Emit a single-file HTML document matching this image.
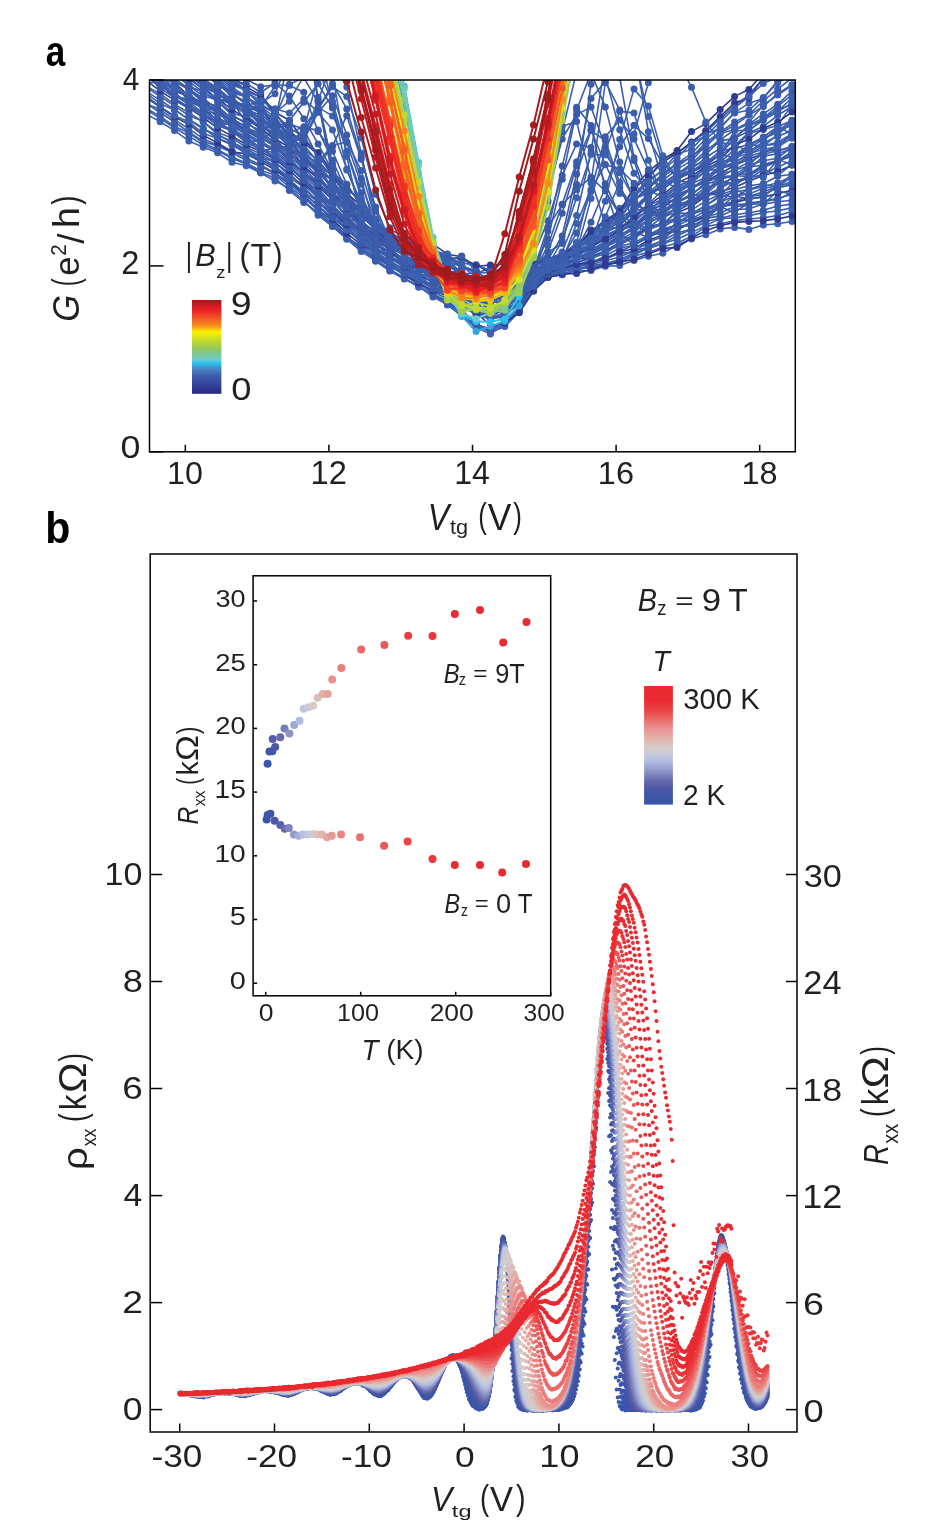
<!DOCTYPE html><html><head><meta charset="utf-8"><style>html,body{margin:0;padding:0;background:#fff}body{width:950px;height:1521px;overflow:hidden}svg{display:block;will-change:transform}text{font-family:"Liberation Sans",sans-serif}</style></head><body><svg width="950" height="1521" viewBox="0 0 950 1521"><rect width="950" height="1521" fill="#fff"/><defs><linearGradient id="gjet" x1="0" y1="1" x2="0" y2="0"><stop offset="0.0" stop-color="#262a7f"/><stop offset="0.1" stop-color="#35449b"/><stop offset="0.18" stop-color="#3b5aa8"/><stop offset="0.26" stop-color="#4b7fc0"/><stop offset="0.33" stop-color="#27c4f3"/><stop offset="0.36" stop-color="#6ccbd0"/><stop offset="0.42" stop-color="#7ac79b"/><stop offset="0.48" stop-color="#93c85a"/><stop offset="0.56" stop-color="#bfd730"/><stop offset="0.66" stop-color="#fff200"/><stop offset="0.72" stop-color="#f7941d"/><stop offset="0.8" stop-color="#f15a24"/><stop offset="0.9" stop-color="#ed1c24"/><stop offset="1.0" stop-color="#9b1b1e"/></linearGradient><linearGradient id="gcw" x1="0" y1="1" x2="0" y2="0"><stop offset="0.0" stop-color="#3a56aa"/><stop offset="0.08" stop-color="#3e56a8"/><stop offset="0.14" stop-color="#5058a6"/><stop offset="0.2" stop-color="#6468ad"/><stop offset="0.28" stop-color="#8e94c7"/><stop offset="0.36" stop-color="#aebbe2"/><stop offset="0.42" stop-color="#c6cadb"/><stop offset="0.48" stop-color="#d6cbc8"/><stop offset="0.56" stop-color="#e2b0a8"/><stop offset="0.64" stop-color="#e99290"/><stop offset="0.72" stop-color="#eb6a68"/><stop offset="0.8" stop-color="#ea4044"/><stop offset="0.88" stop-color="#e92a30"/><stop offset="1.0" stop-color="#e92a30"/></linearGradient><marker id="m0" markerUnits="userSpaceOnUse" markerWidth="72" markerHeight="72" refX="36.0" refY="36.0" overflow="visible"><circle cx="36.0" cy="36.0" r="35.0" fill="#3c60b0"/></marker><marker id="m1" markerUnits="userSpaceOnUse" markerWidth="72" markerHeight="72" refX="36.0" refY="36.0" overflow="visible"><circle cx="36.0" cy="36.0" r="35.0" fill="#3a5ba9"/></marker><marker id="m2" markerUnits="userSpaceOnUse" markerWidth="72" markerHeight="72" refX="36.0" refY="36.0" overflow="visible"><circle cx="36.0" cy="36.0" r="35.0" fill="#2e3b91"/></marker><marker id="m3" markerUnits="userSpaceOnUse" markerWidth="72" markerHeight="72" refX="36.0" refY="36.0" overflow="visible"><circle cx="36.0" cy="36.0" r="35.0" fill="#36a6dd"/></marker><marker id="m4" markerUnits="userSpaceOnUse" markerWidth="72" markerHeight="72" refX="36.0" refY="36.0" overflow="visible"><circle cx="36.0" cy="36.0" r="35.0" fill="#27c4f3"/></marker><marker id="m5" markerUnits="userSpaceOnUse" markerWidth="72" markerHeight="72" refX="36.0" refY="36.0" overflow="visible"><circle cx="36.0" cy="36.0" r="35.0" fill="#6acbd1"/></marker><marker id="m6" markerUnits="userSpaceOnUse" markerWidth="72" markerHeight="72" refX="36.0" refY="36.0" overflow="visible"><circle cx="36.0" cy="36.0" r="35.0" fill="#73c9b7"/></marker><marker id="m7" markerUnits="userSpaceOnUse" markerWidth="72" markerHeight="72" refX="36.0" refY="36.0" overflow="visible"><circle cx="36.0" cy="36.0" r="35.0" fill="#7ac79c"/></marker><marker id="m8" markerUnits="userSpaceOnUse" markerWidth="72" markerHeight="72" refX="36.0" refY="36.0" overflow="visible"><circle cx="36.0" cy="36.0" r="35.0" fill="#86c77d"/></marker><marker id="m9" markerUnits="userSpaceOnUse" markerWidth="72" markerHeight="72" refX="36.0" refY="36.0" overflow="visible"><circle cx="36.0" cy="36.0" r="35.0" fill="#92c85d"/></marker><marker id="m10" markerUnits="userSpaceOnUse" markerWidth="72" markerHeight="72" refX="36.0" refY="36.0" overflow="visible"><circle cx="36.0" cy="36.0" r="35.0" fill="#a2cd4c"/></marker><marker id="m11" markerUnits="userSpaceOnUse" markerWidth="72" markerHeight="72" refX="36.0" refY="36.0" overflow="visible"><circle cx="36.0" cy="36.0" r="35.0" fill="#b2d33c"/></marker><marker id="m12" markerUnits="userSpaceOnUse" markerWidth="72" markerHeight="72" refX="36.0" refY="36.0" overflow="visible"><circle cx="36.0" cy="36.0" r="35.0" fill="#c3d92d"/></marker><marker id="m13" markerUnits="userSpaceOnUse" markerWidth="72" markerHeight="72" refX="36.0" refY="36.0" overflow="visible"><circle cx="36.0" cy="36.0" r="35.0" fill="#d6e11f"/></marker><marker id="m14" markerUnits="userSpaceOnUse" markerWidth="72" markerHeight="72" refX="36.0" refY="36.0" overflow="visible"><circle cx="36.0" cy="36.0" r="35.0" fill="#e9e910"/></marker><marker id="m15" markerUnits="userSpaceOnUse" markerWidth="72" markerHeight="72" refX="36.0" refY="36.0" overflow="visible"><circle cx="36.0" cy="36.0" r="35.0" fill="#fcf102"/></marker><marker id="m16" markerUnits="userSpaceOnUse" markerWidth="72" markerHeight="72" refX="36.0" refY="36.0" overflow="visible"><circle cx="36.0" cy="36.0" r="35.0" fill="#fccb0c"/></marker><marker id="m17" markerUnits="userSpaceOnUse" markerWidth="72" markerHeight="72" refX="36.0" refY="36.0" overflow="visible"><circle cx="36.0" cy="36.0" r="35.0" fill="#fab513"/></marker><marker id="m18" markerUnits="userSpaceOnUse" markerWidth="72" markerHeight="72" refX="36.0" refY="36.0" overflow="visible"><circle cx="36.0" cy="36.0" r="35.0" fill="#f9a717"/></marker><marker id="m19" markerUnits="userSpaceOnUse" markerWidth="72" markerHeight="72" refX="36.0" refY="36.0" overflow="visible"><circle cx="36.0" cy="36.0" r="35.0" fill="#f89a1b"/></marker><marker id="m20" markerUnits="userSpaceOnUse" markerWidth="72" markerHeight="72" refX="36.0" refY="36.0" overflow="visible"><circle cx="36.0" cy="36.0" r="35.0" fill="#f7911d"/></marker><marker id="m21" markerUnits="userSpaceOnUse" markerWidth="72" markerHeight="72" refX="36.0" refY="36.0" overflow="visible"><circle cx="36.0" cy="36.0" r="35.0" fill="#f68a1e"/></marker><marker id="m22" markerUnits="userSpaceOnUse" markerWidth="72" markerHeight="72" refX="36.0" refY="36.0" overflow="visible"><circle cx="36.0" cy="36.0" r="35.0" fill="#f5841f"/></marker><marker id="m23" markerUnits="userSpaceOnUse" markerWidth="72" markerHeight="72" refX="36.0" refY="36.0" overflow="visible"><circle cx="36.0" cy="36.0" r="35.0" fill="#f57e20"/></marker><marker id="m24" markerUnits="userSpaceOnUse" markerWidth="72" markerHeight="72" refX="36.0" refY="36.0" overflow="visible"><circle cx="36.0" cy="36.0" r="35.0" fill="#f47820"/></marker><marker id="m25" markerUnits="userSpaceOnUse" markerWidth="72" markerHeight="72" refX="36.0" refY="36.0" overflow="visible"><circle cx="36.0" cy="36.0" r="35.0" fill="#f37121"/></marker><marker id="m26" markerUnits="userSpaceOnUse" markerWidth="72" markerHeight="72" refX="36.0" refY="36.0" overflow="visible"><circle cx="36.0" cy="36.0" r="35.0" fill="#f36b22"/></marker><marker id="m27" markerUnits="userSpaceOnUse" markerWidth="72" markerHeight="72" refX="36.0" refY="36.0" overflow="visible"><circle cx="36.0" cy="36.0" r="35.0" fill="#f26523"/></marker><marker id="m28" markerUnits="userSpaceOnUse" markerWidth="72" markerHeight="72" refX="36.0" refY="36.0" overflow="visible"><circle cx="36.0" cy="36.0" r="35.0" fill="#f15f23"/></marker><marker id="m29" markerUnits="userSpaceOnUse" markerWidth="72" markerHeight="72" refX="36.0" refY="36.0" overflow="visible"><circle cx="36.0" cy="36.0" r="35.0" fill="#f15924"/></marker><marker id="m30" markerUnits="userSpaceOnUse" markerWidth="72" markerHeight="72" refX="36.0" refY="36.0" overflow="visible"><circle cx="36.0" cy="36.0" r="35.0" fill="#f15324"/></marker><marker id="m31" markerUnits="userSpaceOnUse" markerWidth="72" markerHeight="72" refX="36.0" refY="36.0" overflow="visible"><circle cx="36.0" cy="36.0" r="35.0" fill="#f04e24"/></marker><marker id="m32" markerUnits="userSpaceOnUse" markerWidth="72" markerHeight="72" refX="36.0" refY="36.0" overflow="visible"><circle cx="36.0" cy="36.0" r="35.0" fill="#f04924"/></marker><marker id="m33" markerUnits="userSpaceOnUse" markerWidth="72" markerHeight="72" refX="36.0" refY="36.0" overflow="visible"><circle cx="36.0" cy="36.0" r="35.0" fill="#f04324"/></marker><marker id="m34" markerUnits="userSpaceOnUse" markerWidth="72" markerHeight="72" refX="36.0" refY="36.0" overflow="visible"><circle cx="36.0" cy="36.0" r="35.0" fill="#ef3e24"/></marker><marker id="m35" markerUnits="userSpaceOnUse" markerWidth="72" markerHeight="72" refX="36.0" refY="36.0" overflow="visible"><circle cx="36.0" cy="36.0" r="35.0" fill="#ef3924"/></marker><marker id="m36" markerUnits="userSpaceOnUse" markerWidth="72" markerHeight="72" refX="36.0" refY="36.0" overflow="visible"><circle cx="36.0" cy="36.0" r="35.0" fill="#ef3324"/></marker><marker id="m37" markerUnits="userSpaceOnUse" markerWidth="72" markerHeight="72" refX="36.0" refY="36.0" overflow="visible"><circle cx="36.0" cy="36.0" r="35.0" fill="#ee2e24"/></marker><marker id="m38" markerUnits="userSpaceOnUse" markerWidth="72" markerHeight="72" refX="36.0" refY="36.0" overflow="visible"><circle cx="36.0" cy="36.0" r="35.0" fill="#ee2924"/></marker><marker id="m39" markerUnits="userSpaceOnUse" markerWidth="72" markerHeight="72" refX="36.0" refY="36.0" overflow="visible"><circle cx="36.0" cy="36.0" r="35.0" fill="#ed2324"/></marker><marker id="m40" markerUnits="userSpaceOnUse" markerWidth="72" markerHeight="72" refX="36.0" refY="36.0" overflow="visible"><circle cx="36.0" cy="36.0" r="35.0" fill="#ed1e24"/></marker><marker id="m41" markerUnits="userSpaceOnUse" markerWidth="72" markerHeight="72" refX="36.0" refY="36.0" overflow="visible"><circle cx="36.0" cy="36.0" r="35.0" fill="#e91c24"/></marker><marker id="m42" markerUnits="userSpaceOnUse" markerWidth="72" markerHeight="72" refX="36.0" refY="36.0" overflow="visible"><circle cx="36.0" cy="36.0" r="35.0" fill="#e21c23"/></marker><marker id="m43" markerUnits="userSpaceOnUse" markerWidth="72" markerHeight="72" refX="36.0" refY="36.0" overflow="visible"><circle cx="36.0" cy="36.0" r="35.0" fill="#da1c23"/></marker><marker id="m44" markerUnits="userSpaceOnUse" markerWidth="72" markerHeight="72" refX="36.0" refY="36.0" overflow="visible"><circle cx="36.0" cy="36.0" r="35.0" fill="#d31c22"/></marker><marker id="m45" markerUnits="userSpaceOnUse" markerWidth="72" markerHeight="72" refX="36.0" refY="36.0" overflow="visible"><circle cx="36.0" cy="36.0" r="35.0" fill="#cc1c22"/></marker><marker id="m46" markerUnits="userSpaceOnUse" markerWidth="72" markerHeight="72" refX="36.0" refY="36.0" overflow="visible"><circle cx="36.0" cy="36.0" r="35.0" fill="#c51c21"/></marker><marker id="m47" markerUnits="userSpaceOnUse" markerWidth="72" markerHeight="72" refX="36.0" refY="36.0" overflow="visible"><circle cx="36.0" cy="36.0" r="35.0" fill="#be1b21"/></marker><marker id="m48" markerUnits="userSpaceOnUse" markerWidth="72" markerHeight="72" refX="36.0" refY="36.0" overflow="visible"><circle cx="36.0" cy="36.0" r="35.0" fill="#b71b20"/></marker><marker id="m49" markerUnits="userSpaceOnUse" markerWidth="72" markerHeight="72" refX="36.0" refY="36.0" overflow="visible"><circle cx="36.0" cy="36.0" r="35.0" fill="#b01b20"/></marker><marker id="m50" markerUnits="userSpaceOnUse" markerWidth="72" markerHeight="72" refX="36.0" refY="36.0" overflow="visible"><circle cx="36.0" cy="36.0" r="35.0" fill="#a91b1f"/></marker><marker id="m51" markerUnits="userSpaceOnUse" markerWidth="72" markerHeight="72" refX="36.0" refY="36.0" overflow="visible"><circle cx="36.0" cy="36.0" r="35.0" fill="#a21b1f"/></marker><marker id="m52" markerUnits="userSpaceOnUse" markerWidth="72" markerHeight="72" refX="36.0" refY="36.0" overflow="visible"><circle cx="36.0" cy="36.0" r="35.0" fill="#9b1b1e"/></marker><clipPath id="clipA"><rect x="149.5" y="80.0" width="645.8" height="371.8"/></clipPath><marker id="m53" markerUnits="userSpaceOnUse" markerWidth="42" markerHeight="42" refX="21.0" refY="21.0" overflow="visible"><circle cx="21.0" cy="21.0" r="20.0" fill="#3a56aa"/></marker><marker id="m54" markerUnits="userSpaceOnUse" markerWidth="42" markerHeight="42" refX="21.0" refY="21.0" overflow="visible"><circle cx="21.0" cy="21.0" r="20.0" fill="#3b56aa"/></marker><marker id="m55" markerUnits="userSpaceOnUse" markerWidth="42" markerHeight="42" refX="21.0" refY="21.0" overflow="visible"><circle cx="21.0" cy="21.0" r="20.0" fill="#3b56a9"/></marker><marker id="m56" markerUnits="userSpaceOnUse" markerWidth="42" markerHeight="42" refX="21.0" refY="21.0" overflow="visible"><circle cx="21.0" cy="21.0" r="20.0" fill="#3c56a9"/></marker><marker id="m57" markerUnits="userSpaceOnUse" markerWidth="42" markerHeight="42" refX="21.0" refY="21.0" overflow="visible"><circle cx="21.0" cy="21.0" r="20.0" fill="#3d56a9"/></marker><marker id="m58" markerUnits="userSpaceOnUse" markerWidth="42" markerHeight="42" refX="21.0" refY="21.0" overflow="visible"><circle cx="21.0" cy="21.0" r="20.0" fill="#3d56a8"/></marker><marker id="m59" markerUnits="userSpaceOnUse" markerWidth="42" markerHeight="42" refX="21.0" refY="21.0" overflow="visible"><circle cx="21.0" cy="21.0" r="20.0" fill="#3e56a8"/></marker><marker id="m60" markerUnits="userSpaceOnUse" markerWidth="42" markerHeight="42" refX="21.0" refY="21.0" overflow="visible"><circle cx="21.0" cy="21.0" r="20.0" fill="#4256a8"/></marker><marker id="m61" markerUnits="userSpaceOnUse" markerWidth="42" markerHeight="42" refX="21.0" refY="21.0" overflow="visible"><circle cx="21.0" cy="21.0" r="20.0" fill="#4657a7"/></marker><marker id="m62" markerUnits="userSpaceOnUse" markerWidth="42" markerHeight="42" refX="21.0" refY="21.0" overflow="visible"><circle cx="21.0" cy="21.0" r="20.0" fill="#4a57a7"/></marker><marker id="m63" markerUnits="userSpaceOnUse" markerWidth="42" markerHeight="42" refX="21.0" refY="21.0" overflow="visible"><circle cx="21.0" cy="21.0" r="20.0" fill="#4e58a6"/></marker><marker id="m64" markerUnits="userSpaceOnUse" markerWidth="42" markerHeight="42" refX="21.0" refY="21.0" overflow="visible"><circle cx="21.0" cy="21.0" r="20.0" fill="#525aa7"/></marker><marker id="m65" markerUnits="userSpaceOnUse" markerWidth="42" markerHeight="42" refX="21.0" refY="21.0" overflow="visible"><circle cx="21.0" cy="21.0" r="20.0" fill="#575da8"/></marker><marker id="m66" markerUnits="userSpaceOnUse" markerWidth="42" markerHeight="42" refX="21.0" refY="21.0" overflow="visible"><circle cx="21.0" cy="21.0" r="20.0" fill="#5b61aa"/></marker><marker id="m67" markerUnits="userSpaceOnUse" markerWidth="42" markerHeight="42" refX="21.0" refY="21.0" overflow="visible"><circle cx="21.0" cy="21.0" r="20.0" fill="#6064ab"/></marker><marker id="m68" markerUnits="userSpaceOnUse" markerWidth="42" markerHeight="42" refX="21.0" refY="21.0" overflow="visible"><circle cx="21.0" cy="21.0" r="20.0" fill="#6468ad"/></marker><marker id="m69" markerUnits="userSpaceOnUse" markerWidth="42" markerHeight="42" refX="21.0" refY="21.0" overflow="visible"><circle cx="21.0" cy="21.0" r="20.0" fill="#6b6fb1"/></marker><marker id="m70" markerUnits="userSpaceOnUse" markerWidth="42" markerHeight="42" refX="21.0" refY="21.0" overflow="visible"><circle cx="21.0" cy="21.0" r="20.0" fill="#7277b6"/></marker><marker id="m71" markerUnits="userSpaceOnUse" markerWidth="42" markerHeight="42" refX="21.0" refY="21.0" overflow="visible"><circle cx="21.0" cy="21.0" r="20.0" fill="#797eba"/></marker><marker id="m72" markerUnits="userSpaceOnUse" markerWidth="42" markerHeight="42" refX="21.0" refY="21.0" overflow="visible"><circle cx="21.0" cy="21.0" r="20.0" fill="#8085be"/></marker><marker id="m73" markerUnits="userSpaceOnUse" markerWidth="42" markerHeight="42" refX="21.0" refY="21.0" overflow="visible"><circle cx="21.0" cy="21.0" r="20.0" fill="#878dc3"/></marker><marker id="m74" markerUnits="userSpaceOnUse" markerWidth="42" markerHeight="42" refX="21.0" refY="21.0" overflow="visible"><circle cx="21.0" cy="21.0" r="20.0" fill="#8e94c7"/></marker><marker id="m75" markerUnits="userSpaceOnUse" markerWidth="42" markerHeight="42" refX="21.0" refY="21.0" overflow="visible"><circle cx="21.0" cy="21.0" r="20.0" fill="#939acb"/></marker><marker id="m76" markerUnits="userSpaceOnUse" markerWidth="42" markerHeight="42" refX="21.0" refY="21.0" overflow="visible"><circle cx="21.0" cy="21.0" r="20.0" fill="#99a1d0"/></marker><marker id="m77" markerUnits="userSpaceOnUse" markerWidth="42" markerHeight="42" refX="21.0" refY="21.0" overflow="visible"><circle cx="21.0" cy="21.0" r="20.0" fill="#9ea8d4"/></marker><marker id="m78" markerUnits="userSpaceOnUse" markerWidth="42" markerHeight="42" refX="21.0" refY="21.0" overflow="visible"><circle cx="21.0" cy="21.0" r="20.0" fill="#a3aed9"/></marker><marker id="m79" markerUnits="userSpaceOnUse" markerWidth="42" markerHeight="42" refX="21.0" refY="21.0" overflow="visible"><circle cx="21.0" cy="21.0" r="20.0" fill="#a9b5de"/></marker><marker id="m80" markerUnits="userSpaceOnUse" markerWidth="42" markerHeight="42" refX="21.0" refY="21.0" overflow="visible"><circle cx="21.0" cy="21.0" r="20.0" fill="#aebbe2"/></marker><marker id="m81" markerUnits="userSpaceOnUse" markerWidth="42" markerHeight="42" refX="21.0" refY="21.0" overflow="visible"><circle cx="21.0" cy="21.0" r="20.0" fill="#b3bee0"/></marker><marker id="m82" markerUnits="userSpaceOnUse" markerWidth="42" markerHeight="42" refX="21.0" refY="21.0" overflow="visible"><circle cx="21.0" cy="21.0" r="20.0" fill="#b9c2df"/></marker><marker id="m83" markerUnits="userSpaceOnUse" markerWidth="42" markerHeight="42" refX="21.0" refY="21.0" overflow="visible"><circle cx="21.0" cy="21.0" r="20.0" fill="#bec5dd"/></marker><marker id="m84" markerUnits="userSpaceOnUse" markerWidth="42" markerHeight="42" refX="21.0" refY="21.0" overflow="visible"><circle cx="21.0" cy="21.0" r="20.0" fill="#c3c8dc"/></marker><marker id="m85" markerUnits="userSpaceOnUse" markerWidth="42" markerHeight="42" refX="21.0" refY="21.0" overflow="visible"><circle cx="21.0" cy="21.0" r="20.0" fill="#c8cad9"/></marker><marker id="m86" markerUnits="userSpaceOnUse" markerWidth="42" markerHeight="42" refX="21.0" refY="21.0" overflow="visible"><circle cx="21.0" cy="21.0" r="20.0" fill="#cbcad5"/></marker><marker id="m87" markerUnits="userSpaceOnUse" markerWidth="42" markerHeight="42" refX="21.0" refY="21.0" overflow="visible"><circle cx="21.0" cy="21.0" r="20.0" fill="#cfcbd0"/></marker><marker id="m88" markerUnits="userSpaceOnUse" markerWidth="42" markerHeight="42" refX="21.0" refY="21.0" overflow="visible"><circle cx="21.0" cy="21.0" r="20.0" fill="#d2cbcc"/></marker><marker id="m89" markerUnits="userSpaceOnUse" markerWidth="42" markerHeight="42" refX="21.0" refY="21.0" overflow="visible"><circle cx="21.0" cy="21.0" r="20.0" fill="#d6cbc8"/></marker><marker id="m90" markerUnits="userSpaceOnUse" markerWidth="42" markerHeight="42" refX="21.0" refY="21.0" overflow="visible"><circle cx="21.0" cy="21.0" r="20.0" fill="#dcbeb8"/></marker><marker id="m91" markerUnits="userSpaceOnUse" markerWidth="42" markerHeight="42" refX="21.0" refY="21.0" overflow="visible"><circle cx="21.0" cy="21.0" r="20.0" fill="#e2b0a8"/></marker><marker id="m92" markerUnits="userSpaceOnUse" markerWidth="42" markerHeight="42" refX="21.0" refY="21.0" overflow="visible"><circle cx="21.0" cy="21.0" r="20.0" fill="#e6a19c"/></marker><marker id="m93" markerUnits="userSpaceOnUse" markerWidth="42" markerHeight="42" refX="21.0" refY="21.0" overflow="visible"><circle cx="21.0" cy="21.0" r="20.0" fill="#e99290"/></marker><marker id="m94" markerUnits="userSpaceOnUse" markerWidth="42" markerHeight="42" refX="21.0" refY="21.0" overflow="visible"><circle cx="21.0" cy="21.0" r="20.0" fill="#ea7e7c"/></marker><marker id="m95" markerUnits="userSpaceOnUse" markerWidth="42" markerHeight="42" refX="21.0" refY="21.0" overflow="visible"><circle cx="21.0" cy="21.0" r="20.0" fill="#eb6a68"/></marker><marker id="m96" markerUnits="userSpaceOnUse" markerWidth="42" markerHeight="42" refX="21.0" refY="21.0" overflow="visible"><circle cx="21.0" cy="21.0" r="20.0" fill="#ea5556"/></marker><marker id="m97" markerUnits="userSpaceOnUse" markerWidth="42" markerHeight="42" refX="21.0" refY="21.0" overflow="visible"><circle cx="21.0" cy="21.0" r="20.0" fill="#ea4044"/></marker><marker id="m98" markerUnits="userSpaceOnUse" markerWidth="42" markerHeight="42" refX="21.0" refY="21.0" overflow="visible"><circle cx="21.0" cy="21.0" r="20.0" fill="#ea353a"/></marker><marker id="m99" markerUnits="userSpaceOnUse" markerWidth="42" markerHeight="42" refX="21.0" refY="21.0" overflow="visible"><circle cx="21.0" cy="21.0" r="20.0" fill="#e92a30"/></marker></defs><g clip-path="url(#clipA)"><g transform="scale(0.1)"><path d="M1315 1065l143 73l144 79l143 89l144 103l143 63l144 56l144 95l143 35l144 72l143 81l144 70l144 128l143 143l144 113l143 127l144 122l144 93l143 104l144 79l143 73l144 106l144 80l143 113l144 111l143 66l144-97l144-149l143-211l144-137l143-9l144-34l144-41l143-3l144-59l143-52l144-66l144-47l143-42l144-66l143-70l144-70l144-7l143-23l144-29l144-20l143-28l144-21l143-46" stroke="#3c60b0" stroke-width="16" fill="none" stroke-linejoin="round" marker-start="url(#m0)" marker-mid="url(#m0)" marker-end="url(#m0)"/><path d="M1315 1034l143 60l144 88l143 98l144 81l143 90l144 56l144 77l143 55l144 87l143 55l144 124l144 120l143 101l144 135l143 122l144 90l144 140l143 94l144 77l143 78l144 89l144 89l143 93l144 114l143 62l144-103l144-141l143-176l144-143l143-26l144-53l144-22l143-37l144-39l143-60l144-36l144-68l143-75l144-40l143-106l144-25l144-62l143-10l144-46l144-23l143-16l144-69l143-41" stroke="#3a5ba9" stroke-width="16" fill="none" stroke-linejoin="round" marker-start="url(#m1)" marker-mid="url(#m1)" marker-end="url(#m1)"/><path d="M1315 999l143 82l144 83l143 100l144 64l143 100l144 68l144 75l143 61l144 74l143 45l144 118l144 104l143 133l144 138l143 131l144 119l144 98l143 101l144 86l143 94l144 73l144 58l143 133l144 127l143 52l144-89l144-107l143-218l144-132l143-23l144-55l144-14l143-30l144-29l143-59l144-36l144-55l143-40l144-64l143-99l144-26l144-34l143-16l144-13l144-22l143-39l144-18l143-32" stroke="#3c60b0" stroke-width="16" fill="none" stroke-linejoin="round" marker-start="url(#m0)" marker-mid="url(#m0)" marker-end="url(#m0)"/><path d="M1315 967l143 67l144 91l143 95l144 102l143 92l144 46l144 66l143 79l144 58l143 75l144 102l144 116l143 140l144 106l143 171l144 91l144 111l143 92l144 74l143 85l144 112l144 94l143 71l144 139l143 48l144-87l144-106l143-187l144-160l143-35l144-26l144-32l143-24l144-36l143-68l144-45l144-47l143-82l144-61l143-76l144-35l144-35l143-20l144-26l144-42l143-19l144-49l143-36" stroke="#3a5ba9" stroke-width="16" fill="none" stroke-linejoin="round" marker-start="url(#m1)" marker-mid="url(#m1)" marker-end="url(#m1)"/><path d="M1315 914l143 121l144 60l143 103l144 91l143 98l144 66l144 55l143 75l144 66l143 83l144 88l144 131l143 148l144 115l143 151l144 134l144 77l143 77l144 100l143 93l144 76l144 63l143 115l144 131l143 93l144-58l144-149l143-209l144-139l143-21l144-38l144-4l143-44l144-6l143-51l144-43l144-30l143-82l144-60l143-43l144-58l144-15l143 20l144-44l144-13l143-22l144-10l143-34" stroke="#3c60b0" stroke-width="16" fill="none" stroke-linejoin="round" marker-start="url(#m0)" marker-mid="url(#m0)" marker-end="url(#m0)"/><path d="M1315 909l143 65l144 98l143 98l144 72l143 111l144 76l144 89l143 21l144 77l143 81l144 109l144 127l143 123l144 139l143 137l144 118l144 89l143 110l144 94l143 86l144 78l144 53l143 104l144 82l143-14l144-104l144-125l143-138l144-69l143-51l144-61l144-73l143-50l144-104l143-89l144-123l144-70l143-101l144-98l143-64l144-77l144-80l143-64l144-53l144-89l143-93l144-43l143-77" stroke="#2e3b91" stroke-width="16" fill="none" stroke-linejoin="round" marker-start="url(#m2)" marker-mid="url(#m2)" marker-end="url(#m2)"/><path d="M1315 890l143 66l144 110l143 92l144 60l143 115l144 52l144 65l143 86l144 65l143 63l144 136l144 126l143 136l144 114l143 119l144 130l144 136l143 97l144 80l143 67l144 84l144 74l143 82l144 61l143-69l144-141l144-93l143-94l144-80l143-37l144-71l144-68l143-123l144-76l143-132l144-157l144-111l143-86l144-75l143-118l144-92l144-109l143-113l144-63l144-79l143-90l144-112l143-96" stroke="#3c60b0" stroke-width="16" fill="none" stroke-linejoin="round" marker-start="url(#m0)" marker-mid="url(#m0)" marker-end="url(#m0)"/><path d="M1315 862l143 68l144 107l143 62l144 95l143 86l144 103l144 58l143 79l144 74l143 83l144 121l144 124l143 94l144 148l143 135l144 112l144 151l143 85l144 71l143 74l144 87l144 60l143 99l144 91l143-26l144-135l144-99l143-80l144-126l143-40l144-76l144-50l143-79l144-80l143-156l144-68l144-122l143-55l144-100l143-65l144-103l144-94l143-41l144-106l144-64l143-58l144-88l143-82" stroke="#3a5ba9" stroke-width="16" fill="none" stroke-linejoin="round" marker-start="url(#m1)" marker-mid="url(#m1)" marker-end="url(#m1)"/><path d="M1315 815l143 95l144 94l143 88l144 106l143 91l144 63l144 61l143 106l144 49l143 95l144 113l144 96l143 147l144 105l143 176l144 108l144 121l143 107l144 65l143 88l144 64l144 90l143 109l144 91l143 52l144-79l144-91l143-179l144-89l143-77l144-15l144-33l143-74l144-76l143-29l144-77l144-74l143-59l144-97l143-59l144-64l144-64l143-20l144-57l144-22l143-43l144-39l143-105" stroke="#3c60b0" stroke-width="16" fill="none" stroke-linejoin="round" marker-start="url(#m0)" marker-mid="url(#m0)" marker-end="url(#m0)"/><path d="M1315 789l143 80l144 95l143 94l144 97l143 61l144 127l144 83l143 64l144 78l143 55l144 109l144 150l143 134l144 121l143 117l144 189l144 64l143 123l144 53l143 108l144 63l144 97l143 86l144 75l143 74l144-39l144-111l143-156l144-139l143-46l144-38l144-40l143-30l144-72l143-65l144-87l144-74l143-34l144-64l143-86l144-52l144-40l143-47l144-22l144-64l143-33l144-50l143-42" stroke="#3a5ba9" stroke-width="16" fill="none" stroke-linejoin="round" marker-start="url(#m1)" marker-mid="url(#m1)" marker-end="url(#m1)"/><path d="M1315 765l143 93l144 81l143 102l144 85l143 93l144 106l144 55l143 94l144 63l143 83l144 139l144 91l143 128l144 141l143 148l144 128l144 124l143 89l144 88l143 66l144 94l144 55l143 88l144 90l143 24l144-95l144-68l143-166l144-88l143-48l144-58l144-47l143-73l144-94l143-88l144-89l144-60l143-111l144-93l143-84l144-64l144-36l143-100l144-43l144-26l143-112l144-39l143-73" stroke="#3c60b0" stroke-width="16" fill="none" stroke-linejoin="round" marker-start="url(#m0)" marker-mid="url(#m0)" marker-end="url(#m0)"/><path d="M1315 730l143 69l144 112l143 91l144 80l143 93l144 106l144 80l143 86l144 69l143 76l144 113l144 128l143 120l144 157l143 137l144 121l144 118l143 94l144 92l143 83l144 66l144 94l143 105l144 106l143 129l144-25l144-102l143-218l144-136l143-33l144-6l144-43l143-41l144-30l143-29l144-52l144-56l143-9l144-95l143-74l144-48l144-34l143-10l144-6l144-19l143-29l144-10l143-34" stroke="#2e3b91" stroke-width="16" fill="none" stroke-linejoin="round" marker-start="url(#m2)" marker-mid="url(#m2)" marker-end="url(#m2)"/><path d="M1315 678l143 74l144 129l143 98l144 94l143 73l144 110l144 55l143 116l144 63l143 91l144 98l144 122l143 172l144 129l143 125l144 148l144 132l143 58l144 92l143 75l144 88l144 51l143 108l144 74l143 83l144-59l144-121l143-130l144-124l143-38l144-30l144-71l143-52l144-92l143-55l144-87l144-107l143-90l144-75l143-50l144-73l144-77l143-25l144-37l144-73l143-63l144-38l143-49" stroke="#3c60b0" stroke-width="16" fill="none" stroke-linejoin="round" marker-start="url(#m0)" marker-mid="url(#m0)" marker-end="url(#m0)"/><path d="M1315 682l143 64l144 115l143 91l144 95l143 87l144 103l144 69l143 95l144 71l143 101l144 85l144 144l143 141l144 134l143 145l144 120l144 151l143 93l144 73l143 34l144 94l144 90l143 80l144 100l143 132l144-26l144-134l143-169l144-125l143-23l144-68l144-31l143-25l144-52l143-20l144-98l144-49l143-68l144-74l143-58l144-38l144-65l143-15l144-37l144-30l143-41l144-13l143-90" stroke="#3a5ba9" stroke-width="16" fill="none" stroke-linejoin="round" marker-start="url(#m1)" marker-mid="url(#m1)" marker-end="url(#m1)"/><path d="M1315 627l143 79l144 81l143 135l144 132l143 79l144 96l144 71l143 66l144 116l143 52l144 149l144 97l143 139l144 143l143 145l144 142l144 122l143 119l144 54l143 40l144 68l144 85l143 92l144 103l143-16l144-41l144-90l143-112l144-88l143-41l144-69l144-54l143-88l144-135l143-59l144-101l144-108l143-87l144-56l143-105l144-103l144-60l143-67l144-95l144-33l143-88l144-67l143-113" stroke="#3c60b0" stroke-width="16" fill="none" stroke-linejoin="round" marker-start="url(#m0)" marker-mid="url(#m0)" marker-end="url(#m0)"/><path d="M1315 636l143 72l144 95l143 80l144 103l143 81l144 145l144 43l143 97l144 86l143 74l144 143l144 151l143 102l144 161l143 134l144 118l144 122l143 79l144 114l143 97l144 55l144 75l143 83l144 41l143 27l144-49l144-132l143-86l144-80l143-48l144-79l144-70l143-105l144-82l143-111l144-113l144-69l143-113l144-90l143-102l144-60l144-134l143-51l144-55l144-73l143-109l144-88l143-76" stroke="#3a5ba9" stroke-width="16" fill="none" stroke-linejoin="round" marker-start="url(#m1)" marker-mid="url(#m1)" marker-end="url(#m1)"/><path d="M1315 569l143 110l144 76l143 126l144 90l143 78l144 64l144 151l143 69l144 88l143 67l144 154l144 119l143 125l144 159l143 150l144 129l144 153l143 89l144 63l143 62l144 75l144 100l143 57l144 63l143 49l144-37l144-75l143-152l144-65l143-37l144-66l144-107l143-47l144-100l143-64l144-123l144-61l143-89l144-133l143-56l144-55l144-74l143-71l144-80l144-35l143-46l144-98l143-79" stroke="#3c60b0" stroke-width="16" fill="none" stroke-linejoin="round" marker-start="url(#m0)" marker-mid="url(#m0)" marker-end="url(#m0)"/><path d="M1315 538l143 78l144 116l143 95l144 135l143 65l144 74l144 109l143 89l144 84l143 71l144 165l144 118l143 125l144 138l143 171l144 127l144 133l143 96l144 85l143 89l144 49l144 57l143 113l144 91l143 67l144 3l144-116l143-127l144-139l143-64l144-42l144-15l143-72l144-58l143-77l144-105l144-29l143-110l144-60l143-105l144-48l144-38l143-65l144-56l144-40l143-62l144-40l143-33" stroke="#2e3b91" stroke-width="16" fill="none" stroke-linejoin="round" marker-start="url(#m2)" marker-mid="url(#m2)" marker-end="url(#m2)"/><path d="M1315 494l143 102l144 110l143 106l144 87l143 125l144 100l144 80l143 57l144 128l143 55l144 153l144 141l143 93l144 168l143 174l144 124l144 103l143 97l144 109l143 57l144 62l144 94l143 63l144 104l143 84l144-29l144-99l143-137l144-87l143-48l144-78l144-42l143-74l144-79l143-73l144-117l144-27l143-104l144-61l143-121l144-70l144 6l143-72l144-83l144-60l143-60l144-48l143-74" stroke="#3c60b0" stroke-width="16" fill="none" stroke-linejoin="round" marker-start="url(#m0)" marker-mid="url(#m0)" marker-end="url(#m0)"/><path d="M1315 468l143 112l144 84l143 158l144 58l143 128l144 65l144 109l143 93l144 64l143 122l144 122l144 144l143 111l144 136l143 146l144 161l144 107l143 119l144 82l143 60l144 59l144 92l143 80l144 106l143 96l144 4l144-123l143-128l144-121l143-22l144-64l144-49l143-41l144-105l143-47l144-100l144-61l143-43l144-81l143-93l144-60l144-50l143-40l144-21l144-74l143-20l144-96l143-38" stroke="#3a5ba9" stroke-width="16" fill="none" stroke-linejoin="round" marker-start="url(#m1)" marker-mid="url(#m1)" marker-end="url(#m1)"/><path d="M1315 460l143 93l144 95l143 133l144 110l143 91l144 114l144 75l143 43l144 127l143 76l144 155l144 108l143 147l144 141l143 145l144 126l144 152l143 104l144 97l143 46l144 79l144 51l143 96l144 83l143 169l144-29l144-110l143-136l144-102l143-51l144-25l144-70l143-87l144-42l143-36l144-77l144-79l143-89l144-47l143-80l144-89l144-47l143-24l144-30l144-39l143-63l144-27l143-100" stroke="#3c60b0" stroke-width="16" fill="none" stroke-linejoin="round" marker-start="url(#m0)" marker-mid="url(#m0)" marker-end="url(#m0)"/><path d="M1315 431l143 79l144 75l143 121l144 155l143 61l144 94l144 132l143 89l144 69l143 136l144 61l144 215l143 111l144 129l143 155l144 138l144 126l143 113l144 52l143 138l144 20l144 79l143 48l144 50l143 10l144-73l144-88l143-50l144-25l143-114l144-93l144-26l143-141l144-166l143-102l144-127l144-115l143-99l144-108l143-97l144-132l144-78l143-101l144-88l144-128l143-89l144-123l143-135" stroke="#3a5ba9" stroke-width="16" fill="none" stroke-linejoin="round" marker-start="url(#m1)" marker-mid="url(#m1)" marker-end="url(#m1)"/><path d="M1315 380l143 100l144 108l143 114l144 111l143 108l144 79l144 133l143 36l144 114l143 122l144 121l144 140l143 121l144 165l143 119l144 187l144 161l143 71l144 106l143 29l144 41l144 73l143 113l144 67l143-2l144 0l144-64l143-123l144-103l143-28l144-43l144-82l143-86l144-69l143-98l144-133l144-79l143-107l144-93l143-139l144-21l144-92l143-74l144-89l144-91l143-48l144-76l143-67" stroke="#3c60b0" stroke-width="16" fill="none" stroke-linejoin="round" marker-start="url(#m0)" marker-mid="url(#m0)" marker-end="url(#m0)"/><path d="M1315 370l143 84l144 113l143 123l144 99l143 100l144 96l144 111l143 83l144 111l143 97l144 88l144 192l143 112l144 140l143 167l144 155l144 121l143 103l144 80l143 94l144 39l144 76l143 77l144 111l143 140l144 21l144-69l143-189l144-122l143-40l144-39l144-16l143-42l144-68l143-30l144-86l144-53l143-64l144-52l143-86l144-71l144-52l143-35l144-18l144-36l143-31l144-60l143-36" stroke="#2e3b91" stroke-width="16" fill="none" stroke-linejoin="round" marker-start="url(#m2)" marker-mid="url(#m2)" marker-end="url(#m2)"/><path d="M1315 315l143 86l144 139l143 135l144 98l143 117l144 100l144 52l143 107l144 122l143 69l144 118l144 167l143 146l144 142l143 149l144 144l144 123l143 103l144 79l143 65l144 75l144 103l143 49l144 91l143 112l144-21l144-52l143-119l144-136l143-32l144-46l144-73l143-67l144-64l143-37l144-123l144-88l143-67l144-103l143-103l144-44l144-49l143-115l144-13l144-47l143-89l144-69l143-47" stroke="#3c60b0" stroke-width="16" fill="none" stroke-linejoin="round" marker-start="url(#m0)" marker-mid="url(#m0)" marker-end="url(#m0)"/><path d="M1315 278l143 136l144 117l143 86l144 96l143 140l144 84l144 108l143 24l144 170l143 63l144 162l144 141l143 122l144 145l143 153l144 173l144 154l143 103l144 55l143 66l144 43l144 83l143 50l144 53l143 57l144 3l144-61l143-66l144-123l143-1l144-128l144-80l143-123l144-95l143-103l144-127l144-122l143-102l144-81l143-112l144-135l144-20l143-137l144-68l144-120l143-113l144-79l143-120" stroke="#3a5ba9" stroke-width="16" fill="none" stroke-linejoin="round" marker-start="url(#m1)" marker-mid="url(#m1)" marker-end="url(#m1)"/><path d="M1315 302l143 46l144 148l143 83l144 121l143 173l144 64l144 78l143 60l144 121l143 113l144 168l144 76l143 133l144 191l143 168l144 185l144 77l143 64l144 123l143 54l144 77l144 94l143 7l144 107l143-23l144-57l144-59l143-36l144-39l143-33l144-80l144-140l143-93l144-112l143-145l144-163l144-98l143-121l144-98l143-148l144-114l144-144l143-28l144-128l144-147l143-86l144-111l143-162" stroke="#3c60b0" stroke-width="16" fill="none" stroke-linejoin="round" marker-start="url(#m0)" marker-mid="url(#m0)" marker-end="url(#m0)"/><path d="M1315 242l143 128l144 114l143 74l144 113l143 148l144 99l144 68l143 90l144 121l143 85l144 133l144 194l143 109l144 135l143 186l144 190l144 94l143 82l144 59l143 151l144-48l144 143l143 17l144 65l143 56l144 3l144-24l143-121l144-31l143-13l144-197l144-41l143-117l144-44l143-174l144-126l144-109l143-61l144-68l143-121l144-49l144-100l143-128l144-63l144-109l143-93l144-140l143-81" stroke="#3a5ba9" stroke-width="16" fill="none" stroke-linejoin="round" marker-start="url(#m1)" marker-mid="url(#m1)" marker-end="url(#m1)"/><path d="M1315 205l143 83l144 155l143 103l144 85l143 159l144 88l144 126l143 61l144 61l143 167l144 112l144 167l143 149l144 154l143 105l144 136l144 179l143 132l144 46l143 88l144 34l144 70l143 64l144 67l143 89l144-11l144-24l143-112l144-43l143-81l144-57l144-109l143-97l144-61l143-131l144-117l144-145l143-115l144-75l143-70l144-132l144-20l143-151l144-38l144-40l143-209l144-67l143-35" stroke="#3c60b0" stroke-width="16" fill="none" stroke-linejoin="round" marker-start="url(#m0)" marker-mid="url(#m0)" marker-end="url(#m0)"/><path d="M1315 170l143 120l144 105l143 148l144 96l143 88l144 116l144 84l143 118l144 46l143 183l144 113l144 190l143 129l144 98l143 214l144 127l144 151l143 127l144 62l143 69l144 57l144 31l143 66l144 104l143 82l144-24l144-44l143-113l144-102l143-14l144-52l144-81l143-71l144-99l143-112l144-129l144-105l143-117l144-68l143-100l144-68l144-145l143-57l144-109l144-63l143-101l144-51l143-110" stroke="#2e3b91" stroke-width="16" fill="none" stroke-linejoin="round" marker-start="url(#m2)" marker-mid="url(#m2)" marker-end="url(#m2)"/><path d="M1315 76l143 210l144 54l143 102l144 145l143 106l144 100l144 154l143 68l144 128l143 113l144 134l144 133l143 137l144 146l143 214l144 74l144 160l143 117l144 105l143 57l144 41l144 58l143 109l144-13l143-40l144 93l144-107l143-24l144-24l143-98l144-29l144-146l143-146l144-87l143-142l144-162l144-118l143-161l144-43l143-154l144-57l144-159l143-91l144-49l144-179l143-88l144-133l143-168" stroke="#3c60b0" stroke-width="16" fill="none" stroke-linejoin="round" marker-start="url(#m0)" marker-mid="url(#m0)" marker-end="url(#m0)"/><path d="M1315 141l143 113l144 50l143 149l144 78l143 147l144 145l144 86l143 63l144 105l143 143l144 136l144 149l143 158l144 90l143 217l144 191l144 124l143 75l144 79l143 84l144 70l144 36l143 100l144 46l143-22l144 19l144-58l143-71l144-27l143-43l144-144l144-69l143-81l144-151l143-133l144-109l144-150l143-102l144-56l143-152l144-104l144-101l143-73l144-140l144-116l143-113l144-78l143-159" stroke="#3a5ba9" stroke-width="16" fill="none" stroke-linejoin="round" marker-start="url(#m1)" marker-mid="url(#m1)" marker-end="url(#m1)"/><path d="M1315 114l143 89l144 75l143 169l144 111l143 75l144 153l144 107l143 83l144 77l143 207l144 101l144 151l143 149l144 149l143 169l144 132l144 174l143 80l144 69l143 93l144 33l144 13l143 86l144 69l143-2l144-1l144-59l143-45l144 15l143-78l144-133l144-76l143-136l144-103l143-160l144-163l144-206l143-49l144-105l143-110l144-125l144-136l143-105l144-167l144-72l143-152l144-92l143-132" stroke="#3c60b0" stroke-width="16" fill="none" stroke-linejoin="round" marker-start="url(#m0)" marker-mid="url(#m0)" marker-end="url(#m0)"/><path d="M1315 86l143 85l144 115l143 121l144 162l143 46l144 147l144 111l143 94l144 99l143 107l144 179l144 139l143 118l144 160l143 183l144 169l144 149l143 89l144 46l143 116l144-7l144 69l143 87l144 37l143 116l144 14l144-47l143-83l144-54l143-51l144-98l144-44l143-163l144-69l143-149l144-138l144-100l143-97l144-108l143-125l144-115l144-96l143-59l144-102l144-96l143-133l144-43l143-182" stroke="#3a5ba9" stroke-width="16" fill="none" stroke-linejoin="round" marker-start="url(#m1)" marker-mid="url(#m1)" marker-end="url(#m1)"/><path d="M1315 56l143 101l144 91l143 101l144 134l143 102l144 140l144 85l143 99l144 133l143 87l144 171l144 150l143 173l144 142l143 145l144 217l144 97l143 115l144 77l143 122l144 3l144 33l143 89l144 43l143 121l144-64l144 0l143-95l144 18l143-119l144-62l144-126l143-61l144-124l143-204l144-61l144-124l143-114l144-82l143-157l144-116l144-40l143-74l144-171l144-100l143-96l144-114l143-57" stroke="#3c60b0" stroke-width="16" fill="none" stroke-linejoin="round" marker-start="url(#m0)" marker-mid="url(#m0)" marker-end="url(#m0)"/><path d="M1315 56l143 90l144 120l143 54l144 163l143 41l144 178l144 133l143 61l144 75l143 161l144 187l144 107l143 121l144 209l143 180l144 119l144 170l143 141l144 56l143 71l144 25l144 54l143 20l144 55l143 83l144-62l144-33l143-12l144-41l143-20l144-90l144-171l143-68l144-108l143-243l144-111l144-151l143-88l144-111l143-116l144-139l144-138l143-48l144-204l144-70l143-127l144-172l143-106" stroke="#2e3b91" stroke-width="16" fill="none" stroke-linejoin="round" marker-start="url(#m2)" marker-mid="url(#m2)" marker-end="url(#m2)"/><path d="M1315 56l143 0l144 166l143 90l144 121l143 89l144 170l144 76l143 148l144 54l143 177l144 132l144 90l143 191l144 165l143 117l144 219l144 178l143 67l144 126l143-1l144 50l144 96l143 51l144 28l143 44l144 30l144-62l143 37l144-75l143-61l144-100l144-130l143-76l144-180l143-130l144-140l144-115l143-118l144-147l143-75l144-140l144-139l143-114l144-129l144-67l143-97l144-175l143-102" stroke="#3c60b0" stroke-width="16" fill="none" stroke-linejoin="round" marker-start="url(#m0)" marker-mid="url(#m0)" marker-end="url(#m0)"/><path d="M1315 56l143 0l144 82l143 130l144 124l143 129l144 124l144 121l143 103l144 82l143 171l144 81l144 202l143 120l144 191l143 178l144 107l144 214l143 136l144 58l143 49l144-17l144 101l143 26l144 95l143-12l144-11l144-45l143 52l144-58l143-55l144-67l144-151l143-117l144-83l143-243l144-159l144-115l143-94l144-189l143-80l144-140l144-132l143-69l144-161l144-96l143-132l144-127l143-132" stroke="#2e3b91" stroke-width="16" fill="none" stroke-linejoin="round" marker-start="url(#m2)" marker-mid="url(#m2)" marker-end="url(#m2)"/><path d="M1315 124l143 85l144 166l143 101l144 97l143 90l144 133l144 135l143 34l144 146l143 107l144 109l144-59l143-194l144 85l143 265l144 419l144 365l143 145l144 138l143-26l144 64l144 89l143 140l144 73l143 52l144 11l144-5l143-162l144-72l143-247l144-431l144-432l143 3l144 179l143 259l144 180l144-27l143-134l144-46l143-23l144-196l144-41l143-39l144-159l144 8l143-35l144-102l143-30" stroke="#3c60b0" stroke-width="16" fill="none" stroke-linejoin="round" marker-start="url(#m0)" marker-mid="url(#m0)" marker-end="url(#m0)"/><path d="M1315 254l143 143l144 105l143 32l144 141l143 111l144 117l144 102l143 54l144 146l143 42l144 232l144 86l143 51l144-160l143-39l144 287l144 486l143 211l144 121l143 84l144 78l144 15l143 141l144 38l143 126l144 45l144-61l143-128l144-241l143-10l144-373l144-342l143-247l144 41l143 145l144 175l144 163l143-51l144-121l143-54l144-132l144 40l143-93l144 15l144-179l143 48l144-5l143-139" stroke="#3c60b0" stroke-width="16" fill="none" stroke-linejoin="round" marker-start="url(#m0)" marker-mid="url(#m0)" marker-end="url(#m0)"/><path d="M1315 56l143 61l144 107l143 96l144 82l143 182l144 78l144 133l143 130l144 79l143 83l144 43l144-140l143 132l144 177l143 391l144 340l144 216l143 96l144 50l143 51l144 71l144 25l143 117l144 62l143 190l144-41l144-24l143-109l144-280l143-412l144-424l144-321l143 348l144 291l143 97l144 77l144-109l143-73l144-112l143-102l144-109l144 9l143-169l144 19l144-121l143-112l144-64l143-21" stroke="#3c60b0" stroke-width="16" fill="none" stroke-linejoin="round" marker-start="url(#m0)" marker-mid="url(#m0)" marker-end="url(#m0)"/><path d="M1315 56l143 0l144 72l143 212l144 55l143 117l144 123l144 115l143 43l144 74l143-20l144 9l144 67l143 393l144 196l143 333l144 212l144 184l143 143l144 19l143 72l144 8l144 124l143-46l144 152l143 188l144 94l144-45l143-113l144-127l143-130l144-250l144-417l143-545l144-169l143 192l144 307l144 268l143 79l144-3l143-87l144-64l144-150l143-2l144-87l144-35l143-89l144-114l143 11" stroke="#3a5ba9" stroke-width="16" fill="none" stroke-linejoin="round" marker-start="url(#m1)" marker-mid="url(#m1)" marker-end="url(#m1)"/><path d="M1315 411l143 41l144 176l143 112l144 117l143 105l144 32l144 16l143 219l144 15l143 133l144 175l144 89l143 17l144-195l143-306l144 435l144 477l143 337l144 163l143 47l144 37l144 93l143 71l144 104l143 229l144-118l144-119l143-123l144-194l143-236l144-621l144-433l143 99l144 426l143 421l144 67l144 32l143-126l144-84l143-47l144-63l144-142l143 75l144-47l144-52l143-122l144-82l143 14" stroke="#3a5ba9" stroke-width="16" fill="none" stroke-linejoin="round" marker-start="url(#m1)" marker-mid="url(#m1)" marker-end="url(#m1)"/><path d="M1315 58l143 61l144 191l143 29l144 119l143 167l144 93l144 94l143 22l144 91l143-97l144 131l144 228l143 252l144 275l143 246l144 200l144 122l143 19l144 56l143 111l144 35l144 117l143 43l144 71l143 152l144 26l144-84l143-75l144-43l143-115l144-93l144-280l143-345l144-410l143-214l144 133l144 256l143 126l144-45l143-68l144-109l144 30l143-127l144-79l144-103l143-61l144-84l143-136" stroke="#3a5ba9" stroke-width="16" fill="none" stroke-linejoin="round" marker-start="url(#m1)" marker-mid="url(#m1)" marker-end="url(#m1)"/><path d="M1315 537l143 7l144 114l143 163l144 51l143 159l144 27l144 139l143 104l144 67l143 104l144 22l144-92l143-281l144-163l143 393l144 433l144 535l143 153l144 76l143 106l144 92l144 63l143 85l144 139l143 133l144 16l144-190l143-209l144-472l143-650l144-588l144 183l143 633l144 433l143 133l144 4l144-52l143-149l144 2l143-72l144-121l144-21l143-9l144 6l144-135l143 36l144-44l143-14" stroke="#3a5ba9" stroke-width="16" fill="none" stroke-linejoin="round" marker-start="url(#m1)" marker-mid="url(#m1)" marker-end="url(#m1)"/><path d="M1315 261l143 46l144 111l143 136l144 147l143 122l144 67l144 145l143 5l144 84l143 52l144 206l144 196l143 154l144 248l143 57l144 141l144 94l143 119l144 78l143 80l144 43l144 30l143 161l144 69l143 131l144-103l144-75l143-256l144-530l143-757l144-46l144 575l143 456l144 53l143-40l144-146l144-71l143-64l144-93l143-77l144-128l144-30l143-89l144-43l144-30l143-163l144-2l143-142" stroke="#3a5ba9" stroke-width="16" fill="none" stroke-linejoin="round" marker-start="url(#m1)" marker-mid="url(#m1)" marker-end="url(#m1)"/><path d="M1315 234l143 85l144 97l143 125l144 127l143 41l144 147l144 79l143 109l144-12l143-94l144-352l144-298l143 170l144 597l143 644l144 356l144 209l143 144l144 98l143 16l144-14l144 162l143 43l144 93l143 217l144-79l144-29l143-191l144-25l143-50l144-221l144-598l143-1002l144-746l143 396l144 839l144 495l143 67l144-7l143-69l144-114l144-62l143-90l144-44l144-25l143-85l144-70l143-80" stroke="#3c60b0" stroke-width="16" fill="none" stroke-linejoin="round" marker-start="url(#m0)" marker-mid="url(#m0)" marker-end="url(#m0)"/><path d="M1315 627l143 145l144 44l143 152l144 23l143 99l144 154l144-4l143 64l144 52l143-185l144-329l144-66l143 248l144 618l143 434l144 201l144 196l143 98l144 91l143 70l144 45l144 122l143 63l144 15l143 37l144-100l144-66l143-343l144-500l143-688l144-601l144-279l143 327l144 534l143 434l144 171l144 67l143-111l144-57l143-79l144-82l144-94l143-93l144-72l144-56l143-99l144-53l143-125" stroke="#3c60b0" stroke-width="16" fill="none" stroke-linejoin="round" marker-start="url(#m0)" marker-mid="url(#m0)" marker-end="url(#m0)"/><path d="M1315 691l143-32l144 142l143 149l144 65l143 120l144-19l144 143l143 154l144-2l143 108l144-74l144-75l143-367l144-385l143 253l144 661l144 678l143 246l144 105l143 218l144-43l144 139l143-21l144 180l143 109l144-79l144-82l143-120l144-167l143-36l144-139l144-536l143-470l144-400l143 15l144 474l144 380l143 146l144 8l143-82l144-99l144 14l143-78l144-45l144 19l143-97l144-6l143-126" stroke="#3c60b0" stroke-width="16" fill="none" stroke-linejoin="round" marker-start="url(#m0)" marker-mid="url(#m0)" marker-end="url(#m0)"/><path d="M1315 590l143 146l144 44l143 135l144 46l143 127l144 118l144 20l143 81l144 92l143-106l144-52l144 50l143 291l144 377l143 225l144 144l144 60l143 103l144 147l143 3l144 131l144 57l143 64l144 114l143-28l144 11l144-131l143-463l144-457l143-550l144-243l144-75l143 397l144 406l143 217l144 22l144 24l143-103l144-17l143-99l144-126l144-35l143 7l144-120l144-39l143-39l144-111l143-36" stroke="#3a5ba9" stroke-width="16" fill="none" stroke-linejoin="round" marker-start="url(#m1)" marker-mid="url(#m1)" marker-end="url(#m1)"/><path d="M1315 283l143 2l144 232l143 47l144 97l143 109l144 177l144 68l143 74l144 67l143 159l144 102l144-108l143-218l144-223l143 96l144 417l144 561l143 336l144 247l143 36l144 73l144 95l143 15l144 76l143 64l144-49l144 14l143-130l144-88l143-111l144-365l144-635l143-896l144-486l143 393l144 633l144 465l143 142l144-119l143-32l144-71l144-241l143-4l144-103l144-86l143-139l144-38l143-131" stroke="#3c60b0" stroke-width="16" fill="none" stroke-linejoin="round" marker-start="url(#m0)" marker-mid="url(#m0)" marker-end="url(#m0)"/><path d="M1315 385l143 1l144 105l143 145l144 119l143 109l144 135l144 14l143 120l144 86l143 61l144-74l144-184l143-184l144 242l143 432l144 416l144 392l143 133l144 48l143 67l144 74l144 146l143-12l144 130l143 17l144-87l144-28l143-121l144-162l143-90l144-589l144-1004l143-623l144 556l143 803l144 343l144-31l143-103l144-65l143-83l144-98l144-157l143-74l144-125l144-92l143-42l144-132l143-19" stroke="#3a5ba9" stroke-width="16" fill="none" stroke-linejoin="round" marker-start="url(#m1)" marker-mid="url(#m1)" marker-end="url(#m1)"/><path d="M1315 501l143 150l144 134l143 46l144 186l143 58l144 37l144 112l143 99l144-8l143-100l144-674l144-288l143 751l144 767l143 408l144 54l144 217l143 7l144 196l143 8l144 136l144 77l143 31l144 97l143 181l144-105l144-38l143-249l144-274l143-385l144-474l144-673l143-169l144 283l143 507l144 436l144 191l143-27l144-10l143-40l144-81l144-118l143 34l144-26l144-110l143-10l144-29l143-22" stroke="#3a5ba9" stroke-width="16" fill="none" stroke-linejoin="round" marker-start="url(#m1)" marker-mid="url(#m1)" marker-end="url(#m1)"/><path d="M1315 195l143 87l144 104l143 92l144 107l143 126l144 112l144 151l143 132l144-31l143-214l144-575l144-104l143 790l144 706l143 293l144 171l144 169l143 63l144 104l143 94l144 19l144-11l143 167l144 43l143 138l144 32l144-23l143-386l144-343l143-454l144-314l144 36l143 361l144 319l143 73l144 65l144-48l143-137l144-75l143-95l144 12l144-134l143-27l144-97l144 60l143-110l144-39l143-11" stroke="#3a5ba9" stroke-width="16" fill="none" stroke-linejoin="round" marker-start="url(#m1)" marker-mid="url(#m1)" marker-end="url(#m1)"/><path d="M1315 56l143 107l144 127l143 58l144 113l143 119l144 183l144 85l143 57l144 154l143 70l144-117l144-251l143-52l144 304l143 507l144 458l144 237l143 108l144 107l143 83l144 23l144 94l143 28l144 113l143-4l144 109l144 15l143-95l144-98l143-6l144-108l144-145l143-426l144-618l143-506l144 172l144 496l143 247l144 28l143-124l144-17l144-137l143-43l144-62l144-1l143-104l144-155l143-105" stroke="#3c60b0" stroke-width="16" fill="none" stroke-linejoin="round" marker-start="url(#m0)" marker-mid="url(#m0)" marker-end="url(#m0)"/><path d="M1315 544l143 140l144 97l143 113l144 41l143 121l144 114l144 89l143 47l144 89l143 135l144-45l144-182l143-544l144-18l143 824l144 640l144 204l143 171l144 66l143 132l144-60l144 186l143-18l144 131l143 23l144-93l144-100l143-118l144-118l143-3l144-101l144-74l143-266l144-345l143-481l144-513l144-279l143 46l144 278l143 346l144 209l144 16l143 73l144-99l144-155l143 79l144-158l143-136" stroke="#3c60b0" stroke-width="16" fill="none" stroke-linejoin="round" marker-start="url(#m0)" marker-mid="url(#m0)" marker-end="url(#m0)"/><path d="M1315 187l143 300l144-41l143 106l144 134l143 151l144 84l144 146l143 26l144 163l143 72l144 32l144 25l143-292l144-256l143 252l144 475l144 546l143 339l144 64l143 100l144 57l144 35l143 101l144 36l143 163l144-57l144-45l143-227l144-287l143-596l144-693l144-371l143 340l144 552l143 399l144 125l144-26l143-94l144-67l143-141l144-57l144 3l143-66l144-136l144-24l143-46l144-120l143-11" stroke="#3a5ba9" stroke-width="16" fill="none" stroke-linejoin="round" marker-start="url(#m1)" marker-mid="url(#m1)" marker-end="url(#m1)"/><path d="M1315 682l143 148l144-9l143 176l144 76l143 100l144 34l144 110l143 71l144 125l143-36l144-13l144-185l143 22l144 302l143 317l144 346l144 171l143 129l144 96l143 31l144 67l144 165l143 3l144 136l143 73l144-31l144-103l143-299l144-433l143-223l144-153l144-122l143 137l144 240l143 173l144 49l144-66l143-24l144-57l143-92l144-69l144 63l143-100l144-13l144-21l143-65l144-57l143-39" stroke="#3a5ba9" stroke-width="16" fill="none" stroke-linejoin="round" marker-start="url(#m1)" marker-mid="url(#m1)" marker-end="url(#m1)"/><path d="M1315 56l143 0l144 0l143 0l144 0l143 0l144 0l144 0l143 0l144 0l143 0l144 0l144 0l143 0l144 0l143 0l144 0l144 0l143 392l144 635l143 776l144 635l144 428l143 237l144 157l143-54l144-50l144-155l143-864l144-746l143-789l144-602l144 0l143 0l144 0l143 0l144 0l144 0l143 0l144 0l143 0l144 0l144 0l143 0l144 0l144 0l143 0l144 0l143 0" stroke="#36a6dd" stroke-width="20" fill="none" stroke-linejoin="round" marker-start="url(#m3)" marker-mid="url(#m3)" marker-end="url(#m3)"/><path d="M1315 56l143 0l144 0l143 0l144 0l143 0l144 0l144 0l143 0l144 0l143 0l144 0l144 0l143 0l144 0l143 0l144 0l144 0l143 197l144 609l143 764l144 750l144 534l143 241l144 65l143 2l144-27l144-227l143-490l144-658l143-788l144-864l144-108l143 0l144 0l143 0l144 0l144 0l143 0l144 0l143 0l144 0l144 0l143 0l144 0l144 0l143 0l144 0l143 0" stroke="#27c4f3" stroke-width="20" fill="none" stroke-linejoin="round" marker-start="url(#m4)" marker-mid="url(#m4)" marker-end="url(#m4)"/><path d="M1315 56l143 0l144 0l143 0l144 0l143 0l144 0l144 0l143 0l144 0l143 0l144 0l144 0l143 0l144 0l143 0l144 0l144 0l143 325l144 609l143 743l144 693l144 526l143 182l144 54l143-62l144-29l144-254l143-298l144-591l143-844l144-790l144-264l143 0l144 0l143 0l144 0l144 0l143 0l144 0l143 0l144 0l144 0l143 0l144 0l144 0l143 0l144 0l143 0" stroke="#6acbd1" stroke-width="20" fill="none" stroke-linejoin="round" marker-start="url(#m5)" marker-mid="url(#m5)" marker-end="url(#m5)"/><path d="M1315 56l143 0l144 0l143 0l144 0l143 0l144 0l144 0l143 0l144 0l143 0l144 0l144 0l143 0l144 0l143 0l144 0l144 0l143 195l144 634l143 766l144 722l144 459l143 257l144 3l143 30l144-78l144-172l143-442l144-634l143-814l144-826l144-100l143 0l144 0l143 0l144 0l144 0l143 0l144 0l143 0l144 0l144 0l143 0l144 0l144 0l143 0l144 0l143 0" stroke="#73c9b7" stroke-width="20" fill="none" stroke-linejoin="round" marker-start="url(#m6)" marker-mid="url(#m6)" marker-end="url(#m6)"/><path d="M1315 56l143 0l144 0l143 0l144 0l143 0l144 0l144 0l143 0l144 0l143 0l144 0l144 0l143 0l144 0l143 0l144 0l144 0l143 262l144 683l143 756l144 657l144 447l143 171l144 36l143 24l144-12l144-195l143-363l144-607l143-780l144-857l144-222l143 0l144 0l143 0l144 0l144 0l143 0l144 0l143 0l144 0l144 0l143 0l144 0l144 0l143 0l144 0l143 0" stroke="#7ac79c" stroke-width="20" fill="none" stroke-linejoin="round" marker-start="url(#m7)" marker-mid="url(#m7)" marker-end="url(#m7)"/><path d="M1315 56l143 0l144 0l143 0l144 0l143 0l144 0l144 0l143 0l144 0l143 0l144 0l144 0l143 0l144 0l143 0l144 0l144 50l143 648l144 707l143 692l144 464l144 349l143 84l144 38l143 28l144-14l144-245l143-430l144-710l143-784l144-819l144-58l143 0l144 0l143 0l144 0l144 0l143 0l144 0l143 0l144 0l144 0l143 0l144 0l144 0l143 0l144 0l143 0" stroke="#86c77d" stroke-width="20" fill="none" stroke-linejoin="round" marker-start="url(#m8)" marker-mid="url(#m8)" marker-end="url(#m8)"/><path d="M1315 56l143 0l144 0l143 0l144 0l143 0l144 0l144 0l143 0l144 0l143 0l144 0l144 0l143 0l144 0l143 0l144 0l144 0l143 433l144 701l143 643l144 634l144 438l143 134l144 61l143 15l144-113l144-158l143-455l144-690l143-767l144-838l144-38l143 0l144 0l143 0l144 0l144 0l143 0l144 0l143 0l144 0l144 0l143 0l144 0l144 0l143 0l144 0l143 0" stroke="#92c85d" stroke-width="20" fill="none" stroke-linejoin="round" marker-start="url(#m9)" marker-mid="url(#m9)" marker-end="url(#m9)"/><path d="M1315 56l143 0l144 0l143 0l144 0l143 0l144 0l144 0l143 0l144 0l143 0l144 0l144 0l143 0l144 0l143 0l144 0l144 0l143 535l144 676l143 697l144 552l144 386l143 211l144-17l143 40l144-111l144-98l143-349l144-503l143-870l144-741l144-408l143 0l144 0l143 0l144 0l144 0l143 0l144 0l143 0l144 0l144 0l143 0l144 0l144 0l143 0l144 0l143 0" stroke="#a2cd4c" stroke-width="20" fill="none" stroke-linejoin="round" marker-start="url(#m10)" marker-mid="url(#m10)" marker-end="url(#m10)"/><path d="M1315 56l143 0l144 0l143 0l144 0l143 0l144 0l144 0l143 0l144 0l143 0l144 0l144 0l143 0l144 0l143 0l144 0l144 111l143 612l144 673l143 626l144 489l144 434l143 60l144-35l143 36l144-41l144-284l143-398l144-686l143-806l144-791l144 0l143 0l144 0l143 0l144 0l144 0l143 0l144 0l143 0l144 0l144 0l143 0l144 0l144 0l143 0l144 0l143 0" stroke="#b2d33c" stroke-width="20" fill="none" stroke-linejoin="round" marker-start="url(#m11)" marker-mid="url(#m11)" marker-end="url(#m11)"/><path d="M1315 56l143 0l144 0l143 0l144 0l143 0l144 0l144 0l143 0l144 0l143 0l144 0l144 0l143 0l144 0l143 0l144 0l144 0l143 443l144 652l143 670l144 606l144 506l143 120l144 32l143 1l144-85l144-372l143-486l144-734l143-747l144-606l144 0l143 0l144 0l143 0l144 0l144 0l143 0l144 0l143 0l144 0l144 0l143 0l144 0l144 0l143 0l144 0l143 0" stroke="#c3d92d" stroke-width="20" fill="none" stroke-linejoin="round" marker-start="url(#m12)" marker-mid="url(#m12)" marker-end="url(#m12)"/><path d="M1315 56l143 0l144 0l143 0l144 0l143 0l144 0l144 0l143 0l144 0l143 0l144 0l144 0l143 0l144 0l143 0l144 0l144 170l143 612l144 685l143 661l144 386l144 291l143 92l144 60l143-13l144-69l144-137l143-289l144-584l143-844l144-780l144-241l143 0l144 0l143 0l144 0l144 0l143 0l144 0l143 0l144 0l144 0l143 0l144 0l144 0l143 0l144 0l143 0" stroke="#d6e11f" stroke-width="20" fill="none" stroke-linejoin="round" marker-start="url(#m13)" marker-mid="url(#m13)" marker-end="url(#m13)"/><path d="M1315 56l143 0l144 0l143 0l144 0l143 0l144 0l144 0l143 0l144 0l143 0l144 0l144 0l143 0l144 0l143 0l144 0l144 80l143 636l144 608l143 682l144 493l144 367l143 51l144 27l143-36l144-47l144-324l143-477l144-719l143-809l144-532l144 0l143 0l144 0l143 0l144 0l144 0l143 0l144 0l143 0l144 0l144 0l143 0l144 0l144 0l143 0l144 0l143 0" stroke="#e9e910" stroke-width="20" fill="none" stroke-linejoin="round" marker-start="url(#m14)" marker-mid="url(#m14)" marker-end="url(#m14)"/><path d="M1315 56l143 0l144 0l143 0l144 0l143 0l144 0l144 0l143 0l144 0l143 0l144 0l144 0l143 0l144 0l143 0l144 0l144 0l143 642l144 645l143 603l144 584l144 312l143 110l144 41l143-69l144-92l144-134l143-404l144-628l143-853l144-757l144 0l143 0l144 0l143 0l144 0l144 0l143 0l144 0l143 0l144 0l144 0l143 0l144 0l144 0l143 0l144 0l143 0" stroke="#fcf102" stroke-width="20" fill="none" stroke-linejoin="round" marker-start="url(#m15)" marker-mid="url(#m15)" marker-end="url(#m15)"/><path d="M1315 56l143 0l144 0l143 0l144 0l143 0l144 0l144 0l143 0l144 0l143 0l144 0l144 0l143 0l144 0l143 0l144 0l144 28l143 577l144 655l143 641l144 574l144 401l143 28l144-2l143-23l144-122l144-267l143-495l144-765l143-764l144-466l144 0l143 0l144 0l143 0l144 0l144 0l143 0l144 0l143 0l144 0l144 0l143 0l144 0l144 0l143 0l144 0l143 0" stroke="#fccb0c" stroke-width="20" fill="none" stroke-linejoin="round" marker-start="url(#m16)" marker-mid="url(#m16)" marker-end="url(#m16)"/><path d="M1315 56l143 0l144 0l143 0l144 0l143 0l144 0l144 0l143 0l144 0l143 0l144 0l144 0l143 0l144 0l143 0l144 0l144 376l143 604l144 702l143 506l144 368l144 244l143 128l144 14l143-5l144-63l144-301l143-536l144-714l143-781l144-542l144 0l143 0l144 0l143 0l144 0l144 0l143 0l144 0l143 0l144 0l144 0l143 0l144 0l144 0l143 0l144 0l143 0" stroke="#fab513" stroke-width="20" fill="none" stroke-linejoin="round" marker-start="url(#m17)" marker-mid="url(#m17)" marker-end="url(#m17)"/><path d="M1315 56l143 0l144 0l143 0l144 0l143 0l144 0l144 0l143 0l144 0l143 0l144 0l144 0l143 0l144 0l143 0l144 0l144 343l143 597l144 615l143 613l144 394l144 271l143 28l144 23l143 1l144-30l144-184l143-283l144-628l143-808l144-801l144-151l143 0l144 0l143 0l144 0l144 0l143 0l144 0l143 0l144 0l144 0l143 0l144 0l144 0l143 0l144 0l143 0" stroke="#f9a717" stroke-width="20" fill="none" stroke-linejoin="round" marker-start="url(#m18)" marker-mid="url(#m18)" marker-end="url(#m18)"/><path d="M1315 56l143 0l144 0l143 0l144 0l143 0l144 0l144 0l143 0l144 0l143 0l144 0l144 0l143 0l144 0l143 0l144 0l144 352l143 582l144 645l143 615l144 366l144 210l143 56l144 42l143-30l144-34l144-268l143-464l144-707l143-779l144-586l144 0l143 0l144 0l143 0l144 0l144 0l143 0l144 0l143 0l144 0l144 0l143 0l144 0l144 0l143 0l144 0l143 0" stroke="#f89a1b" stroke-width="20" fill="none" stroke-linejoin="round" marker-start="url(#m19)" marker-mid="url(#m19)" marker-end="url(#m19)"/><path d="M1315 56l143 0l144 0l143 0l144 0l143 0l144 0l144 0l143 0l144 0l143 0l144 0l144 0l143 0l144 0l143 0l144 0l144 175l143 634l144 597l143 653l144 427l144 308l143 91l144 8l143-19l144-126l144-281l143-392l144-793l143-735l144-547l144 0l143 0l144 0l143 0l144 0l144 0l143 0l144 0l143 0l144 0l144 0l143 0l144 0l144 0l143 0l144 0l143 0" stroke="#f7911d" stroke-width="20" fill="none" stroke-linejoin="round" marker-start="url(#m20)" marker-mid="url(#m20)" marker-end="url(#m20)"/><path d="M1315 56l143 0l144 0l143 0l144 0l143 0l144 0l144 0l143 0l144 0l143 0l144 0l144 0l143 0l144 0l143 0l144 0l144 309l143 623l144 689l143 577l144 338l144 270l143 35l144 41l143-13l144-67l144-169l143-254l144-597l143-849l144-710l144-223l143 0l144 0l143 0l144 0l144 0l143 0l144 0l143 0l144 0l144 0l143 0l144 0l144 0l143 0l144 0l143 0" stroke="#f68a1e" stroke-width="20" fill="none" stroke-linejoin="round" marker-start="url(#m21)" marker-mid="url(#m21)" marker-end="url(#m21)"/><path d="M1315 56l143 0l144 0l143 0l144 0l143 0l144 0l144 0l143 0l144 0l143 0l144 0l144 0l143 0l144 0l143 0l144 0l144 57l143 582l144 615l143 652l144 530l144 415l143 67l144 10l143-40l144-80l144-254l143-415l144-714l143-769l144-656l144 0l143 0l144 0l143 0l144 0l144 0l143 0l144 0l143 0l144 0l144 0l143 0l144 0l144 0l143 0l144 0l143 0" stroke="#f5841f" stroke-width="20" fill="none" stroke-linejoin="round" marker-start="url(#m22)" marker-mid="url(#m22)" marker-end="url(#m22)"/><path d="M1315 56l143 0l144 0l143 0l144 0l143 0l144 0l144 0l143 0l144 0l143 0l144 0l144 0l143 0l144 0l143 0l144 0l144 293l143 617l144 673l143 581l144 368l144 214l143 142l144-27l143-31l144-24l144-280l143-454l144-675l143-810l144-587l144 0l143 0l144 0l143 0l144 0l144 0l143 0l144 0l143 0l144 0l144 0l143 0l144 0l144 0l143 0l144 0l143 0" stroke="#f57e20" stroke-width="20" fill="none" stroke-linejoin="round" marker-start="url(#m23)" marker-mid="url(#m23)" marker-end="url(#m23)"/><path d="M1315 56l143 0l144 0l143 0l144 0l143 0l144 0l144 0l143 0l144 0l143 0l144 0l144 0l143 0l144 0l143 0l144 0l144 494l143 643l144 625l143 583l144 225l144 202l143 61l144 25l143-23l144-96l144-139l143-430l144-664l143-823l144-683l144 0l143 0l144 0l143 0l144 0l144 0l143 0l144 0l143 0l144 0l144 0l143 0l144 0l144 0l143 0l144 0l143 0" stroke="#f47820" stroke-width="20" fill="none" stroke-linejoin="round" marker-start="url(#m24)" marker-mid="url(#m24)" marker-end="url(#m24)"/><path d="M1315 56l143 0l144 0l143 0l144 0l143 0l144 0l144 0l143 0l144 0l143 0l144 0l144 0l143 0l144 0l143 0l144 0l144 376l143 563l144 677l143 582l144 300l144 307l143 29l144 65l143-26l144-71l144-398l143-489l144-728l143-743l144-444l144 0l143 0l144 0l143 0l144 0l144 0l143 0l144 0l143 0l144 0l144 0l143 0l144 0l144 0l143 0l144 0l143 0" stroke="#f37121" stroke-width="20" fill="none" stroke-linejoin="round" marker-start="url(#m25)" marker-mid="url(#m25)" marker-end="url(#m25)"/><path d="M1315 56l143 0l144 0l143 0l144 0l143 0l144 0l144 0l143 0l144 0l143 0l144 0l144 0l143 0l144 0l143 0l144 0l144 256l143 529l144 646l143 676l144 360l144 285l143 107l144-6l143 40l144-75l144-242l143-427l144-733l143-718l144-698l144 0l143 0l144 0l143 0l144 0l144 0l143 0l144 0l143 0l144 0l144 0l143 0l144 0l144 0l143 0l144 0l143 0" stroke="#f36b22" stroke-width="20" fill="none" stroke-linejoin="round" marker-start="url(#m26)" marker-mid="url(#m26)" marker-end="url(#m26)"/><path d="M1315 56l143 0l144 0l143 0l144 0l143 0l144 0l144 0l143 0l144 0l143 0l144 0l144 0l143 0l144 0l143 0l144 0l144 346l143 619l144 626l143 613l144 334l144 273l143 41l144 29l143-41l144-59l144-251l143-458l144-677l143-774l144-621l144 0l143 0l144 0l143 0l144 0l144 0l143 0l144 0l143 0l144 0l144 0l143 0l144 0l144 0l143 0l144 0l143 0" stroke="#f26523" stroke-width="20" fill="none" stroke-linejoin="round" marker-start="url(#m27)" marker-mid="url(#m27)" marker-end="url(#m27)"/><path d="M1315 56l143 0l144 0l143 0l144 0l143 0l144 0l144 0l143 0l144 0l143 0l144 0l144 0l143 0l144 0l143 0l144 0l144 186l143 613l144 661l143 622l144 404l144 199l143 154l144-26l143-8l144-19l144-250l143-422l144-696l143-777l144-641l144 0l143 0l144 0l143 0l144 0l144 0l143 0l144 0l143 0l144 0l144 0l143 0l144 0l144 0l143 0l144 0l143 0" stroke="#f15f23" stroke-width="20" fill="none" stroke-linejoin="round" marker-start="url(#m28)" marker-mid="url(#m28)" marker-end="url(#m28)"/><path d="M1315 56l143 0l144 0l143 0l144 0l143 0l144 0l144 0l143 0l144 0l143 0l144 0l144 0l143 0l144 0l143 0l144 102l144 536l143 632l144 651l143 444l144 281l144 126l143 42l144 29l143 27l144-110l144-215l143-333l144-669l143-717l144-826l144 0l143 0l144 0l143 0l144 0l144 0l143 0l144 0l143 0l144 0l144 0l143 0l144 0l144 0l143 0l144 0l143 0" stroke="#f15924" stroke-width="20" fill="none" stroke-linejoin="round" marker-start="url(#m29)" marker-mid="url(#m29)" marker-end="url(#m29)"/><path d="M1315 56l143 0l144 0l143 0l144 0l143 0l144 0l144 0l143 0l144 0l143 0l144 0l144 0l143 0l144 0l143 0l144 0l144 525l143 635l144 638l143 449l144 352l144 168l143 47l144 53l143 6l144-145l144-196l143-423l144-688l143-748l144-673l144 0l143 0l144 0l143 0l144 0l144 0l143 0l144 0l143 0l144 0l144 0l143 0l144 0l144 0l143 0l144 0l143 0" stroke="#f15324" stroke-width="20" fill="none" stroke-linejoin="round" marker-start="url(#m30)" marker-mid="url(#m30)" marker-end="url(#m30)"/><path d="M1315 56l143 0l144 0l143 0l144 0l143 0l144 0l144 0l143 0l144 0l143 0l144 0l144 0l143 0l144 0l143 0l144 106l144 618l143 607l144 575l143 443l144 268l144 130l143 42l144 73l143-54l144-122l144-250l143-376l144-740l143-707l144-613l144 0l143 0l144 0l143 0l144 0l144 0l143 0l144 0l143 0l144 0l144 0l143 0l144 0l144 0l143 0l144 0l143 0" stroke="#f04e24" stroke-width="20" fill="none" stroke-linejoin="round" marker-start="url(#m31)" marker-mid="url(#m31)" marker-end="url(#m31)"/><path d="M1315 56l143 0l144 0l143 0l144 0l143 0l144 0l144 0l143 0l144 0l143 0l144 0l144 0l143 0l144 0l143 0l144 33l144 596l143 544l144 646l143 490l144 278l144 162l143 45l144 14l143 39l144-24l144-447l143-533l144-692l143-740l144-411l144 0l143 0l144 0l143 0l144 0l144 0l143 0l144 0l143 0l144 0l144 0l143 0l144 0l144 0l143 0l144 0l143 0" stroke="#f04924" stroke-width="20" fill="none" stroke-linejoin="round" marker-start="url(#m32)" marker-mid="url(#m32)" marker-end="url(#m32)"/><path d="M1315 56l143 0l144 0l143 0l144 0l143 0l144 0l144 0l143 0l144 0l143 0l144 0l144 0l143 0l144 0l143 0l144 28l144 581l143 584l144 649l143 485l144 263l144 185l143 73l144 17l143-7l144-148l144-443l143-567l144-750l143-690l144-260l144 0l143 0l144 0l143 0l144 0l144 0l143 0l144 0l143 0l144 0l144 0l143 0l144 0l144 0l143 0l144 0l143 0" stroke="#f04324" stroke-width="20" fill="none" stroke-linejoin="round" marker-start="url(#m33)" marker-mid="url(#m33)" marker-end="url(#m33)"/><path d="M1315 56l143 0l144 0l143 0l144 0l143 0l144 0l144 0l143 0l144 0l143 0l144 0l144 0l143 0l144 0l143 0l144 170l144 603l143 552l144 650l143 425l144 259l144 183l143-18l144 21l143 1l144-128l144-274l143-498l144-751l143-760l144-435l144 0l143 0l144 0l143 0l144 0l144 0l143 0l144 0l143 0l144 0l144 0l143 0l144 0l144 0l143 0l144 0l143 0" stroke="#ef3e24" stroke-width="20" fill="none" stroke-linejoin="round" marker-start="url(#m34)" marker-mid="url(#m34)" marker-end="url(#m34)"/><path d="M1315 56l143 0l144 0l143 0l144 0l143 0l144 0l144 0l143 0l144 0l143 0l144 0l144 0l143 0l144 0l143 0l144 231l144 574l143 558l144 605l143 402l144 217l144 151l143 47l144 14l143 31l144-51l144-341l143-544l144-722l143-731l144-441l144 0l143 0l144 0l143 0l144 0l144 0l143 0l144 0l143 0l144 0l144 0l143 0l144 0l144 0l143 0l144 0l143 0" stroke="#ef3924" stroke-width="20" fill="none" stroke-linejoin="round" marker-start="url(#m35)" marker-mid="url(#m35)" marker-end="url(#m35)"/><path d="M1315 56l143 0l144 0l143 0l144 0l143 0l144 0l144 0l143 0l144 0l143 0l144 0l144 0l143 0l144 0l143 0l144 35l144 593l143 577l144 604l143 442l144 390l144 99l143 62l144 43l143-45l144-102l144-299l143-524l144-644l143-817l144-414l144 0l143 0l144 0l143 0l144 0l144 0l143 0l144 0l143 0l144 0l144 0l143 0l144 0l144 0l143 0l144 0l143 0" stroke="#ef3324" stroke-width="20" fill="none" stroke-linejoin="round" marker-start="url(#m36)" marker-mid="url(#m36)" marker-end="url(#m36)"/><path d="M1315 56l143 0l144 0l143 0l144 0l143 0l144 0l144 0l143 0l144 0l143 0l144 0l144 0l143 0l144 0l143 0l144 351l144 596l143 646l144 495l143 412l144 117l144 70l143 74l144 7l143 8l144-55l144-316l143-398l144-676l143-718l144-613l144 0l143 0l144 0l143 0l144 0l144 0l143 0l144 0l143 0l144 0l144 0l143 0l144 0l144 0l143 0l144 0l143 0" stroke="#ee2e24" stroke-width="20" fill="none" stroke-linejoin="round" marker-start="url(#m37)" marker-mid="url(#m37)" marker-end="url(#m37)"/><path d="M1315 56l143 0l144 0l143 0l144 0l143 0l144 0l144 0l143 0l144 0l143 0l144 0l144 0l143 0l144 0l143 0l144 121l144 567l143 626l144 579l143 446l144 180l144 128l143 88l144 16l143-38l144-44l144-386l143-459l144-690l143-790l144-344l144 0l143 0l144 0l143 0l144 0l144 0l143 0l144 0l143 0l144 0l144 0l143 0l144 0l144 0l143 0l144 0l143 0" stroke="#ee2924" stroke-width="20" fill="none" stroke-linejoin="round" marker-start="url(#m38)" marker-mid="url(#m38)" marker-end="url(#m38)"/><path d="M1315 56l143 0l144 0l143 0l144 0l143 0l144 0l144 0l143 0l144 0l143 0l144 0l144 0l143 0l144 0l143 0l144 290l144 593l143 621l144 511l143 406l144 184l144 128l143 57l144 33l143-9l144-44l144-414l143-490l144-704l143-663l144-499l144 0l143 0l144 0l143 0l144 0l144 0l143 0l144 0l143 0l144 0l144 0l143 0l144 0l144 0l143 0l144 0l143 0" stroke="#ed2324" stroke-width="20" fill="none" stroke-linejoin="round" marker-start="url(#m39)" marker-mid="url(#m39)" marker-end="url(#m39)"/><path d="M1315 56l143 0l144 0l143 0l144 0l143 0l144 0l144 0l143 0l144 0l143 0l144 0l144 0l143 0l144 0l143 0l144 335l144 589l143 590l144 548l143 380l144 185l144 142l143 27l144 51l143-57l144-184l144-391l143-595l144-694l143-800l144-126l144 0l143 0l144 0l143 0l144 0l144 0l143 0l144 0l143 0l144 0l144 0l143 0l144 0l144 0l143 0l144 0l143 0" stroke="#ed1e24" stroke-width="20" fill="none" stroke-linejoin="round" marker-start="url(#m40)" marker-mid="url(#m40)" marker-end="url(#m40)"/><path d="M1315 56l143 0l144 0l143 0l144 0l143 0l144 0l144 0l143 0l144 0l143 0l144 0l144 0l143 0l144 0l143 0l144 341l144 598l143 587l144 535l143 400l144 144l144 149l143 46l144 65l143-62l144-144l144-453l143-642l144-631l143-742l144-191l144 0l143 0l144 0l143 0l144 0l144 0l143 0l144 0l143 0l144 0l144 0l143 0l144 0l144 0l143 0l144 0l143 0" stroke="#e91c24" stroke-width="20" fill="none" stroke-linejoin="round" marker-start="url(#m41)" marker-mid="url(#m41)" marker-end="url(#m41)"/><path d="M1315 56l143 0l144 0l143 0l144 0l143 0l144 0l144 0l143 0l144 0l143 0l144 0l144 0l143 0l144 0l143 130l144 562l144 604l143 587l144 428l143 174l144 154l144 74l143 56l144 48l143-87l144-3l144-362l143-543l144-626l143-779l144-417l144 0l143 0l144 0l143 0l144 0l144 0l143 0l144 0l143 0l144 0l144 0l143 0l144 0l144 0l143 0l144 0l143 0" stroke="#e21c23" stroke-width="20" fill="none" stroke-linejoin="round" marker-start="url(#m42)" marker-mid="url(#m42)" marker-end="url(#m42)"/><path d="M1315 56l143 0l144 0l143 0l144 0l143 0l144 0l144 0l143 0l144 0l143 0l144 0l144 0l143 0l144 0l143 49l144 613l144 540l143 585l144 516l143 219l144 136l144 91l143 29l144 27l143-17l144-177l144-403l143-521l144-699l143-768l144-220l144 0l143 0l144 0l143 0l144 0l144 0l143 0l144 0l143 0l144 0l144 0l143 0l144 0l144 0l143 0l144 0l143 0" stroke="#da1c23" stroke-width="20" fill="none" stroke-linejoin="round" marker-start="url(#m43)" marker-mid="url(#m43)" marker-end="url(#m43)"/><path d="M1315 56l143 0l144 0l143 0l144 0l143 0l144 0l144 0l143 0l144 0l143 0l144 0l144 0l143 0l144 0l143 241l144 562l144 583l143 546l144 428l143 166l144 58l144 119l143-2l144 13l143 14l144-68l144-305l143-504l144-636l143-695l144-520l144 0l143 0l144 0l143 0l144 0l144 0l143 0l144 0l143 0l144 0l144 0l143 0l144 0l144 0l143 0l144 0l143 0" stroke="#d31c22" stroke-width="20" fill="none" stroke-linejoin="round" marker-start="url(#m44)" marker-mid="url(#m44)" marker-end="url(#m44)"/><path d="M1315 56l143 0l144 0l143 0l144 0l143 0l144 0l144 0l143 0l144 0l143 0l144 0l144 0l143 0l144 0l143 0l144 336l144 571l143 646l144 492l143 368l144 187l144 115l143-38l144 113l143 15l144-114l144-380l143-524l144-659l143-703l144-425l144 0l143 0l144 0l143 0l144 0l144 0l143 0l144 0l143 0l144 0l144 0l143 0l144 0l144 0l143 0l144 0l143 0" stroke="#cc1c22" stroke-width="20" fill="none" stroke-linejoin="round" marker-start="url(#m45)" marker-mid="url(#m45)" marker-end="url(#m45)"/><path d="M1315 56l143 0l144 0l143 0l144 0l143 0l144 0l144 0l143 0l144 0l143 0l144 0l144 0l143 0l144 0l143 4l144 537l144 546l143 598l144 500l143 301l144 68l144 132l143 34l144-17l143 49l144-183l144-446l143-555l144-640l143-791l144-137l144 0l143 0l144 0l143 0l144 0l144 0l143 0l144 0l143 0l144 0l144 0l143 0l144 0l144 0l143 0l144 0l143 0" stroke="#c51c21" stroke-width="20" fill="none" stroke-linejoin="round" marker-start="url(#m46)" marker-mid="url(#m46)" marker-end="url(#m46)"/><path d="M1315 56l143 0l144 0l143 0l144 0l143 0l144 0l144 0l143 0l144 0l143 0l144 0l144 0l143 0l144 0l143 367l144 565l144 585l143 537l144 325l143 177l144 114l144 46l143 58l144 13l143 31l144-260l144-470l143-557l144-645l143-815l144-71l144 0l143 0l144 0l143 0l144 0l144 0l143 0l144 0l143 0l144 0l144 0l143 0l144 0l144 0l143 0l144 0l143 0" stroke="#be1b21" stroke-width="20" fill="none" stroke-linejoin="round" marker-start="url(#m47)" marker-mid="url(#m47)" marker-end="url(#m47)"/><path d="M1315 56l143 0l144 0l143 0l144 0l143 0l144 0l144 0l143 0l144 0l143 0l144 0l144 0l143 0l144 0l143 238l144 614l144 518l143 568l144 409l143 173l144 59l144 77l143 42l144 97l143-31l144-137l144-311l143-524l144-613l143-798l144-381l144 0l143 0l144 0l143 0l144 0l144 0l143 0l144 0l143 0l144 0l144 0l143 0l144 0l144 0l143 0l144 0l143 0" stroke="#b71b20" stroke-width="20" fill="none" stroke-linejoin="round" marker-start="url(#m48)" marker-mid="url(#m48)" marker-end="url(#m48)"/><path d="M1315 56l143 0l144 0l143 0l144 0l143 0l144 0l144 0l143 0l144 0l143 0l144 0l144 0l143 0l144 0l143 520l144 600l144 505l143 487l144 313l143 167l144 62l144 69l143 14l144 14l143-67l144-161l144-396l143-475l144-707l143-789l144-156l144 0l143 0l144 0l143 0l144 0l144 0l143 0l144 0l143 0l144 0l144 0l143 0l144 0l144 0l143 0l144 0l143 0" stroke="#b01b20" stroke-width="20" fill="none" stroke-linejoin="round" marker-start="url(#m49)" marker-mid="url(#m49)" marker-end="url(#m49)"/><path d="M1315 56l143 0l144 0l143 0l144 0l143 0l144 0l144 0l143 0l144 0l143 0l144 0l144 0l143 0l144 0l143 196l144 508l144 556l143 582l144 434l143 142l144 202l144 93l143 18l144 30l143-29l144-450l144-569l143-520l144-620l143-573l144 0l144 0l143 0l144 0l143 0l144 0l144 0l143 0l144 0l143 0l144 0l144 0l143 0l144 0l144 0l143 0l144 0l143 0" stroke="#a91b1f" stroke-width="20" fill="none" stroke-linejoin="round" marker-start="url(#m50)" marker-mid="url(#m50)" marker-end="url(#m50)"/><path d="M1315 56l143 0l144 0l143 0l144 0l143 0l144 0l144 0l143 0l144 0l143 0l144 0l144 0l143 0l144 0l143 357l144 481l144 606l143 565l144 315l143 164l144 146l144 1l143 122l144-7l143-43l144-104l144-544l143-515l144-627l143-722l144-195l144 0l143 0l144 0l143 0l144 0l144 0l143 0l144 0l143 0l144 0l144 0l143 0l144 0l144 0l143 0l144 0l143 0" stroke="#a21b1f" stroke-width="20" fill="none" stroke-linejoin="round" marker-start="url(#m51)" marker-mid="url(#m51)" marker-end="url(#m51)"/><path d="M1315 56l143 0l144 0l143 0l144 0l143 0l144 0l144 0l143 0l144 0l143 0l144 0l144 0l143 0l144 189l143 569l144 505l144 580l143 399l144 215l143 64l144 83l144 75l143 12l144 40l143-31l144-211l144-633l143-522l144-573l143-761l144 0l144 0l143 0l144 0l143 0l144 0l144 0l143 0l144 0l143 0l144 0l144 0l143 0l144 0l144 0l143 0l144 0l143 0" stroke="#9b1b1e" stroke-width="20" fill="none" stroke-linejoin="round" marker-start="url(#m52)" marker-mid="url(#m52)" marker-end="url(#m52)"/></g></g><rect x="149.5" y="80.0" width="645.8" height="371.8" fill="none" stroke="#000" stroke-width="1.5"/><line x1="185.3" y1="451.8" x2="185.3" y2="444.8" stroke="#000" stroke-width="1.5"/><line x1="328.9" y1="451.8" x2="328.9" y2="444.8" stroke="#000" stroke-width="1.5"/><line x1="472.5" y1="451.8" x2="472.5" y2="444.8" stroke="#000" stroke-width="1.5"/><line x1="616.1" y1="451.8" x2="616.1" y2="444.8" stroke="#000" stroke-width="1.5"/><line x1="759.7" y1="451.8" x2="759.7" y2="444.8" stroke="#000" stroke-width="1.5"/><line x1="149.5" y1="451.8" x2="163.5" y2="451.8" stroke="#000" stroke-width="1.5"/><line x1="149.5" y1="265.9" x2="163.5" y2="265.9" stroke="#000" stroke-width="1.5"/><line x1="149.5" y1="80.0" x2="163.5" y2="80.0" stroke="#000" stroke-width="1.5"/><rect x="192" y="300" width="29.4" height="93.8" fill="url(#gjet)"/><g transform="scale(0.1)"><path d="M1797 13937l9-5l10-2l9 6l10 4l9 3l10-1l9-3l10 10l9-8l10 2l9-2l10 6l9 0l10 6l9 1l10 8l9-6l10-4l9 8l10 1l9 7l10-9l9 10l10-7l9 2l9 4l10-10l9 2l10-3l9-4l10-1l9-1l10-7l9 1l10-5l9 1l10 1l9-6l10-3l9-4l10-7l9 11l10-9l9 10l10-6l9-3l10 8l9-2l10-8l9 1l9 2l10 4l9-11l10 12l9 5l10-9l9 7l10 7l9-4l10 7l9 0l10 4l9 8l10-7l9 5l10 6l9-1l10-8l9 5l10-3l9-4l10 0l9 4l10-12l9-4l9-4l10-6l9 1l10-5l9-7l10 5l9-12l10-3l9 2l10-7l9 2l10 6l9-10l10 2l9-1l10 1l9-5l10 4l9 6l10-4l9 0l10 8l9 1l10 2l9 4l9-1l10 0l9 0l10 7l9 4l10 3l9 3l10 10l9-1l10 4l9 3l10 3l9 1l10-1l9 3l10-9l9 0l10-4l9-4l10-6l9 1l10-7l9 1l10-2l9-6l9-20l10 9l9-14l10-9l9 4l10-12l9-5l10 2l9-9l10 6l9 4l10-6l9 4l10 4l9 1l10-14l9 14l10 0l9 5l10 0l9 5l10 5l9 8l10 6l9 2l9 0l10-2l9 9l10 1l9 10l10 7l9 8l10-3l9 11l10-7l9-9l10 4l9-5l10 3l9 1l10-9l9-6l10-13l9-10l10 5l9-9l10-8l9-6l10-4l9-12l9-8l10-6l9 1l10-10l9 2l10-15l9 5l10-6l9-1l10-1l9 2l10 3l9-14l10 9l9 2l10-4l9 13l10 3l9 8l10 1l9 10l10 9l9 10l10 6l9 5l9 23l10 0l9 10l10 7l9 14l10-5l9 12l10 2l9 4l10 6l9-5l10 5l9-7l10-7l9-8l10-7l9-8l10-19l9-3l10-4l9-15l10-12l9-14l10-10l9-11l9-22l10-5l9-9l10-10l9-9l10-15l9-3l10-8l9 13l10-19l9-5l10-5l9 8l10 10l9-7l10 10l9 11l10 2l9 2l10 10l9 15l10 20l9 0l10 31l9 11l9 22l10 5l9 20l10 13l9 18l10 14l9 9l10 18l9-6l10 4l9 7l10-4l9-7l10-13l9-6l10-12l9-14l10-13l9-24l10-24l9-21l10-24l9-27l10-23l9-23l9-25l10-21l9-22l10-24l9-11l10-32l9-6l10-25l9-9l10-15l9-2l10-1l9-10l10 6l9 5l10 9l9 7l10 17l9 21l10 31l9 23l10 29l9 28l10 44l9 41l9 34l10 44l9 35l10 31l9 35l10 13l9 21l10 19l9 16l10 4l9 2l10 15l9 6l10-3l9 11l10 4l9-7l10 1l9-4l10-3l9-10l10-8l9-13l10-21l9-34l9-41l10-51l9-65l10-65l9-108l10-118l9-134l10-136l9-167l10-151l9-148l10-145l9-120l10-93l9-69l10-22l9 20l10 65l9 112l10 155l9 164l10 194l9 171l10 176l9 161l9 126l10 101l9 90l10 67l9 40l10 24l9 36l10 5l9 11l10 6l9 5l10 1l9-5l10 3l9 7l10-11l9 12l10-8l9 2l10-4l9 3l10-3l9 5l10-4l9 2l9-8l10 13l9-8l10 3l9 1l10 3l9-4l10 8l9 0l10-9l9 9l10-12l9 7l10-2l9 0l10-1l9 3l10 0l9-1l10-5l9-1l10-1l9 4l10 2l9 6l9-11l10-2l9 4l10-7l9-4l10 2l9-8l10-2l9 3l10-13l9-10l10-15l9-8l10-19l9-18l10-29l9-30l10-38l9-40l10-44l9-55l10-62l9-71l10-87l9-73l9-110l10-113l9-124l10-122l9-148l10-153l9-154l10-160l9-180l10-174l9-188l10-175l9-190l10-168l9-165l10-160l9-146l10-140l9-122l10-92l9-83l10-50l9-40l10-20l9 92l9 210l10 340l9 434l10 458l9 457l10 416l9 374l10 301l9 230l10 175l9 120l10 82l9 45l10 40l9 7l10 19l9 7l10-3l9 2l10 11l9-9l10 6l9-2l10-7l9 7l9-5l10 3l9-10l10 9l9 5l10-1l9 0l10-5l9 1l10-4l9 3l10 0l9-1l10 2l9-2l10-2l9 0l10 6l9 5l10-4l9-4l10 11l9-8l10-4l9 4l9 3l10-13l9 2l10 7l9-7l10 0l9 11l10-17l9 16l10-3l9 3l10-5l9 6l10-5l9-5l10 4l9 2l10-8l9 11l10-8l9 5l10-2l9 1l10-1l9 1l9 3l10-1l9-4l10 2l9 5l10-2l9 0l10-3l9-1l10 0l9 4l10-3l9 5l10 7l9-13l10 7l9-4l10 0l9-9l10 5l9-9l10-2l9-4l10-8l9-23l9-18l10-26l9-36l10-33l9-51l10-59l9-75l10-84l9-97l10-123l9-105l10-139l9-136l10-134l9-127l10-127l9-108l10-89l9-73l10-40l9-14l10 1l9 28l10 27l9 50l9 52l10 68l9 74l10 88l9 86l10 91l9 89l10 91l9 91l10 97l9 84l10 90l9 80l10 67l9 65l10 64l9 55l10 38l9 49l10 40l9 15l10 37l9 25l10 16l9 22l9 3l10 25l9 7l10 2l9 8l10-5l9 16l10-2l9-4l10-2l9-3l10-1l9-12l10 5l9-12l10-14l9-9l10-18l9-21l10-25" stroke="none" fill="none" marker-start="url(#m53)" marker-mid="url(#m53)" marker-end="url(#m53)"/><path d="M1797 13942l9-2l10 4l9-8l10 8l9-15l10 2l9 4l10 6l9 3l10-7l9 6l10 1l9 7l10-6l9 11l10-2l9 10l10-2l9-3l10 5l9 1l10-4l9 4l10-5l9 15l9-14l10-1l9 6l10-3l9-12l10 6l9-5l10-8l9 1l10-6l9 3l10-8l9-6l10 2l9 9l10-14l9 1l10 3l9-10l10 12l9-15l10 10l9-9l10 7l9 7l9-6l10 1l9 0l10 0l9 10l10-4l9 1l10 7l9 6l10 2l9-5l10 2l9 9l10 4l9-9l10 12l9-7l10 4l9 4l10-9l9-1l10-9l9-6l10 7l9-8l9-3l10 3l9-2l10-15l9 5l10-4l9-2l10-4l9 0l10-8l9-4l10 5l9 3l10-7l9 6l10-4l9-8l10-4l9 9l10 7l9-7l10 15l9-5l10-7l9 6l9 12l10 5l9-8l10 8l9 6l10-1l9 7l10 9l9-9l10 9l9 3l10 3l9-6l10 4l9-7l10 2l9-8l10 3l9-2l10 2l9-8l10-13l9-15l10 14l9-6l9-11l10-6l9 1l10-8l9 3l10-9l9-8l10-6l9 6l10-2l9-4l10-4l9 3l10 5l9-4l10-1l9 9l10 5l9-5l10 3l9 1l10 8l9 8l10 3l9 8l9 4l10 4l9 4l10-2l9 14l10-2l9 6l10-7l9 7l10 3l9-5l10 2l9 0l10-11l9-1l10-9l9-2l10-5l9-3l10-2l9-15l10-4l9-10l10-4l9-4l9-5l10-13l9-8l10 1l9-7l10-8l9 6l10-5l9 2l10-11l9 3l10 3l9 7l10-5l9-2l10 9l9 4l10 1l9 13l10 1l9 5l10 13l9 8l10 4l9 10l9 9l10 6l9 8l10 13l9 6l10 1l9 2l10 4l9 12l10-7l9 1l10 2l9-5l10-6l9-10l10 5l9-15l10-6l9-10l10-17l9-10l10-4l9-15l10-14l9-5l9-21l10-7l9-11l10-11l9-15l10 0l9-5l10-15l9 5l10-4l9 1l10-11l9 3l10 1l9 5l10 5l9 9l10 8l9 4l10 11l9 6l10 23l9 13l10 17l9 6l9 27l10 7l9 13l10 21l9 11l10 24l9 3l10 14l9-1l10 4l9 4l10-10l9-2l10-4l9-11l10-9l9-21l10-27l9-8l10-25l9-18l10-28l9-22l10-20l9-17l9-29l10-30l9-16l10-25l9-16l10-12l9-27l10-14l9-9l10-10l9-10l10 0l9-5l10 4l9 15l10-2l9 14l10 15l9 13l10 25l9 20l10 25l9 35l10 41l9 31l9 29l10 40l9 36l10 28l9 26l10 26l9 20l10 24l9 13l10 12l9 9l10 17l9-1l10 9l9-8l10 2l9 1l10 4l9 4l10-9l9-1l10-13l9-8l10-22l9-33l9-44l10-43l9-75l10-83l9-80l10-119l9-126l10-146l9-150l10-157l9-156l10-141l9-120l10-95l9-66l10-29l9 9l10 60l9 99l10 142l9 150l10 169l9 181l10 175l9 143l9 143l10 125l9 81l10 70l9 56l10 37l9 31l10 22l9 21l10 5l9 0l10 1l9 9l10-1l9-4l10 11l9 0l10-7l9-2l10 3l9 8l10-10l9 6l10-9l9 3l9-1l10-2l9 5l10-5l9-2l10 3l9-4l10 9l9-7l10 3l9 5l10-4l9 2l10 0l9-3l10-4l9 6l10-2l9 6l10-7l9-4l10 1l9 0l10 4l9 0l9-5l10 4l9-3l10-13l9 4l10-16l9 8l10-15l9-3l10-16l9-8l10-21l9-18l10-22l9-30l10-36l9-28l10-48l9-46l10-55l9-72l10-53l9-86l10-84l9-104l9-108l10-134l9-111l10-141l9-142l10-144l9-162l10-169l9-162l10-171l9-174l10-163l9-171l10-169l9-157l10-141l9-138l10-124l9-107l10-93l9-69l10-53l9-25l10-12l9 44l9 154l10 222l9 302l10 346l9 363l10 379l9 359l10 329l9 287l10 236l9 223l10 151l9 124l10 87l9 72l10 55l9 15l10 31l9 9l10 13l9 4l10 1l9-4l10 0l9 7l9-4l10 4l9-2l10-1l9-2l10 6l9-2l10-2l9 1l10 4l9-11l10 9l9-5l10 2l9-4l10 14l9-18l10 10l9 4l10-5l9-9l10 7l9 7l10-3l9-8l9 12l10-5l9 0l10-10l9 10l10-6l9 8l10 1l9-8l10 1l9 10l10-10l9 0l10 6l9-4l10 0l9 3l10 1l9 0l10-2l9 5l10-6l9 6l10-6l9 0l9 5l10-8l9-5l10 2l9 12l10-11l9 4l10 1l9 3l10-3l9-6l10 3l9 4l10 1l9-2l10-5l9-8l10 11l9-8l10-3l9-5l10-14l9-12l10-8l9-22l9-35l10-29l9-42l10-45l9-59l10-73l9-77l10-88l9-106l10-114l9-109l10-132l9-123l10-116l9-122l10-109l9-98l10-80l9-51l10-38l9-24l10 9l9 17l10 30l9 36l9 64l10 52l9 78l10 70l9 79l10 98l9 81l10 93l9 89l10 87l9 90l10 82l9 71l10 72l9 74l10 66l9 41l10 57l9 48l10 47l9 33l10 27l9 32l10 12l9 25l9 15l10 19l9 10l10 9l9 2l10 8l9 4l10-1l9 2l10-6l9 6l10 0l9-9l10-13l9-1l10-14l9-14l10-22l9-22l10-22" stroke="none" fill="none" marker-start="url(#m54)" marker-mid="url(#m54)" marker-end="url(#m54)"/><path d="M1797 13938l9-5l10 0l9 1l10 0l9 5l10 1l9-5l10 10l9-3l10 8l9-4l10 3l9 4l10-6l9 8l10 1l9 1l10 4l9-7l10 10l9-2l10 7l9-3l10 0l9-1l9 0l10-4l9-8l10 5l9-3l10-1l9-16l10 1l9 2l10-3l9 3l10-5l9-4l10-2l9 3l10-2l9-7l10 0l9 9l10-9l9-6l10 8l9-3l10 7l9-9l9 9l10 2l9-2l10-10l9 15l10 4l9-5l10 4l9-4l10 15l9 4l10-4l9-1l10 2l9-2l10 12l9-2l10-3l9-5l10 0l9 2l10 1l9-11l10-3l9-11l9 9l10-11l9 9l10-7l9-2l10-5l9-1l10-4l9-5l10 0l9-7l10 2l9-2l10-7l9 4l10 1l9 0l10 0l9-1l10 6l9-6l10 0l9 3l10 10l9 7l9-2l10 1l9 0l10 8l9 4l10-4l9 12l10-4l9 3l10 12l9-5l10 4l9 2l10 4l9-2l10-10l9 1l10-6l9 3l10-7l9-5l10 1l9-4l10-14l9-4l9 0l10-9l9-7l10-9l9 7l10-10l9-9l10 6l9-8l10 15l9-18l10 5l9 8l10-11l9-1l10 1l9 2l10 7l9 6l10 2l9 1l10 3l9 8l10 2l9 1l9 7l10-3l9 5l10 18l9 2l10 6l9 2l10-5l9 8l10 1l9-3l10-6l9 3l10-3l9-9l10-3l9-5l10-8l9 2l10-12l9-3l10-14l9-6l10 1l9-17l9 4l10-15l9-2l10 0l9-4l10-7l9-4l10 0l9-7l10 7l9-7l10 1l9 9l10-8l9 9l10 9l9-4l10 3l9 1l10 12l9-1l10 7l9 9l10 7l9 13l9 12l10 3l9 6l10 11l9 8l10 12l9-5l10 6l9 9l10-4l9-3l10 2l9-7l10-4l9 4l10-12l9-11l10-11l9-12l10 3l9-19l10-15l9-14l10-13l9-1l9-13l10-8l9-18l10-1l9-19l10-7l9-5l10 6l9-11l10-10l9 7l10-6l9 0l10-3l9 6l10 4l9 9l10 6l9 9l10 7l9 15l10 8l9 25l10 2l9 21l9 10l10 20l9 12l10 12l9 22l10 9l9 12l10 6l9 14l10-3l9 1l10 0l9-7l10-2l9-23l10-9l9-21l10-6l9-17l10-26l9-13l10-31l9-18l10-25l9-25l9-22l10-31l9-16l10-13l9-29l10-9l9-22l10-9l9-14l10-19l9 1l10-3l9-1l10 1l9-2l10 19l9 11l10 6l9 25l10 14l9 16l10 30l9 30l10 30l9 33l9 31l10 30l9 28l10 31l9 35l10 27l9 17l10 31l9 11l10 14l9 16l10 9l9 3l10 14l9 2l10 3l9-1l10 7l9-11l10 4l9-6l10-9l9-12l10-19l9-37l9-34l10-49l9-68l10-73l9-101l10-110l9-124l10-148l9-141l10-163l9-144l10-147l9-126l10-95l9-62l10-34l9 8l10 54l9 91l10 119l9 148l10 174l9 162l10 163l9 155l9 143l10 110l9 108l10 71l9 58l10 61l9 25l10 23l9 17l10 15l9 5l10 9l9-4l10 0l9 6l10 2l9-2l10-2l9 0l10 1l9-1l10 6l9 6l10-14l9-4l9 12l10-3l9-4l10-3l9 2l10-3l9 6l10-2l9 0l10 3l9-7l10 3l9-2l10 6l9-6l10 8l9-6l10 12l9-7l10-7l9 4l10-3l9 6l10-14l9 2l9 1l10-5l9-2l10-9l9 0l10 1l9-12l10-15l9-8l10-9l9-20l10-17l9-24l10-16l9-33l10-42l9-37l10-49l9-59l10-51l9-70l10-72l9-84l10-94l9-96l9-108l10-134l9-122l10-141l9-140l10-152l9-159l10-162l9-158l10-178l9-159l10-172l9-173l10-148l9-157l10-134l9-134l10-115l9-104l10-80l9-68l10-55l9-22l10-14l9 35l9 125l10 193l9 254l10 292l9 329l10 337l9 339l10 313l9 305l10 270l9 219l10 192l9 156l10 131l9 84l10 78l9 53l10 44l9 18l10 21l9 6l10 15l9 9l10-3l9 7l9-5l10 7l9-3l10 0l9-1l10 3l9 1l10-3l9 2l10-3l9 2l10 8l9-9l10-6l9 4l10-1l9 1l10 3l9 4l10-9l9-1l10 2l9 1l10 0l9 2l9-2l10 1l9-1l10 5l9-1l10-5l9 4l10 8l9-10l10 10l9-17l10 4l9 1l10 5l9 2l10-4l9-1l10 4l9-4l10-2l9 0l10 7l9 4l10-9l9 3l9-4l10-5l9 0l10 5l9-3l10-2l9 6l10-1l9-2l10 3l9 2l10 0l9-3l10 1l9-7l10 3l9-10l10-2l9 5l10-16l9-3l10-19l9-11l10-18l9-27l9-26l10-41l9-46l10-52l9-65l10-67l9-89l10-85l9-108l10-108l9-115l10-112l9-133l10-102l9-112l10-97l9-98l10-66l9-61l10-28l9-20l10 7l9 11l10 33l9 41l9 44l10 65l9 66l10 67l9 90l10 72l9 91l10 90l9 83l10 86l9 89l10 80l9 74l10 74l9 72l10 66l9 59l10 51l9 42l10 43l9 38l10 28l9 36l10 24l9 21l9 8l10 31l9 2l10 9l9 10l10-3l9 9l10 4l9 8l10-5l9 2l10-5l9-6l10-5l9-14l10-17l9-13l10-16l9-15l10-39" stroke="none" fill="none" marker-start="url(#m55)" marker-mid="url(#m55)" marker-end="url(#m55)"/><path d="M1797 13933l9 5l10 1l9-4l10 6l9-6l10 8l9 0l10-3l9 7l10-4l9-1l10 9l9-7l10 8l9-3l10 4l9 5l10 2l9 6l10-2l9 1l10-8l9 2l10 10l9-9l9 1l10 1l9-5l10-4l9 3l10-3l9-5l10 2l9-8l10-1l9-1l10-1l9-7l10-5l9 1l10 3l9-8l10 2l9-3l10-3l9 8l10-3l9 2l10 2l9-11l9 5l10 12l9-7l10 5l9-5l10 6l9 4l10 1l9 1l10 4l9 3l10 2l9-1l10 8l9-3l10 1l9 2l10-5l9 8l10-5l9 0l10-8l9 2l10-5l9-4l9 4l10-11l9 1l10-5l9-4l10-7l9-3l10-6l9 3l10 1l9-2l10-6l9-5l10 4l9 3l10-4l9 0l10 1l9 4l10 8l9-6l10-5l9 5l10 12l9-6l9 10l10-12l9 10l10 9l9-4l10 9l9-2l10 5l9 7l10-5l9 10l10-10l9 6l10 4l9 2l10-15l9-2l10 8l9-15l10 3l9-3l10-5l9-4l10-12l9 1l9 3l10-21l9 1l10 3l9-6l10-2l9-6l10-4l9-2l10 2l9-1l10-7l9 3l10-9l9 13l10-5l9 4l10 6l9-6l10 8l9 8l10 1l9-1l10 13l9-6l9 8l10 8l9-2l10 3l9 8l10 5l9-4l10 4l9 11l10-2l9 0l10-1l9 3l10-13l9 0l10-5l9-10l10 2l9-8l10-8l9-4l10-8l9-10l10-4l9-12l9 2l10-9l9 1l10-10l9-2l10-13l9 0l10-2l9-7l10 0l9 3l10 6l9 4l10-4l9 4l10 4l9 3l10 10l9-7l10 16l9 5l10 2l9 16l10-2l9 8l9 13l10 11l9 5l10 13l9-7l10 11l9 8l10 5l9-4l10-2l9 11l10-4l9 1l10-14l9-3l10-15l9 1l10-7l9-9l10-17l9-1l10-20l9-10l10-8l9-10l9-19l10-14l9 0l10-13l9-14l10 2l9-8l10-2l9-9l10-4l9-1l10 0l9 4l10 1l9 1l10-2l9 11l10 8l9 3l10 10l9 17l10 12l9 8l10 15l9 20l9 11l10 16l9 10l10 22l9 6l10 13l9 16l10 0l9 6l10 12l9-13l10 11l9-6l10-10l9-15l10-11l9-12l10-23l9-14l10-24l9-27l10-11l9-10l10-32l9-20l9-27l10-22l9-16l10-21l9-23l10-18l9-7l10-29l9-8l10-9l9-8l10 2l9-5l10-3l9 5l10 10l9 13l10 15l9 7l10 21l9 24l10 30l9 20l10 31l9 16l9 35l10 35l9 28l10 18l9 34l10 37l9 19l10 26l9 21l10 9l9 4l10 15l9 16l10 10l9 4l10 1l9 14l10 4l9-16l10 5l9-11l10-3l9-18l10-11l9-32l9-42l10-47l9-57l10-84l9-88l10-108l9-134l10-144l9-146l10-144l9-159l10-139l9-119l10-90l9-84l10-34l9 5l10 54l9 83l10 105l9 143l10 158l9 167l10 160l9 157l9 138l10 125l9 98l10 87l9 60l10 53l9 44l10 16l9 32l10 7l9 6l10 5l9 18l10-11l9 0l10 0l9 16l10-6l9-3l10 2l9-8l10 9l9-8l10 3l9 8l9-2l10-2l9-2l10-4l9 5l10-5l9 11l10 6l9-12l10-3l9 3l10 3l9-6l10-7l9 9l10 2l9 1l10-13l9 8l10-3l9-3l10-1l9 8l10-10l9-1l9-1l10-6l9 3l10-6l9-4l10-13l9-2l10-15l9-6l10-19l9-17l10-21l9-26l10-27l9-33l10-30l9-57l10-42l9-58l10-61l9-78l10-71l9-93l10-98l9-106l9-111l10-118l9-122l10-148l9-144l10-150l9-156l10-157l9-161l10-173l9-165l10-154l9-168l10-151l9-150l10-135l9-129l10-114l9-98l10-74l9-75l10-45l9-24l10-18l9 44l9 94l10 165l9 232l10 261l9 298l10 313l9 326l10 302l9 295l10 267l9 243l10 203l9 180l10 145l9 115l10 98l9 68l10 58l9 39l10 33l9 15l10 12l9 16l10 2l9 6l9 9l10-4l9-3l10 8l9 6l10-8l9 3l10-10l9 8l10 0l9 3l10-4l9 3l10 2l9-4l10 3l9-9l10 11l9-5l10 3l9 3l10-13l9 16l10-15l9 12l9-7l10-9l9 19l10-3l9-12l10 5l9 3l10-2l9 4l10-5l9-5l10 7l9-2l10-4l9-3l10 10l9-3l10 3l9 1l10-1l9 1l10 4l9 1l10-5l9-4l9-4l10 7l9-1l10-4l9 0l10 3l9 0l10-8l9 9l10 0l9 4l10-9l9 2l10-10l9 7l10-7l9-4l10-8l9 6l10-20l9-4l10-14l9-17l10-22l9-29l9-25l10-53l9-47l10-53l9-70l10-85l9-76l10-89l9-108l10-96l9-113l10-111l9-114l10-114l9-104l10-90l9-86l10-70l9-51l10-36l9-12l10 3l9 11l10 31l9 31l9 50l10 59l9 63l10 71l9 75l10 80l9 86l10 89l9 77l10 87l9 88l10 78l9 80l10 76l9 68l10 53l9 66l10 54l9 55l10 39l9 32l10 41l9 27l10 25l9 25l9 15l10 21l9 12l10 15l9-5l10 16l9 6l10-2l9 10l10-2l9 1l10-6l9-4l10-12l9-7l10-11l9-18l10-20l9-22l10-34" stroke="none" fill="none" marker-start="url(#m56)" marker-mid="url(#m56)" marker-end="url(#m56)"/><path d="M1797 13934l9 2l10 6l9-7l10 8l9-6l10 1l9 4l10 1l9 1l10-10l9 11l10 1l9-3l10 5l9-1l10 11l9 2l10-17l9 16l10 3l9-1l10-3l9 10l10-6l9 0l9-4l10 1l9 1l10-1l9 5l10-17l9 7l10-7l9-11l10 6l9-7l10 1l9-6l10 1l9 0l10-9l9 5l10 4l9-5l10-4l9 6l10-8l9 0l10-5l9 12l9-4l10 11l9-4l10-1l9 1l10 4l9 2l10 4l9 2l10-1l9 1l10 2l9 1l10 0l9 14l10-5l9-1l10 2l9-8l10 0l9 2l10-3l9-7l10 4l9-3l9-8l10-2l9-7l10 1l9-5l10 2l9-1l10-6l9 8l10-15l9-4l10 2l9 0l10-6l9 4l10-5l9-5l10 6l9 0l10 3l9 2l10 2l9 3l10-2l9 13l9-2l10-1l9 9l10 0l9 6l10-1l9 1l10 0l9 7l10 7l9-3l10 0l9-3l10 14l9-11l10 8l9-13l10-2l9-3l10-5l9-2l10-1l9-8l10-8l9 0l9-5l10 0l9-14l10 3l9-3l10-4l9-2l10-5l9-8l10 0l9-4l10-1l9 10l10-6l9-3l10-2l9 16l10 3l9-6l10 7l9 6l10-2l9 9l10 10l9-5l9 4l10 3l9 3l10 7l9 5l10 5l9 7l10-3l9-4l10 1l9-6l10 8l9 5l10-13l9-5l10 5l9-3l10-13l9-8l10 1l9-10l10-5l9-5l10-6l9-12l9-4l10-5l9 3l10-23l9 7l10-7l9 1l10-9l9 6l10-8l9 1l10-5l9 10l10 0l9 0l10-6l9 18l10-2l9 9l10 2l9 5l10 9l9 7l10 7l9 12l9 6l10 14l9 2l10 8l9 4l10 2l9 6l10 3l9 0l10 15l9-11l10 0l9-2l10 0l9-13l10-9l9-7l10-4l9-13l10-11l9-14l10-9l9-7l10-11l9-11l9-11l10-7l9-15l10-4l9-7l10-13l9-3l10-7l9 3l10-15l9 1l10 0l9-3l10 3l9 7l10-7l9 16l10 1l9 5l10 20l9 8l10 16l9 5l10 20l9 17l9 5l10 16l9 22l10 5l9 17l10 1l9 13l10 17l9 4l10 6l9-4l10-2l9-7l10-5l9-3l10-15l9-24l10-15l9-12l10-20l9-20l10-22l9-15l10-32l9-16l9-25l10-11l9-33l10-24l9-5l10-33l9-12l10-9l9-8l10-21l9-3l10-5l9 3l10 4l9-2l10 14l9 2l10 23l9 11l10 18l9 8l10 33l9 21l10 17l9 29l9 20l10 30l9 34l10 29l9 38l10 23l9 22l10 22l9 24l10 16l9 15l10 6l9 13l10 13l9 7l10 4l9 8l10 1l9 7l10-11l9-5l10-6l9-13l10-19l9-33l9-29l10-43l9-63l10-84l9-95l10-108l9-126l10-135l9-140l10-155l9-145l10-145l9-120l10-106l9-70l10-29l9-11l10 39l9 86l10 103l9 132l10 155l9 154l10 162l9 148l9 144l10 125l9 104l10 87l9 73l10 59l9 43l10 30l9 23l10 12l9 11l10 8l9 4l10 2l9-4l10 3l9 8l10-4l9 3l10-1l9 1l10 2l9 3l10 4l9-11l9-4l10 9l9-6l10 4l9-3l10 4l9-2l10-1l9 10l10-11l9 1l10 10l9-13l10 3l9-2l10 0l9 2l10 3l9-3l10-1l9-12l10 0l9 8l10-2l9-5l9-4l10 2l9-4l10-17l9-3l10 3l9-9l10-16l9-18l10-17l9-16l10-17l9-34l10-33l9-32l10-39l9-51l10-49l9-55l10-71l9-67l10-91l9-88l10-91l9-111l9-119l10-108l9-139l10-145l9-132l10-156l9-150l10-165l9-152l10-167l9-167l10-163l9-157l10-151l9-147l10-132l9-123l10-104l9-99l10-95l9-61l10-40l9-29l10-11l9 36l9 83l10 160l9 200l10 232l9 291l10 282l9 309l10 294l9 285l10 270l9 244l10 222l9 188l10 167l9 131l10 115l9 79l10 78l9 45l10 44l9 29l10 16l9 20l10 19l9-3l9 19l10-10l9 5l10 6l9-6l10 3l9-10l10 11l9-10l10 2l9 9l10 1l9-9l10 6l9-2l10 2l9 4l10-3l9 2l10 3l9-6l10-8l9 0l10 7l9 0l9-2l10-4l9 5l10 3l9 0l10-7l9-6l10 14l9 6l10-12l9 3l10 0l9-5l10 5l9 6l10 2l9-8l10 5l9-6l10 7l9-4l10 4l9-4l10 0l9-4l9-4l10 7l9 3l10-12l9 6l10-1l9 0l10-4l9 2l10 1l9-1l10 6l9-2l10-4l9-4l10-3l9-5l10-5l9-6l10-5l9-23l10-16l9-14l10-31l9-31l9-35l10-36l9-54l10-62l9-78l10-65l9-87l10-88l9-101l10-108l9-97l10-105l9-123l10-103l9-96l10-98l9-79l10-53l9-59l10-39l9-8l10 0l9 8l10 30l9 39l9 43l10 57l9 54l10 79l9 63l10 91l9 75l10 91l9 80l10 79l9 83l10 80l9 84l10 73l9 69l10 63l9 64l10 49l9 53l10 41l9 43l10 34l9 37l10 25l9 27l9 16l10 16l9 9l10 21l9-10l10 22l9-1l10 5l9 17l10-10l9-9l10 13l9-19l10-1l9-12l10-17l9-7l10-30l9-20l10-28" stroke="none" fill="none" marker-start="url(#m57)" marker-mid="url(#m57)" marker-end="url(#m57)"/><path d="M1797 13934l9-12l10 14l9-1l10 3l9 3l10-3l9-5l10 6l9-1l10 6l9-11l10 20l9-8l10 2l9 3l10 8l9 2l10-2l9 0l10 7l9 1l10-6l9-2l10 7l9 0l9-1l10-15l9 7l10 0l9-7l10-8l9 2l10 9l9-9l10-1l9-3l10 1l9-5l10 1l9-8l10 0l9 5l10 0l9-6l10-6l9 1l10 2l9 14l10-11l9 1l9-1l10 5l9-2l10 3l9-13l10 11l9 6l10 1l9 3l10 1l9 4l10 1l9-3l10 2l9 4l10-4l9 5l10 5l9 3l10-6l9-4l10-4l9-6l10 5l9-2l9-10l10-5l9 4l10-7l9-8l10 2l9-1l10 6l9-17l10 0l9 1l10 1l9 2l10-6l9-1l10-5l9 10l10-11l9 6l10-4l9 11l10-4l9-2l10 7l9 9l9-2l10-1l9 12l10 3l9-4l10 8l9-4l10 11l9 5l10-3l9-8l10 11l9-3l10-2l9 5l10-10l9 1l10-3l9 5l10-3l9 0l10-15l9-4l10-9l9-8l9 3l10-4l9-8l10-8l9 6l10-10l9 1l10-2l9-7l10 5l9 0l10-8l9 3l10 1l9 0l10-2l9 6l10-3l9 4l10-2l9 4l10 6l9 8l10 3l9 7l9-10l10 17l9 1l10 1l9 15l10 1l9 1l10 4l9 2l10-2l9-8l10 1l9 1l10-3l9 4l10-14l9-4l10 1l9-11l10-5l9-5l10-4l9-8l10-6l9-12l9-5l10-6l9-3l10-4l9-15l10 13l9-16l10 1l9 0l10 1l9-2l10 5l9 2l10-4l9 9l10-8l9 3l10 24l9-3l10-2l9 6l10 8l9 5l10 6l9 7l9 4l10 15l9 3l10 18l9-1l10 10l9-6l10-1l9 10l10 9l9-5l10-2l9-4l10-8l9-4l10 9l9-25l10-1l9-9l10-18l9-3l10-6l9-12l10-16l9-15l9-13l10-3l9-8l10-18l9 0l10-15l9-1l10-6l9-3l10-5l9 1l10 0l9-3l10 4l9-1l10 5l9 7l10 7l9 8l10 1l9 19l10 14l9 12l10 9l9 18l9 14l10 14l9 12l10 12l9 12l10 20l9 7l10 14l9-10l10 2l9 0l10 2l9-9l10-2l9-9l10-6l9-17l10-17l9-24l10-21l9-11l10-24l9-21l10-17l9-18l9-26l10-18l9-26l10-20l9-19l10-18l9-18l10-8l9-19l10 1l9-14l10-5l9 4l10 5l9-5l10 12l9 3l10 11l9 17l10 15l9 13l10 22l9 26l10 19l9 23l9 27l10 27l9 30l10 27l9 31l10 28l9 14l10 30l9 17l10 27l9 9l10 19l9-4l10 28l9 9l10-1l9 5l10 17l9-8l10-3l9 5l10-15l9-7l10-17l9-29l9-35l10-44l9-76l10-65l9-90l10-115l9-120l10-142l9-139l10-153l9-147l10-140l9-122l10-102l9-80l10-29l9-4l10 34l9 67l10 103l9 125l10 155l9 147l10 158l9 151l9 138l10 135l9 100l10 92l9 82l10 54l9 39l10 43l9 21l10 21l9 15l10 9l9 4l10-4l9 4l10 8l9-6l10 5l9 3l10-5l9 6l10 3l9-12l10 13l9-10l9 9l10-7l9 1l10 1l9 7l10-8l9-1l10 4l9-4l10-4l9 7l10-4l9 5l10-6l9-2l10-8l9 7l10 1l9-5l10 9l9-9l10 5l9-1l10-10l9 1l9-8l10 8l9-13l10-2l9-9l10-2l9-23l10-10l9-10l10-16l9-23l10-34l9-22l10-32l9-41l10-41l9-49l10-57l9-60l10-70l9-68l10-89l9-89l10-102l9-107l9-113l10-125l9-137l10-132l9-141l10-158l9-157l10-152l9-162l10-157l9-163l10-163l9-153l10-145l9-139l10-125l9-129l10-108l9-97l10-83l9-56l10-48l9-19l10-20l9 28l9 80l10 139l9 184l10 218l9 261l10 268l9 283l10 294l9 281l10 260l9 249l10 224l9 200l10 180l9 145l10 121l9 109l10 83l9 69l10 43l9 35l10 43l9 13l10 15l9 18l9 7l10 8l9 3l10-1l9-1l10 4l9-3l10 3l9 6l10-10l9 1l10 8l9-11l10 6l9 1l10-7l9 18l10-3l9-10l10 4l9 3l10-10l9 4l10 7l9-2l9-7l10-4l9 16l10-9l9 2l10 6l9-6l10 6l9-5l10-9l9 5l10-1l9 0l10 1l9-2l10 9l9-4l10-5l9 7l10-1l9-7l10-2l9 9l10 1l9-6l9 2l10 4l9-6l10 0l9 2l10-12l9 7l10 1l9-1l10-9l9 7l10 7l9-6l10-2l9 0l10-8l9-5l10-6l9-8l10-17l9-5l10-28l9-20l10-29l9-22l9-57l10-32l9-57l10-68l9-64l10-77l9-77l10-99l9-99l10-103l9-101l10-107l9-105l10-96l9-95l10-98l9-64l10-72l9-44l10-38l9-7l10-4l9 13l10 25l9 31l9 48l10 49l9 62l10 62l9 77l10 83l9 76l10 82l9 87l10 74l9 87l10 78l9 85l10 72l9 64l10 75l9 53l10 57l9 53l10 44l9 46l10 30l9 39l10 28l9 13l9 29l10 24l9 2l10 19l9 22l10-7l9 2l10 6l9-4l10 8l9-4l10 3l9-11l10-14l9-6l10-13l9-8l10-28l9-20l10-38" stroke="none" fill="none" marker-start="url(#m58)" marker-mid="url(#m58)" marker-end="url(#m58)"/><path d="M1797 13940l9-4l10 5l9-12l10 13l9-5l10-10l9 11l10 6l9-6l10 0l9 2l10 14l9-8l10 12l9-15l10 9l9 5l10-3l9 2l10 8l9-10l10 8l9 7l10-14l9-1l9 1l10 1l9 5l10-10l9-6l10 2l9-6l10 7l9-10l10-2l9 7l10-1l9-6l10-6l9-3l10 1l9-1l10-1l9-2l10-3l9 0l10 3l9-1l10 3l9-5l9 7l10-8l9 8l10 0l9 6l10 1l9-1l10 3l9 5l10 5l9-3l10 1l9 0l10-2l9 8l10 8l9-8l10 7l9-3l10-11l9 1l10 3l9-2l10-5l9 4l9-13l10 1l9-13l10 9l9-11l10 4l9-10l10 6l9-10l10 3l9 0l10-5l9-4l10 0l9-6l10 3l9 14l10-9l9 8l10-6l9-3l10 10l9 1l10-4l9 5l9-6l10 8l9 3l10-3l9 13l10 1l9 7l10-3l9-1l10 1l9 7l10 4l9 0l10 3l9-7l10-7l9 14l10-4l9-18l10 9l9-12l10 3l9-14l10-4l9-2l9-7l10-1l9-7l10-9l9-1l10 5l9-3l10-5l9-2l10-3l9 2l10-6l9 2l10-1l9 2l10-2l9 10l10-10l9 8l10 2l9 3l10 1l9 5l10 7l9 5l9 11l10-4l9 6l10 4l9-8l10 21l9-5l10-4l9 3l10-1l9 10l10-2l9-9l10 1l9-12l10 3l9-5l10-6l9-3l10-8l9-3l10-9l9-4l10-10l9 1l9-5l10-14l9-4l10 0l9-7l10 0l9-17l10 13l9-15l10 9l9-6l10 4l9 1l10-4l9 3l10 8l9 6l10-8l9 8l10 11l9 8l10 4l9 7l10 3l9 16l9 3l10 11l9-2l10 4l9 14l10 3l9 0l10 11l9 5l10-8l9 2l10 2l9-10l10 1l9 4l10-16l9-5l10-17l9-1l10-9l9-13l10-9l9-4l10-17l9-9l9-18l10-14l9 6l10-10l9-8l10-8l9-7l10-8l9-9l10 7l9-2l10 1l9-13l10 1l9 15l10 4l9-2l10 3l9 8l10 13l9 9l10 13l9 16l10 3l9 21l9 19l10 11l9 18l10 6l9 7l10 21l9-2l10 3l9 12l10 10l9-1l10-5l9 0l10-7l9-14l10-12l9-17l10-8l9-30l10-15l9-18l10-14l9-31l10-12l9-31l9-18l10-12l9-22l10-30l9-15l10-12l9-17l10-14l9-7l10-12l9-4l10-5l9-5l10 8l9-4l10 9l9 6l10 9l9 11l10 17l9 16l10 21l9 17l10 27l9 20l9 20l10 29l9 24l10 33l9 16l10 34l9 21l10 25l9 17l10 25l9 21l10 19l9 7l10 16l9 3l10 4l9 22l10 1l9-4l10-4l9 2l10-7l9-12l10-18l9-31l9-30l10-39l9-63l10-78l9-86l10-109l9-121l10-134l9-150l10-144l9-145l10-140l9-128l10-111l9-66l10-46l9-3l10 42l9 55l10 102l9 123l10 138l9 137l10 167l9 145l9 133l10 129l9 122l10 88l9 80l10 62l9 46l10 43l9 27l10 13l9 28l10 4l9 3l10 12l9 0l10 5l9-6l10 4l9-5l10-1l9 4l10 2l9-3l10 1l9 6l9-10l10 4l9-3l10 9l9-9l10-6l9 7l10 9l9-7l10 1l9-2l10 2l9-3l10 4l9-4l10 4l9-4l10-4l9 5l10-6l9 5l10-3l9-3l10-9l9 6l9-13l10 7l9-11l10-12l9-7l10-2l9-11l10-23l9-8l10-27l9-17l10-29l9-40l10-31l9-37l10-35l9-58l10-55l9-63l10-77l9-65l10-94l9-93l10-97l9-120l9-104l10-130l9-132l10-129l9-147l10-152l9-161l10-158l9-157l10-158l9-147l10-166l9-149l10-152l9-139l10-133l9-111l10-106l9-85l10-82l9-56l10-54l9-19l10-14l9 25l9 74l10 120l9 173l10 202l9 242l10 247l9 279l10 268l9 267l10 283l9 241l10 226l9 200l10 191l9 156l10 141l9 110l10 102l9 69l10 78l9 44l10 21l9 36l10 26l9 2l9 17l10 8l9 12l10 0l9 3l10 11l9-8l10 4l9-6l10 0l9 9l10 0l9-3l10-2l9 4l10-1l9-3l10 1l9-3l10 4l9 5l10 3l9-11l10 5l9 0l9 0l10 6l9-6l10 10l9-10l10 3l9-12l10 6l9 3l10-2l9-2l10 6l9-2l10 0l9-12l10 10l9 9l10-12l9-8l10 16l9-20l10 16l9-5l10 7l9-1l9 4l10-1l9 5l10-15l9 10l10-7l9 0l10 4l9-3l10-1l9 1l10-4l9-2l10 2l9-3l10-7l9-11l10-14l9-11l10-8l9-20l10-17l9-29l10-26l9-36l9-39l10-49l9-64l10-49l9-76l10-74l9-91l10-94l9-86l10-88l9-116l10-102l9-91l10-103l9-92l10-73l9-86l10-60l9-46l10-27l9-17l10-1l9 6l10 28l9 21l9 47l10 61l9 42l10 72l9 74l10 73l9 88l10 72l9 95l10 76l9 71l10 81l9 84l10 77l9 61l10 70l9 60l10 55l9 59l10 38l9 55l10 22l9 46l10 25l9 25l9 16l10 18l9 17l10 13l9 10l10 11l9 15l10 6l9 2l10-10l9 0l10-5l9-7l10-7l9-7l10-12l9-16l10-36l9-23l10-19" stroke="none" fill="none" marker-start="url(#m59)" marker-mid="url(#m59)" marker-end="url(#m59)"/><path d="M1797 13938l9-3l10-5l9 10l10-3l9-4l10 13l9-4l10-2l9 4l10-11l9 7l10 4l9 7l10-6l9 3l10 7l9 1l10 7l9-5l10-3l9 0l10 3l9-1l10 6l9-1l9-8l10 2l9 4l10-8l9-3l10-2l9 0l10 0l9-7l10-8l9 5l10 1l9-7l10 5l9-8l10 1l9-7l10 3l9-5l10-6l9 11l10 2l9-5l10 3l9-1l9 4l10-4l9 4l10 11l9-7l10 0l9-2l10 10l9 3l10-7l9 10l10-1l9 0l10 0l9 4l10 6l9-9l10 6l9 0l10-13l9 4l10 6l9-4l10-4l9-1l9 3l10-15l9-4l10 0l9 0l10-6l9-5l10 5l9-5l10-1l9-8l10 1l9 5l10-4l9-11l10 12l9-5l10 4l9-8l10 7l9 2l10 5l9-2l10-3l9 3l9 12l10-10l9 11l10 6l9-2l10 6l9 3l10 2l9 0l10 4l9 7l10-9l9 4l10-7l9 2l10-2l9 0l10-8l9 5l10-1l9-10l10 10l9-15l10-7l9-2l9-11l10-2l9-2l10-1l9-11l10 5l9-4l10-8l9-1l10-8l9 9l10 6l9-11l10-3l9 7l10-6l9 0l10 13l9 1l10 7l9-5l10 2l9 5l10 12l9 2l9 7l10 5l9 2l10 5l9-3l10 0l9 2l10 4l9 4l10-2l9-3l10 3l9-4l10-1l9-2l10-7l9 1l10-15l9 6l10-15l9 2l10-19l9-3l10 1l9-8l9-2l10-11l9-7l10-14l9 13l10-15l9 5l10-6l9-4l10 0l9 0l10 3l9 0l10 1l9-2l10 14l9 0l10 7l9 4l10 5l9-3l10 2l9 10l10 18l9 2l9 12l10 0l9 3l10 10l9 4l10 9l9 12l10 4l9-7l10-2l9-3l10 6l9-5l10-5l9-8l10-1l9-3l10-18l9-6l10-9l9-3l10-15l9-3l10-10l9-18l9-9l10-14l9-13l10-2l9-16l10 3l9-12l10 3l9-10l10-2l9-2l10-5l9 11l10-7l9 7l10-1l9 5l10 10l9 8l10 12l9 3l10 17l9 7l10 21l9 1l9 23l10 4l9 20l10 8l9 15l10 6l9 12l10 1l9 7l10 3l9-4l10 8l9-13l10-2l9-2l10-20l9-10l10-24l9-7l10-20l9-20l10-10l9-31l10-14l9-31l9-22l10-14l9-13l10-27l9-18l10-19l9-11l10-10l9-16l10-5l9-19l10 7l9-1l10-2l9 9l10 2l9 7l10 11l9 11l10 6l9 19l10 24l9 14l10 15l9 27l9 20l10 24l9 22l10 29l9 25l10 28l9 19l10 29l9 10l10 28l9 20l10 12l9 19l10 12l9 12l10 12l9 9l10 5l9-5l10 9l9-3l10-6l9-16l10-22l9-12l9-41l10-44l9-57l10-77l9-82l10-114l9-117l10-128l9-154l10-144l9-148l10-128l9-129l10-102l9-81l10-46l9 5l10 18l9 61l10 86l9 120l10 140l9 140l10 153l9 146l9 136l10 130l9 110l10 106l9 65l10 71l9 56l10 49l9 35l10 17l9 14l10 0l9 12l10 13l9-4l10 2l9 7l10-4l9 4l10 5l9 2l10-5l9-4l10 10l9 1l9-9l10 14l9-20l10 10l9-5l10-5l9 14l10-2l9-14l10 11l9-1l10-2l9-4l10-1l9 5l10 1l9-1l10-3l9-5l10 4l9-9l10 10l9-9l10-8l9-1l9 0l10 0l9-7l10-10l9-11l10-9l9-7l10-18l9-23l10-22l9-14l10-33l9-26l10-41l9-59l10-31l9-51l10-58l9-62l10-70l9-88l10-86l9-102l10-89l9-120l9-122l10-111l9-143l10-129l9-153l10-154l9-146l10-157l9-153l10-162l9-160l10-148l9-149l10-146l9-137l10-116l9-124l10-101l9-96l10-78l9-58l10-49l9-17l10-13l9 22l9 64l10 114l9 158l10 196l9 216l10 245l9 254l10 268l9 258l10 263l9 255l10 223l9 216l10 180l9 166l10 153l9 123l10 114l9 91l10 64l9 56l10 52l9 28l10 26l9 20l9 11l10 15l9 13l10 4l9 2l10 11l9-9l10 3l9 6l10 3l9-19l10 13l9 0l10-4l9 4l10 3l9-2l10 7l9-7l10 10l9-9l10 0l9 9l10-15l9 13l9-10l10 7l9-3l10 4l9-14l10 6l9-3l10 5l9 0l10 2l9 2l10-4l9 2l10 2l9 5l10-5l9-4l10 5l9-4l10 3l9 3l10 0l9-1l10-2l9 0l9-6l10 9l9 5l10-13l9 5l10-2l9-12l10 5l9 3l10-3l9 2l10-6l9 5l10-4l9-5l10-15l9-8l10 0l9-20l10-9l9-24l10-16l9-32l10-27l9-37l9-44l10-51l9-54l10-60l9-84l10-68l9-77l10-87l9-92l10-106l9-108l10-86l9-103l10-87l9-100l10-77l9-70l10-63l9-47l10-29l9-10l10 2l9 9l10 23l9 15l9 49l10 47l9 57l10 55l9 81l10 67l9 81l10 83l9 89l10 69l9 89l10 78l9 74l10 74l9 66l10 74l9 58l10 56l9 54l10 44l9 47l10 32l9 42l10 34l9 19l9 18l10 26l9 17l10 13l9 8l10 11l9 4l10 14l9-12l10 5l9 4l10-13l9-2l10-14l9 1l10-28l9-10l10-13l9-38l10-24" stroke="none" fill="none" marker-start="url(#m60)" marker-mid="url(#m60)" marker-end="url(#m60)"/><path d="M1797 13942l9-4l10 8l9-11l10 4l9 0l10-7l9 7l10 4l9 2l10-3l9-3l10 9l9 3l10-7l9 6l10 2l9-7l10 16l9-5l10 10l9-5l10-4l9-2l10 11l9-10l9-1l10 3l9-13l10 9l9 2l10-8l9 7l10-17l9 0l10 3l9-7l10-2l9-8l10 10l9 1l10 2l9-9l10 4l9-7l10-3l9 4l10 2l9-9l10 6l9-1l9-3l10 11l9 0l10-14l9 14l10 5l9-1l10 3l9 5l10-1l9 0l10 2l9-1l10 11l9 0l10-9l9 5l10-7l9 3l10 7l9-11l10 5l9-7l10-7l9-7l9 7l10-6l9-2l10-5l9 12l10-13l9-5l10-4l9 3l10-9l9-3l10 3l9 0l10 0l9-3l10-5l9-1l10 9l9 2l10 1l9-7l10 5l9 1l10 2l9 2l9 5l10 7l9 1l10-1l9 2l10 6l9 3l10-5l9 10l10-2l9 4l10 3l9 3l10-4l9 0l10-8l9 6l10-5l9-8l10 0l9-6l10-6l9 7l10-10l9-2l9-14l10 2l9-7l10-9l9 6l10-5l9-5l10 1l9-9l10 0l9-2l10 4l9 1l10 0l9 1l10 7l9-8l10 0l9 6l10 5l9 1l10 2l9 3l10-2l9 15l9-1l10 2l9 7l10 5l9 6l10 1l9-3l10-2l9 10l10-4l9-1l10-3l9 1l10-3l9-5l10 5l9-10l10 3l9-5l10-10l9-3l10-15l9-9l10 0l9-7l9-5l10-5l9-7l10-5l9-1l10-2l9-4l10-8l9 3l10-9l9 7l10-7l9 12l10 0l9-3l10 3l9 6l10-5l9 13l10 4l9 10l10-4l9 10l10 9l9 16l9-2l10 10l9 3l10 4l9 12l10 1l9 1l10 6l9 4l10 4l9-2l10 1l9-12l10 0l9 1l10-12l9-1l10 1l9-28l10-9l9 1l10-13l9-14l10-8l9-8l9-11l10-11l9-8l10-12l9-6l10-4l9-10l10 2l9-18l10 11l9-10l10-3l9 0l10 2l9-1l10 14l9 1l10 5l9 11l10 9l9 2l10 19l9 11l10 12l9 12l9 12l10 14l9 10l10 13l9 9l10 6l9 18l10-4l9 13l10-2l9 2l10 0l9 3l10-22l9 1l10-11l9-21l10-10l9-24l10-16l9-15l10-17l9-22l10-11l9-27l9-20l10-18l9-23l10-11l9-28l10-19l9-4l10-19l9-18l10-4l9 0l10-4l9-9l10-4l9 16l10 1l9 11l10 7l9 8l10 14l9 16l10 4l9 26l10 18l9 15l9 25l10 24l9 18l10 33l9 17l10 23l9 25l10 27l9 21l10 28l9 13l10 15l9 14l10 17l9 15l10 12l9 5l10 6l9 0l10 7l9 1l10-7l9-8l10-17l9-16l9-36l10-46l9-65l10-70l9-89l10-108l9-109l10-141l9-138l10-141l9-155l10-126l9-126l10-107l9-80l10-43l9-3l10 15l9 54l10 75l9 115l10 134l9 146l10 140l9 151l9 133l10 128l9 118l10 98l9 87l10 71l9 47l10 48l9 37l10 28l9 14l10 11l9 8l10 4l9 8l10 9l9-11l10 4l9 3l10-2l9 12l10-5l9 1l10-7l9 10l9-4l10-8l9 4l10 4l9-9l10 13l9-7l10 3l9-4l10 4l9 2l10-5l9 6l10-8l9 3l10-5l9 5l10 0l9-6l10-5l9 13l10-12l9-5l10 6l9-6l9-11l10 0l9-8l10-18l9 2l10-12l9-8l10-21l9-18l10-35l9-23l10-18l9-47l10-33l9-39l10-53l9-52l10-56l9-63l10-78l9-85l10-87l9-95l10-111l9-103l9-127l10-120l9-135l10-133l9-149l10-145l9-148l10-162l9-156l10-160l9-152l10-146l9-149l10-133l9-140l10-135l9-115l10-99l9-88l10-76l9-60l10-35l9-31l10-19l9 17l9 66l10 108l9 145l10 180l9 210l10 235l9 237l10 257l9 255l10 245l9 248l10 236l9 209l10 204l9 164l10 159l9 136l10 112l9 94l10 89l9 68l10 41l9 51l10 28l9 35l9 16l10 19l9 6l10 12l9 8l10-5l9 8l10 12l9-6l10 4l9 2l10-2l9-1l10-1l9 3l10 5l9-6l10-6l9 10l10-9l9 1l10 4l9-3l10 4l9-1l9 2l10-6l9-4l10 9l9-8l10 14l9-5l10 0l9-11l10 10l9-6l10 12l9-9l10-2l9 2l10 12l9-13l10-2l9-3l10 4l9 9l10-6l9-5l10 7l9-6l9 5l10-3l9-3l10 6l9-15l10 11l9-1l10 4l9-5l10 0l9 3l10-2l9-11l10-2l9 5l10-9l9-16l10-12l9-17l10-8l9-28l10-20l9-28l10-35l9-44l9-43l10-53l9-51l10-66l9-67l10-80l9-83l10-88l9-97l10-94l9-97l10-94l9-98l10-86l9-89l10-75l9-69l10-53l9-40l10-30l9-31l10 4l9 9l10 22l9 30l9 24l10 64l9 51l10 62l9 72l10 74l9 73l10 78l9 81l10 75l9 89l10 72l9 72l10 77l9 79l10 74l9 45l10 59l9 58l10 40l9 51l10 37l9 40l10 25l9 30l9 24l10 13l9 21l10 21l9 3l10 8l9 15l10 3l9 0l10 2l9-3l10-6l9-1l10-20l9 0l10-16l9-29l10-24l9-15l10-29" stroke="none" fill="none" marker-start="url(#m61)" marker-mid="url(#m61)" marker-end="url(#m61)"/><path d="M1797 13942l9-10l10 5l9 4l10-5l9-4l10 4l9-6l10 5l9 4l10 3l9-1l10-1l9 3l10 1l9 5l10 0l9-1l10 8l9 6l10-11l9 5l10 5l9-2l10 2l9 5l9-7l10 4l9-8l10-1l9-7l10 3l9-5l10 1l9-3l10 2l9-12l10 1l9 1l10-5l9 1l10 0l9-5l10-6l9 6l10 4l9-3l10-11l9 12l10-9l9 7l9-3l10 4l9 8l10-4l9-9l10 11l9-1l10 6l9 1l10 0l9 1l10-5l9 11l10 2l9 3l10 3l9 2l10-10l9 10l10-15l9 1l10 3l9 1l10-7l9-3l9-7l10 5l9-5l10-4l9-2l10-2l9 2l10-2l9-7l10-4l9-7l10-7l9 1l10 5l9-7l10 8l9 2l10-12l9 15l10-2l9 1l10-6l9 10l10-4l9 8l9 6l10-4l9 3l10 8l9 2l10 2l9-5l10 5l9 3l10 0l9 6l10-3l9 4l10 3l9-3l10-6l9-1l10-7l9 9l10-9l9-7l10 2l9-9l10-1l9-2l9-13l10 6l9-14l10 2l9-1l10-3l9-4l10-2l9-6l10 7l9-14l10 1l9-3l10 10l9 6l10-6l9 0l10 0l9 5l10 1l9 2l10 11l9-11l10 16l9-2l9 0l10 12l9 0l10-4l9 12l10-3l9 5l10 2l9-1l10 4l9 0l10-6l9 1l10-4l9 4l10-9l9-9l10-4l9-3l10-2l9-5l10-11l9-10l10 0l9-11l9 1l10-11l9 4l10-9l9 1l10-11l9-2l10 4l9-3l10-2l9 4l10-3l9 1l10-6l9 0l10 11l9 2l10 2l9 8l10 4l9 1l10 9l9 7l10 9l9-2l9 16l10 3l9 11l10 4l9 2l10 7l9 0l10 4l9 8l10 5l9-14l10 5l9-11l10 2l9-1l10-12l9-3l10-9l9-4l10-16l9-12l10-2l9-20l10 0l9-14l9-1l10-8l9-27l10-5l9-7l10 6l9-15l10-6l9-3l10-4l9 3l10-4l9 4l10-2l9 0l10 9l9 3l10 7l9 5l10 5l9 13l10 10l9 19l10 7l9 8l9 19l10 11l9 14l10 2l9 18l10 11l9 2l10 4l9 7l10 0l9 4l10-1l9-3l10-6l9-9l10-14l9-11l10-15l9-18l10-14l9-13l10-21l9-18l10-16l9-29l9-14l10-20l9-20l10-27l9-13l10-22l9-10l10-12l9-15l10-9l9-4l10 0l9-4l10 4l9-1l10 4l9 1l10 9l9 13l10 10l9 16l10 4l9 21l10 12l9 28l9 20l10 18l9 26l10 22l9 29l10 15l9 27l10 20l9 27l10 27l9 10l10 15l9 27l10 14l9 10l10 12l9 16l10-8l9 9l10 10l9 5l10-14l9-16l10-11l9-24l9-24l10-49l9-49l10-86l9-80l10-91l9-118l10-140l9-138l10-143l9-148l10-144l9-117l10-95l9-86l10-43l9-16l10 15l9 53l10 85l9 100l10 128l9 130l10 146l9 141l9 140l10 125l9 120l10 101l9 90l10 70l9 67l10 28l9 51l10 24l9 23l10 14l9 7l10 11l9 4l10 8l9 0l10 2l9-12l10 14l9-1l10-5l9-5l10 13l9 0l9-8l10 0l9 7l10 2l9-4l10-7l9 3l10-3l9 3l10 0l9-3l10 3l9-2l10 4l9-2l10-5l9 2l10 2l9-8l10-1l9 1l10 1l9-10l10-11l9 10l9-2l10-9l9-7l10-8l9-11l10-21l9-14l10-20l9-17l10-18l9-33l10-23l9-36l10-36l9-54l10-49l9-50l10-63l9-70l10-76l9-86l10-86l9-99l10-97l9-118l9-113l10-141l9-131l10-136l9-145l10-152l9-147l10-143l9-160l10-146l9-159l10-148l9-151l10-142l9-126l10-126l9-115l10-100l9-88l10-65l9-67l10-50l9-25l10-4l9 10l9 54l10 103l9 129l10 174l9 195l10 218l9 225l10 257l9 250l10 241l9 246l10 227l9 226l10 188l9 182l10 167l9 131l10 130l9 106l10 94l9 76l10 57l9 54l10 31l9 30l9 31l10 23l9 9l10 14l9 3l10 6l9 7l10 1l9-2l10-1l9 10l10-4l9 4l10 4l9-10l10 4l9 1l10 0l9 2l10 4l9-12l10 3l9 3l10-3l9-1l9 6l10-3l9 4l10-5l9 4l10-11l9 12l10-4l9 0l10 4l9-6l10 5l9 1l10-2l9 3l10-8l9 2l10-1l9 10l10-7l9 4l10-3l9-5l10 4l9 2l9-6l10 0l9-3l10 15l9-9l10 2l9 1l10-5l9 4l10 3l9-8l10-5l9-13l10 6l9-4l10-4l9-17l10-13l9-16l10-11l9-24l10-19l9-41l10-28l9-35l9-63l10-50l9-58l10-65l9-65l10-86l9-73l10-99l9-83l10-84l9-106l10-98l9-82l10-93l9-76l10-73l9-58l10-71l9-37l10-34l9-10l10-5l9 0l10 24l9 28l9 41l10 39l9 51l10 66l9 65l10 75l9 64l10 87l9 77l10 72l9 88l10 84l9 74l10 71l9 61l10 73l9 65l10 53l9 52l10 57l9 35l10 43l9 37l10 44l9 17l9 19l10 28l9 6l10 25l9 17l10 3l9 8l10 3l9 7l10-5l9 6l10-7l9 0l10-11l9-17l10-11l9-20l10-23l9-28l10-32" stroke="none" fill="none" marker-start="url(#m62)" marker-mid="url(#m62)" marker-end="url(#m62)"/><path d="M1797 13934l9-1l10 4l9 3l10 5l9-5l10 2l9 5l10-14l9 16l10-8l9 0l10 5l9-10l10 12l9 5l10-9l9 13l10 4l9 0l10-1l9-2l10 0l9 8l10-8l9-9l9 12l10-4l9-5l10-4l9 6l10-1l9-2l10-12l9-1l10 11l9-3l10-6l9-1l10-10l9-1l10-9l9 4l10 2l9-5l10 8l9 2l10-6l9-4l10 12l9-11l9 1l10 7l9-2l10 4l9 0l10-2l9 9l10-6l9 3l10 1l9 15l10 1l9-10l10 7l9 1l10 1l9 3l10-5l9 1l10-1l9-6l10 5l9-12l10 12l9-23l9 14l10-11l9-5l10 1l9-6l10 1l9 5l10-12l9-6l10 6l9 3l10-6l9-5l10-1l9-4l10 2l9 0l10 11l9-18l10 10l9-2l10 7l9 0l10 2l9-5l9 3l10 6l9-3l10 13l9-1l10 6l9-5l10 8l9-2l10-2l9 18l10-18l9 8l10 3l9 6l10-8l9 6l10-12l9-2l10-12l9 6l10-10l9-5l10-8l9 6l9-8l10 6l9-6l10-7l9-5l10 2l9-6l10-7l9 3l10-3l9 2l10-11l9-2l10 7l9 2l10-7l9 7l10 7l9 5l10-1l9-9l10 15l9-12l10 16l9 5l9-3l10 10l9 1l10 10l9 4l10 0l9-2l10 5l9 7l10-11l9 3l10-1l9 0l10 5l9-21l10 6l9-9l10-8l9-5l10-1l9-5l10-7l9-8l10-5l9-1l9-9l10-5l9-6l10-2l9-10l10 2l9-6l10 2l9 1l10 0l9-4l10-3l9-2l10 7l9 4l10 3l9-4l10 9l9 7l10-1l9 15l10-1l9 7l10 7l9 11l9-3l10 3l9 19l10-1l9 3l10-3l9 16l10 5l9-3l10-8l9 9l10-3l9-9l10 13l9-4l10-19l9-6l10 2l9-17l10-7l9-10l10-5l9-11l10-8l9-14l9-8l10-18l9-4l10 2l9-17l10-11l9-1l10-8l9 0l10-6l9 5l10-9l9 10l10-10l9 14l10 7l9-7l10 9l9 7l10 7l9 11l10 14l9 6l10 11l9 12l9 5l10 24l9 9l10 9l9 14l10 12l9 5l10-1l9 10l10-2l9 6l10-7l9 1l10-6l9-13l10-10l9-18l10-1l9-24l10-22l9-16l10-11l9-18l10-20l9-23l9-19l10-20l9-20l10-11l9-17l10-16l9-14l10-19l9-13l10-18l9 2l10-2l9-8l10 10l9-2l10 2l9 8l10 9l9 13l10 15l9 7l10 15l9 9l10 20l9 14l9 28l10 9l9 28l10 25l9 22l10 19l9 15l10 24l9 31l10 15l9 21l10 25l9 15l10 20l9 9l10 20l9 2l10 10l9 5l10 4l9-8l10 3l9-11l10-17l9-23l9-31l10-37l9-53l10-72l9-86l10-102l9-115l10-134l9-132l10-152l9-140l10-131l9-130l10-89l9-98l10-45l9-17l10 25l9 29l10 89l9 99l10 114l9 138l10 143l9 134l9 144l10 121l9 120l10 99l9 100l10 65l9 66l10 42l9 51l10 19l9 27l10 16l9 18l10 3l9 5l10 10l9 4l10 0l9-9l10 6l9-3l10 3l9 1l10 0l9 3l9-7l10 4l9 0l10 7l9-8l10 5l9-1l10-7l9 9l10-4l9-4l10-2l9 7l10-4l9-1l10 6l9 3l10-2l9-12l10 0l9 4l10-5l9-5l10-4l9-6l9-15l10 6l9-12l10-5l9-12l10-12l9-19l10-16l9-25l10-24l9-23l10-44l9-22l10-48l9-53l10-39l9-66l10-64l9-66l10-67l9-98l10-86l9-96l10-113l9-105l9-127l10-120l9-138l10-131l9-146l10-145l9-152l10-157l9-152l10-154l9-157l10-142l9-137l10-144l9-133l10-125l9-112l10-100l9-82l10-77l9-50l10-56l9-24l10-12l9 16l9 50l10 94l9 121l10 167l9 176l10 211l9 219l10 245l9 242l10 240l9 238l10 229l9 221l10 201l9 183l10 166l9 153l10 130l9 110l10 93l9 86l10 65l9 55l10 47l9 43l9 29l10 30l9 12l10 9l9 18l10-3l9 5l10 12l9-2l10 12l9 0l10-2l9-1l10 2l9 3l10-12l9 7l10 1l9-2l10 2l9 2l10 1l9 5l10-14l9 11l9 3l10-3l9 3l10-16l9 7l10-4l9 0l10 4l9-1l10 6l9-3l10 3l9-3l10 3l9-9l10 3l9 3l10 7l9-10l10-1l9 4l10 5l9-7l10-3l9 13l9-11l10 10l9-8l10-8l9 7l10-2l9 2l10-2l9-12l10 2l9 5l10-3l9-6l10-15l9 1l10-12l9-5l10-9l9-27l10-13l9-20l10-27l9-32l10-36l9-38l9-59l10-50l9-62l10-60l9-74l10-75l9-86l10-84l9-87l10-86l9-89l10-93l9-90l10-85l9-77l10-85l9-57l10-44l9-47l10-29l9-24l10-8l9 16l10 10l9 30l9 30l10 43l9 57l10 57l9 68l10 71l9 77l10 70l9 80l10 81l9 78l10 78l9 80l10 71l9 63l10 73l9 55l10 70l9 55l10 43l9 42l10 47l9 31l10 31l9 28l9 30l10 21l9 26l10 8l9 12l10 5l9 19l10 4l9 4l10-8l9 13l10-10l9-20l10-3l9-4l10-21l9-23l10-21l9-23l10-28" stroke="none" fill="none" marker-start="url(#m63)" marker-mid="url(#m63)" marker-end="url(#m63)"/><path d="M1797 13934l9 3l10-3l9 2l10 4l9-8l10 9l9-4l10 6l9-1l10 1l9 3l10-2l9-3l10-1l9 3l10 9l9-5l10 6l9-5l10 14l9-11l10 10l9-7l10 6l9-6l9 4l10 6l9-5l10-5l9-3l10 7l9-7l10-4l9-5l10-4l9 2l10 1l9-10l10 1l9-6l10 4l9-6l10 6l9-6l10 0l9-2l10 6l9-3l10 3l9-2l9-3l10-9l9 14l10-2l9 4l10-2l9 4l10 0l9 4l10-7l9 6l10 15l9-7l10 2l9 11l10-5l9-2l10 1l9-4l10 7l9-12l10-2l9-1l10 1l9-4l9-1l10-9l9 0l10-10l9 8l10-11l9 6l10-4l9 2l10-9l9 1l10-5l9-5l10 6l9-2l10-3l9 4l10 2l9-3l10 0l9 0l10 1l9 8l10-2l9-2l9 10l10-1l9 7l10-1l9-4l10 9l9 7l10-3l9 2l10-2l9 11l10-1l9-3l10 6l9-13l10 13l9-7l10 0l9-6l10-10l9-2l10-5l9-3l10 7l9-14l9 6l10-10l9-4l10-3l9-8l10 2l9-13l10 2l9-4l10 0l9-2l10 4l9-9l10 13l9-6l10 3l9 2l10-1l9 7l10-4l9 3l10 6l9 0l10 11l9 7l9-2l10 2l9-8l10 15l9-3l10 3l9-3l10 10l9-1l10 3l9 3l10-1l9-2l10-12l9 1l10-1l9-5l10-2l9-8l10-5l9-9l10-6l9 5l10-14l9-10l9 5l10-9l9-6l10-8l9-2l10 0l9-6l10-4l9 1l10-8l9 6l10 6l9 0l10-1l9 2l10-1l9 4l10-2l9 9l10 2l9 15l10 4l9 1l10 9l9 4l9 7l10 10l9-4l10 8l9 16l10 0l9 1l10 0l9 4l10 7l9-10l10 3l9-9l10 0l9-7l10-5l9-7l10-1l9-15l10-5l9-2l10-13l9-10l10-13l9-11l9-1l10-17l9-5l10-4l9-15l10 0l9-4l10-14l9-5l10 4l9-9l10-1l9 6l10-9l9 11l10 3l9 16l10-7l9 12l10 4l9 18l10-2l9 9l10 10l9 32l9-3l10 12l9 26l10 1l9 7l10 2l9 17l10 1l9 5l10 1l9 3l10-8l9-4l10 3l9-18l10-3l9-14l10-19l9-11l10-18l9-18l10-17l9-14l10-17l9-26l9-19l10-18l9-16l10-22l9-14l10-10l9-22l10-14l9-12l10-1l9-7l10-9l9 1l10-1l9-2l10 7l9 0l10 14l9 3l10 13l9 5l10 23l9 14l10 9l9 24l9 17l10 15l9 19l10 29l9 14l10 24l9 21l10 21l9 23l10 15l9 23l10 22l9 16l10 13l9 16l10 11l9 17l10 8l9-1l10 14l9-6l10 1l9-3l10-9l9-31l9-25l10-41l9-50l10-81l9-79l10-99l9-115l10-126l9-135l10-144l9-139l10-127l9-138l10-105l9-79l10-58l9-6l10 19l9 25l10 76l9 105l10 109l9 124l10 144l9 131l9 129l10 131l9 124l10 104l9 98l10 73l9 67l10 55l9 43l10 18l9 32l10 23l9 10l10 1l9 6l10 14l9 0l10-1l9 6l10 4l9 0l10-4l9 4l10 2l9-5l9-5l10 2l9 3l10-9l9 12l10-3l9 5l10-9l9 3l10 7l9-4l10-11l9 4l10 2l9-4l10 10l9-5l10 1l9-4l10-3l9-7l10-4l9-4l10-11l9 8l9-8l10-9l9-3l10-13l9-15l10-8l9-22l10-22l9-12l10-21l9-39l10-28l9-42l10-40l9-50l10-56l9-58l10-60l9-67l10-73l9-87l10-98l9-103l10-103l9-114l9-116l10-127l9-133l10-148l9-132l10-158l9-143l10-158l9-151l10-154l9-152l10-139l9-142l10-139l9-127l10-127l9-107l10-100l9-88l10-69l9-66l10-31l9-37l10-13l9 15l9 47l10 77l9 124l10 156l9 174l10 189l9 224l10 218l9 234l10 243l9 230l10 233l9 214l10 204l9 183l10 180l9 150l10 137l9 118l10 116l9 89l10 72l9 60l10 51l9 43l9 27l10 33l9 22l10 22l9 8l10 10l9 8l10 9l9 1l10-1l9 12l10 8l9-12l10 1l9 5l10 1l9-13l10 14l9 3l10-3l9-4l10 5l9-1l10-3l9 3l9-2l10 0l9 5l10-5l9 5l10-9l9 8l10-3l9 7l10-6l9 3l10-11l9 7l10-3l9 10l10-3l9-4l10 5l9-11l10 7l9-3l10 0l9 2l10-4l9 6l9-5l10-4l9 4l10 0l9 1l10-2l9-4l10 3l9 4l10-10l9-2l10-6l9-4l10-12l9 4l10-11l9-19l10-7l9-22l10-19l9-16l10-40l9-35l10-33l9-36l9-58l10-46l9-64l10-68l9-66l10-72l9-87l10-84l9-84l10-89l9-96l10-85l9-85l10-82l9-80l10-70l9-61l10-47l9-46l10-29l9-21l10-9l9 7l10 17l9 27l9 37l10 40l9 53l10 57l9 66l10 65l9 72l10 68l9 82l10 82l9 74l10 82l9 70l10 74l9 61l10 84l9 59l10 59l9 53l10 48l9 53l10 40l9 33l10 31l9 38l9 27l10 11l9 20l10 15l9 22l10 8l9 6l10 5l9 5l10 1l9-6l10 2l9-6l10-10l9-12l10-19l9-18l10-22l9-34l10-26" stroke="none" fill="none" marker-start="url(#m64)" marker-mid="url(#m64)" marker-end="url(#m64)"/><path d="M1797 13939l9-7l10 8l9-2l10 0l9 3l10-1l9-1l10 7l9-3l10-2l9 1l10 2l9-7l10 8l9 5l10 2l9 1l10-1l9 5l10-7l9 12l10-7l9 1l10 7l9-8l9-1l10 4l9-13l10 4l9 3l10-2l9-1l10-6l9-2l10 4l9-4l10-3l9-3l10-2l9-1l10-6l9-3l10 3l9 8l10-9l9-3l10 3l9-2l10 1l9 7l9 5l10-12l9 6l10-2l9 4l10 1l9-4l10 12l9-3l10 6l9-3l10 0l9 0l10 3l9 7l10-6l9-2l10-1l9-5l10 5l9 5l10-3l9-5l10-6l9 6l9-11l10-1l9 3l10-9l9 3l10-6l9-1l10-4l9 3l10-9l9 10l10-9l9-1l10-9l9 3l10 4l9 2l10-4l9 3l10-10l9 21l10-10l9 12l10-13l9 10l9-8l10 11l9-4l10 6l9-1l10 7l9 14l10-7l9 5l10-8l9 2l10 3l9-1l10 0l9 3l10-12l9 5l10 0l9 2l10-6l9-6l10-3l9-3l10-5l9 0l9-9l10 3l9-7l10-4l9-9l10-2l9-1l10 3l9-5l10-7l9-3l10 11l9-5l10-2l9 0l10 2l9-2l10 11l9-10l10 13l9-2l10 1l9 0l10 5l9 3l9 2l10 9l9 0l10-1l9 12l10 5l9 1l10-9l9 2l10 6l9-3l10-2l9-4l10 10l9-9l10-4l9-7l10-3l9-4l10-7l9 6l10-29l9 4l10-6l9 1l9-10l10-11l9-4l10 3l9 2l10-9l9-1l10-7l9 7l10-6l9-2l10 3l9-5l10 10l9 2l10-1l9-1l10 8l9 5l10-1l9 8l10 8l9 3l10 8l9 2l9 8l10 10l9 4l10 5l9 1l10 4l9 9l10-1l9 0l10-3l9 3l10-8l9 5l10-6l9 0l10-3l9-11l10-9l9-7l10-7l9-7l10-7l9-12l10-12l9-12l9 9l10-25l9-10l10-9l9-3l10-8l9-1l10-7l9-6l10 3l9-3l10-5l9 6l10-4l9 8l10-3l9 5l10 9l9 8l10 6l9 16l10 2l9 9l10 6l9 18l9 10l10 5l9 10l10 19l9 3l10 8l9 10l10 11l9 4l10-4l9-8l10 8l9-11l10-7l9 4l10-12l9-20l10-11l9-13l10-14l9-19l10-12l9-31l10-4l9-16l9-26l10-24l9-11l10-19l9-13l10-20l9-10l10-13l9-9l10-12l9-17l10 4l9-3l10-8l9 14l10 5l9 0l10 14l9 2l10 6l9 20l10 9l9 4l10 25l9 14l9 12l10 20l9 21l10 9l9 29l10 17l9 25l10 20l9 26l10 12l9 25l10 12l9 28l10 14l9 12l10 15l9 15l10 9l9 12l10 0l9 13l10-13l9-12l10-11l9-21l9-24l10-45l9-49l10-69l9-82l10-83l9-130l10-123l9-136l10-133l9-148l10-135l9-114l10-107l9-90l10-50l9-24l10 13l9 31l10 81l9 90l10 109l9 126l10 130l9 133l9 140l10 121l9 114l10 108l9 90l10 83l9 72l10 48l9 48l10 30l9 34l10 28l9 10l10 5l9 6l10 8l9-1l10 11l9-1l10-6l9 5l10 0l9-5l10 1l9 8l9-4l10 8l9-7l10-2l9 9l10-14l9-2l10 6l9-2l10-2l9 6l10-5l9 2l10 8l9-4l10-2l9-8l10 3l9-6l10 4l9 1l10-17l9-6l10 5l9-3l9-12l10 1l9-13l10-5l9-21l10-14l9-14l10-19l9-19l10-29l9-39l10-27l9-45l10-35l9-51l10-53l9-60l10-71l9-61l10-91l9-86l10-90l9-101l10-106l9-118l9-118l10-123l9-137l10-141l9-141l10-144l9-150l10-148l9-152l10-145l9-156l10-151l9-135l10-133l9-136l10-116l9-109l10-100l9-87l10-70l9-55l10-55l9-21l10-10l9 4l9 39l10 89l9 100l10 147l9 159l10 195l9 211l10 214l9 227l10 237l9 227l10 227l9 210l10 214l9 185l10 184l9 149l10 154l9 123l10 106l9 99l10 83l9 72l10 56l9 54l9 31l10 30l9 26l10 24l9 11l10 15l9 8l10 9l9 7l10 8l9 10l10-11l9 5l10-8l9 17l10-11l9 8l10-4l9 4l10-5l9 2l10-4l9 3l10-1l9-3l9 3l10 3l9-6l10 5l9-2l10 3l9 2l10 9l9-15l10 8l9-8l10-4l9 12l10-9l9 4l10-2l9 7l10-5l9-1l10-5l9-3l10 7l9 3l10-10l9 9l9-1l10-1l9-1l10-2l9 5l10-3l9-10l10 0l9 2l10-2l9-1l10-10l9 1l10-9l9-7l10-9l9-16l10-15l9-16l10-23l9-26l10-28l9-33l10-41l9-47l9-51l10-51l9-58l10-66l9-79l10-71l9-72l10-87l9-84l10-88l9-82l10-93l9-78l10-84l9-83l10-67l9-52l10-51l9-41l10-26l9-21l10-9l9 9l10 7l9 27l9 35l10 33l9 53l10 59l9 54l10 70l9 79l10 70l9 79l10 82l9 64l10 78l9 87l10 65l9 79l10 56l9 68l10 60l9 49l10 56l9 48l10 37l9 43l10 29l9 33l9 23l10 24l9 19l10 24l9 2l10 19l9 1l10 15l9 2l10 1l9-7l10 3l9-11l10-1l9-17l10-19l9-19l10-15l9-37l10-24" stroke="none" fill="none" marker-start="url(#m65)" marker-mid="url(#m65)" marker-end="url(#m65)"/><path d="M1797 13929l9 9l10-10l9 7l10 1l9 4l10-1l9-2l10 11l9-11l10 10l9-3l10 12l9-12l10 0l9 4l10 1l9 5l10-1l9-3l10 8l9-4l10 0l9 4l10-2l9 0l9 2l10-13l9 10l10-11l9 1l10 11l9-12l10-5l9-1l10 4l9-7l10 4l9-2l10-5l9-4l10-7l9 4l10-4l9 9l10-1l9-3l10-9l9 13l10 1l9-6l9-4l10 12l9-4l10 6l9-11l10 5l9 3l10 4l9 2l10 0l9 5l10 2l9 3l10-4l9 4l10-6l9 12l10-11l9-1l10-3l9 4l10 4l9-5l10-10l9 3l9-2l10-2l9-5l10-2l9 3l10-6l9-10l10-4l9 5l10-1l9-9l10 5l9 3l10-5l9-4l10-4l9 8l10-4l9 4l10-5l9 4l10 2l9 6l10-1l9 2l9 16l10-16l9 6l10 3l9 3l10 1l9 1l10 9l9-5l10 2l9 1l10 7l9-5l10 4l9-8l10-5l9 0l10 3l9-2l10-3l9-7l10 1l9-4l10 4l9-11l9-4l10-5l9-11l10 8l9-4l10-11l9 4l10-5l9-4l10-1l9 3l10-8l9-3l10 10l9-2l10-4l9 6l10 5l9-1l10-3l9 11l10-3l9 3l10 7l9-2l9 3l10 2l9 3l10 13l9-7l10 4l9 0l10 9l9-7l10 2l9 6l10-11l9 7l10-1l9-9l10 0l9-8l10-2l9-7l10-7l9-2l10-9l9-5l10 1l9-12l9-4l10-3l9-8l10-7l9 0l10 6l9-10l10 0l9-1l10-4l9 2l10-8l9 7l10 2l9-1l10 2l9 2l10 6l9 6l10 4l9 15l10 2l9-5l10 12l9-3l9 5l10 19l9-2l10-5l9 19l10-1l9 6l10 2l9 2l10-1l9-3l10 5l9-8l10 1l9-9l10-5l9-1l10-11l9-4l10-8l9-17l10 4l9-19l10-10l9-3l9-16l10-8l9 1l10-15l9-7l10-2l9-11l10-5l9 2l10 2l9-12l10 4l9 4l10-5l9 11l10-5l9-3l10 24l9-7l10 13l9 7l10 11l9 4l10 13l9 14l9 13l10 7l9 4l10 20l9 2l10 9l9 16l10-8l9 9l10-8l9 2l10 6l9-4l10-3l9-6l10-19l9-7l10-12l9-15l10-19l9-17l10-14l9-16l10-20l9-26l9-1l10-22l9-25l10-16l9-21l10-16l9-17l10-1l9-17l10-5l9-11l10-1l9-5l10 7l9-2l10 6l9 5l10 7l9 10l10 0l9 14l10 7l9 21l10 17l9 9l9 13l10 12l9 17l10 18l9 18l10 23l9 23l10 24l9 15l10 26l9 21l10 13l9 20l10 14l9 23l10 6l9 17l10 13l9 11l10 7l9 4l10-12l9 6l10-21l9-16l9-28l10-40l9-54l10-70l9-79l10-93l9-105l10-121l9-148l10-127l9-138l10-147l9-113l10-116l9-84l10-52l9-26l10 17l9 37l10 59l9 86l10 107l9 119l10 135l9 139l9 122l10 130l9 114l10 103l9 103l10 81l9 75l10 50l9 49l10 36l9 26l10 30l9 9l10 12l9 3l10 20l9-3l10-7l9 13l10 1l9-9l10-2l9 10l10 4l9-1l9-1l10 2l9 0l10-4l9 0l10-2l9 2l10 5l9-8l10 2l9 3l10-2l9-3l10 1l9 0l10-5l9-3l10 5l9-3l10 2l9-7l10-6l9-6l10-2l9-4l9-5l10-12l9-4l10-16l9-13l10-12l9-23l10-18l9-27l10-23l9-35l10-40l9-33l10-47l9-44l10-56l9-55l10-74l9-70l10-85l9-78l10-99l9-105l10-109l9-106l9-127l10-139l9-126l10-135l9-130l10-153l9-155l10-148l9-152l10-152l9-144l10-148l9-129l10-152l9-115l10-117l9-118l10-94l9-87l10-66l9-62l10-46l9-21l10-18l9 6l9 39l10 74l9 107l10 127l9 160l10 178l9 204l10 215l9 224l10 218l9 227l10 212l9 213l10 208l9 203l10 180l9 159l10 152l9 123l10 123l9 105l10 87l9 71l10 73l9 48l9 53l10 32l9 31l10 20l9 20l10 11l9 13l10 15l9 10l10 3l9 2l10 2l9 5l10-6l9 1l10 6l9 2l10-1l9 0l10 0l9 6l10-4l9 6l10-8l9-3l9 7l10-5l9 4l10 0l9-11l10 4l9 2l10 4l9-4l10 3l9-3l10 6l9-4l10 2l9 4l10-13l9 4l10 6l9 3l10-3l9 0l10-1l9 4l10-3l9-4l9-2l10 10l9-9l10 4l9-1l10-4l9 0l10-8l9-2l10 1l9-3l10-15l9-6l10-2l9-7l10-16l9-16l10-8l9-29l10-14l9-32l10-23l9-38l10-37l9-47l9-54l10-47l9-63l10-69l9-66l10-86l9-64l10-98l9-71l10-92l9-88l10-80l9-74l10-83l9-74l10-69l9-61l10-50l9-42l10-19l9-26l10 5l9-4l10 19l9 27l9 20l10 44l9 44l10 65l9 59l10 61l9 73l10 70l9 78l10 75l9 80l10 66l9 82l10 77l9 62l10 68l9 64l10 60l9 58l10 50l9 56l10 40l9 37l10 28l9 27l9 33l10 24l9 14l10 23l9 10l10 12l9 17l10-1l9 4l10 7l9-2l10-3l9-18l10-13l9-7l10-20l9-8l10-35l9-29l10-29" stroke="none" fill="none" marker-start="url(#m66)" marker-mid="url(#m66)" marker-end="url(#m66)"/><path d="M1797 13941l9-8l10 5l9-5l10 8l9-3l10 3l9-4l10 4l9-5l10 3l9 2l10 4l9 2l10 0l9-1l10 4l9 1l10 2l9 2l10 3l9 6l10-10l9 0l10 7l9-13l9 12l10-10l9 2l10-2l9-6l10-1l9 2l10 2l9-1l10-8l9-8l10 1l9 2l10-4l9-3l10-5l9 9l10-7l9 1l10 4l9 1l10-10l9 4l10 2l9 0l9-3l10 4l9-5l10 9l9 4l10-2l9 5l10 0l9-6l10 0l9 6l10 3l9 6l10 2l9-5l10 1l9 3l10-1l9-9l10 2l9 2l10-2l9-6l10 1l9-2l9 6l10-2l9-2l10-1l9-13l10-4l9 3l10-8l9-2l10 1l9 4l10-14l9-1l10 8l9-12l10 8l9 3l10-1l9 7l10-6l9 6l10-10l9 5l10 9l9-7l9 12l10-6l9 1l10 4l9 8l10-2l9 2l10 1l9-5l10 1l9 1l10 10l9 1l10-4l9-2l10 9l9-8l10-12l9 10l10-5l9-3l10-9l9-1l10-3l9 2l9-13l10-1l9-1l10-6l9-7l10 7l9-2l10-5l9-2l10 8l9-12l10-8l9 6l10-6l9 17l10-11l9-5l10 1l9 10l10 4l9-3l10 10l9-1l10 9l9-4l9 3l10-4l9 9l10 7l9 0l10 7l9-4l10 2l9-2l10-2l9 12l10-11l9-3l10 6l9-16l10 7l9-17l10 3l9-6l10-2l9-8l10 3l9-6l10 0l9-16l9 0l10-11l9-3l10 4l9-13l10-1l9-2l10-4l9 1l10-1l9-5l10 8l9 2l10-1l9-5l10 8l9-7l10 25l9-6l10 3l9 2l10 0l9 12l10 9l9-2l9 2l10 23l9-8l10 6l9 9l10 2l9 0l10 3l9 3l10 4l9-7l10 3l9-6l10 0l9-8l10-8l9-3l10-9l9 1l10-15l9-8l10-5l9-11l10 3l9-21l9-7l10 0l9-20l10-3l9-11l10-4l9-8l10-3l9-3l10-6l9-4l10 13l9-10l10 4l9 4l10-7l9 6l10 14l9 7l10-1l9 15l10 7l9 17l10 2l9 5l9 18l10 9l9 2l10 13l9 6l10 12l9 3l10 18l9-1l10 6l9-17l10 7l9-3l10-3l9-7l10-2l9-32l10-3l9-14l10-9l9-21l10-19l9-15l10-21l9-11l9-23l10-21l9-16l10-16l9-14l10-12l9-20l10-9l9-8l10-16l9 4l10-9l9-8l10-1l9 8l10 1l9 3l10 9l9 10l10 4l9 10l10 11l9 7l10 15l9 17l9 11l10 8l9 28l10 16l9 20l10 14l9 27l10 13l9 19l10 26l9 20l10 22l9 12l10 23l9 14l10 14l9 14l10 5l9 6l10 23l9-2l10-5l9 1l10-14l9-22l9-33l10-38l9-44l10-66l9-77l10-95l9-104l10-119l9-138l10-143l9-138l10-123l9-131l10-105l9-88l10-51l9-35l10 11l9 30l10 59l9 95l10 95l9 110l10 133l9 126l9 134l10 130l9 116l10 105l9 96l10 84l9 82l10 52l9 57l10 34l9 30l10 20l9 19l10 8l9 18l10 0l9 6l10 5l9 7l10-6l9 2l10-1l9 4l10 1l9-3l9 0l10-1l9-5l10 10l9-11l10 21l9-17l10 8l9-13l10 12l9-8l10 8l9 0l10-9l9-1l10 6l9-15l10 10l9-10l10 8l9-3l10-8l9 0l10-11l9 5l9-17l10-6l9-8l10-17l9-12l10-16l9-24l10-19l9-25l10-32l9-26l10-40l9-35l10-50l9-50l10-52l9-58l10-69l9-76l10-87l9-85l10-95l9-104l10-110l9-118l9-112l10-132l9-134l10-130l9-147l10-140l9-151l10-152l9-141l10-152l9-147l10-148l9-135l10-138l9-121l10-119l9-112l10-96l9-84l10-72l9-63l10-46l9-22l10-13l9 4l9 24l10 78l9 100l10 119l9 149l10 183l9 186l10 210l9 211l10 210l9 227l10 220l9 212l10 203l9 196l10 186l9 167l10 139l9 150l10 115l9 117l10 87l9 85l10 74l9 50l9 62l10 39l9 37l10 27l9 21l10 20l9 12l10 3l9 22l10 5l9 4l10 2l9-4l10 3l9 3l10 2l9-8l10 15l9 1l10-5l9 0l10 2l9 2l10 2l9-4l9 2l10-1l9 3l10-11l9 4l10-6l9 10l10-2l9 1l10-1l9 1l10 0l9 7l10-7l9-4l10 11l9-7l10-4l9-2l10 5l9-2l10-6l9 2l10 7l9 1l9-8l10 3l9 3l10-2l9-3l10 0l9-1l10-2l9 2l10-17l9-2l10-7l9 0l10-9l9-12l10-14l9-3l10-26l9-15l10-28l9-25l10-41l9-31l10-38l9-52l9-44l10-53l9-63l10-64l9-72l10-77l9-74l10-81l9-87l10-81l9-86l10-79l9-74l10-77l9-68l10-77l9-55l10-45l9-37l10-35l9-16l10-9l9 9l10 14l9 10l9 42l10 35l9 40l10 67l9 49l10 67l9 70l10 70l9 80l10 80l9 59l10 85l9 69l10 72l9 73l10 67l9 62l10 56l9 61l10 48l9 55l10 43l9 37l10 34l9 31l9 22l10 28l9 25l10 9l9 22l10 11l9 9l10 10l9 7l10-4l9 0l10-1l9-11l10-9l9-12l10-11l9-27l10-32l9-23l10-32" stroke="none" fill="none" marker-start="url(#m67)" marker-mid="url(#m67)" marker-end="url(#m67)"/><path d="M1797 13938l9-5l10 7l9 0l10-4l9 8l10-6l9 0l10-5l9 11l10-4l9 6l10 1l9 10l10-6l9-7l10 4l9 3l10-9l9 9l10 9l9-4l10 0l9-7l10 11l9-6l9-3l10 6l9-5l10 7l9-11l10 8l9-10l10-11l9 4l10-1l9-2l10-11l9 5l10-4l9 5l10-1l9 1l10-4l9 1l10-8l9 2l10 3l9 2l10 10l9-9l9-4l10 0l9 17l10-2l9-10l10 7l9-2l10 3l9-3l10 12l9-4l10-5l9 4l10 5l9-5l10 2l9 5l10-7l9-1l10 3l9-6l10 7l9-10l10 2l9 1l9-4l10-10l9 5l10-4l9-1l10-2l9-10l10-7l9 1l10 2l9-3l10 4l9-1l10 2l9-12l10 8l9 1l10 0l9-3l10 4l9-2l10 1l9-4l10 13l9-5l9 7l10 1l9-7l10 6l9 7l10-2l9 5l10-3l9 8l10-3l9 4l10-1l9 1l10 2l9-4l10-5l9 5l10-3l9-6l10 2l9-10l10-3l9 10l10-11l9-2l9-12l10-4l9 6l10-5l9-6l10-2l9-7l10-3l9 0l10-4l9 0l10 3l9 1l10 1l9-6l10 1l9 0l10 8l9 2l10-1l9-2l10 7l9 3l10 7l9-2l9 3l10 9l9-9l10 14l9-5l10 7l9 0l10 5l9 0l10-6l9 4l10-1l9-7l10-1l9-1l10-3l9-10l10 3l9-7l10-5l9 3l10-3l9-14l10-8l9-2l9-2l10-4l9-11l10 1l9 2l10-13l9 0l10-3l9-5l10-2l9 3l10 3l9 9l10-9l9 3l10-3l9 3l10 6l9 0l10 11l9 4l10 9l9 2l10 4l9 1l9 13l10-1l9-2l10 20l9 0l10 2l9-1l10-2l9 4l10 6l9 3l10-5l9-3l10-4l9 0l10-15l9 4l10-13l9-5l10-2l9-13l10-8l9-8l10-13l9-3l9-21l10-3l9 1l10-1l9-22l10-2l9-5l10 0l9-2l10-1l9-21l10 3l9 9l10-9l9 18l10-8l9 5l10 12l9 4l10 10l9 3l10 4l9 11l10 12l9 7l9 22l10-6l9 19l10 14l9 5l10 8l9 3l10 4l9 14l10-13l9-3l10 10l9-15l10-4l9-7l10-12l9 2l10-21l9-6l10-29l9-1l10-15l9-27l10-15l9-15l9-18l10-19l9-22l10-7l9-16l10-15l9-16l10-13l9-5l10-15l9 0l10-8l9-3l10 0l9-6l10 3l9 7l10 3l9 15l10 1l9 15l10 8l9 11l10 18l9 10l9 11l10 12l9 18l10 20l9 18l10 14l9 24l10 19l9 15l10 19l9 23l10 23l9 10l10 15l9 22l10 15l9 23l10-2l9 18l10 0l9 10l10-2l9-4l10-3l9-38l9-8l10-45l9-46l10-65l9-85l10-79l9-114l10-122l9-128l10-138l9-132l10-130l9-125l10-111l9-90l10-56l9-34l10 10l9 30l10 56l9 88l10 89l9 120l10 121l9 117l9 145l10 119l9 118l10 110l9 99l10 88l9 63l10 79l9 47l10 30l9 36l10 30l9 20l10 11l9-2l10 16l9 12l10-2l9 6l10-7l9 6l10-4l9 6l10-8l9 7l9 0l10 6l9-3l10-3l9 4l10-13l9 10l10 3l9-7l10 6l9-5l10 2l9 2l10-10l9 5l10-6l9 5l10 3l9-3l10-6l9-5l10-4l9-7l10 2l9-13l9-1l10-12l9-24l10-7l9-8l10-26l9-18l10-20l9-27l10-22l9-33l10-34l9-48l10-38l9-55l10-61l9-59l10-73l9-82l10-70l9-99l10-86l9-101l10-114l9-118l9-114l10-128l9-133l10-136l9-146l10-140l9-149l10-151l9-146l10-155l9-138l10-142l9-150l10-130l9-119l10-120l9-105l10-93l9-90l10-71l9-63l10-31l9-42l10-13l9 5l9 31l10 62l9 96l10 116l9 139l10 175l9 179l10 207l9 200l10 210l9 218l10 215l9 216l10 197l9 201l10 175l9 174l10 159l9 135l10 136l9 109l10 104l9 89l10 71l9 68l9 57l10 46l9 37l10 32l9 28l10 24l9 23l10 3l9 11l10 2l9 9l10 2l9 1l10 11l9 5l10-5l9 7l10-1l9-7l10 5l9-2l10 10l9-5l10-5l9 10l9-6l10-1l9 12l10-17l9 10l10-2l9-8l10 15l9-10l10 4l9-2l10 3l9-9l10 11l9-7l10 0l9 2l10 1l9 0l10-6l9 3l10 2l9 4l10-6l9-1l9 2l10-7l9 13l10-19l9 10l10 2l9 1l10-14l9-2l10 0l9-6l10-7l9-5l10-15l9-9l10-10l9-9l10-31l9-13l10-22l9-39l10-29l9-26l10-43l9-51l9-47l10-61l9-72l10-67l9-57l10-77l9-77l10-75l9-75l10-93l9-77l10-83l9-79l10-68l9-80l10-56l9-57l10-45l9-44l10-30l9-12l10-12l9 7l10 15l9 17l9 26l10 38l9 43l10 59l9 57l10 62l9 65l10 74l9 77l10 77l9 64l10 75l9 82l10 63l9 76l10 65l9 61l10 67l9 58l10 56l9 39l10 43l9 38l10 37l9 34l9 24l10 34l9 15l10 18l9 18l10 4l9 15l10 3l9 6l10 6l9-11l10 0l9-3l10-9l9-10l10-20l9-20l10-26l9-24l10-35" stroke="none" fill="none" marker-start="url(#m68)" marker-mid="url(#m68)" marker-end="url(#m68)"/><path d="M1797 13938l9 6l10-4l9 1l10 2l9-4l10-4l9 9l10 5l9-7l10-13l9 16l10-2l9 4l10-4l9-1l10 8l9-4l10 11l9-5l10 8l9-6l10 4l9-4l10 6l9-6l9-1l10 2l9 0l10 0l9-5l10-5l9 0l10-3l9-7l10 4l9-4l10-4l9-1l10-1l9 0l10-9l9 7l10 1l9-5l10-5l9 0l10 6l9-3l10 1l9 3l9-2l10 1l9 3l10-6l9 10l10-6l9-1l10 1l9 10l10 3l9 8l10-6l9-9l10 18l9 0l10-10l9 1l10 11l9-9l10-2l9 6l10-12l9 8l10-12l9 1l9 2l10 1l9-8l10-3l9-3l10 0l9-4l10-7l9 6l10-5l9-4l10 0l9-5l10-4l9 8l10-3l9 14l10-11l9-4l10 8l9-9l10 15l9-13l10 10l9 4l9-1l10 1l9 6l10 3l9-1l10-4l9 4l10-3l9 10l10 0l9 1l10-1l9-2l10-6l9 4l10 1l9-7l10 7l9 0l10-11l9-1l10-3l9-7l10 2l9-4l9-6l10-5l9-5l10 1l9-4l10 9l9-18l10 10l9-9l10-12l9 11l10 5l9-15l10 10l9-2l10 1l9-3l10 2l9 5l10-3l9 11l10-4l9 8l10-3l9 9l9 2l10-5l9 13l10 3l9-5l10 5l9 3l10-1l9-9l10 14l9-4l10-3l9 3l10-6l9-5l10 3l9-13l10 6l9-9l10-6l9-18l10 17l9-14l10-15l9 9l9-12l10-1l9 3l10-12l9 2l10-7l9 4l10-12l9 12l10-10l9-7l10 3l9 4l10 1l9 3l10-12l9 15l10 3l9 7l10 3l9 0l10 10l9 5l10 4l9 5l9 2l10 8l9 4l10 6l9-4l10 8l9 4l10 0l9 2l10 7l9-6l10-10l9 3l10-6l9 4l10-2l9-9l10-15l9 3l10-9l9-16l10-2l9-9l10-11l9-7l9-6l10-11l9-3l10-10l9-10l10 1l9-9l10 0l9-12l10-2l9-4l10-1l9 0l10 2l9 9l10-5l9 12l10-8l9 14l10 6l9 16l10-2l9 9l10 21l9 6l9 9l10 10l9 1l10 5l9 22l10-2l9 12l10-3l9 20l10-8l9-7l10 6l9-12l10 2l9-15l10-6l9-6l10-11l9-15l10-20l9-10l10-13l9-33l10 4l9-23l9-21l10-10l9-21l10-15l9-11l10-23l9-7l10-14l9-19l10 2l9-14l10-7l9-1l10 2l9 4l10 8l9-2l10 4l9 10l10 10l9 0l10 18l9 3l10 15l9 17l9-2l10 18l9 15l10 24l9 11l10 16l9 23l10 8l9 35l10 7l9 30l10 18l9 17l10 10l9 22l10 15l9 16l10 15l9 8l10 8l9 2l10 2l9 5l10-18l9-25l9-18l10-39l9-45l10-62l9-79l10-85l9-111l10-111l9-137l10-126l9-146l10-135l9-112l10-117l9-81l10-66l9-23l10 0l9 28l10 46l9 90l10 83l9 113l10 123l9 126l9 122l10 125l9 115l10 120l9 104l10 82l9 74l10 65l9 46l10 38l9 42l10 36l9 8l10 23l9 8l10 5l9 8l10 6l9 1l10 0l9 1l10-5l9 22l10-9l9-1l9-5l10 2l9-3l10 10l9-5l10-4l9 3l10 1l9-3l10-6l9 15l10-16l9 5l10 4l9-8l10 2l9-7l10 7l9-10l10 5l9-9l10-5l9-2l10-9l9-1l9-16l10-2l9-11l10-15l9-16l10-14l9-27l10-19l9-29l10-21l9-34l10-42l9-40l10-51l9-55l10-60l9-66l10-67l9-70l10-88l9-84l10-101l9-96l10-119l9-111l9-119l10-122l9-140l10-133l9-145l10-140l9-147l10-152l9-152l10-135l9-150l10-144l9-135l10-130l9-136l10-103l9-112l10-93l9-86l10-63l9-73l10-41l9-28l10-27l9 8l9 29l10 59l9 78l10 117l9 139l10 164l9 175l10 185l9 204l10 217l9 208l10 207l9 199l10 217l9 202l10 171l9 179l10 164l9 138l10 137l9 122l10 108l9 88l10 80l9 79l9 48l10 60l9 32l10 40l9 31l10 22l9 23l10 14l9 5l10 19l9 2l10 13l9 1l10-1l9 12l10-4l9 12l10-3l9-3l10-5l9 1l10 8l9-3l10-2l9 8l9-9l10-3l9 0l10 8l9-1l10 2l9-1l10-2l9-3l10 2l9 4l10-7l9 0l10 6l9-2l10 0l9 6l10-7l9-3l10-5l9 7l10 2l9-1l10-3l9-1l9 6l10-5l9-3l10 11l9-16l10 5l9-7l10 1l9-3l10-5l9-7l10-9l9-3l10-6l9-13l10-13l9-24l10-11l9-33l10-20l9-28l10-39l9-31l10-42l9-51l9-51l10-49l9-75l10-57l9-61l10-78l9-80l10-75l9-83l10-87l9-74l10-83l9-71l10-67l9-77l10-52l9-62l10-46l9-31l10-30l9-20l10-11l9-2l10 16l9 12l9 33l10 43l9 44l10 48l9 59l10 61l9 62l10 72l9 70l10 81l9 75l10 77l9 75l10 66l9 68l10 68l9 63l10 52l9 70l10 49l9 49l10 46l9 31l10 42l9 27l9 39l10 13l9 20l10 32l9 12l10 13l9 7l10 15l9-4l10 1l9 4l10 3l9-14l10-12l9-18l10-11l9-18l10-32l9-26l10-33" stroke="none" fill="none" marker-start="url(#m69)" marker-mid="url(#m69)" marker-end="url(#m69)"/><path d="M1797 13937l9-4l10 2l9 10l10-8l9-2l10 4l9-6l10 9l9-4l10 9l9-4l10 3l9 4l10 2l9-5l10 1l9 5l10 4l9 0l10-7l9 10l10-10l9 12l10-8l9-3l9-3l10 6l9 0l10 2l9-12l10 3l9-1l10-2l9-5l10-1l9-7l10 12l9-14l10 4l9-3l10-1l9-2l10-4l9 1l10 7l9-6l10 0l9-2l10 1l9 1l9-4l10 10l9-13l10 13l9 3l10-6l9 0l10 1l9 0l10 6l9 3l10 0l9 2l10 4l9-9l10-1l9 8l10 1l9 1l10 4l9-6l10-2l9-4l10 2l9 2l9-13l10-7l9 14l10-11l9-7l10 6l9-1l10-8l9-1l10 0l9-11l10-1l9 2l10 3l9 0l10-6l9 5l10-7l9 1l10 9l9-5l10-2l9 5l10 8l9-1l9 2l10 0l9 3l10 3l9-3l10 0l9 10l10 6l9-7l10 3l9-1l10 5l9-4l10 4l9-9l10-4l9 10l10 5l9-11l10-3l9-6l10-3l9-5l10-13l9 11l9-5l10-6l9 6l10-14l9 3l10 0l9-5l10-7l9-4l10-3l9 2l10 5l9-6l10 2l9-10l10 20l9-15l10 5l9 3l10 5l9 4l10 4l9 5l10-13l9 8l9 4l10 4l9 12l10-4l9 0l10-3l9 11l10-4l9 2l10-1l9 3l10-6l9 0l10 6l9-16l10-8l9 10l10-13l9 5l10-6l9-15l10 2l9-11l10 1l9-8l9 0l10-11l9-6l10 1l9 2l10-4l9 0l10-9l9-1l10 4l9-7l10 6l9-9l10 5l9-2l10 12l9 4l10 7l9-7l10 11l9-6l10 10l9 2l10 13l9 2l9 2l10 2l9 13l10-2l9 8l10-4l9 7l10 2l9-2l10-2l9 5l10-8l9 7l10-8l9 2l10-11l9-1l10-10l9-9l10-1l9-4l10-15l9-11l10-7l9-3l9-16l10-3l9-12l10 0l9-12l10-9l9 3l10-7l9-7l10-3l9-1l10 1l9 6l10-5l9 7l10-3l9 14l10-11l9 4l10 13l9 13l10 6l9 4l10 10l9 15l9 1l10 12l9 9l10 12l9 7l10 9l9 2l10 8l9-5l10 6l9-1l10-3l9-4l10 2l9-18l10-4l9-7l10-10l9-14l10-14l9-17l10-12l9-20l10-16l9-13l9-30l10-6l9-19l10-15l9-14l10-18l9-17l10-5l9-7l10-15l9 5l10-14l9-1l10-3l9 9l10-2l9 7l10 3l9 1l10 11l9 9l10 1l9 14l10 19l9 7l9 6l10 13l9 14l10 15l9 21l10 13l9 22l10 16l9 19l10 19l9 16l10 18l9 21l10 10l9 23l10 7l9 17l10 22l9 3l10 18l9-6l10 6l9 3l10-4l9-24l9-21l10-46l9-37l10-65l9-78l10-87l9-104l10-114l9-131l10-126l9-142l10-124l9-129l10-102l9-90l10-64l9-35l10 11l9 21l10 51l9 63l10 100l9 100l10 123l9 128l9 119l10 129l9 110l10 110l9 98l10 99l9 66l10 68l9 67l10 28l9 38l10 40l9 16l10 24l9 7l10 8l9 4l10 11l9 0l10 6l9-4l10-1l9 4l10-5l9 2l9 2l10-3l9 10l10-5l9 7l10-8l9 2l10-6l9 5l10 1l9-3l10 0l9-4l10 5l9 2l10-1l9-14l10 8l9-5l10-1l9-12l10 2l9-13l10 2l9-11l9-11l10-11l9-2l10-17l9-17l10-11l9-31l10-22l9-28l10-22l9-41l10-40l9-46l10-41l9-59l10-64l9-54l10-71l9-77l10-79l9-94l10-105l9-92l10-113l9-121l9-119l10-126l9-129l10-138l9-141l10-146l9-143l10-151l9-135l10-158l9-138l10-144l9-134l10-135l9-121l10-119l9-100l10-100l9-90l10-72l9-53l10-48l9-30l10-19l9-2l9 19l10 55l9 78l10 106l9 143l10 145l9 173l10 189l9 194l10 201l9 199l10 215l9 208l10 201l9 198l10 182l9 176l10 170l9 146l10 121l9 136l10 114l9 95l10 94l9 71l9 62l10 66l9 43l10 39l9 32l10 29l9 19l10 15l9 17l10 9l9 9l10 14l9 2l10 7l9-1l10 7l9 1l10-6l9 9l10 6l9-6l10 0l9 3l10-2l9-4l9 7l10-1l9 2l10-5l9 2l10 4l9-3l10-9l9 15l10-1l9-7l10 7l9-14l10 14l9-1l10-3l9-7l10 1l9 1l10 1l9-4l10 13l9-9l10-5l9 10l9-7l10-4l9-1l10 4l9-10l10 4l9-5l10 6l9-5l10-5l9-17l10 10l9-10l10-22l9-9l10-2l9-28l10-20l9-29l10-14l9-35l10-41l9-37l10-36l9-49l9-47l10-68l9-53l10-72l9-66l10-65l9-78l10-80l9-78l10-83l9-77l10-74l9-76l10-65l9-67l10-65l9-53l10-40l9-42l10-25l9-20l10-16l9 10l10 9l9 14l9 29l10 35l9 50l10 44l9 57l10 63l9 64l10 68l9 66l10 69l9 81l10 68l9 79l10 78l9 64l10 62l9 63l10 70l9 44l10 65l9 49l10 44l9 33l10 41l9 31l9 43l10 16l9 23l10 16l9 20l10 6l9 18l10 10l9 6l10-11l9 1l10 2l9-15l10-5l9-14l10-11l9-24l10-27l9-28l10-28" stroke="none" fill="none" marker-start="url(#m70)" marker-mid="url(#m70)" marker-end="url(#m70)"/><path d="M1797 13933l9-2l10 10l9-5l10 8l9-8l10 7l9-3l10-1l9 3l10-5l9 9l10 0l9-2l10 2l9 0l10 4l9 3l10-5l9 4l10-3l9-1l10 7l9 2l10-1l9 0l9 5l10-16l9 4l10-10l9 10l10-6l9-1l10 0l9-7l10 2l9-1l10-3l9 8l10-8l9-1l10-11l9 3l10-1l9-1l10 3l9-8l10 8l9 5l10-8l9-2l9 5l10 0l9-2l10-1l9 5l10-3l9 7l10-6l9 15l10-8l9 4l10 2l9 7l10-9l9 6l10 3l9-1l10-2l9-2l10 3l9-1l10-7l9 0l10-10l9 8l9-7l10-7l9 6l10-8l9 1l10-1l9-9l10 9l9-4l10 3l9-8l10-6l9 4l10-5l9 6l10-9l9 5l10 2l9-8l10 7l9-1l10 3l9-2l10 4l9 7l9-4l10 1l9 2l10 5l9-6l10 12l9-2l10 1l9 7l10 1l9-6l10 0l9 2l10 7l9-6l10-4l9-3l10-4l9 0l10-4l9-6l10 13l9-17l10 3l9-7l9-3l10 2l9-4l10-8l9 0l10-7l9 2l10-12l9 8l10-11l9 10l10-6l9-2l10 10l9-2l10-5l9-2l10 1l9 5l10 0l9 11l10-1l9-5l10 11l9 1l9 9l10-4l9 8l10-5l9-3l10 7l9 2l10 3l9-4l10 7l9-3l10-12l9 13l10-5l9 0l10-14l9 3l10 0l9-4l10-14l9-3l10-5l9-2l10-8l9-7l9-1l10 5l9-3l10-6l9-10l10 4l9-4l10-7l9 2l10 1l9-10l10 2l9-1l10 1l9-1l10 8l9 4l10 9l9-3l10 6l9-3l10 6l9 1l10 6l9 5l9 7l10 6l9 7l10 2l9 7l10-2l9 4l10 10l9 4l10-8l9-2l10-2l9-9l10 5l9-2l10-11l9-8l10-9l9 5l10-11l9-7l10-15l9-5l10-5l9-11l9-3l10-9l9-8l10-5l9-7l10-8l9-5l10-9l9-1l10 1l9 6l10-4l9-4l10 1l9 5l10-1l9 2l10 8l9 4l10 6l9 10l10 8l9 6l10 7l9 14l9 13l10 5l9 2l10 17l9-3l10 12l9 3l10 8l9-3l10 3l9-2l10 8l9-15l10 4l9-12l10-12l9-7l10-14l9-11l10-13l9-11l10-22l9-16l10-9l9-15l9-21l10-12l9-20l10-19l9-14l10-18l9-9l10-5l9-11l10-14l9-12l10 5l9-1l10-10l9 7l10-1l9 3l10 13l9 3l10 7l9 3l10 8l9 13l10 6l9 19l9 3l10 12l9 15l10 20l9 9l10 20l9 6l10 25l9 17l10 18l9 15l10 20l9 17l10 23l9 9l10 22l9 10l10 15l9 8l10 14l9 12l10 1l9-6l10-15l9-8l9-26l10-39l9-39l10-63l9-73l10-84l9-105l10-118l9-125l10-126l9-147l10-120l9-120l10-106l9-86l10-70l9-19l10-14l9 27l10 43l9 68l10 93l9 102l10 106l9 129l9 121l10 124l9 113l10 109l9 102l10 92l9 79l10 74l9 47l10 54l9 40l10 28l9 25l10 13l9 12l10 8l9 12l10 7l9 3l10 6l9 0l10-10l9 12l10-1l9-4l9 2l10-2l9 6l10 1l9-10l10 8l9-3l10-1l9 8l10-7l9 1l10-5l9 2l10 7l9-13l10 12l9-11l10-1l9-3l10-6l9-7l10 3l9-7l10-12l9-6l9-10l10-9l9-10l10-13l9-16l10-24l9-24l10-26l9-16l10-34l9-36l10-39l9-40l10-62l9-51l10-53l9-64l10-73l9-73l10-87l9-95l10-100l9-101l10-111l9-106l9-113l10-145l9-127l10-135l9-147l10-133l9-145l10-147l9-156l10-143l9-132l10-154l9-129l10-132l9-119l10-126l9-100l10-99l9-76l10-80l9-57l10-46l9-30l10-19l9-2l9 19l10 46l9 73l10 110l9 122l10 144l9 167l10 173l9 190l10 198l9 201l10 203l9 205l10 203l9 193l10 192l9 178l10 159l9 154l10 135l9 138l10 119l9 98l10 95l9 82l9 61l10 58l9 58l10 48l9 33l10 32l9 31l10 11l9 19l10 10l9 19l10 6l9 7l10 12l9-13l10 22l9-1l10-2l9 7l10-7l9 4l10-2l9 0l10 1l9 0l9 1l10-2l9-1l10 4l9 1l10 0l9-3l10 3l9 0l10 4l9-14l10 13l9-12l10 4l9-1l10 3l9-1l10 1l9-2l10-1l9-3l10 10l9-6l10-5l9 0l9 9l10-6l9-1l10-1l9 8l10-15l9 8l10-19l9 2l10-3l9-9l10-6l9-6l10-13l9-15l10-10l9-24l10-23l9-23l10-28l9-31l10-33l9-41l10-38l9-49l9-56l10-58l9-51l10-60l9-83l10-67l9-76l10-72l9-75l10-73l9-76l10-85l9-71l10-67l9-59l10-62l9-52l10-46l9-27l10-41l9-24l10-1l9-1l10 8l9 23l9 20l10 40l9 40l10 46l9 55l10 60l9 68l10 61l9 78l10 64l9 79l10 76l9 68l10 76l9 67l10 65l9 60l10 61l9 58l10 57l9 54l10 40l9 42l10 37l9 35l9 30l10 21l9 31l10 14l9 11l10 22l9 11l10 5l9 5l10-1l9-6l10 2l9-10l10-6l9-14l10-20l9-17l10-32l9-21l10-32" stroke="none" fill="none" marker-start="url(#m71)" marker-mid="url(#m71)" marker-end="url(#m71)"/><path d="M1797 13942l9-3l10 3l9-2l10 5l9-7l10-7l9 16l10-14l9 8l10-3l9 9l10-12l9 14l10-3l9-5l10 13l9 5l10-8l9 4l10 2l9 0l10 3l9-12l10 0l9 11l9-6l10 0l9-8l10 7l9-12l10 5l9 2l10-5l9 0l10-14l9 7l10 1l9-4l10-8l9 9l10 2l9-14l10 2l9 4l10-2l9-5l10 16l9-17l10 6l9-3l9 4l10-13l9 17l10-7l9 17l10-10l9-2l10 12l9 3l10-8l9-2l10 0l9 9l10-4l9 8l10-13l9 10l10-8l9 6l10-1l9-9l10 9l9-11l10 5l9 0l9-2l10-11l9 3l10-1l9 3l10-14l9-2l10 1l9-4l10 16l9-13l10-4l9-1l10 2l9-4l10 3l9 0l10 3l9-6l10 4l9 0l10-7l9 8l10 1l9 8l9-3l10-4l9 3l10 4l9 3l10 1l9 0l10 5l9 10l10-18l9 4l10 6l9-6l10 11l9-12l10 3l9-4l10 3l9-4l10-5l9-4l10-1l9-3l10 1l9-13l9 3l10-1l9-3l10 1l9-5l10 1l9-10l10-1l9-3l10 5l9-5l10 1l9-8l10 11l9 0l10-11l9 5l10 9l9-11l10 1l9 4l10 16l9-7l10 7l9 0l9 8l10-12l9 13l10-2l9-1l10 3l9 2l10 4l9-2l10 2l9 8l10-15l9 5l10-2l9-3l10 1l9-4l10-1l9-14l10-8l9 1l10 0l9-15l10 2l9 1l9-3l10-13l9-9l10 4l9-2l10-5l9 0l10-3l9-5l10 3l9-8l10 8l9-6l10 2l9 5l10 1l9 3l10-6l9 14l10-5l9 5l10 10l9-4l10 22l9-7l9 5l10 5l9 0l10 9l9 3l10-3l9 7l10 6l9-6l10 3l9 1l10-6l9 3l10-2l9-7l10-5l9-6l10-1l9-19l10-2l9-5l10-8l9 4l10-22l9 0l9-14l10 0l9-17l10 0l9-8l10-13l9-2l10 5l9-6l10-7l9 0l10-5l9 6l10 6l9-2l10-1l9 1l10 4l9 3l10 10l9 9l10 4l9 11l10 10l9 9l9 3l10 6l9 9l10 20l9-5l10 16l9 2l10-1l9 11l10 1l9-3l10-12l9-1l10 3l9-12l10-8l9-10l10-7l9-21l10-5l9-19l10-4l9-24l10-14l9-21l9 1l10-30l9-17l10-11l9-21l10-18l9-7l10-12l9-12l10-4l9-10l10-2l9 3l10 1l9-9l10 5l9 9l10 1l9-1l10 20l9 4l10 0l9 8l10 18l9 9l9 5l10 6l9 19l10 23l9 0l10 20l9 17l10 20l9 7l10 21l9 18l10 18l9 17l10 16l9 13l10 28l9 10l10 16l9 2l10 18l9 12l10-3l9 1l10-8l9-16l9-19l10-31l9-61l10-49l9-69l10-93l9-103l10-99l9-129l10-133l9-128l10-135l9-115l10-110l9-90l10-66l9-34l10-3l9 19l10 52l9 48l10 95l9 100l10 110l9 117l9 123l10 126l9 121l10 104l9 105l10 90l9 78l10 68l9 55l10 54l9 47l10 22l9 23l10 30l9 5l10 13l9 11l10 2l9 4l10 2l9-1l10 6l9 1l10-10l9 16l9-4l10 1l9-5l10-1l9 10l10-11l9 10l10-17l9 14l10-8l9 5l10-5l9 6l10-5l9-1l10-2l9-5l10 3l9-3l10 1l9-9l10-4l9-11l10-6l9-2l9-14l10-15l9-6l10-10l9-32l10-11l9-23l10-32l9-14l10-37l9-26l10-51l9-44l10-44l9-55l10-63l9-65l10-80l9-70l10-85l9-91l10-91l9-108l10-106l9-122l9-111l10-131l9-138l10-126l9-142l10-153l9-135l10-151l9-147l10-139l9-140l10-153l9-126l10-135l9-117l10-120l9-99l10-95l9-87l10-75l9-60l10-49l9-37l10-16l9-11l9 24l10 38l9 68l10 94l9 134l10 124l9 172l10 158l9 191l10 192l9 204l10 194l9 203l10 204l9 195l10 180l9 177l10 169l9 162l10 143l9 129l10 121l9 107l10 100l9 89l9 70l10 65l9 60l10 43l9 46l10 30l9 32l10 12l9 23l10 20l9 19l10 10l9 0l10 10l9 3l10 12l9 3l10-4l9 3l10 6l9-1l10-6l9 5l10-3l9-5l9 6l10 1l9 3l10-7l9 11l10-1l9-5l10 6l9-10l10 7l9-5l10 3l9 0l10-1l9 8l10-3l9-3l10-12l9 6l10 0l9 8l10-9l9-2l10 2l9-9l9 17l10-3l9-4l10 1l9-6l10-5l9-1l10-4l9-6l10-7l9-1l10-8l9-18l10-5l9-11l10-21l9-16l10-23l9-24l10-31l9-33l10-28l9-37l10-56l9-38l9-48l10-55l9-68l10-61l9-63l10-74l9-72l10-84l9-72l10-75l9-70l10-79l9-75l10-66l9-67l10-54l9-54l10-43l9-33l10-36l9-15l10-11l9 8l10 8l9 13l9 28l10 27l9 42l10 44l9 56l10 66l9 54l10 74l9 70l10 68l9 72l10 69l9 64l10 82l9 64l10 74l9 62l10 64l9 57l10 46l9 54l10 46l9 47l10 27l9 42l9 33l10 24l9 20l10 20l9 14l10 24l9 8l10-1l9 2l10 14l9-3l10 2l9-11l10-10l9-17l10-13l9-30l10-20l9-27l10-36" stroke="none" fill="none" marker-start="url(#m72)" marker-mid="url(#m72)" marker-end="url(#m72)"/><path d="M1797 13939l9 4l10-6l9-9l10 10l9-2l10 4l9 0l10-2l9 14l10-5l9-2l10 0l9-7l10-3l9 9l10 3l9-1l10-2l9 11l10-1l9-2l10 0l9 9l10-10l9 8l9-11l10-1l9 12l10-13l9 0l10 1l9-8l10-6l9 4l10 5l9 0l10-3l9-3l10-10l9 2l10 0l9-5l10 3l9-1l10 3l9-1l10-3l9 5l10-11l9 6l9 4l10-6l9 10l10-8l9 5l10-7l9 12l10 1l9 3l10 3l9-6l10 7l9-5l10 5l9-7l10 16l9-13l10 1l9 0l10 2l9-11l10 7l9-5l10 1l9-1l9-4l10-5l9 5l10-5l9 2l10-10l9 3l10-2l9-8l10 1l9-3l10 1l9-3l10 0l9 5l10-6l9 2l10-1l9-1l10 4l9 3l10-9l9-2l10 11l9-5l9 5l10 6l9 3l10-1l9 3l10 1l9 1l10 5l9-7l10 9l9 1l10-8l9 0l10-3l9 5l10 2l9-9l10 3l9-2l10 1l9-8l10 8l9-15l10 8l9-16l9 7l10-12l9-11l10 9l9 1l10-16l9 8l10 1l9-12l10 16l9-7l10-1l9-4l10 6l9-12l10 0l9 5l10 3l9 6l10-7l9 7l10-3l9 0l10 7l9 12l9-3l10-7l9 6l10-2l9 17l10-8l9 2l10 7l9-4l10-7l9 1l10 4l9-5l10-6l9 7l10-9l9-6l10 3l9-12l10 2l9-10l10-4l9-1l10-3l9-2l9-8l10-5l9-9l10 3l9-5l10-8l9 3l10-3l9-6l10 5l9-1l10-2l9 4l10 5l9 3l10-3l9-4l10 4l9 0l10 7l9 10l10 8l9 0l10 3l9 6l9-3l10 12l9-2l10 3l9 13l10-3l9-5l10 4l9 4l10 5l9-3l10-4l9-8l10 1l9-2l10-6l9-7l10 5l9-10l10-11l9-12l10-7l9 1l10-11l9-5l9-8l10-10l9-5l10-5l9-4l10-4l9-11l10-5l9-6l10 4l9-3l10-9l9 3l10-1l9 8l10 3l9 6l10-5l9 14l10 9l9 2l10-1l9 13l10 7l9 9l9 9l10 8l9 13l10-5l9 14l10 0l9 17l10-6l9 10l10 1l9-7l10-5l9-5l10-5l9 0l10-13l9-3l10-11l9-15l10-11l9-18l10-2l9-28l10-7l9-25l9-14l10-6l9-20l10-18l9-8l10-14l9-15l10-16l9-10l10-3l9-12l10-7l9 0l10 6l9 1l10-3l9 1l10 6l9 9l10 8l9-3l10 13l9-1l10 22l9 5l9 12l10 0l9 14l10 20l9 20l10 1l9 19l10 22l9 18l10 8l9 20l10 16l9 17l10 20l9 16l10 12l9 19l10 14l9 8l10 21l9-6l10 6l9 4l10-9l9-20l9-19l10-23l9-47l10-61l9-78l10-80l9-94l10-114l9-119l10-127l9-134l10-119l9-134l10-106l9-84l10-63l9-36l10-14l9 18l10 42l9 56l10 98l9 91l10 109l9 109l9 125l10 123l9 112l10 110l9 97l10 98l9 85l10 71l9 62l10 45l9 40l10 38l9 26l10 14l9 21l10 10l9 16l10 4l9 11l10 0l9-5l10-3l9 8l10 4l9-5l9-4l10 6l9-5l10 4l9 5l10-1l9-3l10-11l9 6l10 3l9-2l10-1l9 2l10-3l9 0l10-6l9-6l10-1l9 4l10-8l9 2l10-4l9-11l10-9l9-5l9-14l10-11l9-13l10-11l9-12l10-33l9-12l10-31l9-28l10-29l9-45l10-36l9-42l10-49l9-53l10-59l9-75l10-68l9-78l10-89l9-87l10-102l9-98l10-110l9-122l9-115l10-132l9-131l10-133l9-132l10-143l9-145l10-144l9-154l10-137l9-141l10-142l9-136l10-122l9-132l10-116l9-100l10-102l9-75l10-78l9-63l10-50l9-39l10-15l9-4l9 9l10 40l9 65l10 93l9 110l10 136l9 147l10 171l9 179l10 180l9 203l10 195l9 196l10 201l9 188l10 194l9 172l10 180l9 159l10 142l9 131l10 124l9 123l10 97l9 92l9 87l10 57l9 65l10 45l9 49l10 41l9 33l10 24l9 19l10 22l9 1l10 23l9 15l10 3l9 2l10 7l9 7l10 5l9 3l10 3l9-2l10-2l9 4l10-8l9 5l9 4l10-1l9-7l10 14l9-8l10-10l9 7l10 8l9-5l10 2l9-13l10 15l9-2l10 0l9 5l10 8l9-13l10-4l9 4l10-4l9-1l10 0l9 9l10-14l9 2l9 0l10 2l9-1l10 0l9-6l10-5l9 3l10-10l9 0l10-10l9-5l10-13l9-15l10-5l9-11l10-17l9-24l10-17l9-32l10-25l9-35l10-30l9-38l10-45l9-52l9-48l10-62l9-48l10-70l9-69l10-62l9-77l10-70l9-81l10-74l9-78l10-66l9-66l10-71l9-65l10-57l9-51l10-48l9-29l10-28l9-17l10-11l9-8l10 11l9 28l9 8l10 46l9 33l10 40l9 56l10 56l9 60l10 69l9 75l10 64l9 76l10 79l9 63l10 67l9 71l10 67l9 57l10 67l9 55l10 56l9 45l10 54l9 36l10 36l9 44l9 25l10 37l9 17l10 19l9 23l10 18l9 3l10 10l9 3l10 1l9-3l10-8l9-2l10-3l9-23l10-16l9-20l10-31l9-22l10-28" stroke="none" fill="none" marker-start="url(#m73)" marker-mid="url(#m73)" marker-end="url(#m73)"/><path d="M1797 13935l9 9l10-11l9 4l10-6l9 4l10 2l9 1l10 7l9-4l10-1l9-2l10 3l9 0l10 2l9 6l10-3l9 4l10 5l9 2l10-9l9-2l10 0l9 10l10-10l9-1l9 9l10-6l9-7l10 6l9-6l10 6l9-3l10-7l9 2l10-3l9-1l10 3l9-13l10 6l9-1l10 0l9-4l10 4l9-9l10 5l9-5l10 7l9 0l10 0l9-4l9 7l10-9l9 6l10-4l9 6l10-4l9 9l10 2l9-6l10 6l9-6l10 9l9-5l10 7l9 4l10-13l9 7l10-5l9 2l10 7l9-10l10-4l9-2l10-4l9 4l9 0l10-3l9 3l10-10l9-3l10 0l9 2l10-7l9 3l10-9l9 6l10-2l9-2l10 3l9-2l10-3l9 9l10-18l9 7l10 1l9 5l10-3l9 2l10 1l9 8l9-4l10 9l9-6l10 5l9 0l10 1l9-4l10 0l9 6l10 6l9-10l10 12l9-4l10-1l9 1l10-10l9 3l10-5l9 4l10-8l9 2l10-3l9-5l10-3l9-4l9 0l10 2l9-8l10 7l9-12l10-1l9-9l10 13l9-22l10 9l9 4l10-9l9-1l10 0l9-7l10 13l9-3l10 1l9 5l10-2l9-3l10 11l9-3l10 0l9 4l9 12l10-6l9 5l10-5l9 7l10-7l9 15l10-7l9 6l10-11l9 0l10 9l9-8l10 1l9 4l10-5l9-8l10-5l9-1l10-6l9-5l10-4l9 2l10-10l9-6l9 4l10-17l9-3l10 2l9-11l10 9l9-2l10-3l9-1l10-12l9 7l10 0l9-1l10-5l9 8l10 4l9-1l10-1l9 9l10-4l9 9l10 6l9 1l10-2l9 13l9-3l10 8l9 5l10 4l9 0l10 3l9 3l10 0l9 7l10-1l9 1l10-4l9-3l10-2l9-8l10 2l9-8l10-10l9-10l10 1l9-12l10-8l9 3l10-13l9-2l9-10l10-10l9 0l10-14l9-3l10-5l9-8l10 2l9 0l10-10l9 1l10-3l9 3l10 0l9 2l10 4l9 1l10 4l9 2l10-7l9 22l10 11l9-2l10 16l9 6l9 6l10 6l9 7l10 6l9 8l10 1l9 5l10 9l9 1l10 6l9-9l10 1l9-12l10 5l9-15l10 2l9-6l10-13l9-17l10-15l9-5l10-21l9-8l10-15l9-16l9-23l10-10l9-15l10-7l9-22l10-14l9-18l10-1l9-10l10-7l9-8l10-10l9 4l10-10l9 6l10 5l9 2l10 7l9 5l10-5l9 7l10 15l9 5l10-1l9 19l9 5l10 9l9 14l10 12l9 13l10 12l9 22l10 8l9 15l10 23l9 9l10 23l9 24l10 14l9 8l10 14l9 20l10 18l9 7l10 5l9 12l10 10l9-9l10-4l9-13l9-22l10-34l9-40l10-51l9-73l10-84l9-101l10-99l9-124l10-124l9-135l10-124l9-111l10-124l9-82l10-64l9-38l10-11l9 17l10 34l9 59l10 79l9 93l10 111l9 108l9 121l10 116l9 115l10 115l9 95l10 96l9 88l10 63l9 63l10 66l9 46l10 28l9 23l10 20l9 18l10 16l9 5l10 8l9 10l10 1l9-1l10 9l9 1l10 2l9-9l9 3l10 0l9 5l10-2l9-5l10 6l9-6l10 4l9 0l10-3l9-2l10-4l9 7l10-9l9 8l10-1l9 4l10-16l9-6l10 8l9-8l10-6l9-1l10-14l9-9l9-7l10-9l9-18l10-18l9-9l10-25l9-26l10-12l9-42l10-39l9-25l10-52l9-39l10-54l9-53l10-57l9-65l10-90l9-63l10-90l9-98l10-93l9-103l10-101l9-121l9-118l10-124l9-140l10-138l9-131l10-142l9-148l10-146l9-137l10-153l9-140l10-134l9-130l10-136l9-122l10-119l9-96l10-106l9-77l10-78l9-60l10-50l9-41l10-14l9-14l9 15l10 35l9 64l10 81l9 116l10 120l9 139l10 162l9 183l10 181l9 188l10 185l9 205l10 194l9 193l10 184l9 185l10 166l9 161l10 149l9 148l10 121l9 112l10 110l9 95l9 98l10 58l9 62l10 59l9 51l10 40l9 26l10 45l9 24l10 14l9 20l10 24l9 1l10 9l9 13l10 0l9 5l10 12l9-7l10-5l9 4l10 13l9 2l10-5l9-1l9 8l10-3l9-8l10 5l9-4l10 5l9-4l10 6l9 0l10 2l9 4l10-6l9 4l10-4l9-3l10 0l9-1l10 3l9-1l10-6l9 6l10-2l9 10l10-6l9-10l9 7l10 0l9-10l10 7l9-12l10 2l9-2l10 2l9-20l10 7l9-11l10-17l9-3l10-20l9-13l10-16l9-17l10-24l9-30l10-24l9-39l10-35l9-42l10-43l9-49l9-52l10-57l9-58l10-63l9-61l10-65l9-79l10-76l9-66l10-70l9-77l10-75l9-71l10-60l9-57l10-61l9-53l10-39l9-40l10-22l9-25l10-13l9 9l10 7l9 8l9 13l10 42l9 41l10 39l9 58l10 63l9 58l10 55l9 80l10 69l9 62l10 74l9 67l10 80l9 67l10 65l9 68l10 56l9 58l10 50l9 54l10 48l9 39l10 36l9 36l9 34l10 31l9 25l10 24l9 12l10 14l9 4l10 15l9 2l10 0l9 13l10-10l9-9l10-12l9-9l10-26l9-21l10-23l9-29l10-24" stroke="none" fill="none" marker-start="url(#m74)" marker-mid="url(#m74)" marker-end="url(#m74)"/><path d="M1797 13933l9 7l10 6l9-9l10-1l9 5l10 5l9-2l10-4l9 11l10-14l9 1l10 6l9-4l10 6l9 5l10-6l9 1l10 7l9 3l10-1l9-9l10 7l9-13l10 14l9-5l9 0l10 1l9-5l10 6l9-5l10 3l9 3l10-12l9 4l10-2l9-9l10 1l9-4l10-7l9 5l10-2l9 6l10-10l9 0l10 7l9-7l10 1l9 2l10-1l9-9l9 13l10-1l9-1l10 2l9 9l10-10l9 0l10-2l9 11l10 4l9-7l10 8l9-4l10 3l9-3l10 3l9-5l10 7l9-15l10 6l9 5l10 0l9-5l10 0l9-1l9-11l10 0l9 6l10-9l9 0l10-5l9 4l10-14l9 7l10-10l9 9l10-9l9 6l10-9l9 8l10 3l9 0l10-2l9-5l10 1l9 2l10-3l9-1l10 12l9-7l9-4l10 14l9 1l10-2l9 2l10 5l9 0l10-6l9 4l10 8l9 4l10-2l9-6l10 4l9-1l10-7l9 2l10-1l9-5l10-7l9 2l10-4l9-1l10-9l9 9l9-4l10-5l9-14l10-1l9 9l10-5l9-7l10 0l9-5l10 5l9 4l10-11l9-3l10 12l9 1l10-5l9 7l10-9l9 8l10-7l9 7l10 0l9-1l10 6l9 6l9-6l10 12l9-10l10 10l9 2l10-3l9 1l10 0l9 9l10-3l9-6l10-1l9 1l10-8l9 4l10-8l9-4l10 0l9-2l10-8l9-3l10-5l9 2l10-9l9-10l9 4l10-5l9-2l10-9l9 10l10-18l9 2l10 1l9-4l10-4l9 2l10-1l9-2l10 5l9-1l10-1l9 6l10 7l9-3l10-2l9 13l10 1l9 4l10 2l9 9l9 2l10-5l9 9l10 9l9-3l10 5l9-4l10 15l9-7l10-4l9 9l10-4l9-7l10-1l9-2l10-7l9 2l10-8l9-17l10 4l9-11l10-5l9-11l10-5l9-7l9-11l10-3l9 2l10-11l9-14l10-4l9 1l10 1l9-7l10-14l9 2l10-1l9 11l10 0l9-2l10 6l9-3l10 9l9-2l10 8l9 8l10 1l9 8l10 9l9 10l9 6l10 15l9 8l10 1l9 2l10-1l9 10l10 9l9 0l10 4l9-6l10-2l9-4l10-6l9-10l10-6l9-1l10-18l9-3l10-18l9-12l10-20l9-6l10-14l9-14l9-20l10-13l9-12l10-19l9-19l10-12l9-11l10-3l9-11l10-9l9 1l10-19l9 11l10-9l9 7l10-4l9 0l10 5l9 10l10 4l9 0l10 10l9 6l10 4l9 23l9-3l10 5l9 9l10 16l9 18l10 6l9 10l10 25l9 15l10 14l9 17l10 23l9 18l10 13l9 13l10 11l9 19l10 11l9 8l10 3l9 17l10 12l9-8l10-2l9-14l9-23l10-30l9-32l10-55l9-74l10-83l9-101l10-101l9-114l10-125l9-127l10-125l9-120l10-111l9-92l10-63l9-44l10-10l9 14l10 37l9 54l10 77l9 102l10 91l9 113l9 119l10 114l9 119l10 106l9 107l10 88l9 86l10 81l9 61l10 48l9 46l10 38l9 35l10 21l9 14l10 14l9 11l10 11l9 4l10 5l9 5l10 2l9 0l10 4l9-8l9-1l10 0l9 7l10 0l9-4l10 3l9-1l10-1l9 5l10-12l9 10l10 0l9-11l10 7l9-11l10 1l9-2l10 0l9 1l10-5l9-10l10-4l9-2l10-8l9-10l9-13l10-14l9-16l10-10l9-26l10-18l9-26l10-17l9-36l10-35l9-26l10-53l9-44l10-53l9-54l10-65l9-61l10-73l9-84l10-86l9-83l10-108l9-103l10-110l9-108l9-129l10-123l9-132l10-131l9-136l10-140l9-143l10-150l9-137l10-144l9-145l10-135l9-126l10-134l9-124l10-122l9-102l10-90l9-86l10-77l9-66l10-46l9-42l10-16l9-17l9 4l10 48l9 45l10 79l9 101l10 123l9 140l10 153l9 169l10 178l9 180l10 193l9 194l10 199l9 190l10 180l9 189l10 164l9 173l10 140l9 146l10 140l9 120l10 116l9 91l9 83l10 81l9 72l10 51l9 59l10 45l9 42l10 28l9 20l10 31l9 28l10 8l9 6l10 14l9 15l10 3l9 13l10-4l9 10l10 1l9 2l10 2l9-9l10 2l9 8l9-1l10-6l9 8l10 1l9 2l10-10l9 6l10 1l9 2l10 2l9-8l10 7l9-1l10 5l9-3l10-2l9 0l10 4l9-4l10-2l9 9l10-13l9 3l10 3l9-5l9-4l10 1l9-2l10-3l9-5l10 5l9-7l10-9l9-4l10-3l9-11l10-8l9-15l10-6l9-16l10-19l9-26l10-34l9-20l10-31l9-28l10-44l9-35l10-44l9-52l9-43l10-52l9-63l10-73l9-64l10-65l9-68l10-72l9-75l10-66l9-79l10-62l9-77l10-57l9-57l10-57l9-47l10-45l9-28l10-33l9-22l10-12l9 1l10 0l9 26l9 16l10 32l9 35l10 45l9 43l10 61l9 64l10 50l9 77l10 70l9 66l10 77l9 69l10 65l9 77l10 64l9 58l10 57l9 66l10 55l9 45l10 58l9 40l10 40l9 41l9 35l10 18l9 19l10 22l9 16l10 31l9 1l10 2l9 14l10 4l9-8l10-3l9-10l10-8l9-19l10-15l9-20l10-22l9-32l10-26" stroke="none" fill="none" marker-start="url(#m75)" marker-mid="url(#m75)" marker-end="url(#m75)"/><path d="M1797 13934l9-1l10 1l9 9l10-7l9 1l10-2l9 11l10-4l9-1l10-6l9 10l10-6l9 4l10-6l9 8l10 9l9-5l10-1l9-4l10 4l9 4l10 4l9-5l10 0l9-6l9 1l10 9l9 2l10-9l9-4l10 4l9-4l10-9l9 0l10 9l9-11l10 0l9 0l10-5l9-1l10-10l9 9l10 3l9-2l10-5l9-6l10 6l9 0l10 1l9 4l9-2l10 6l9-8l10 2l9 3l10 5l9-1l10 2l9-3l10 4l9-2l10-1l9-1l10 10l9-2l10 3l9-10l10 9l9-10l10 7l9-8l10 6l9-3l10-3l9-2l9-1l10-6l9-4l10-1l9 4l10 4l9-11l10 11l9-17l10-1l9 6l10-8l9 4l10-9l9 8l10 0l9-1l10-4l9 6l10-14l9 12l10-8l9 10l10 1l9 3l9 2l10-4l9-2l10 6l9 6l10-3l9 6l10 9l9-11l10 8l9-4l10-2l9 1l10-1l9-8l10 1l9-3l10 3l9-2l10-9l9 8l10-7l9-2l10-3l9-5l9-1l10-5l9 4l10-9l9 4l10-11l9-2l10 3l9 0l10-3l9-4l10 8l9-3l10-8l9 5l10 5l9 5l10-7l9 7l10-6l9 2l10-6l9 15l10-6l9 10l9 1l10-1l9 4l10-9l9 9l10 4l9-12l10 14l9-2l10-1l9 2l10-7l9-4l10 9l9-6l10-3l9 1l10-4l9-7l10-2l9-9l10-6l9-2l10-4l9 1l9-6l10-8l9-4l10-1l9-5l10 0l9 2l10-8l9 1l10 5l9-11l10 1l9-1l10 6l9-7l10 6l9 0l10 9l9 1l10-4l9 9l10 3l9-2l10 5l9 8l9-4l10 18l9-3l10 5l9-5l10 1l9 11l10-2l9-3l10 2l9 0l10-4l9-6l10 4l9 2l10-8l9-6l10-3l9-11l10-6l9-7l10-5l9-6l10-2l9-10l9-4l10-12l9-5l10-6l9-8l10-2l9-10l10-4l9 5l10-12l9 5l10 1l9-2l10 4l9-5l10-1l9 14l10-4l9 4l10 5l9 5l10 8l9 10l10 2l9 9l9 5l10 9l9 10l10 5l9 3l10 3l9 16l10 0l9 4l10-4l9 0l10-6l9-2l10-11l9 2l10-7l9-8l10-12l9-13l10-8l9-11l10-11l9-20l10-11l9-12l9-18l10-17l9-21l10-13l9-3l10-15l9-6l10-11l9-9l10-20l9-1l10 0l9-6l10-2l9 1l10-7l9 16l10-2l9 1l10 4l9 16l10-3l9 12l10 4l9 12l9-1l10-1l9 19l10 16l9 17l10 2l9 12l10 23l9 6l10 27l9 13l10 10l9 23l10 7l9 14l10 21l9 13l10 10l9 16l10 8l9 7l10 15l9-13l10-1l9-7l9-23l10-28l9-40l10-48l9-68l10-80l9-99l10-104l9-116l10-121l9-133l10-111l9-126l10-114l9-85l10-72l9-46l10-10l9 21l10 29l9 58l10 67l9 86l10 106l9 106l9 117l10 107l9 122l10 109l9 102l10 92l9 87l10 78l9 66l10 53l9 47l10 42l9 32l10 23l9 16l10 19l9 14l10 5l9 7l10 0l9 8l10 1l9-7l10 6l9 7l9-9l10 7l9 2l10-6l9 8l10-5l9-3l10-1l9 4l10 0l9-3l10-6l9 11l10-12l9 1l10-7l9 8l10-12l9 5l10-9l9-2l10 3l9-17l10-9l9-11l9-5l10-10l9-21l10-12l9-24l10-23l9-17l10-27l9-28l10-29l9-46l10-45l9-48l10-48l9-64l10-53l9-69l10-72l9-80l10-86l9-90l10-99l9-106l10-109l9-111l9-127l10-120l9-136l10-132l9-130l10-144l9-150l10-137l9-143l10-143l9-143l10-139l9-130l10-136l9-113l10-115l9-107l10-98l9-92l10-79l9-53l10-52l9-42l10-22l9-15l9 12l10 21l9 64l10 63l9 96l10 108l9 148l10 142l9 163l10 180l9 176l10 192l9 191l10 193l9 184l10 189l9 184l10 164l9 173l10 146l9 148l10 140l9 128l10 111l9 105l9 88l10 83l9 62l10 83l9 50l10 44l9 40l10 35l9 40l10 18l9 37l10 7l9 10l10 13l9 18l10 6l9 12l10-1l9 7l10-4l9 7l10-4l9 5l10 2l9-8l9 3l10 11l9-11l10 3l9-2l10 4l9 9l10-6l9 9l10-4l9-3l10-8l9 5l10-1l9-2l10 6l9-8l10 3l9 5l10-2l9-2l10-4l9-4l10 7l9-2l9-9l10-8l9 4l10 4l9 0l10-8l9-3l10-1l9-15l10-12l9 5l10-10l9-14l10-10l9-25l10-9l9-30l10-23l9-29l10-21l9-40l10-38l9-44l10-42l9-45l9-59l10-57l9-59l10-53l9-70l10-62l9-72l10-74l9-62l10-89l9-63l10-60l9-67l10-65l9-58l10-49l9-52l10-36l9-39l10-37l9-12l10-9l9-12l10 11l9 12l9 27l10 22l9 42l10 38l9 50l10 50l9 62l10 67l9 70l10 65l9 72l10 61l9 78l10 77l9 57l10 65l9 71l10 54l9 67l10 48l9 53l10 45l9 43l10 44l9 30l9 38l10 26l9 20l10 31l9 14l10 9l9 13l10 17l9 5l10-3l9 4l10-7l9-1l10-20l9-4l10-26l9-23l10-19l9-24l10-33" stroke="none" fill="none" marker-start="url(#m76)" marker-mid="url(#m76)" marker-end="url(#m76)"/><path d="M1797 13946l9-16l10 16l9-3l10-6l9 1l10-4l9-1l10 5l9 3l10 2l9 0l10-4l9 2l10 1l9 11l10-3l9 0l10 1l9 3l10-7l9-1l10-3l9 10l10-2l9-2l9 0l10 3l9-8l10 11l9-8l10 4l9-12l10 7l9-3l10-7l9 3l10-7l9 1l10-11l9 12l10-3l9-7l10 1l9-2l10 3l9-6l10 3l9-4l10 11l9-6l9 2l10-2l9 6l10-6l9 10l10-9l9 3l10 11l9-8l10 11l9-10l10 10l9-6l10 1l9 7l10 1l9-11l10 4l9-7l10 4l9-13l10 10l9-8l10 4l9-1l9-4l10 4l9-3l10-12l9 6l10 2l9-9l10 4l9-5l10-6l9-2l10-4l9 2l10 1l9 0l10 1l9 1l10-10l9 11l10-8l9 9l10-5l9 18l10-12l9 5l9-8l10 2l9 10l10-1l9-3l10 5l9 2l10-3l9 11l10-12l9 5l10 15l9-9l10-4l9-11l10 9l9 5l10-14l9 2l10-1l9-7l10 4l9-4l10-8l9 0l9-5l10 3l9-12l10 11l9-3l10-10l9 1l10-4l9-1l10-1l9 3l10-6l9-5l10 9l9-12l10 2l9 11l10-6l9 9l10-2l9 5l10 0l9 7l10-5l9 6l9 1l10 6l9-7l10-6l9 11l10 0l9 6l10-3l9 2l10 3l9-4l10-2l9-5l10 0l9-5l10-7l9-1l10 2l9 3l10-11l9-5l10-8l9 0l10-16l9 10l9-8l10 3l9-3l10-7l9-5l10-4l9 14l10-20l9-4l10 0l9 2l10 4l9-3l10-3l9 11l10-5l9 2l10 5l9-5l10 13l9 4l10 0l9 6l10-5l9 16l9 2l10-3l9 1l10 11l9-8l10 16l9-11l10 9l9-2l10-9l9 7l10 1l9-6l10-10l9 4l10 0l9-9l10 1l9-8l10-6l9-12l10-2l9-11l10-9l9-9l9 8l10-14l9-2l10-13l9-4l10-4l9-2l10-2l9 0l10-14l9 3l10-2l9-2l10-1l9-4l10 11l9 0l10 13l9-1l10 6l9 6l10-2l9 11l10 7l9 7l9 8l10 7l9 8l10 5l9 5l10 4l9 11l10-6l9 2l10-1l9 5l10-2l9-11l10 1l9-11l10-2l9-6l10-8l9-14l10-12l9-9l10-23l9-8l10-9l9-24l9-12l10-7l9-13l10-17l9-18l10-3l9-23l10-4l9-15l10-3l9-9l10-5l9-6l10 7l9-11l10 15l9-4l10 1l9 7l10 1l9 16l10-1l9 1l10 11l9 12l9 3l10 8l9 14l10 1l9 18l10 14l9 8l10 17l9 12l10 12l9 18l10 12l9 17l10 12l9 25l10 11l9 14l10 14l9 22l10 6l9 3l10 4l9 3l10-6l9-15l9-13l10-27l9-49l10-48l9-61l10-76l9-102l10-96l9-112l10-131l9-114l10-131l9-122l10-103l9-89l10-73l9-36l10-20l9 6l10 40l9 41l10 77l9 85l10 100l9 102l9 117l10 112l9 109l10 109l9 115l10 83l9 94l10 73l9 68l10 57l9 51l10 35l9 31l10 33l9 18l10 12l9 11l10 12l9 7l10 4l9 7l10 0l9 4l10 2l9 9l9-2l10-8l9-2l10 1l9 2l10 1l9-4l10 4l9-2l10-7l9 11l10-4l9-3l10 6l9-5l10-11l9-1l10 0l9-10l10 6l9-17l10 2l9-4l10-16l9-6l9-10l10-11l9-7l10-16l9-27l10-26l9-16l10-31l9-24l10-35l9-44l10-46l9-48l10-53l9-49l10-65l9-72l10-67l9-82l10-87l9-92l10-101l9-102l10-106l9-107l9-134l10-126l9-128l10-133l9-138l10-143l9-134l10-145l9-138l10-145l9-138l10-137l9-128l10-136l9-126l10-98l9-124l10-92l9-85l10-80l9-62l10-53l9-46l10-22l9-13l9 4l10 24l9 51l10 66l9 93l10 103l9 134l10 140l9 155l10 169l9 185l10 173l9 202l10 174l9 205l10 178l9 176l10 177l9 173l10 155l9 141l10 147l9 118l10 116l9 106l9 101l10 88l9 79l10 56l9 66l10 55l9 47l10 36l9 46l10 17l9 30l10 27l9 2l10 22l9 6l10 14l9 7l10-3l9 10l10 4l9 11l10-8l9 9l10-4l9 8l9-5l10 0l9 9l10-7l9 5l10-9l9 4l10 1l9-12l10 9l9 5l10-5l9 3l10-5l9 10l10-13l9 10l10 0l9 1l10-2l9-10l10 7l9 4l10-5l9-2l9-5l10 4l9-4l10-15l9 10l10-5l9 1l10-15l9 0l10-18l9-6l10-9l9-8l10-15l9-16l10-21l9-20l10-24l9-30l10-31l9-32l10-44l9-41l10-38l9-60l9-45l10-59l9-61l10-48l9-73l10-68l9-69l10-68l9-71l10-59l9-71l10-74l9-53l10-68l9-59l10-55l9-50l10-38l9-30l10-26l9-25l10-13l9-2l10 6l9 13l9 27l10 22l9 32l10 50l9 41l10 52l9 51l10 73l9 65l10 72l9 68l10 72l9 70l10 59l9 71l10 65l9 72l10 63l9 57l10 40l9 53l10 59l9 37l10 40l9 42l9 31l10 22l9 27l10 21l9 21l10 16l9 11l10 11l9-2l10 8l9-2l10-1l9-5l10-14l9-13l10-16l9-28l10-30l9-21l10-29" stroke="none" fill="none" marker-start="url(#m77)" marker-mid="url(#m77)" marker-end="url(#m77)"/><path d="M1797 13940l9 4l10-9l9 0l10 6l9-3l10 4l9-9l10 6l9-1l10-5l9 18l10-10l9 1l10 3l9 0l10-4l9 9l10 0l9-9l10 4l9 2l10-1l9 3l10 1l9-1l9-2l10 2l9 4l10-7l9-4l10 1l9-5l10 0l9-5l10 2l9 0l10-5l9-3l10 5l9 0l10-10l9 7l10-5l9 3l10-3l9-6l10-1l9 12l10 1l9 8l9-16l10-3l9 6l10 3l9-4l10 8l9-5l10-2l9 1l10 3l9 6l10 0l9 4l10-12l9 3l10 6l9 0l10-2l9 3l10-5l9-1l10-1l9 0l10 9l9-11l9 3l10-1l9-18l10 9l9-3l10-2l9 1l10-12l9 13l10-12l9 3l10-9l9 1l10 3l9 6l10-10l9-1l10 1l9 4l10-3l9 6l10-3l9 0l10 4l9 4l9-2l10 4l9 3l10-8l9 6l10 3l9 1l10-3l9 4l10 3l9-4l10 1l9 4l10 0l9-11l10 6l9-8l10 1l9 1l10-1l9-11l10 7l9-3l10-1l9-6l9 1l10-8l9 3l10-10l9-1l10-2l9 1l10-9l9-5l10 8l9 1l10-6l9 3l10-2l9-2l10 9l9-8l10 8l9 2l10-2l9-7l10 11l9-3l10 8l9-5l9 3l10-2l9 6l10 2l9 9l10-8l9-1l10 3l9 0l10-2l9-2l10 7l9-5l10-4l9-2l10 3l9 1l10-13l9-5l10-8l9 2l10 1l9-9l10-2l9-1l9-1l10-2l9-8l10-4l9-5l10-3l9-3l10-9l9 7l10-7l9 9l10-1l9-1l10 6l9-13l10 7l9 0l10-2l9 8l10-3l9 20l10-12l9 7l10 7l9-3l9 8l10 6l9 8l10-13l9 21l10-10l9-5l10 5l9 6l10-2l9 1l10-5l9-1l10 2l9-2l10-15l9 5l10-5l9-20l10 7l9-4l10-8l9-14l10 0l9-9l9 3l10-14l9-8l10-6l9-12l10 0l9 10l10-10l9-6l10-5l9-3l10-4l9 10l10 2l9-11l10 9l9 9l10-3l9 2l10 8l9 6l10-4l9 15l10 1l9 6l9 9l10-5l9 22l10-11l9 20l10 1l9 1l10 0l9 3l10 5l9-1l10-9l9-5l10 4l9-13l10-4l9-7l10-3l9-9l10-19l9 3l10-22l9-17l10-4l9-28l9-14l10-2l9-18l10-13l9-12l10-12l9-16l10-15l9-3l10-8l9-6l10-1l9-8l10 3l9 2l10-6l9 13l10-3l9 4l10 3l9 11l10 2l9 3l10 3l9 10l9 7l10 11l9 5l10 22l9-4l10 9l9 17l10 16l9 4l10 23l9 6l10 22l9 17l10 13l9 18l10 13l9 11l10 17l9 14l10 9l9 6l10 7l9-1l10-4l9-10l9-20l10-25l9-43l10-48l9-65l10-72l9-85l10-107l9-115l10-122l9-123l10-130l9-106l10-105l9-97l10-68l9-47l10-20l9 0l10 46l9 49l10 63l9 89l10 93l9 96l9 116l10 113l9 107l10 121l9 95l10 97l9 86l10 83l9 66l10 57l9 46l10 48l9 28l10 39l9 11l10 15l9 20l10 7l9 7l10 4l9 0l10 7l9 4l10 1l9-1l9-2l10 3l9 4l10-1l9 1l10 1l9-2l10 0l9-6l10 7l9-6l10 4l9-9l10 0l9-6l10 1l9 4l10-7l9-1l10-5l9-3l10-9l9-9l10-9l9-19l9 0l10-13l9-14l10-16l9-19l10-24l9-23l10-32l9-29l10-30l9-42l10-45l9-45l10-52l9-58l10-66l9-66l10-71l9-82l10-91l9-83l10-104l9-100l10-126l9-102l9-118l10-124l9-124l10-138l9-147l10-132l9-139l10-143l9-142l10-137l9-144l10-139l9-124l10-133l9-112l10-119l9-117l10-99l9-90l10-65l9-70l10-53l9-46l10-25l9-14l9-3l10 25l9 37l10 70l9 80l10 109l9 123l10 144l9 154l10 164l9 164l10 190l9 170l10 193l9 190l10 177l9 186l10 169l9 169l10 154l9 152l10 141l9 137l10 114l9 117l9 100l10 89l9 83l10 79l9 56l10 65l9 41l10 44l9 36l10 36l9 18l10 27l9 15l10 22l9 13l10 7l9 5l10 17l9 2l10 5l9 2l10 4l9-4l10 3l9 4l9-2l10 0l9 8l10 1l9-6l10-5l9 18l10-7l9-6l10 7l9-7l10 3l9 6l10-4l9-3l10 5l9-6l10 1l9 2l10-3l9 2l10-3l9 4l10-10l9 5l9-7l10-6l9 0l10 3l9-4l10-3l9-6l10-2l9-3l10-17l9-8l10-18l9-14l10-2l9-19l10-27l9-24l10-20l9-28l10-24l9-51l10-26l9-47l10-44l9-43l9-59l10-58l9-52l10-62l9-66l10-67l9-67l10-61l9-69l10-70l9-59l10-71l9-69l10-58l9-56l10-58l9-45l10-42l9-30l10-26l9-17l10-17l9 5l10 0l9 6l9 18l10 31l9 39l10 34l9 52l10 50l9 61l10 49l9 66l10 76l9 69l10 65l9 66l10 67l9 73l10 70l9 58l10 61l9 66l10 49l9 52l10 51l9 39l10 37l9 37l9 41l10 29l9 20l10 27l9 19l10 5l9 32l10 1l9 6l10 0l9-8l10 3l9-7l10-13l9-12l10-21l9-30l10-12l9-30l10-31" stroke="none" fill="none" marker-start="url(#m78)" marker-mid="url(#m78)" marker-end="url(#m78)"/><path d="M1797 13946l9-11l10 3l9 8l10-7l9-2l10 5l9-8l10 8l9 4l10-9l9 5l10 0l9 8l10 0l9-1l10-3l9 1l10-5l9 0l10 6l9 1l10-8l9 8l10-4l9 5l9-2l10 0l9 1l10-6l9 4l10-5l9-3l10-9l9 15l10-10l9-4l10 3l9-6l10 0l9-1l10 2l9-1l10-1l9 2l10-5l9 5l10-1l9 2l10-10l9 7l9 1l10-6l9 6l10-3l9 3l10-1l9 2l10 10l9-14l10 3l9 11l10-9l9 5l10-1l9-4l10 1l9 0l10-5l9 4l10 6l9 1l10-9l9 9l10-7l9-2l9-1l10-10l9 2l10 1l9-7l10 4l9-9l10-5l9 7l10-1l9-7l10 12l9-4l10-2l9 2l10-7l9-1l10 1l9 0l10-3l9 0l10 0l9 6l10 0l9-4l9 5l10-2l9 8l10 0l9 4l10-2l9 0l10 4l9-9l10 15l9-10l10 9l9-6l10 4l9-5l10-1l9 2l10 1l9-4l10-6l9-5l10-6l9 11l10-11l9 1l9-5l10-4l9-4l10-1l9-1l10-9l9 4l10-1l9-6l10 8l9-2l10-11l9 7l10 6l9-11l10-1l9 9l10 3l9-4l10-1l9 5l10 3l9-4l10 2l9 10l9 0l10-2l9 3l10-2l9 0l10-4l9 6l10-2l9 11l10-4l9-8l10 9l9-13l10 2l9-1l10-1l9 1l10-4l9-5l10-4l9-10l10 5l9-6l10 1l9-11l9-3l10-8l9-7l10 3l9 2l10-7l9-2l10 0l9 2l10-7l9 6l10-5l9 1l10 10l9-12l10-5l9 12l10 3l9-4l10 12l9-3l10 2l9 7l10 1l9 6l9 2l10-2l9 9l10 1l9 3l10-3l9 5l10 2l9-4l10 9l9-1l10-11l9-8l10 7l9-7l10 3l9-10l10-6l9-6l10-1l9-17l10 6l9-16l10 4l9-14l9-9l10-9l9 3l10 1l9-16l10 2l9-3l10-6l9-1l10-10l9 1l10-3l9-1l10 5l9-3l10-1l9 0l10 10l9 6l10 7l9 3l10 4l9 5l10 12l9 3l9 5l10 8l9 5l10 2l9 10l10-2l9 10l10-3l9 6l10-9l9 1l10-4l9 5l10-2l9-6l10-11l9-13l10-8l9-9l10-3l9-21l10-10l9-7l10-5l9-20l9-16l10-21l9-7l10-13l9-19l10-12l9-7l10-11l9-11l10 0l9-11l10-1l9 0l10-8l9-3l10-2l9 7l10 1l9 9l10 9l9 1l10 1l9 10l10-5l9 10l9 12l10 0l9 13l10 5l9 17l10 7l9 15l10 11l9 9l10 10l9 21l10 14l9 20l10 12l9 13l10 22l9 11l10 16l9 7l10 8l9 11l10 8l9 4l10-1l9-17l9-24l10-20l9-38l10-48l9-59l10-84l9-88l10-91l9-113l10-129l9-114l10-126l9-113l10-112l9-87l10-71l9-44l10-31l9 4l10 37l9 46l10 65l9 83l10 93l9 104l9 103l10 120l9 110l10 102l9 111l10 84l9 96l10 77l9 65l10 66l9 50l10 46l9 31l10 28l9 29l10 12l9 12l10 13l9 13l10-1l9 3l10 11l9 7l10-3l9-1l9-5l10 1l9 2l10 6l9-6l10 3l9 4l10 2l9-12l10 10l9-12l10-5l9 7l10 2l9-2l10-2l9-7l10-6l9 3l10-6l9-4l10-14l9-6l10-1l9-12l9-13l10-5l9-20l10-20l9-13l10-29l9-24l10-26l9-38l10-27l9-45l10-40l9-54l10-45l9-63l10-63l9-71l10-76l9-67l10-91l9-88l10-106l9-105l10-102l9-117l9-125l10-120l9-127l10-127l9-140l10-146l9-130l10-149l9-141l10-140l9-143l10-130l9-141l10-121l9-127l10-109l9-110l10-96l9-97l10-66l9-69l10-63l9-40l10-26l9-16l9 1l10 13l9 36l10 57l9 81l10 98l9 122l10 138l9 145l10 151l9 174l10 171l9 192l10 179l9 185l10 178l9 184l10 177l9 164l10 170l9 146l10 140l9 141l10 120l9 118l9 103l10 92l9 85l10 77l9 73l10 50l9 58l10 50l9 31l10 42l9 19l10 30l9 25l10 19l9 16l10 12l9 8l10 1l9 12l10 6l9 2l10 7l9 7l10 3l9-11l9 9l10-7l9-1l10 8l9-2l10 5l9 0l10-1l9 0l10-6l9 7l10-4l9 3l10-2l9-5l10 14l9-12l10 7l9-4l10 2l9 0l10 3l9 5l10-21l9 3l9 3l10 5l9-13l10-7l9 1l10 5l9-11l10-9l9-6l10-14l9-1l10-13l9-6l10-31l9-16l10-15l9-17l10-37l9-19l10-32l9-33l10-40l9-44l10-44l9-58l9-50l10-52l9-56l10-63l9-57l10-72l9-61l10-69l9-72l10-62l9-64l10-75l9-51l10-61l9-56l10-53l9-48l10-27l9-45l10-35l9-18l10-11l9-1l10 2l9 15l9 24l10 17l9 30l10 44l9 47l10 48l9 58l10 57l9 70l10 71l9 58l10 67l9 75l10 64l9 65l10 81l9 41l10 69l9 62l10 60l9 53l10 27l9 61l10 36l9 43l9 32l10 26l9 33l10 19l9 20l10 13l9 11l10 13l9-1l10 11l9-1l10-6l9-6l10-16l9 2l10-23l9-20l10-40l9-25l10-25" stroke="none" fill="none" marker-start="url(#m79)" marker-mid="url(#m79)" marker-end="url(#m79)"/><path d="M1797 13936l9 9l10-6l9-8l10 4l9-6l10 12l9-7l10 5l9-1l10 1l9-1l10-2l9 7l10-1l9 3l10-1l9 6l10-8l9 2l10 2l9 2l10 3l9 1l10 1l9-2l9-8l10 1l9 7l10-3l9-11l10-3l9 2l10-7l9 11l10-7l9 4l10-14l9 6l10-1l9-1l10 3l9-3l10 9l9-9l10 2l9-8l10-3l9 5l10 5l9 1l9-8l10 5l9 1l10 4l9-5l10 1l9-2l10 9l9-3l10 6l9-6l10 2l9 2l10-5l9 9l10-12l9 5l10-1l9 1l10 3l9-1l10-8l9 3l10-3l9 1l9-7l10-1l9 7l10-16l9 2l10-1l9 0l10 0l9-5l10-9l9 10l10 3l9-5l10-2l9-4l10 9l9-4l10 0l9-6l10 0l9 5l10-4l9 5l10 1l9 12l9-5l10 2l9-5l10 2l9 7l10-4l9 2l10-2l9 5l10 1l9-8l10 7l9-6l10 8l9-4l10 0l9 1l10-9l9 7l10-9l9 8l10-14l9 0l10-7l9-7l9 9l10-5l9 3l10-6l9-5l10-2l9-5l10-1l9-3l10 6l9-5l10 4l9-4l10 11l9-11l10-1l9 3l10 0l9 7l10-3l9 1l10-2l9 0l10 6l9 0l9-1l10 7l9-6l10-3l9 8l10 4l9-2l10-4l9 0l10 11l9-8l10 3l9-2l10-5l9-4l10 1l9 0l10-6l9 1l10-16l9 11l10-13l9-2l10-3l9 1l9-6l10-4l9-3l10-4l9-4l10 0l9-6l10-3l9 4l10-7l9 3l10 2l9-4l10-3l9 7l10 8l9-10l10 1l9 12l10-2l9 0l10 15l9-11l10 3l9 3l9 0l10 14l9-6l10-4l9 22l10-7l9-3l10 7l9 5l10-10l9 0l10 2l9-6l10-6l9-3l10-2l9 3l10-8l9 3l10-11l9-11l10-7l9-4l10-6l9 2l9-9l10-7l9-8l10-5l9-17l10 0l9 5l10-6l9-3l10-2l9-3l10 6l9-14l10 2l9 1l10 4l9 1l10 7l9 10l10-4l9 5l10 11l9 9l10-9l9 15l9 3l10 7l9-4l10 18l9-6l10 19l9-12l10 8l9 9l10-10l9 0l10 4l9-11l10-3l9-8l10 2l9-11l10-7l9-14l10-8l9-9l10-21l9-4l10-20l9-11l9-6l10-9l9-22l10-14l9-15l10-9l9-11l10-5l9-9l10-24l9 3l10 6l9-10l10-2l9 9l10-6l9-1l10-2l9 3l10 12l9 4l10 6l9 2l10 3l9 14l9 3l10 9l9 8l10 8l9-1l10 11l9 12l10 25l9 4l10 3l9 23l10 18l9 9l10 19l9 15l10 12l9 13l10 16l9 12l10 15l9 4l10 3l9 4l10-2l9-4l9-29l10-16l9-45l10-43l9-66l10-75l9-82l10-87l9-114l10-122l9-122l10-127l9-123l10-101l9-87l10-78l9-40l10-26l9 7l10 36l9 33l10 59l9 87l10 86l9 101l9 110l10 110l9 104l10 115l9 103l10 90l9 89l10 77l9 80l10 64l9 43l10 55l9 32l10 29l9 16l10 27l9 20l10 6l9 3l10 20l9 3l10-7l9 7l10 6l9-2l9 0l10 5l9-2l10-8l9 4l10-3l9 4l10 2l9-4l10 5l9-7l10 2l9-1l10-2l9 1l10-13l9 10l10-11l9 3l10-14l9-1l10-8l9-9l10-8l9-9l9-12l10-14l9-11l10-18l9-20l10-21l9-26l10-36l9-20l10-49l9-30l10-48l9-46l10-52l9-61l10-68l9-61l10-74l9-78l10-97l9-88l10-97l9-99l10-100l9-125l9-110l10-129l9-135l10-126l9-135l10-132l9-152l10-140l9-138l10-144l9-130l10-139l9-137l10-131l9-118l10-110l9-111l10-105l9-82l10-83l9-68l10-52l9-47l10-23l9-24l9-8l10 11l9 32l10 63l9 71l10 98l9 115l10 128l9 139l10 154l9 167l10 157l9 189l10 177l9 186l10 168l9 200l10 167l9 167l10 158l9 160l10 151l9 126l10 132l9 122l9 108l10 99l9 88l10 88l9 64l10 67l9 52l10 50l9 49l10 27l9 34l10 35l9 24l10 18l9 12l10 10l9 20l10 9l9 2l10 9l9 5l10 5l9 4l10-6l9 5l9 7l10-5l9-2l10 7l9 1l10 4l9-2l10-1l9-4l10 10l9 3l10-5l9-4l10 10l9-8l10 3l9 1l10-6l9-5l10 11l9-8l10 1l9-4l10 1l9 1l9-8l10 0l9 3l10 1l9-9l10-9l9-8l10-1l9-9l10-3l9-16l10-15l9-11l10-18l9-14l10-21l9-29l10-18l9-36l10-37l9-27l10-39l9-41l10-43l9-51l9-49l10-59l9-56l10-58l9-67l10-69l9-65l10-61l9-68l10-62l9-69l10-68l9-61l10-61l9-42l10-64l9-39l10-45l9-26l10-32l9-14l10-8l9-11l10 6l9 8l9 16l10 24l9 33l10 38l9 56l10 39l9 63l10 55l9 65l10 68l9 58l10 76l9 66l10 60l9 82l10 63l9 53l10 67l9 53l10 59l9 54l10 43l9 51l10 40l9 35l9 39l10 32l9 28l10 12l9 15l10 19l9 21l10 9l9 8l10-2l9-5l10 1l9-8l10 3l9-30l10-11l9-26l10-27l9-27l10-34" stroke="none" fill="none" marker-start="url(#m80)" marker-mid="url(#m80)" marker-end="url(#m80)"/><path d="M1797 13931l9 17l10-3l9-14l10 5l9 5l10-1l9-1l10-4l9 6l10 0l9 6l10-11l9 5l10 5l9 4l10-5l9-3l10-5l9 2l10 10l9 1l10 2l9-6l10 5l9-6l9 0l10-1l9 5l10-10l9 4l10 3l9-6l10-2l9-1l10-6l9-2l10-6l9 8l10-6l9 15l10-20l9 7l10-7l9 6l10-4l9 0l10 5l9 0l10 10l9-15l9 3l10 1l9-6l10 5l9 1l10 10l9-8l10 3l9-5l10 7l9 4l10-4l9-8l10 12l9-9l10 6l9 8l10-12l9-8l10 8l9 5l10-4l9 1l10-18l9 9l9 11l10-16l9 0l10 4l9-3l10-4l9-10l10 8l9 0l10-9l9 6l10 0l9-5l10-4l9 2l10 2l9-8l10 0l9 13l10-2l9 0l10-3l9-1l10 2l9 1l9-1l10 9l9 5l10-10l9-3l10 6l9 3l10-3l9 4l10 5l9-4l10-5l9 2l10-2l9 4l10-5l9-5l10 6l9-1l10-10l9 3l10 3l9-6l10-10l9 2l9-9l10 3l9-1l10-6l9 5l10-9l9 3l10-1l9-5l10 3l9 2l10-2l9-7l10 1l9 1l10-3l9 8l10-2l9-8l10 12l9-8l10 8l9-2l10 3l9 3l9 0l10-2l9 9l10 2l9-7l10 6l9 0l10 0l9 1l10 6l9-8l10 0l9 3l10-6l9-5l10-9l9 7l10-11l9 5l10-8l9 0l10-8l9-1l10-1l9 1l9-14l10 7l9-7l10-13l9 4l10-2l9-2l10-2l9 1l10-4l9 1l10 1l9-4l10 0l9 2l10-2l9-2l10 2l9 9l10 8l9-7l10 7l9-1l10 8l9-2l9 11l10-3l9 9l10-12l9 11l10 9l9-13l10 2l9-2l10 11l9-8l10-5l9 4l10-5l9-1l10-3l9-11l10 4l9-8l10-8l9-3l10-9l9 6l10-19l9 3l9-10l10-5l9-9l10-2l9-4l10-10l9-10l10 8l9-3l10-2l9 1l10-2l9-3l10-5l9 6l10 3l9-1l10 6l9-11l10 8l9 11l10 12l9 1l10 7l9 5l9 11l10-2l9 6l10 5l9 7l10-4l9 8l10 8l9-4l10-8l9-3l10 8l9-7l10-8l9-7l10 0l9-11l10-5l9-3l10-22l9-6l10-13l9-9l10-9l9-14l9-16l10-6l9-25l10-15l9 6l10-25l9-5l10-14l9-7l10-6l9-10l10-1l9-9l10 3l9 7l10-4l9 1l10 4l9 6l10-10l9 13l10 4l9 12l10-4l9 8l9 1l10 5l9 17l10 8l9 1l10 10l9 14l10 9l9 16l10 12l9 13l10 22l9 2l10 14l9 22l10 12l9 11l10 11l9 15l10 13l9 5l10 7l9 6l10-5l9-9l9-21l10-18l9-38l10-49l9-61l10-82l9-75l10-103l9-107l10-118l9-122l10-116l9-109l10-108l9-99l10-74l9-45l10-27l9 10l10 31l9 39l10 59l9 73l10 88l9 106l9 96l10 115l9 106l10 106l9 102l10 98l9 93l10 79l9 68l10 68l9 57l10 52l9 27l10 36l9 21l10 25l9 13l10 12l9 4l10 15l9 6l10-1l9 0l10 9l9-5l9 3l10-1l9 10l10-8l9 1l10-2l9 4l10-3l9 8l10-10l9-6l10 3l9-1l10-2l9-7l10 6l9 1l10-5l9-6l10-8l9-9l10 0l9-6l10-17l9-11l9-4l10-20l9-11l10-16l9-22l10-19l9-22l10-30l9-35l10-40l9-40l10-46l9-41l10-57l9-52l10-65l9-77l10-69l9-89l10-81l9-86l10-97l9-97l10-123l9-112l9-130l10-118l9-121l10-126l9-132l10-143l9-141l10-135l9-150l10-141l9-130l10-139l9-128l10-138l9-114l10-114l9-104l10-104l9-87l10-92l9-67l10-49l9-47l10-37l9-21l9-2l10-1l9 34l10 45l9 91l10 85l9 97l10 125l9 139l10 154l9 152l10 172l9 166l10 179l9 180l10 191l9 169l10 168l9 170l10 166l9 157l10 157l9 130l10 129l9 128l9 111l10 106l9 92l10 86l9 73l10 70l9 66l10 49l9 41l10 41l9 30l10 32l9 24l10 28l9 13l10 23l9 13l10 4l9 12l10 11l9-1l10 2l9 7l10 1l9 4l9 2l10 9l9 6l10-6l9 14l10-11l9 2l10-5l9 4l10-3l9 4l10-2l9-8l10 11l9 3l10-14l9 2l10 4l9 1l10-4l9 2l10-6l9 4l10 0l9-7l9 4l10-8l9 4l10-6l9-7l10-1l9-14l10-2l9-9l10-1l9-21l10-11l9-6l10-26l9-19l10-17l9-22l10-25l9-35l10-33l9-34l10-49l9-33l10-46l9-41l9-59l10-58l9-49l10-72l9-51l10-66l9-63l10-65l9-55l10-82l9-51l10-77l9-50l10-60l9-67l10-34l9-48l10-34l9-38l10-28l9-25l10 5l9-16l10-1l9 9l9 24l10 21l9 24l10 44l9 37l10 63l9 52l10 55l9 67l10 57l9 73l10 61l9 76l10 64l9 62l10 64l9 70l10 64l9 49l10 62l9 46l10 45l9 48l10 51l9 26l9 35l10 38l9 26l10 16l9 24l10 16l9 10l10 12l9-3l10 9l9 4l10-4l9-5l10-18l9-4l10-27l9-15l10-19l9-41l10-28" stroke="none" fill="none" marker-start="url(#m81)" marker-mid="url(#m81)" marker-end="url(#m81)"/><path d="M1797 13936l9 3l10-1l9 2l10-8l9 0l10 6l9 1l10-1l9-2l10 3l9 4l10-1l9-1l10 3l9 1l10-6l9 4l10-1l9 8l10-7l9 4l10 1l9 2l10-1l9-1l9-3l10 0l9-10l10 6l9 0l10 0l9 1l10-1l9-6l10 6l9-15l10-1l9 12l10-13l9-1l10-1l9 1l10-5l9 10l10-2l9-5l10 3l9 6l10-10l9 0l9 5l10-2l9-2l10 14l9-6l10 2l9-2l10 5l9 1l10-6l9-6l10 14l9-12l10 3l9 0l10-1l9 7l10-7l9 11l10-4l9-6l10-3l9 8l10 1l9-12l9-1l10-3l9 1l10 4l9-12l10 0l9 0l10-10l9 7l10-7l9 6l10 11l9-9l10 7l9-12l10-6l9 12l10-11l9 5l10-5l9 3l10 6l9-6l10 3l9-3l9-3l10 10l9-7l10 9l9-2l10 2l9 5l10-3l9 3l10-4l9 8l10-1l9-8l10 1l9-1l10-1l9-3l10 1l9-4l10 5l9-7l10 3l9 0l10-7l9-6l9 0l10-10l9 2l10-1l9-1l10 4l9-8l10-1l9-9l10 10l9-4l10 2l9-5l10 8l9-9l10 2l9-1l10-10l9 13l10-2l9 4l10-4l9-3l10 3l9 8l9 8l10-6l9 10l10-2l9 0l10 2l9-4l10 2l9 1l10-5l9 4l10-10l9 2l10 3l9-6l10 2l9-2l10-10l9 8l10-12l9-10l10 14l9-23l10 15l9-2l9-4l10-7l9-6l10 3l9-10l10-7l9 5l10-5l9-4l10-6l9 7l10-4l9 1l10 3l9 2l10-2l9 0l10 10l9-2l10-1l9 3l10 2l9-3l10 5l9 13l9-10l10 12l9 3l10-7l9 8l10 8l9-10l10 2l9-1l10 8l9-10l10 5l9-9l10 7l9-5l10 1l9-9l10-13l9-1l10-2l9-13l10-1l9-8l10-4l9-4l9-7l10-7l9-8l10-3l9-6l10 4l9 0l10-13l9-3l10-3l9 4l10-6l9 5l10-5l9 1l10 2l9 0l10 6l9 2l10 0l9 1l10 9l9 3l10 6l9 1l9 3l10 17l9-1l10 6l9-2l10 21l9-5l10 6l9-12l10 4l9-3l10-1l9-2l10-5l9-2l10 1l9-17l10-7l9-6l10-10l9-18l10-2l9-10l10-19l9-15l9-1l10-13l9-12l10-19l9-12l10-16l9-4l10-8l9-7l10-15l9 1l10-3l9-6l10-2l9-2l10 5l9-9l10 1l9 17l10-3l9 9l10 1l9 9l10 1l9 2l9 7l10 13l9 10l10 7l9-5l10 15l9 9l10 4l9 22l10 6l9 17l10 10l9 22l10 7l9 13l10 13l9 21l10 7l9 8l10 14l9 5l10 6l9 4l10 0l9-11l9-11l10-32l9-34l10-50l9-63l10-65l9-83l10-94l9-109l10-117l9-111l10-115l9-115l10-116l9-88l10-73l9-40l10-29l9 6l10 21l9 38l10 59l9 63l10 98l9 93l9 103l10 104l9 105l10 113l9 106l10 91l9 87l10 88l9 64l10 72l9 54l10 47l9 29l10 38l9 28l10 27l9 18l10 11l9 0l10 9l9 11l10 8l9 8l10-4l9-3l9 1l10 2l9 5l10-5l9 3l10-5l9 3l10-3l9 1l10 3l9-8l10 8l9-9l10 3l9-2l10-5l9 0l10-1l9-5l10-4l9-10l10-8l9-6l10-3l9-18l9-15l10-5l9-17l10-25l9-16l10-28l9-20l10-24l9-38l10-36l9-41l10-39l9-50l10-65l9-46l10-73l9-57l10-80l9-81l10-87l9-88l10-94l9-106l10-102l9-109l9-123l10-136l9-125l10-136l9-128l10-129l9-141l10-146l9-135l10-140l9-137l10-137l9-128l10-137l9-118l10-124l9-110l10-93l9-96l10-81l9-66l10-58l9-53l10-32l9-19l9-8l10 4l9 22l10 48l9 71l10 83l9 101l10 120l9 131l10 148l9 154l10 159l9 171l10 177l9 166l10 188l9 173l10 176l9 173l10 160l9 156l10 155l9 141l10 123l9 141l9 113l10 103l9 99l10 92l9 78l10 70l9 64l10 55l9 43l10 50l9 40l10 28l9 29l10 31l9 18l10 20l9 8l10 10l9 15l10 2l9 15l10 4l9 4l10 2l9-3l9 14l10-5l9 3l10-3l9 12l10-1l9-11l10 2l9 1l10 5l9-4l10 4l9 5l10-4l9 0l10 3l9-2l10 0l9-6l10-2l9-2l10-1l9 8l10-8l9-3l9 0l10 3l9 5l10-17l9 0l10-13l9 4l10-16l9-4l10-6l9-15l10-15l9-19l10-17l9-21l10-20l9-19l10-27l9-32l10-30l9-31l10-37l9-54l10-42l9-57l9-40l10-61l9-53l10-61l9-59l10-67l9-61l10-61l9-66l10-64l9-65l10-62l9-56l10-56l9-55l10-41l9-53l10-38l9-18l10-35l9-24l10-3l9-17l10-1l9 11l9 14l10 28l9 27l10 38l9 46l10 48l9 61l10 56l9 50l10 63l9 74l10 69l9 69l10 54l9 70l10 58l9 66l10 58l9 63l10 62l9 51l10 43l9 56l10 33l9 43l9 27l10 39l9 28l10 17l9 38l10-2l9 17l10 13l9 1l10 8l9-5l10-2l9-10l10-4l9-16l10-28l9-15l10-23l9-25l10-32" stroke="none" fill="none" marker-start="url(#m82)" marker-mid="url(#m82)" marker-end="url(#m82)"/><path d="M1797 13937l9 6l10-5l9 1l10 7l9-8l10-5l9 7l10 0l9-2l10 5l9 5l10-7l9 3l10 1l9-8l10 7l9 4l10 0l9-9l10 4l9 11l10-10l9 5l10 0l9-8l9 1l10 6l9-4l10-4l9 2l10-4l9 4l10-10l9-2l10 7l9 2l10-5l9-7l10 1l9 1l10-2l9 6l10-7l9-1l10 2l9-6l10 6l9 0l10-6l9 0l9 3l10 0l9-1l10 1l9 7l10-8l9-4l10 8l9 3l10-5l9 3l10 6l9-2l10 2l9-7l10 10l9-11l10 8l9-5l10 3l9-5l10-4l9 1l10 7l9-6l9-3l10-10l9 9l10-2l9 0l10-5l9-5l10 6l9-12l10-1l9 1l10 0l9-9l10 14l9-2l10-13l9 15l10-7l9 2l10 4l9 0l10-2l9-2l10 0l9 0l9 3l10 2l9-2l10 6l9 4l10-8l9 13l10-10l9-3l10 11l9 5l10-6l9-6l10 5l9-9l10 1l9 6l10-10l9 8l10-6l9-5l10-7l9 0l10-5l9 10l9-22l10 15l9-7l10-8l9 2l10-5l9 9l10-2l9-5l10 0l9-4l10 1l9 3l10-6l9 7l10-3l9-4l10 5l9-3l10-2l9-2l10 2l9 3l10 3l9 9l9-1l10 1l9 0l10-1l9 5l10-2l9-6l10 7l9 6l10-8l9-1l10 0l9-12l10 3l9-5l10 8l9-9l10 0l9-2l10 0l9-8l10 6l9-16l10-11l9 2l9 13l10-13l9 1l10-4l9-4l10-8l9 0l10 5l9-8l10 1l9-9l10 15l9-6l10 4l9-4l10 10l9-4l10-2l9 4l10 3l9-1l10 4l9 4l10 0l9 1l9 1l10 11l9-3l10-5l9 12l10-5l9 3l10-6l9-1l10 4l9 2l10 3l9-6l10-1l9-7l10-10l9-6l10 3l9-4l10-4l9-7l10-3l9-14l10 5l9-10l9-2l10-12l9-9l10 0l9-3l10-3l9-7l10 1l9-12l10-2l9 1l10 0l9 4l10-9l9 14l10-1l9-11l10 14l9 4l10 7l9-7l10 4l9 8l10 13l9-2l9 8l10-3l9 2l10 9l9 3l10-1l9 1l10 14l9-6l10 7l9-3l10-11l9 7l10-8l9-11l10-3l9 2l10-14l9-8l10-7l9-22l10-2l9-11l10-15l9-8l9-6l10-18l9-13l10-11l9-16l10-10l9-9l10-6l9-9l10-16l9 10l10-16l9 0l10 3l9-4l10-2l9 10l10-4l9 0l10 10l9-1l10-1l9 9l10 9l9 8l9 6l10-5l9 11l10 7l9 9l10 11l9-1l10 14l9 8l10 22l9 5l10 12l9 21l10 12l9 13l10 6l9 17l10 17l9 5l10 17l9 5l10 6l9 6l10-10l9-5l9-6l10-33l9-41l10-29l9-71l10-67l9-77l10-99l9-100l10-111l9-126l10-118l9-105l10-110l9-94l10-66l9-62l10-18l9-4l10 19l9 46l10 50l9 72l10 83l9 97l9 95l10 106l9 103l10 108l9 112l10 94l9 86l10 80l9 81l10 62l9 56l10 50l9 37l10 42l9 21l10 28l9 13l10 20l9 8l10 3l9 14l10 1l9 1l10 5l9 3l9 0l10 4l9-6l10 0l9-4l10 6l9-4l10 7l9-5l10 5l9-6l10 1l9-6l10 10l9-10l10-2l9-7l10 2l9-5l10-12l9 2l10-8l9-14l10 4l9-21l9-12l10-13l9-8l10-19l9-23l10-23l9-32l10-25l9-40l10-30l9-42l10-39l9-49l10-58l9-60l10-57l9-77l10-67l9-88l10-74l9-94l10-101l9-100l10-106l9-118l9-119l10-118l9-132l10-125l9-133l10-145l9-131l10-140l9-145l10-133l9-138l10-138l9-134l10-131l9-118l10-114l9-106l10-105l9-91l10-89l9-60l10-60l9-48l10-44l9-27l9-16l10 16l9 15l10 45l9 52l10 85l9 92l10 120l9 122l10 143l9 155l10 153l9 172l10 179l9 166l10 181l9 168l10 169l9 176l10 164l9 166l10 151l9 144l10 125l9 138l9 116l10 119l9 95l10 89l9 85l10 75l9 65l10 59l9 60l10 48l9 32l10 35l9 40l10 18l9 31l10 14l9 10l10 26l9 5l10 10l9 12l10-2l9 13l10 3l9 5l9-3l10 1l9-1l10 8l9 3l10-8l9 9l10-5l9-3l10 3l9 11l10-3l9-1l10-7l9 7l10-7l9 2l10 0l9 0l10 3l9-10l10 4l9-7l10 8l9 2l9-16l10 8l9-8l10-2l9-6l10-5l9-3l10-7l9-15l10-7l9-22l10-6l9-21l10-10l9-25l10-16l9-23l10-30l9-31l10-44l9-20l10-42l9-48l10-41l9-50l9-53l10-50l9-54l10-56l9-66l10-65l9-61l10-68l9-57l10-66l9-58l10-56l9-69l10-51l9-56l10-43l9-39l10-41l9-34l10-25l9-21l10-17l9-3l10-2l9 11l9 18l10 24l9 35l10 24l9 40l10 57l9 52l10 56l9 55l10 64l9 66l10 65l9 73l10 60l9 66l10 62l9 68l10 61l9 55l10 45l9 66l10 38l9 59l10 38l9 42l9 26l10 36l9 27l10 21l9 19l10 26l9 9l10 13l9 0l10 17l9-19l10 6l9 1l10-21l9-10l10-22l9-22l10-28l9-16l10-40" stroke="none" fill="none" marker-start="url(#m83)" marker-mid="url(#m83)" marker-end="url(#m83)"/><path d="M1797 13933l9 10l10-9l9 0l10 6l9 6l10-8l9 3l10-9l9 8l10-3l9 2l10 1l9 7l10-2l9-2l10 1l9 1l10-3l9 3l10-2l9 2l10-1l9 4l10 4l9-10l9-1l10 0l9 5l10-9l9 3l10-1l9 2l10-2l9-1l10-5l9 3l10-4l9 1l10 2l9-7l10-1l9-1l10 12l9-17l10 4l9 3l10-12l9 8l10-3l9 2l9 11l10-15l9 11l10-9l9 6l10 3l9 8l10-8l9 3l10-4l9 6l10-8l9 6l10 0l9-10l10 5l9 6l10-5l9 8l10-5l9-3l10 1l9 0l10-8l9 4l9-1l10-2l9-2l10-8l9 1l10 6l9-14l10 0l9 4l10 2l9-6l10 2l9-6l10 2l9-6l10 12l9-5l10-4l9 3l10 0l9 4l10-13l9 10l10-3l9 7l9-1l10 0l9-7l10 2l9-2l10 3l9 1l10 8l9 3l10-9l9 9l10-5l9 4l10 1l9-5l10 3l9-4l10-6l9 3l10-7l9 4l10-5l9 3l10-12l9 12l9-12l10-4l9 11l10-6l9-3l10-8l9-1l10-1l9-5l10-8l9 12l10-6l9 1l10-5l9 13l10-2l9-2l10 1l9-5l10 4l9 7l10-4l9 5l10-3l9-1l9 4l10-8l9-3l10 8l9 10l10-12l9-3l10 10l9-3l10-3l9 3l10-6l9 2l10 3l9-2l10-4l9 0l10-11l9 1l10-1l9-7l10-1l9-7l10-6l9 3l9 0l10 0l9-16l10 4l9 1l10-4l9 2l10-12l9 3l10 2l9 4l10-16l9 8l10 10l9-6l10-1l9 0l10 7l9-8l10 4l9 4l10 5l9 7l10-3l9 1l9 6l10-4l9 0l10 7l9 1l10-1l9-6l10 1l9 13l10-5l9-14l10 11l9-11l10 3l9-7l10 4l9-6l10-6l9-2l10-5l9-11l10 1l9-11l10 2l9-7l9-9l10-5l9-7l10-1l9-4l10-2l9 1l10-9l9-9l10 3l9-3l10-6l9 9l10-6l9 5l10-6l9 12l10-2l9 4l10 2l9 5l10-7l9 13l10 5l9 10l9 4l10 1l9 7l10-4l9 8l10 2l9 1l10 5l9 2l10-3l9-5l10-1l9 0l10-14l9 0l10-7l9-11l10 3l9-16l10-6l9-10l10-2l9-13l10-15l9-11l9-18l10-4l9-14l10-9l9-7l10-15l9-12l10-16l9-6l10 0l9-4l10-8l9-1l10-14l9 6l10 4l9 4l10 4l9-2l10 13l9-5l10 4l9-5l10 18l9-6l9 10l10 2l9 12l10 2l9 6l10 1l9 23l10 7l9 10l10 13l9 10l10 11l9 14l10 19l9 5l10 20l9 8l10 8l9 21l10 5l9 7l10 7l9 4l10-4l9-11l9-8l10-28l9-37l10-38l9-54l10-77l9-81l10-94l9-99l10-109l9-125l10-116l9-111l10-99l9-94l10-69l9-51l10-32l9-2l10 18l9 39l10 45l9 82l10 72l9 98l9 94l10 111l9 93l10 108l9 114l10 85l9 95l10 80l9 79l10 67l9 63l10 46l9 41l10 42l9 26l10 19l9 17l10 19l9 4l10 17l9 2l10 2l9 13l10-6l9 8l9 4l10-9l9 0l10 8l9-5l10 0l9 4l10-10l9 9l10 2l9-4l10-1l9 0l10-2l9 2l10-11l9 5l10-14l9-3l10 0l9-6l10-6l9-11l10-16l9-5l9-9l10-23l9-7l10-19l9-31l10-17l9-28l10-27l9-32l10-37l9-40l10-51l9-34l10-49l9-67l10-58l9-75l10-69l9-85l10-89l9-84l10-96l9-108l10-101l9-116l9-118l10-117l9-136l10-122l9-142l10-134l9-132l10-142l9-145l10-134l9-148l10-122l9-141l10-116l9-129l10-122l9-97l10-111l9-87l10-82l9-76l10-62l9-51l10-38l9-25l9-6l10-17l9 15l10 45l9 59l10 78l9 87l10 108l9 127l10 132l9 143l10 157l9 165l10 167l9 176l10 171l9 174l10 176l9 167l10 162l9 159l10 168l9 143l10 129l9 133l9 122l10 120l9 99l10 93l9 88l10 83l9 70l10 60l9 57l10 45l9 59l10 31l9 26l10 39l9 20l10 15l9 28l10 10l9 6l10 24l9 12l10-5l9 13l10 3l9 4l9-2l10 9l9-3l10 2l9 5l10-3l9 4l10 2l9-13l10 22l9-4l10 0l9-3l10-2l9 1l10-10l9 11l10 2l9-5l10 1l9-1l10-7l9 1l10-5l9 7l9-9l10-1l9-1l10 0l9-11l10-2l9-15l10-6l9-10l10-20l9-6l10 0l9-27l10-16l9-20l10-20l9-31l10-11l9-37l10-42l9-34l10-42l9-37l10-44l9-54l9-48l10-46l9-67l10-49l9-69l10-58l9-64l10-65l9-54l10-69l9-59l10-59l9-58l10-52l9-54l10-48l9-38l10-45l9-28l10-21l9-26l10-13l9 1l10-7l9 11l9 12l10 24l9 26l10 36l9 52l10 37l9 49l10 55l9 57l10 66l9 59l10 68l9 71l10 67l9 58l10 66l9 74l10 58l9 49l10 59l9 61l10 40l9 44l10 44l9 42l9 35l10 33l9 28l10 21l9 12l10 17l9 25l10 16l9 0l10 4l9 0l10 2l9-14l10-9l9-17l10-11l9-29l10-19l9-30l10-31" stroke="none" fill="none" marker-start="url(#m84)" marker-mid="url(#m84)" marker-end="url(#m84)"/><path d="M1797 13940l9 0l10 0l9 0l10 1l9-1l10-1l9-9l10 5l9 7l10 3l9-10l10 6l9-1l10-3l9 14l10-5l9-3l10-5l9 7l10 0l9 0l10 0l9-1l10 3l9 0l9-2l10-5l9-3l10 4l9 0l10-7l9 1l10-2l9 3l10 0l9-6l10 2l9-7l10 8l9-6l10 0l9 3l10-3l9 2l10-3l9-1l10-12l9 15l10-7l9 5l9-4l10 4l9 2l10-9l9 2l10 13l9-7l10 2l9 6l10-7l9-1l10 2l9-1l10-5l9 9l10-7l9-4l10 21l9-12l10-7l9 3l10 3l9-10l10 1l9 9l9-12l10 3l9-3l10 4l9-9l10 0l9 3l10-4l9-8l10-2l9 11l10-9l9 2l10 1l9-4l10-6l9 4l10 6l9-4l10-2l9-2l10 5l9 0l10 0l9-1l9 11l10-13l9 6l10 2l9 5l10-5l9-6l10 11l9 5l10-8l9 1l10 1l9 6l10-9l9-2l10 20l9-20l10-4l9 5l10 4l9-12l10-10l9 5l10-10l9 6l9 0l10 0l9-12l10 10l9-5l10-3l9-5l10 0l9 5l10-2l9-14l10 6l9 0l10 1l9-3l10 5l9-8l10 2l9 4l10-3l9 5l10 2l9-5l10 6l9 4l9-9l10 9l9-2l10-4l9 13l10-4l9-5l10 5l9 1l10-2l9 0l10-1l9-5l10 0l9-9l10 4l9-8l10 4l9-10l10 5l9-9l10 1l9-9l10 7l9-4l9-7l10 3l9-13l10 4l9-6l10-4l9 0l10 4l9 1l10 0l9-4l10-1l9 0l10-5l9 8l10 2l9-6l10-6l9 13l10-2l9 2l10-3l9 3l10 7l9-3l9 5l10-1l9-3l10 19l9-2l10 1l9 0l10-6l9 0l10-8l9 1l10 3l9 0l10-6l9-2l10 1l9-9l10 1l9-6l10-5l9-3l10-5l9-8l10-4l9-1l9-17l10-6l9-4l10-3l9 1l10 0l9-4l10 0l9-9l10 4l9-10l10-2l9 3l10 0l9-2l10-1l9 5l10-6l9 13l10 2l9 3l10 2l9 3l10 2l9 8l9-4l10 19l9-5l10 4l9 9l10 3l9-5l10-3l9 4l10 1l9 0l10-2l9-3l10-8l9-7l10-3l9-2l10-12l9-10l10 3l9-18l10-6l9-13l10-5l9-12l9-15l10-9l9-12l10-9l9-17l10-13l9-1l10-14l9-5l10-10l9-9l10-1l9-1l10 2l9-10l10-2l9 16l10-8l9 5l10 7l9-9l10 8l9-2l10 16l9 3l9 9l10-1l9 13l10 1l9 1l10 10l9 7l10 13l9 7l10 14l9 16l10 4l9 15l10 15l9 14l10 3l9 25l10 9l9 6l10 9l9 10l10 12l9-8l10 3l9-2l9-25l10-17l9-24l10-37l9-63l10-62l9-80l10-86l9-93l10-110l9-110l10-106l9-118l10-102l9-91l10-80l9-54l10-37l9-16l10 12l9 17l10 50l9 58l10 69l9 86l9 91l10 112l9 93l10 112l9 101l10 97l9 94l10 86l9 78l10 65l9 78l10 52l9 46l10 32l9 34l10 25l9 16l10 25l9 20l10 3l9 2l10 6l9 13l10 2l9 2l9 1l10 4l9 2l10-8l9 0l10 7l9 2l10 0l9 1l10 0l9-5l10 0l9-5l10 1l9 0l10-5l9 5l10-15l9-2l10-12l9 1l10-8l9-5l10-22l9-3l9-16l10-8l9-20l10-12l9-22l10-25l9-24l10-36l9-33l10-38l9-31l10-46l9-51l10-56l9-50l10-68l9-74l10-70l9-78l10-81l9-94l10-100l9-103l10-96l9-121l9-114l10-119l9-138l10-125l9-126l10-135l9-143l10-132l9-144l10-142l9-130l10-141l9-134l10-123l9-128l10-118l9-109l10-98l9-100l10-80l9-76l10-63l9-52l10-32l9-41l9-14l10-1l9 12l10 38l9 50l10 68l9 98l10 97l9 116l10 130l9 142l10 152l9 155l10 163l9 171l10 170l9 174l10 168l9 169l10 175l9 162l10 154l9 148l10 137l9 134l9 126l10 120l9 107l10 98l9 89l10 96l9 61l10 66l9 65l10 44l9 50l10 42l9 45l10 22l9 30l10 23l9 30l10 14l9 10l10 16l9-1l10 19l9-1l10 8l9-6l9 16l10-3l9 10l10 5l9-4l10-3l9 9l10-6l9 2l10 3l9 0l10 0l9 3l10-3l9-1l10 4l9 8l10-14l9 4l10-6l9 5l10-6l9 1l10-2l9-3l9-4l10 5l9-16l10-4l9-2l10 2l9-18l10-4l9-17l10-2l9-14l10-19l9-3l10-26l9-21l10-14l9-31l10-33l9-31l10-39l9-34l10-29l9-51l10-44l9-47l9-45l10-66l9-55l10-51l9-55l10-59l9-61l10-71l9-51l10-73l9-55l10-61l9-58l10-61l9-43l10-43l9-44l10-36l9-31l10-26l9-15l10-19l9 0l10-11l9 14l9 17l10 14l9 28l10 36l9 47l10 45l9 43l10 48l9 66l10 61l9 62l10 71l9 57l10 73l9 62l10 68l9 64l10 59l9 59l10 54l9 44l10 55l9 50l10 39l9 43l9 28l10 34l9 33l10 23l9 21l10 22l9 14l10 6l9 10l10 0l9-4l10 1l9-11l10-16l9-5l10-26l9-12l10-24l9-33l10-29" stroke="none" fill="none" marker-start="url(#m85)" marker-mid="url(#m85)" marker-end="url(#m85)"/><path d="M1797 13944l9-12l10 2l9 8l10-4l9 0l10 5l9-6l10 7l9 2l10-13l9 10l10 1l9-2l10 3l9-12l10 8l9-1l10 0l9-5l10 19l9-13l10 3l9 0l10-5l9 2l9 9l10-9l9 1l10-6l9 12l10-12l9 1l10-4l9 0l10 9l9-13l10 2l9 2l10-8l9 3l10-8l9 2l10 8l9-9l10 3l9 0l10 0l9-5l10 8l9-5l9 8l10-7l9 7l10 0l9-4l10 5l9-9l10 10l9-11l10 4l9 3l10-2l9 2l10-9l9 8l10 5l9-5l10 3l9-2l10 2l9-1l10-7l9 3l10-5l9 3l9-2l10 0l9-9l10-3l9 5l10-5l9 8l10-2l9-10l10 9l9-20l10 7l9-4l10 7l9 4l10-2l9 0l10-8l9 8l10-1l9-9l10 12l9-2l10-8l9-4l9 18l10 4l9-7l10-3l9 2l10 3l9 4l10-9l9 6l10 1l9-3l10-6l9 5l10-11l9 12l10-5l9 10l10-7l9-4l10 1l9-2l10-3l9 0l10-4l9-5l9-3l10 4l9-6l10 0l9-9l10-5l9 5l10-3l9 2l10-5l9 2l10 4l9-11l10-5l9 7l10 2l9-2l10-4l9 9l10-4l9 3l10 11l9-7l10-3l9 2l9 3l10 6l9-6l10 1l9-1l10-5l9 8l10-5l9 3l10-11l9 9l10-10l9 14l10-1l9-9l10 1l9-9l10 0l9-3l10 4l9-6l10-7l9 3l10-6l9-8l9 3l10-4l9-7l10 0l9 6l10-9l9-1l10-3l9-10l10 4l9 3l10 3l9-6l10 2l9-4l10 5l9-2l10 9l9-2l10 1l9 5l10-3l9 5l10 2l9 3l9-1l10 9l9-10l10 4l9 0l10-2l9 5l10 2l9-7l10 7l9-4l10 9l9-9l10-5l9-5l10-3l9-6l10 3l9-4l10-8l9-1l10-6l9-7l10 4l9-7l9-14l10 0l9-11l10 1l9-2l10-11l9 0l10-6l9 2l10-2l9-4l10 1l9-3l10 3l9-5l10-1l9 2l10 10l9-9l10 16l9-5l10 3l9 1l10 10l9 3l9-3l10 4l9 13l10 0l9 5l10 9l9-14l10 9l9-3l10-1l9 5l10-12l9 4l10 0l9-13l10-5l9-3l10-9l9-15l10-4l9-6l10-8l9-19l10 0l9-5l9-24l10-3l9-4l10-14l9-11l10-7l9-16l10-9l9-17l10 0l9-3l10-6l9-5l10-5l9-2l10 14l9-1l10-4l9-6l10 12l9-3l10 10l9 3l10 3l9-3l9 13l10 2l9 5l10 4l9 10l10 4l9 4l10 13l9 14l10 9l9 9l10 14l9 15l10 11l9 11l10 18l9-9l10 21l9 16l10 11l9-1l10 17l9 1l10-11l9-2l9-16l10-17l9-27l10-34l9-51l10-56l9-67l10-75l9-94l10-90l9-103l10-97l9-102l10-111l9-88l10-82l9-74l10-55l9-24l10-10l9 8l10 27l9 46l10 68l9 61l9 90l10 79l9 110l10 97l9 102l10 99l9 86l10 103l9 80l10 81l9 71l10 57l9 56l10 48l9 42l10 27l9 14l10 37l9 14l10 19l9-7l10 30l9 2l10 11l9-8l9 5l10 1l9 3l10-6l9 1l10 1l9 16l10-8l9-5l10-4l9 15l10-20l9 4l10-8l9 10l10-4l9-2l10-6l9-4l10-1l9-19l10-4l9-3l10-4l9-25l9 3l10-20l9-15l10-21l9-26l10-25l9-24l10-23l9-44l10-35l9-39l10-51l9-34l10-55l9-58l10-64l9-73l10-72l9-77l10-91l9-85l10-94l9-101l10-103l9-117l9-114l10-124l9-128l10-129l9-129l10-145l9-124l10-146l9-136l10-140l9-133l10-135l9-138l10-118l9-131l10-111l9-109l10-112l9-92l10-96l9-60l10-74l9-53l10-43l9-28l9-13l10-16l9 11l10 30l9 48l10 61l9 83l10 100l9 118l10 118l9 146l10 141l9 162l10 158l9 163l10 174l9 165l10 177l9 160l10 174l9 150l10 164l9 154l10 148l9 132l9 118l10 133l9 112l10 95l9 90l10 93l9 81l10 67l9 64l10 51l9 46l10 54l9 41l10 36l9 32l10 19l9 28l10 9l9 20l10 16l9 2l10 23l9-3l10 10l9 5l9 6l10 8l9-4l10-1l9 16l10-7l9 2l10 2l9-3l10 3l9 2l10-7l9 9l10-2l9 0l10 1l9-1l10-9l9 9l10-16l9 17l10 2l9-9l10 1l9-14l9 1l10 3l9-8l10-4l9-18l10 4l9-8l10-10l9-8l10-11l9-9l10-19l9-17l10-12l9-27l10-17l9-24l10-35l9-34l10-35l9-30l10-36l9-44l10-48l9-49l9-53l10-50l9-60l10-50l9-63l10-61l9-59l10-62l9-54l10-69l9-54l10-59l9-52l10-59l9-46l10-44l9-48l10-30l9-36l10-25l9-21l10-12l9-1l10-7l9 5l9 7l10 21l9 31l10 33l9 55l10 36l9 52l10 46l9 58l10 60l9 63l10 65l9 67l10 67l9 59l10 67l9 58l10 67l9 58l10 58l9 46l10 56l9 53l10 37l9 39l9 32l10 34l9 22l10 29l9 18l10 16l9 16l10 11l9 13l10-1l9 2l10-7l9-2l10-16l9-9l10-24l9-23l10-25l9-21l10-38" stroke="none" fill="none" marker-start="url(#m86)" marker-mid="url(#m86)" marker-end="url(#m86)"/><path d="M1797 13945l9-8l10 7l9-7l10 6l9-5l10 3l9-8l10-4l9 6l10 0l9 3l10 2l9 2l10 4l9-1l10-6l9 5l10-3l9 6l10-13l9 4l10 6l9-8l10 5l9-3l9 5l10 1l9-9l10 2l9-2l10-1l9 2l10 1l9-4l10 8l9-10l10-5l9 4l10-10l9 9l10 2l9-8l10 3l9-4l10 5l9-6l10 2l9-1l10-3l9 8l9-3l10-5l9 0l10 2l9 9l10-6l9 3l10 1l9 5l10 3l9-13l10 2l9 10l10-5l9-2l10 3l9-5l10 3l9 4l10-5l9-4l10 5l9-9l10-2l9 0l9-1l10 1l9-4l10 4l9 6l10-9l9-11l10 1l9 8l10-5l9 1l10 1l9-5l10-5l9 2l10 1l9 8l10-19l9 15l10-5l9-4l10 3l9-2l10 14l9-5l9-1l10 4l9 2l10-10l9 10l10-10l9 1l10 6l9 5l10-3l9 0l10 0l9 0l10-4l9 1l10-2l9-2l10-6l9-5l10 7l9-2l10-1l9-7l10-1l9 0l9-1l10-5l9-4l10 4l9-5l10 8l9-7l10-6l9 7l10-1l9-9l10 9l9-8l10-11l9 8l10-6l9 1l10 10l9-2l10-2l9-3l10 0l9 3l10 3l9 7l9-8l10 8l9-6l10-1l9 12l10-14l9 9l10-5l9 0l10-5l9 3l10-3l9 2l10 5l9-4l10-6l9-4l10 1l9 1l10 0l9-9l10-15l9 10l10-1l9-8l9-3l10 0l9 6l10-8l9-3l10-7l9 3l10-3l9 2l10-3l9-13l10 6l9 1l10 6l9 1l10-9l9 6l10-2l9 2l10 3l9 12l10-13l9-2l10 9l9 3l9 0l10 3l9 9l10-6l9 0l10-4l9 9l10-3l9-1l10-3l9-8l10 5l9-3l10 6l9-15l10 11l9-16l10-2l9-1l10 1l9-12l10 0l9-13l10 13l9-17l9 6l10-16l9-3l10-9l9 4l10-4l9 1l10-10l9-6l10 0l9 1l10-4l9-5l10 1l9 10l10-5l9 3l10 9l9-12l10 4l9 9l10-4l9 5l10 6l9 0l9 6l10 6l9-5l10 14l9-12l10 9l9 4l10-2l9 5l10-2l9-12l10 4l9 0l10-4l9-9l10-5l9-1l10-13l9-3l10-8l9-12l10-2l9-6l10-16l9-15l9-5l10-16l9-12l10-4l9-11l10-10l9-12l10-8l9-7l10-11l9-1l10-4l9 1l10-5l9-6l10 3l9 3l10 3l9 5l10 2l9-5l10 7l9 3l10-1l9 11l9 5l10-4l9 9l10 15l9 0l10 10l9 7l10 7l9 15l10 5l9 0l10 19l9 12l10 6l9 21l10 7l9 5l10 17l9 9l10 11l9 5l10 4l9 6l10-2l9-7l9-2l10-29l9-29l10-28l9-39l10-48l9-63l10-76l9-77l10-76l9-102l10-86l9-98l10-99l9-96l10-81l9-79l10-57l9-50l10-13l9-13l10 9l9 25l10 59l9 51l9 78l10 72l9 94l10 92l9 95l10 100l9 102l10 91l9 79l10 98l9 71l10 73l9 55l10 60l9 40l10 47l9 25l10 17l9 37l10 16l9 7l10 20l9 13l10 4l9-3l9-1l10 7l9 2l10-3l9 6l10-6l9 0l10 7l9-7l10 1l9 3l10-2l9-6l10 8l9-1l10-14l9-7l10 3l9-8l10 6l9-7l10-11l9-9l10-12l9-8l9-14l10-14l9-20l10-21l9-20l10-26l9-19l10-28l9-27l10-38l9-50l10-43l9-47l10-52l9-54l10-59l9-75l10-75l9-69l10-101l9-81l10-100l9-104l10-107l9-104l9-121l10-121l9-121l10-130l9-127l10-139l9-133l10-139l9-140l10-142l9-132l10-135l9-132l10-142l9-110l10-122l9-103l10-111l9-90l10-90l9-83l10-71l9-49l10-46l9-31l9-18l10-10l9 3l10 28l9 45l10 61l9 73l10 97l9 102l10 131l9 124l10 149l9 149l10 149l9 168l10 174l9 169l10 163l9 169l10 170l9 158l10 163l9 161l10 129l9 145l9 126l10 125l9 115l10 109l9 90l10 89l9 80l10 77l9 68l10 64l9 51l10 46l9 54l10 31l9 28l10 24l9 21l10 20l9 28l10 12l9 15l10 12l9 7l10 6l9 3l9 15l10-1l9 7l10-8l9 1l10 12l9 2l10-5l9 0l10 9l9-2l10-3l9 6l10-11l9 6l10 0l9 5l10-11l9 10l10-4l9-1l10-4l9 4l10-5l9-8l9-1l10-4l9-8l10-3l9-8l10-2l9-4l10-20l9 4l10-13l9-14l10-31l9-7l10-23l9-10l10-25l9-32l10-26l9-33l10-36l9-35l10-39l9-43l10-43l9-50l9-53l10-44l9-60l10-59l9-53l10-60l9-68l10-57l9-66l10-57l9-50l10-55l9-56l10-57l9-31l10-60l9-46l10-31l9-32l10-23l9-13l10-25l9-3l10-4l9 7l9 5l10 26l9 26l10 35l9 42l10 38l9 46l10 58l9 66l10 54l9 50l10 74l9 61l10 74l9 59l10 64l9 56l10 61l9 58l10 54l9 59l10 41l9 55l10 38l9 34l9 48l10 28l9 31l10 25l9 20l10 20l9 14l10 8l9 16l10 1l9-2l10 0l9-14l10-8l9-12l10-16l9-24l10-30l9-20l10-40" stroke="none" fill="none" marker-start="url(#m87)" marker-mid="url(#m87)" marker-end="url(#m87)"/><path d="M1797 13935l9 1l10 8l9-4l10-7l9 6l10 2l9 0l10-5l9 10l10-12l9 4l10 6l9-6l10 14l9-6l10-6l9-4l10 12l9 1l10-6l9 0l10 3l9 0l10-10l9 10l9 3l10-6l9-8l10 1l9 3l10 4l9-6l10-14l9 8l10-3l9 10l10-6l9 0l10-11l9 8l10-2l9 1l10 9l9-17l10 12l9-6l10 4l9-4l10-1l9 0l9-8l10 12l9-4l10-3l9 4l10 1l9-10l10 6l9 7l10-4l9 5l10-6l9 9l10-10l9 2l10 0l9 1l10-1l9 4l10-5l9-3l10 0l9 5l10-8l9 6l9-3l10-1l9-2l10-4l9-5l10-3l9 1l10 4l9-7l10-3l9 7l10 1l9-6l10-9l9 9l10-1l9-4l10 7l9 0l10-4l9-4l10 5l9 2l10 5l9-14l9 13l10-10l9 9l10-7l9-2l10 12l9-6l10-1l9-2l10 7l9-6l10 4l9 5l10-10l9-2l10 5l9-1l10-5l9-5l10 11l9-12l10-6l9 11l10-9l9 1l9-4l10-6l9 11l10-7l9 2l10-6l9-11l10 11l9-4l10-1l9-5l10 2l9 2l10-1l9-3l10 5l9 5l10-15l9 5l10 3l9-1l10-3l9 7l10-3l9 4l9-7l10 16l9-4l10-11l9 11l10-1l9 2l10 4l9-10l10-3l9 0l10 6l9-4l10-11l9 6l10 1l9-10l10 3l9 4l10-7l9-11l10 2l9-3l10-6l9 3l9 0l10-9l9 0l10-5l9 1l10-2l9 1l10-9l9-8l10 12l9-11l10 2l9 5l10 2l9-7l10 4l9 1l10 1l9-9l10 17l9-8l10-5l9 9l10-7l9 11l9 1l10-2l9 8l10-2l9-2l10 6l9-4l10-3l9 9l10-5l9-4l10 4l9-10l10-3l9 5l10-6l9 0l10-6l9-7l10-1l9-6l10-2l9-12l10-3l9 2l9-10l10-14l9 9l10-12l9-10l10 9l9-8l10 10l9-18l10 1l9-3l10 2l9-4l10-1l9 1l10 5l9 1l10 0l9 3l10 5l9 5l10-2l9 6l10 1l9 7l9 4l10-1l9 2l10-8l9 12l10-3l9 4l10 1l9 3l10-5l9-1l10 6l9-12l10 0l9 2l10-9l9-12l10-8l9-2l10-14l9-6l10 1l9-11l10-16l9-4l9-11l10-15l9-7l10-9l9-7l10-24l9 6l10-13l9-14l10-1l9-2l10-3l9-13l10 0l9 11l10-2l9-8l10-3l9 11l10-4l9 14l10 3l9 1l10-4l9 5l9 2l10 15l9-10l10 14l9-7l10 17l9 17l10 0l9 12l10-1l9 15l10 6l9 19l10 11l9 7l10 12l9 15l10 4l9 7l10 16l9 7l10 5l9-2l10 2l9-7l9-13l10-9l9-22l10-29l9-44l10-39l9-54l10-60l9-76l10-75l9-77l10-97l9-88l10-95l9-86l10-82l9-72l10-75l9-54l10-30l9-26l10-7l9 15l10 26l9 47l9 59l10 61l9 93l10 78l9 99l10 93l9 100l10 91l9 96l10 84l9 89l10 73l9 63l10 57l9 58l10 33l9 49l10 27l9 38l10 19l9 17l10 15l9 13l10 3l9 9l9-6l10 11l9 1l10 12l9-14l10 0l9 12l10 0l9-2l10-10l9 11l10-3l9 1l10-10l9-5l10 6l9-13l10 0l9 0l10-11l9-10l10-7l9-5l10-14l9-5l9-14l10-21l9-8l10-16l9-19l10-27l9-20l10-34l9-32l10-40l9-35l10-50l9-49l10-57l9-59l10-65l9-60l10-68l9-88l10-82l9-86l10-100l9-106l10-98l9-107l9-119l10-115l9-137l10-114l9-132l10-143l9-131l10-132l9-148l10-139l9-125l10-145l9-133l10-133l9-118l10-120l9-109l10-108l9-102l10-84l9-73l10-70l9-67l10-32l9-38l9-23l10-19l9 12l10 19l9 37l10 53l9 72l10 96l9 102l10 118l9 117l10 144l9 146l10 156l9 167l10 165l9 165l10 154l9 178l10 162l9 169l10 142l9 164l10 154l9 136l9 129l10 122l9 124l10 104l9 103l10 94l9 88l10 74l9 67l10 68l9 59l10 37l9 54l10 39l9 44l10 20l9 38l10 11l9 23l10 20l9 16l10 8l9 13l10 14l9-5l9 17l10 0l9 5l10-6l9 17l10-9l9 4l10 16l9-6l10-2l9 2l10-5l9-1l10-2l9 7l10-5l9 2l10-3l9 1l10-1l9 0l10-5l9 0l10 2l9 2l9-16l10-3l9-1l10-11l9 0l10-7l9-7l10-17l9-13l10-3l9-12l10-23l9-16l10-18l9-13l10-31l9-26l10-27l9-34l10-32l9-39l10-38l9-41l10-53l9-40l9-52l10-54l9-46l10-59l9-54l10-62l9-55l10-68l9-56l10-53l9-66l10-49l9-52l10-60l9-46l10-41l9-47l10-34l9-30l10-29l9-16l10-18l9-4l10-2l9 19l9 1l10 9l9 36l10 30l9 39l10 49l9 38l10 46l9 57l10 67l9 64l10 61l9 60l10 68l9 59l10 65l9 69l10 60l9 49l10 56l9 57l10 43l9 54l10 44l9 39l9 34l10 45l9 18l10 26l9 26l10 18l9 6l10 18l9 6l10-1l9 9l10-20l9 7l10-11l9-11l10-22l9-20l10-26l9-25l10-25" stroke="none" fill="none" marker-start="url(#m88)" marker-mid="url(#m88)" marker-end="url(#m88)"/><path d="M1797 13932l9 2l10 0l9 1l10 0l9 5l10-15l9 15l10 3l9-13l10 10l9-1l10 5l9-3l10-3l9 1l10 8l9-9l10 7l9 4l10-10l9 2l10 2l9 3l10-7l9 4l9 1l10-6l9 1l10 5l9-11l10 11l9-5l10-6l9 1l10-5l9 0l10 11l9-17l10 7l9-3l10 3l9 0l10-8l9 0l10 1l9 3l10-10l9 5l10-1l9 3l9-1l10-4l9 1l10 0l9 5l10 0l9 6l10-4l9 2l10 2l9-4l10 0l9 4l10 4l9-6l10-1l9-2l10 5l9 1l10 2l9-9l10 2l9-7l10 8l9-13l9 5l10-1l9-3l10-4l9-2l10 10l9-7l10-5l9-2l10 0l9 4l10-6l9 1l10-1l9-6l10 5l9-3l10-4l9 2l10 9l9 0l10 4l9-13l10 6l9 2l9-1l10 5l9-7l10 7l9-8l10 4l9 1l10-2l9 4l10-1l9-6l10-2l9 5l10-5l9 12l10-8l9 0l10 0l9-5l10-8l9 4l10-4l9-3l10-2l9 4l9 0l10-9l9-1l10 4l9-11l10 9l9 0l10-6l9 4l10-6l9-1l10 1l9-3l10 5l9 4l10-14l9 0l10 0l9 6l10-3l9 4l10-6l9 10l10-5l9 4l9-5l10 4l9 8l10-6l9 4l10-6l9-2l10 8l9-7l10 6l9-3l10-4l9-6l10 2l9-3l10 3l9-4l10-5l9-1l10-2l9-4l10-8l9-2l10-3l9 2l9 2l10-1l9-8l10 2l9 2l10-9l9-12l10 8l9-2l10-1l9-1l10 5l9-7l10-2l9 2l10 0l9 2l10-2l9 9l10 4l9-5l10-1l9-1l10 7l9-2l9 2l10-2l9 6l10-4l9 0l10 5l9 0l10 1l9 0l10-1l9 1l10-9l9-1l10 0l9-3l10-3l9-10l10-1l9 2l10-9l9 6l10-10l9-3l10-9l9-1l9-4l10-4l9-2l10-4l9-6l10-9l9-3l10-5l9-6l10 1l9 9l10-6l9-10l10 5l9 0l10 1l9 7l10-6l9 4l10 6l9-4l10-3l9 11l10 8l9-2l9 6l10 9l9-6l10-1l9 8l10-2l9 1l10 2l9-1l10-1l9-2l10-2l9-6l10 1l9-3l10-11l9-1l10-18l9 3l10-16l9-1l10-9l9-11l10-7l9-7l9-9l10-8l9-9l10-18l9 4l10-26l9-6l10-3l9-16l10-6l9-2l10 10l9-4l10-13l9 7l10-7l9 4l10-2l9 5l10 1l9 9l10-4l9 6l10-5l9 11l9-1l10 4l9 8l10 8l9 1l10 8l9 3l10 15l9 9l10 1l9 11l10 6l9 9l10 24l9 2l10 11l9 11l10 6l9 5l10 17l9 7l10 2l9 2l10 3l9-9l9-10l10-6l9-27l10-17l9-42l10-31l9-48l10-53l9-68l10-71l9-76l10-80l9-84l10-85l9-85l10-85l9-73l10-72l9-54l10-46l9-43l10-11l9-7l10 18l9 30l9 43l10 55l9 60l10 87l9 82l10 93l9 92l10 101l9 83l10 94l9 89l10 74l9 83l10 63l9 54l10 47l9 53l10 29l9 34l10 35l9 16l10 15l9 23l10 1l9 21l9-5l10 6l9 1l10 6l9 5l10 8l9-13l10 5l9-1l10 5l9 6l10-12l9 4l10-6l9-4l10 5l9-11l10 1l9-6l10-11l9 3l10-11l9-10l10-15l9-6l9-16l10-7l9-15l10-24l9-29l10-19l9-22l10-29l9-41l10-34l9-31l10-42l9-65l10-45l9-57l10-64l9-66l10-73l9-78l10-76l9-96l10-93l9-107l10-104l9-104l9-116l10-121l9-131l10-124l9-123l10-143l9-125l10-146l9-133l10-132l9-140l10-136l9-138l10-130l9-112l10-124l9-120l10-104l9-98l10-90l9-81l10-72l9-53l10-41l9-48l9-21l10-8l9-8l10 20l9 31l10 59l9 57l10 85l9 97l10 116l9 124l10 126l9 145l10 156l9 161l10 155l9 169l10 161l9 172l10 162l9 162l10 162l9 150l10 156l9 131l9 142l10 128l9 120l10 113l9 106l10 93l9 92l10 80l9 71l10 69l9 62l10 47l9 43l10 54l9 31l10 39l9 27l10 29l9 19l10 19l9 13l10 15l9 1l10 22l9 2l9 6l10 17l9 4l10-7l9 12l10-1l9 12l10-5l9-2l10-5l9-3l10 11l9-8l10 6l9 1l10 0l9-1l10 5l9-7l10 3l9-7l10-12l9 15l10-15l9 9l9-7l10-9l9-3l10-8l9-7l10-1l9-7l10-15l9-10l10-17l9 2l10-29l9-16l10-16l9-20l10-24l9-27l10-39l9-25l10-33l9-38l10-41l9-43l10-42l9-46l9-47l10-55l9-53l10-54l9-58l10-64l9-57l10-56l9-63l10-53l9-61l10-51l9-59l10-47l9-44l10-40l9-45l10-35l9-26l10-28l9-19l10-17l9-2l10-8l9-3l9 15l10 22l9 19l10 39l9 31l10 45l9 50l10 47l9 48l10 71l9 61l10 51l9 73l10 62l9 65l10 64l9 57l10 66l9 58l10 53l9 49l10 47l9 53l10 39l9 39l9 40l10 31l9 34l10 32l9 12l10 26l9 8l10 17l9 9l10-1l9 5l10-9l9-6l10-11l9-22l10-15l9-17l10-29l9-25l10-28" stroke="none" fill="none" marker-start="url(#m89)" marker-mid="url(#m89)" marker-end="url(#m89)"/><path d="M1797 13943l9-3l10-11l9 8l10-2l9-5l10 11l9-8l10 16l9-7l10 5l9-8l10 0l9 3l10 0l9-14l10 10l9 0l10 6l9 0l10-4l9 2l10-1l9 1l10 6l9-10l9 0l10-2l9-1l10-5l9 8l10-3l9-6l10 6l9-7l10 6l9-2l10 2l9-5l10-10l9 0l10 7l9-3l10-3l9 9l10-3l9-2l10 7l9-5l10-1l9-1l9 0l10 8l9-11l10 4l9-4l10 0l9 4l10-8l9 15l10-7l9-1l10-5l9 6l10-2l9 1l10-8l9 10l10 2l9-3l10-4l9-5l10 15l9-6l10-12l9 7l9 0l10-3l9 1l10-1l9-6l10 3l9-12l10 17l9-14l10 4l9-11l10 10l9-7l10-5l9 4l10 4l9-2l10-2l9-6l10 6l9-2l10 7l9-5l10-4l9 6l9 2l10-1l9-6l10 3l9 1l10 5l9 5l10-12l9 6l10-5l9 1l10 4l9 2l10-9l9 12l10 0l9-18l10 9l9-5l10-6l9-5l10 11l9-5l10-6l9 2l9 1l10-9l9 10l10-13l9 2l10-1l9 1l10-3l9-7l10 2l9-4l10 1l9 4l10-1l9-2l10 2l9-8l10 11l9-13l10 11l9 1l10-3l9 5l10-12l9 1l9 1l10-1l9 2l10 13l9-10l10 6l9-7l10 4l9 0l10 2l9-8l10-3l9 8l10-7l9-2l10 0l9-1l10-8l9-3l10 0l9-2l10-3l9 3l10-5l9-3l9 2l10-10l9-6l10-3l9 7l10-1l9 0l10-8l9 2l10-6l9 8l10-6l9 3l10-4l9 2l10 7l9-11l10 3l9 0l10 2l9 5l10-4l9-2l10-3l9 7l9 4l10-7l9 7l10 0l9 0l10-3l9 8l10-6l9 0l10 0l9-10l10 12l9-8l10-3l9-3l10-8l9 12l10-11l9-1l10-1l9-8l10-8l9-1l10-13l9 10l9-12l10-4l9-3l10-6l9 0l10-6l9 0l10-2l9-1l10-4l9-6l10 3l9-6l10 3l9-1l10-5l9 10l10-3l9-4l10 3l9 3l10-3l9 10l10-1l9-5l9 15l10-6l9 2l10 2l9 1l10 6l9-4l10 1l9-2l10 0l9-9l10 1l9-7l10 1l9-2l10-6l9-7l10 3l9-3l10-7l9-16l10-3l9-8l10-10l9-11l9-4l10-7l9-10l10-14l9-5l10-11l9-10l10-2l9-4l10-4l9-8l10-2l9-8l10 5l9-7l10 2l9-4l10 8l9-3l10-1l9 11l10-6l9 7l10 4l9 5l9-3l10 6l9 3l10 0l9 20l10-11l9 0l10 17l9 8l10 6l9 4l10 2l9 22l10 18l9-5l10 11l9 10l10 8l9 17l10-3l9 10l10 0l9 6l10 2l9 2l9-19l10-4l9-15l10-24l9-19l10-28l9-23l10-55l9-45l10-44l9-55l10-70l9-63l10-75l9-59l10-77l9-73l10-67l9-56l10-57l9-55l10-53l9-21l10-23l9-16l9 3l10 11l9 38l10 42l9 48l10 70l9 73l10 84l9 84l10 88l9 88l10 87l9 83l10 80l9 69l10 67l9 71l10 48l9 54l10 55l9 26l10 39l9 15l10 29l9 9l9 14l10 20l9 10l10-1l9 13l10 0l9-2l10 7l9-3l10-5l9 7l10-3l9 4l10 7l9-14l10-2l9-6l10-2l9-2l10-5l9-9l10-4l9-6l10-17l9-10l9-16l10-10l9-18l10-15l9-24l10-28l9-30l10-21l9-36l10-31l9-37l10-47l9-49l10-52l9-55l10-66l9-70l10-65l9-80l10-83l9-89l10-92l9-99l10-99l9-103l9-113l10-120l9-120l10-126l9-131l10-132l9-133l10-138l9-144l10-124l9-138l10-133l9-142l10-129l9-117l10-128l9-108l10-116l9-101l10-94l9-77l10-84l9-66l10-59l9-39l9-32l10-19l9-14l10 3l9 21l10 36l9 58l10 74l9 77l10 91l9 111l10 129l9 120l10 143l9 149l10 161l9 151l10 159l9 157l10 174l9 160l10 154l9 156l10 153l9 153l9 142l10 131l9 128l10 119l9 121l10 109l9 88l10 97l9 84l10 72l9 81l10 57l9 59l10 48l9 48l10 38l9 44l10 29l9 30l10 16l9 20l10 24l9 13l10 17l9 13l9 2l10 14l9 1l10 2l9 19l10-3l9 7l10 0l9 13l10-10l9 7l10-4l9 0l10-1l9 3l10-1l9 2l10 4l9-4l10-2l9-2l10-4l9-3l10-6l9-7l9 8l10-9l9-7l10-3l9-11l10 4l9-21l10-7l9-5l10-20l9-24l10-9l9-27l10-22l9-14l10-23l9-31l10-33l9-33l10-29l9-31l10-50l9-28l10-51l9-47l9-51l10-46l9-55l10-57l9-52l10-52l9-63l10-54l9-51l10-57l9-66l10-44l9-54l10-44l9-47l10-42l9-37l10-39l9-31l10-24l9-14l10-14l9-3l10-17l9 9l9 13l10 16l9 14l10 33l9 30l10 42l9 42l10 52l9 65l10 39l9 69l10 49l9 67l10 66l9 61l10 64l9 56l10 59l9 65l10 58l9 40l10 54l9 54l10 35l9 40l9 40l10 33l9 35l10 36l9 8l10 25l9 4l10 21l9 4l10 10l9 3l10-7l9-18l10-2l9-6l10-30l9-22l10-16l9-31l10-30" stroke="none" fill="none" marker-start="url(#m90)" marker-mid="url(#m90)" marker-end="url(#m90)"/><path d="M1797 13940l9-3l10 7l9-9l10-3l9 8l10-6l9-1l10 1l9-3l10 6l9 4l10-7l9 1l10 12l9-9l10 3l9-1l10-2l9-6l10 5l9 4l10 0l9-4l10-1l9-10l9 15l10-2l9-7l10 5l9-3l10 6l9 0l10-11l9 6l10-8l9 4l10-4l9-5l10 8l9-1l10-9l9 4l10 1l9-5l10 7l9-4l10 5l9 0l10-9l9-3l9 5l10 7l9-6l10-2l9 2l10-5l9 8l10-4l9 3l10-1l9 1l10-4l9 7l10-4l9-3l10-2l9-1l10 3l9-5l10-1l9 5l10-9l9 1l10 6l9-1l9 0l10-2l9-4l10 0l9 1l10-4l9-5l10 1l9 0l10 3l9-1l10-9l9 6l10 3l9-8l10-4l9 13l10-14l9 11l10-8l9 3l10 3l9 2l10 0l9 1l9-3l10-6l9 5l10-9l9 9l10 2l9-2l10-8l9 10l10-3l9-5l10 6l9-4l10 2l9-1l10-1l9 0l10-6l9 9l10-3l9-4l10 3l9-4l10-1l9-6l9 5l10-7l9 0l10-9l9 10l10-1l9-2l10-3l9-2l10-8l9 5l10-3l9-1l10-4l9 8l10-3l9-3l10-6l9 8l10 0l9-6l10 3l9 0l10-7l9 11l9-7l10-4l9 9l10-11l9 6l10 1l9-5l10 5l9 11l10-13l9 1l10 5l9-11l10 4l9 0l10-15l9 3l10-4l9-3l10 11l9-15l10 10l9-3l10-8l9 1l9-11l10 7l9-7l10 1l9 1l10-3l9-1l10-4l9 0l10-6l9 4l10-3l9-7l10 5l9-10l10 11l9-1l10-2l9-2l10 2l9 4l10 1l9 1l10-1l9 6l9-1l10 0l9-10l10 4l9-3l10 5l9-3l10 4l9 4l10-8l9 0l10-1l9 1l10-10l9-4l10-1l9-5l10 5l9-9l10-1l9-1l10-6l9 0l10-6l9-5l9 4l10-17l9-2l10-2l9-7l10 1l9-2l10-7l9 6l10 2l9-12l10 4l9-7l10 1l9 5l10-3l9 4l10-5l9 1l10-3l9-4l10 8l9 3l10 0l9 2l9 2l10-2l9 7l10 0l9-5l10-2l9 1l10 3l9-7l10 2l9-7l10 2l9 0l10 2l9-15l10-2l9-7l10 3l9-3l10-16l9 0l10 4l9-20l10 1l9-19l9-6l10 5l9-17l10-7l9-10l10 0l9-6l10-17l9 6l10-13l9-6l10-5l9-1l10-10l9 4l10 5l9 1l10 3l9-3l10-7l9 8l10 5l9 6l10 8l9-8l9 5l10-1l9 9l10-4l9 8l10 6l9 1l10 9l9 4l10 9l9 2l10 16l9 1l10 4l9 7l10 9l9 5l10 11l9-2l10 19l9 12l10 5l9 1l10-7l9 6l9-4l10-16l9 1l10-21l9-20l10-22l9-21l10-22l9-36l10-49l9-43l10-38l9-56l10-54l9-51l10-64l9-51l10-66l9-58l10-53l9-52l10-58l9-34l10-37l9-28l9-28l10-14l9-3l10-4l9 21l10 27l9 49l10 48l9 53l10 72l9 77l10 77l9 83l10 84l9 81l10 78l9 79l10 61l9 63l10 69l9 54l10 37l9 49l10 35l9 31l9 27l10 23l9 13l10 23l9 1l10 7l9 14l10 5l9-6l10 11l9 3l10-6l9 8l10 3l9-10l10-1l9-2l10-4l9-5l10-7l9 2l10-20l9-4l10-10l9-11l9-18l10-12l9-25l10 0l9-33l10-24l9-10l10-43l9-29l10-36l9-39l10-45l9-43l10-50l9-63l10-56l9-69l10-77l9-58l10-82l9-87l10-93l9-103l10-96l9-108l9-114l10-99l9-126l10-122l9-131l10-124l9-143l10-125l9-135l10-134l9-135l10-140l9-131l10-134l9-124l10-127l9-118l10-116l9-104l10-93l9-97l10-74l9-70l10-70l9-42l9-43l10-25l9-18l10-14l9 13l10 12l9 40l10 59l9 73l10 80l9 96l10 102l9 131l10 121l9 135l10 142l9 148l10 158l9 152l10 166l9 150l10 161l9 159l10 148l9 159l9 150l10 131l9 137l10 130l9 124l10 111l9 106l10 109l9 96l10 79l9 87l10 64l9 66l10 70l9 43l10 60l9 44l10 39l9 33l10 30l9 29l10 29l9 19l10 24l9 13l9 9l10 12l9 12l10 5l9 12l10 3l9 4l10 0l9 3l10 12l9-1l10 8l9-15l10 18l9-8l10 6l9-7l10-1l9-3l10 4l9-8l10 4l9-2l10-3l9-4l9-15l10-2l9-5l10 5l9-16l10-12l9 0l10-23l9-4l10-19l9-17l10-16l9-20l10-23l9-26l10-27l9-27l10-25l9-23l10-39l9-39l10-44l9-44l10-37l9-45l9-51l10-49l9-53l10-53l9-49l10-44l9-64l10-43l9-66l10-66l9-46l10-47l9-57l10-33l9-50l10-41l9-31l10-34l9-34l10-23l9-16l10-17l9-13l10 0l9 3l9 3l10 16l9 19l10 32l9 27l10 39l9 47l10 33l9 57l10 53l9 54l10 56l9 61l10 68l9 58l10 64l9 59l10 56l9 54l10 65l9 45l10 52l9 54l10 27l9 54l9 33l10 39l9 29l10 25l9 27l10 20l9 10l10 13l9 2l10 14l9 9l10-4l9-15l10-4l9-12l10-29l9-9l10-24l9-34l10-34" stroke="none" fill="none" marker-start="url(#m91)" marker-mid="url(#m91)" marker-end="url(#m91)"/><path d="M1797 13934l9 8l10-9l9 8l10-6l9 15l10-8l9-7l10 2l9-2l10 18l9-22l10 2l9-5l10 11l9-6l10 1l9 4l10-3l9 1l10-2l9 3l10-1l9 3l10-2l9-3l9-1l10 0l9-3l10 6l9 0l10 3l9-14l10-3l9 6l10-2l9 5l10-4l9-7l10 4l9 7l10-8l9 1l10-4l9-4l10 6l9-2l10-3l9 8l10-3l9 6l9-8l10-3l9 2l10-1l9 5l10 1l9-9l10 2l9 5l10-5l9 6l10 1l9-6l10 2l9-2l10-10l9 8l10 1l9-9l10 12l9-3l10 0l9-2l10-11l9 17l9-15l10 11l9 0l10-7l9-2l10 0l9 3l10-9l9 8l10-9l9-11l10 17l9-7l10 0l9 6l10-7l9-5l10 0l9 1l10 5l9-2l10 3l9-9l10 8l9 1l9-2l10-10l9 14l10-11l9 1l10 5l9-3l10 7l9-8l10-1l9 5l10-5l9 0l10-3l9-1l10-3l9 5l10-4l9-3l10-4l9 5l10 1l9 0l10-4l9 6l9-5l10-9l9-7l10 2l9 7l10-9l9 2l10 3l9-9l10 1l9-1l10 0l9-2l10 4l9 0l10 1l9-7l10 1l9-2l10 5l9-1l10-1l9 0l10 1l9-8l9 5l10 12l9-9l10-4l9 0l10 0l9 1l10-8l9 9l10-8l9-2l10-1l9-6l10 12l9-3l10-6l9-2l10-2l9 3l10-3l9-10l10 2l9-2l10-3l9-6l9 7l10-4l9 6l10-7l9-5l10-3l9 4l10 2l9-4l10 4l9-5l10-5l9-4l10-5l9 5l10 4l9-5l10 2l9-6l10 0l9 11l10-6l9-10l10 3l9 6l9 13l10-17l9 1l10 2l9-5l10 2l9-2l10 3l9-2l10-3l9 1l10 2l9-1l10-9l9 3l10-2l9-4l10-8l9 9l10-1l9-15l10-1l9-11l10 5l9 2l9-11l10-3l9-4l10-3l9-10l10 8l9-6l10-1l9 5l10-4l9-3l10-4l9 2l10-12l9 5l10 3l9-2l10-3l9 2l10 2l9 1l10-5l9-7l10 19l9-10l9-1l10 4l9-14l10 9l9 8l10-9l9 6l10-10l9 2l10-7l9 8l10-8l9-9l10 6l9-1l10-6l9-7l10-1l9-9l10-8l9 4l10-3l9-8l10-4l9-9l9-9l10-1l9-14l10-6l9 0l10-12l9-1l10-15l9-2l10-8l9-7l10 0l9 0l10-2l9 2l10-2l9-8l10 11l9-1l10-1l9 1l10 0l9 9l10-1l9 0l9 1l10 0l9 4l10 4l9 8l10 5l9 4l10-4l9 2l10 15l9 8l10 2l9 3l10 10l9 5l10 3l9 8l10 10l9 9l10 1l9-1l10 16l9-11l10 7l9-5l9 7l10-4l9-4l10-15l9-12l10-13l9-20l10-23l9-19l10-36l9-21l10-40l9-42l10-39l9-46l10-39l9-54l10-50l9-44l10-58l9-42l10-48l9-43l10-48l9-34l9-38l10-29l9-17l10-20l9-14l10 13l9 6l10 3l9 40l10 24l9 58l10 71l9 52l10 74l9 73l10 73l9 82l10 75l9 71l10 78l9 60l10 58l9 57l10 50l9 45l9 48l10 30l9 33l10 15l9 18l10 21l9 22l10 4l9 4l10 7l9 4l10 3l9 9l10-5l9-1l10 4l9-4l10-5l9-13l10-1l9-2l10-8l9-1l10-16l9-16l9-6l10-19l9-19l10-11l9-15l10-29l9-26l10-40l9-19l10-35l9-43l10-34l9-47l10-51l9-54l10-61l9-62l10-58l9-88l10-71l9-88l10-86l9-95l10-101l9-97l9-107l10-116l9-115l10-129l9-116l10-126l9-141l10-121l9-140l10-129l9-141l10-138l9-133l10-124l9-133l10-128l9-116l10-123l9-108l10-103l9-88l10-89l9-72l10-70l9-65l9-43l10-41l9-22l10-17l9-2l10 4l9 29l10 36l9 52l10 72l9 80l10 83l9 113l10 110l9 125l10 135l9 141l10 155l9 140l10 159l9 156l10 151l9 150l10 156l9 152l9 148l10 145l9 148l10 136l9 124l10 119l9 122l10 113l9 103l10 97l9 91l10 85l9 66l10 76l9 73l10 51l9 52l10 46l9 52l10 42l9 16l10 46l9 28l10 17l9 17l9 18l10 24l9 10l10 15l9 7l10 11l9-6l10 12l9 10l10 4l9-3l10 12l9 0l10 2l9-1l10-7l9 10l10 2l9-1l10-4l9 2l10-3l9-5l10-9l9-4l9-2l10-9l9-5l10-6l9-6l10-16l9-8l10-11l9-13l10-17l9-15l10-14l9-23l10-19l9-17l10-33l9-44l10-12l9-39l10-39l9-33l10-39l9-37l10-44l9-45l9-45l10-52l9-53l10-52l9-55l10-48l9-64l10-39l9-47l10-50l9-58l10-51l9-47l10-41l9-48l10-34l9-33l10-34l9-29l10-26l9-12l10-15l9-20l10 1l9-7l9 8l10 13l9 15l10 30l9 26l10 34l9 39l10 53l9 45l10 44l9 58l10 54l9 57l10 69l9 57l10 54l9 63l10 64l9 51l10 55l9 57l10 50l9 42l10 46l9 49l9 37l10 33l9 29l10 28l9 27l10 16l9 26l10 7l9 5l10 5l9 2l10-5l9-6l10-8l9-22l10-10l9-32l10-5l9-38l10-19" stroke="none" fill="none" marker-start="url(#m92)" marker-mid="url(#m92)" marker-end="url(#m92)"/><path d="M1797 13944l9-3l10 8l9-10l10-2l9 3l10-2l9-4l10 4l9-6l10 7l9-12l10 9l9 5l10-9l9 2l10 8l9-15l10 10l9-5l10-9l9 14l10 0l9-5l10 12l9-16l9 8l10-10l9 0l10 10l9 0l10-11l9 10l10-6l9-3l10-2l9 3l10 3l9-8l10 1l9-3l10 8l9-12l10 4l9 4l10-5l9 3l10 7l9-6l10-4l9 0l9 0l10 4l9 1l10-3l9-3l10 1l9-2l10 4l9 0l10 0l9-2l10 1l9-3l10 2l9-8l10 8l9 1l10-7l9-6l10 8l9 4l10-10l9 8l10-5l9 0l9 3l10-10l9 2l10 1l9-3l10 6l9-5l10-4l9-2l10 10l9-10l10 5l9 4l10-13l9-2l10 9l9-9l10 3l9-4l10-5l9 3l10 4l9 5l10-2l9-2l9 1l10-5l9-1l10-6l9 3l10 10l9-16l10 10l9 1l10 6l9-9l10-10l9 9l10-3l9 0l10-4l9 7l10 0l9-8l10-2l9 6l10-6l9-4l10 2l9 2l9-12l10 1l9 3l10 2l9 4l10-5l9-3l10 3l9-10l10 9l9-13l10 8l9 1l10-3l9-5l10-3l9 9l10-8l9 4l10 4l9-2l10-11l9 11l10-3l9-4l9-7l10 16l9-11l10 0l9 7l10-6l9-1l10-5l9 3l10 0l9-4l10-5l9 9l10-7l9 0l10-3l9-5l10 5l9 2l10-7l9 3l10-15l9 0l10 9l9-7l9 6l10-8l9-1l10-12l9 5l10-1l9-5l10 5l9-6l10 5l9-2l10-12l9 20l10-16l9 5l10-9l9 7l10-5l9 6l10-11l9 7l10 3l9 7l10-7l9-11l9 8l10-1l9-6l10 0l9-3l10 1l9-10l10 12l9-3l10-4l9-5l10-6l9 5l10-6l9 0l10-13l9 13l10-11l9 4l10-4l9-5l10-5l9 6l10-5l9 1l9 5l10-25l9 6l10-1l9 1l10-6l9-5l10-6l9 2l10-1l9 3l10-4l9-4l10 7l9-8l10-3l9-8l10 13l9-2l10-11l9 14l10-21l9 8l10-4l9 1l9 10l10-11l9 6l10-4l9-2l10-2l9-4l10 2l9-7l10 2l9 2l10-7l9 1l10-8l9 2l10-3l9-10l10 9l9-14l10 0l9-10l10-4l9 2l10-12l9-10l9 3l10-10l9-13l10 13l9-13l10-15l9 3l10-5l9 0l10 3l9-18l10-2l9-5l10 1l9 7l10 3l9-9l10-5l9 5l10 0l9-4l10 11l9 0l10-4l9 7l9 3l10 1l9-3l10 9l9 1l10 0l9 8l10 3l9 0l10 5l9 9l10 4l9-2l10 12l9 3l10 6l9 8l10 0l9 9l10 11l9-10l10 12l9 1l10 1l9 4l9 2l10-3l9-6l10-12l9-3l10-14l9-1l10-21l9-23l10-16l9-32l10-22l9-29l10-29l9-38l10-30l9-49l10-37l9-38l10-39l9-48l10-37l9-49l10-38l9-32l9-37l10-41l9-24l10-27l9-13l10-22l9-1l10-14l9-1l10 13l9 15l10 32l9 38l10 45l9 53l10 62l9 64l10 75l9 73l10 62l9 83l10 65l9 63l10 53l9 57l9 42l10 62l9 42l10 36l9 38l10 18l9 32l10 19l9 12l10 16l9 6l10 6l9 6l10 7l9 6l10-3l9 4l10 0l9-3l10-16l9 6l10-18l9-3l10-8l9-12l9-19l10 0l9-24l10-14l9-17l10-18l9-29l10-28l9-34l10-37l9-35l10-38l9-52l10-39l9-55l10-55l9-65l10-66l9-68l10-78l9-80l10-81l9-98l10-89l9-100l9-111l10-104l9-117l10-129l9-114l10-119l9-129l10-137l9-129l10-129l9-141l10-124l9-146l10-133l9-131l10-114l9-132l10-124l9-107l10-105l9-107l10-81l9-90l10-78l9-63l9-59l10-50l9-36l10-21l9-9l10-1l9 8l10 24l9 40l10 38l9 79l10 79l9 87l10 110l9 109l10 115l9 135l10 128l9 148l10 142l9 144l10 153l9 156l10 153l9 149l9 155l10 151l9 135l10 139l9 139l10 132l9 129l10 116l9 112l10 103l9 98l10 96l9 86l10 87l9 69l10 64l9 70l10 62l9 41l10 43l9 46l10 43l9 29l10 42l9 17l9 27l10 13l9 27l10 3l9 12l10 14l9 14l10 16l9 6l10 1l9 7l10 9l9 1l10 5l9-3l10 3l9-6l10 3l9 3l10-8l9 14l10-7l9-6l10-9l9-10l9-1l10-4l9-6l10 0l9-14l10-17l9-9l10-8l9-17l10-13l9-12l10-26l9-19l10-20l9-29l10-25l9-31l10-30l9-33l10-33l9-34l10-41l9-41l10-47l9-40l9-42l10-54l9-44l10-53l9-56l10-45l9-42l10-52l9-57l10-40l9-53l10-50l9-42l10-42l9-44l10-36l9-34l10-36l9-23l10-25l9-26l10-13l9-8l10-5l9-3l9 4l10 17l9 14l10 14l9 36l10 22l9 42l10 45l9 48l10 47l9 49l10 56l9 53l10 61l9 64l10 53l9 58l10 61l9 59l10 54l9 47l10 57l9 36l10 49l9 53l9 35l10 31l9 37l10 23l9 20l10 22l9 24l10 5l9 8l10 12l9-4l10 3l9-3l10-21l9-13l10-8l9-13l10-39l9-19l10-33" stroke="none" fill="none" marker-start="url(#m93)" marker-mid="url(#m93)" marker-end="url(#m93)"/><path d="M1797 13942l9-8l10-2l9 3l10-3l9 2l10-3l9 6l10 0l9 6l10-7l9 0l10 3l9-9l10 5l9-14l10 10l9 6l10-4l9-3l10-2l9-2l10 8l9-7l10 4l9-4l9 4l10-1l9-2l10 4l9-3l10-3l9 9l10-6l9 0l10-7l9 3l10 0l9 3l10-6l9 3l10-6l9 5l10-2l9-3l10 0l9 8l10-8l9 1l10 7l9-3l9-9l10 2l9 3l10-6l9 11l10-14l9 8l10-9l9 8l10 0l9-4l10 2l9-6l10 1l9 4l10-1l9-1l10-8l9 7l10-5l9 4l10 2l9 3l10-9l9-1l9 0l10-5l9 2l10-6l9 5l10 5l9-9l10 9l9-5l10 4l9-10l10-3l9 12l10-3l9-2l10 5l9-8l10 0l9 4l10 4l9-4l10-8l9 7l10-7l9-2l9-2l10 3l9-2l10-6l9 8l10-3l9-6l10 10l9-8l10 13l9-5l10-1l9-6l10-2l9 9l10-18l9-2l10 2l9 6l10-4l9 4l10-2l9 0l10-5l9 2l9-1l10-11l9 8l10-5l9 0l10 2l9-1l10-7l9 6l10-6l9 3l10-1l9-9l10 13l9-5l10-1l9-5l10 4l9-5l10-3l9-6l10 3l9 10l10-14l9 6l9 4l10-6l9 4l10-3l9 1l10-2l9 7l10-17l9 4l10-4l9 1l10 1l9-8l10-1l9 6l10-6l9 3l10 0l9-6l10 0l9 0l10 6l9-6l10-6l9-4l9-1l10 3l9-5l10 5l9-8l10-8l9 8l10 2l9-11l10 4l9-2l10-3l9 2l10-6l9 5l10-1l9-5l10-2l9 0l10-3l9 2l10 1l9-5l10 7l9-8l9-5l10 1l9-4l10 5l9-1l10-1l9-1l10-5l9-4l10 2l9-8l10 3l9 9l10-14l9 3l10-4l9 1l10-3l9-13l10 2l9 4l10-1l9-4l10-1l9-8l9-4l10 9l9-11l10 0l9-2l10-6l9 4l10-2l9-5l10 0l9-3l10-7l9 7l10-13l9-2l10 5l9-6l10 6l9-5l10-1l9 1l10-10l9 2l10-4l9 9l9-8l10 0l9 3l10-13l9 3l10-3l9-7l10 7l9-11l10 12l9-16l10 0l9 6l10-2l9-19l10 10l9-11l10 1l9-2l10-3l9 1l10-4l9-5l10-12l9 8l9-8l10-11l9-2l10-3l9-2l10-2l9-8l10-3l9-6l10-1l9-1l10-14l9 13l10-14l9 5l10 0l9 3l10-1l9-2l10 8l9-13l10 4l9 2l10 1l9-4l9 6l10-2l9 7l10-8l9 12l10 4l9 1l10-4l9 0l10 9l9-4l10 17l9 3l10 3l9-3l10 14l9 0l10 10l9-2l10 8l9-13l10 13l9 8l10-4l9 5l9 2l10-6l9 6l10-17l9-4l10 3l9-13l10-3l9-24l10-14l9-17l10-16l9-23l10-21l9-28l10-26l9-29l10-31l9-24l10-41l9-41l10-37l9-26l10-38l9-39l9-20l10-40l9-21l10-36l9-22l10-22l9-18l10-25l9 9l10-12l9-10l10 1l9 13l10 13l9 29l10 35l9 38l10 58l9 50l10 56l9 68l10 55l9 73l10 66l9 59l9 53l10 52l9 57l10 46l9 43l10 35l9 41l10 26l9 28l10 16l9 16l10 28l9 1l10 10l9 2l10 11l9-1l10 6l9-10l10-9l9 4l10-11l9-7l10 0l9-12l9-11l10-17l9-8l10-23l9-12l10-28l9-20l10-19l9-35l10-35l9-32l10-41l9-50l10-30l9-52l10-54l9-61l10-61l9-68l10-69l9-78l10-93l9-89l10-79l9-98l9-93l10-110l9-115l10-112l9-114l10-130l9-128l10-114l9-125l10-139l9-134l10-125l9-136l10-137l9-127l10-122l9-133l10-113l9-127l10-104l9-97l10-103l9-99l10-88l9-68l9-63l10-68l9-30l10-47l9-14l10-15l9-7l10 1l9 25l10 37l9 46l10 66l9 63l10 91l9 93l10 112l9 108l10 126l9 120l10 144l9 128l10 140l9 147l10 143l9 146l9 155l10 146l9 143l10 138l9 138l10 133l9 121l10 131l9 120l10 105l9 118l10 97l9 93l10 89l9 92l10 79l9 72l10 65l9 53l10 63l9 50l10 52l9 42l10 35l9 37l9 34l10 24l9 33l10 23l9 20l10 20l9 10l10 25l9 5l10 21l9 10l10 2l9 7l10 9l9 14l10-9l9 5l10 12l9-7l10 10l9-3l10 3l9-1l10 0l9-9l9-9l10-1l9-11l10-9l9-12l10-8l9-7l10-14l9-13l10-13l9-16l10-32l9-10l10-29l9-28l10-21l9-25l10-35l9-37l10-23l9-36l10-40l9-45l10-42l9-37l9-47l10-49l9-37l10-52l9-51l10-49l9-49l10-39l9-54l10-45l9-50l10-45l9-41l10-43l9-47l10-35l9-29l10-27l9-35l10-12l9-14l10-22l9-8l10-1l9-8l9-1l10 9l9 10l10 19l9 26l10 38l9 27l10 36l9 51l10 47l9 47l10 51l9 57l10 54l9 62l10 61l9 51l10 55l9 54l10 55l9 53l10 45l9 46l10 48l9 42l9 36l10 38l9 28l10 33l9 31l10 4l9 24l10 11l9 15l10 5l9 2l10-2l9-4l10-6l9-19l10-13l9-27l10-10l9-26l10-29" stroke="none" fill="none" marker-start="url(#m94)" marker-mid="url(#m94)" marker-end="url(#m94)"/><path d="M1797 13945l9-5l10 4l9-6l10-3l9 0l10-5l9 3l10-3l9 1l10 12l9-11l10 7l9-9l10-3l9-1l10 4l9 1l10 6l9-10l10 2l9 2l10 4l9 0l10-4l9-6l9 3l10 3l9-7l10-2l9 3l10 2l9-3l10 2l9-4l10 7l9-10l10 4l9-10l10 19l9-6l10 2l9-7l10-2l9 4l10-4l9 0l10 4l9-4l10 4l9-3l9 0l10 0l9 1l10-6l9 1l10-9l9 17l10-10l9-1l10-2l9 0l10-9l9 13l10 3l9-10l10 5l9-4l10 1l9-11l10 13l9-12l10 5l9 0l10 0l9 4l9-5l10-1l9 2l10 3l9-4l10-2l9 0l10 4l9-7l10-5l9 5l10-8l9 5l10 2l9 2l10 0l9-2l10-3l9 3l10-4l9-10l10 15l9-10l10 0l9-2l9 0l10 1l9 0l10-1l9 2l10-1l9-4l10-1l9-1l10 3l9 1l10-15l9 6l10-2l9 2l10-3l9-2l10-3l9 6l10-4l9-2l10 10l9-8l10-2l9 4l9-2l10-8l9 2l10 1l9 1l10-4l9-14l10 13l9 4l10 1l9-12l10 1l9 5l10-11l9 0l10 8l9-1l10-6l9 1l10-4l9-3l10 6l9-5l10 6l9-10l9-2l10 15l9-8l10-8l9 8l10-8l9-4l10 1l9-4l10 2l9-6l10 5l9 0l10 0l9 3l10-8l9-2l10-1l9 3l10-4l9-7l10 2l9-6l10 2l9 2l9-12l10 12l9 2l10-6l9-5l10-4l9 1l10 2l9-10l10 3l9 0l10 1l9-11l10 1l9 7l10-10l9 3l10 0l9-7l10 6l9-5l10-6l9 3l10 5l9-5l9-5l10 2l9-5l10-4l9 4l10 1l9-9l10-7l9 6l10-4l9-2l10-1l9 5l10-9l9-3l10 4l9-7l10 4l9-1l10-3l9-10l10-1l9 1l10-8l9 8l9-9l10 4l9 5l10-15l9 1l10 5l9-7l10-5l9 1l10-7l9 8l10-18l9 8l10 0l9-3l10-2l9 2l10-4l9-8l10-5l9 6l10-9l9 1l10-13l9 4l9-3l10 0l9-3l10 0l9 0l10-13l9-1l10-1l9 7l10-7l9-6l10 0l9 6l10-10l9 3l10-4l9-9l10 13l9-21l10 7l9-5l10-5l9-2l10-3l9-1l9-7l10 2l9-8l10-4l9-2l10-10l9 3l10-2l9-14l10 0l9 2l10 2l9-10l10 5l9 1l10-1l9-4l10 2l9 4l10 7l9-12l10 3l9-3l10 3l9-3l9 2l10 3l9 1l10 9l9-1l10-14l9 14l10 1l9-10l10 10l9 12l10 5l9-1l10-3l9-2l10 4l9 7l10-2l9 12l10-2l9-4l10-5l9 17l10 3l9-5l9 0l10-3l9-1l10-7l9-5l10 1l9 1l10-11l9-11l10-8l9-18l10-12l9-13l10-16l9-22l10-13l9-19l10-26l9-21l10-28l9-17l10-37l9-25l10-34l9-28l9-26l10-18l9-34l10-26l9-18l10-29l9-15l10-16l9-24l10-10l9-22l10 0l9-2l10-5l9 1l10 9l9 19l10 22l9 20l10 46l9 31l10 56l9 42l10 55l9 46l9 59l10 52l9 53l10 46l9 44l10 42l9 44l10 35l9 32l10 37l9 14l10 27l9 12l10 17l9 11l10 6l9 11l10-2l9-5l10-1l9-3l10-1l9-3l10-14l9-1l9-14l10-11l9-13l10-11l9-23l10-27l9-15l10-22l9-29l10-27l9-34l10-32l9-45l10-37l9-46l10-49l9-46l10-71l9-63l10-56l9-85l10-64l9-78l10-88l9-89l9-90l10-101l9-95l10-113l9-102l10-108l9-122l10-114l9-134l10-129l9-118l10-132l9-127l10-129l9-129l10-130l9-118l10-130l9-124l10-99l9-113l10-101l9-89l10-93l9-99l9-68l10-74l9-52l10-52l9-42l10-23l9-29l10-10l9 8l10 12l9 32l10 26l9 60l10 57l9 74l10 82l9 84l10 102l9 103l10 118l9 115l10 134l9 128l10 143l9 114l9 135l10 145l9 132l10 129l9 135l10 119l9 124l10 129l9 118l10 117l9 114l10 106l9 97l10 93l9 86l10 96l9 77l10 71l9 74l10 72l9 64l10 75l9 48l10 50l9 50l9 43l10 41l9 41l10 44l9 32l10 33l9 21l10 31l9 22l10 30l9 28l10 18l9 24l10 20l9 18l10 5l9 20l10 17l9 10l10 8l9 7l10 5l9 5l10-4l9 5l9-11l10 8l9 3l10-15l9-14l10-8l9-12l10-13l9-18l10-6l9-24l10-16l9-19l10-31l9-24l10-13l9-38l10-29l9-22l10-36l9-37l10-37l9-43l10-41l9-30l9-36l10-51l9-49l10-44l9-50l10-45l9-45l10-35l9-56l10-34l9-54l10-39l9-38l10-40l9-35l10-31l9-27l10-39l9-24l10-23l9-16l10-21l9-5l10-5l9-14l9 7l10 8l9 11l10 9l9 27l10 32l9 34l10 36l9 37l10 49l9 42l10 49l9 54l10 49l9 55l10 50l9 47l10 52l9 64l10 47l9 46l10 52l9 50l10 40l9 42l9 39l10 30l9 33l10 32l9 15l10 29l9 10l10 24l9 8l10 11l9 3l10 4l9-2l10-8l9-17l10-13l9-15l10-9l9-33l10-19" stroke="none" fill="none" marker-start="url(#m95)" marker-mid="url(#m95)" marker-end="url(#m95)"/><path d="M1797 13940l9-3l10-1l9-1l10 9l9-3l10-9l9 0l10 6l9-4l10-4l9 3l10 1l9 6l10-3l9-7l10 1l9-2l10 6l9 6l10-8l9-1l10-1l9-8l10 0l9 4l9 1l10-2l9 2l10-6l9 11l10-10l9 1l10 2l9 6l10-9l9 6l10 0l9-5l10 0l9-2l10 3l9-3l10-8l9 7l10 3l9-1l10-1l9-9l10 3l9-4l9 4l10-6l9 14l10-1l9-8l10-2l9 6l10-3l9-1l10-5l9 6l10 1l9-3l10 0l9-4l10 0l9-4l10 5l9-1l10 1l9-13l10 12l9-7l10 0l9 6l9-8l10 1l9 4l10 3l9-6l10 0l9 2l10-1l9-7l10 5l9 1l10-6l9-6l10 10l9 0l10-12l9 14l10-8l9-8l10 6l9 1l10-3l9-4l10 6l9-4l9 1l10-4l9 0l10 3l9-3l10-2l9-5l10 4l9 3l10-5l9-9l10 2l9-1l10 11l9-15l10 6l9 0l10 0l9-3l10 10l9-14l10 10l9-14l10 5l9 3l9 1l10-4l9-9l10 6l9-2l10 3l9-11l10 7l9 1l10-5l9 3l10-3l9 5l10-1l9-10l10 5l9-7l10-1l9-2l10-1l9-3l10 5l9-1l10-7l9 9l9-2l10 0l9-3l10-10l9-1l10 6l9 3l10-4l9-5l10-7l9 6l10-6l9 0l10 8l9-12l10-2l9 2l10 1l9-7l10 2l9 0l10-2l9-6l10 9l9-4l9 0l10-5l9-1l10 1l9-4l10 0l9-7l10-1l9 4l10-2l9 0l10 1l9-7l10-4l9 11l10-5l9-10l10-3l9 8l10 0l9-1l10-12l9 2l10 0l9 2l9-9l10 4l9-10l10 5l9-6l10 0l9 0l10 0l9-10l10 0l9 8l10-13l9 11l10-10l9-2l10 1l9 2l10-2l9-10l10 6l9-6l10-2l9 1l10 0l9-1l9-5l10-9l9 3l10-1l9-11l10 0l9 0l10 0l9-3l10-4l9 1l10-5l9 1l10-6l9 8l10-3l9-13l10-2l9 7l10-1l9-11l10 3l9-4l10-8l9 1l9 0l10-8l9 11l10-7l9-18l10 7l9-6l10 8l9-15l10 12l9-11l10-1l9 3l10-9l9 13l10-19l9 1l10 0l9 1l10-3l9-4l10-3l9-7l10 3l9-6l9 1l10-19l9 3l10 10l9-17l10-12l9 7l10-4l9-3l10-9l9-3l10 6l9 8l10-10l9 6l10-2l9-11l10 4l9 0l10-4l9-2l10 7l9-11l10 10l9-7l9 3l10 0l9 0l10-6l9 1l10 4l9-4l10 11l9-7l10 9l9 7l10-4l9-9l10 5l9 1l10 6l9 1l10 3l9-3l10 1l9 2l10 1l9 2l10-1l9-2l9 6l10-6l9-4l10 8l9-5l10-5l9-1l10-8l9-6l10-16l9-3l10-15l9-3l10-13l9-12l10-14l9-27l10-11l9-12l10-9l9-26l10-26l9-18l10-19l9-27l9-19l10-18l9-26l10-24l9-21l10-17l9-18l10-21l9-20l10-15l9-18l10-6l9-12l10-8l9-9l10 1l9-12l10 7l9-1l10 12l9 30l10 17l9 27l10 36l9 33l9 45l10 33l9 45l10 44l9 52l10 26l9 48l10 24l9 36l10 41l9 29l10 17l9 18l10 23l9 15l10 13l9 3l10 12l9 12l10-9l9 2l10 2l9-3l10-14l9-4l9-6l10-17l9-7l10-15l9-10l10-25l9-34l10-4l9-26l10-37l9-22l10-39l9-38l10-28l9-40l10-51l9-45l10-56l9-48l10-64l9-60l10-67l9-73l10-77l9-93l9-83l10-86l9-91l10-95l9-104l10-96l9-99l10-119l9-110l10-128l9-123l10-122l9-126l10-133l9-126l10-123l9-116l10-120l9-121l10-118l9-110l10-102l9-98l10-103l9-89l9-80l10-75l9-71l10-69l9-54l10-39l9-39l10-34l9-5l10-10l9 4l10 13l9 35l10 28l9 57l10 48l9 71l10 77l9 78l10 96l9 103l10 97l9 115l10 112l9 113l9 131l10 111l9 121l10 115l9 139l10 108l9 113l10 125l9 116l10 114l9 115l10 92l9 114l10 101l9 86l10 93l9 91l10 87l9 91l10 75l9 77l10 75l9 65l10 73l9 60l9 54l10 63l9 54l10 48l9 58l10 40l9 41l10 45l9 46l10 33l9 44l10 32l9 42l10 33l9 19l10 36l9 29l10 31l9 21l10 11l9 19l10 14l9 18l10-4l9 6l9 0l10 5l9-7l10 0l9-2l10-5l9-21l10-6l9-14l10-8l9-32l10-9l9-15l10-25l9-27l10-33l9-24l10-29l9-25l10-38l9-30l10-40l9-29l10-39l9-38l9-40l10-40l9-47l10-37l9-38l10-47l9-41l10-38l9-50l10-40l9-40l10-45l9-24l10-45l9-32l10-27l9-40l10-17l9-32l10-24l9-15l10-15l9-19l10-10l9 3l9-9l10 9l9 17l10 6l9 25l10 26l9 26l10 33l9 42l10 39l9 38l10 45l9 43l10 57l9 48l10 55l9 38l10 57l9 48l10 44l9 49l10 51l9 42l10 35l9 44l9 41l10 33l9 27l10 39l9 21l10 17l9 20l10 25l9 8l10 8l9 6l10 5l9 1l10-4l9-8l10-9l9-19l10-8l9-18l10-18" stroke="none" fill="none" marker-start="url(#m96)" marker-mid="url(#m96)" marker-end="url(#m96)"/><path d="M1797 13938l9-6l10 6l9-7l10 1l9 5l10-6l9 5l10-5l9 7l10-6l9-5l10 8l9 6l10-5l9-6l10 2l9 6l10-5l9 0l10 6l9-7l10-2l9 1l10 0l9-8l9 11l10-4l9-7l10 3l9 7l10-9l9 12l10-8l9-5l10 7l9-9l10 2l9 0l10-11l9 7l10 2l9 8l10-1l9-6l10-2l9-3l10 6l9-2l10-5l9 8l9-6l10-5l9 5l10-3l9 0l10-2l9 0l10 2l9 0l10-1l9-4l10 6l9-10l10 16l9-14l10-6l9 7l10-3l9 0l10-10l9 7l10-3l9 8l10-3l9 1l9-1l10 1l9-4l10 4l9-8l10 2l9-3l10 6l9-6l10-9l9 6l10 0l9-1l10-3l9-1l10 8l9-2l10-3l9-6l10 2l9 5l10-5l9-1l10 4l9 0l9 4l10-2l9-3l10-12l9 6l10-4l9 2l10 1l9-8l10 7l9-5l10 1l9 4l10-2l9-5l10 3l9-8l10 6l9-5l10 2l9 0l10-4l9 3l10 0l9-1l9-4l10-1l9-5l10 3l9-3l10-2l9 4l10-6l9 6l10 4l9 4l10-13l9-6l10 5l9 17l10-26l9-1l10 8l9-6l10-5l9 7l10-1l9-5l10-3l9 2l9-3l10-1l9-1l10-1l9 5l10 3l9-8l10 1l9 4l10-16l9 8l10-8l9 6l10-6l9-1l10-2l9 1l10-1l9-2l10-13l9 5l10 7l9-3l10 3l9-14l9 2l10 3l9 3l10-2l9-4l10-1l9-2l10-2l9 3l10-7l9 0l10-5l9 7l10-10l9-3l10 2l9 3l10-1l9-5l10-3l9-2l10 0l9 6l10-8l9-2l9 0l10-5l9-5l10 8l9-9l10 4l9-1l10-4l9-11l10 4l9 1l10-7l9 2l10-3l9 5l10-2l9 0l10-12l9 8l10-14l9 10l10-8l9-2l10 4l9 1l9-8l10-11l9-1l10 9l9-8l10 0l9-8l10 1l9 3l10-16l9 5l10 4l9-10l10-1l9-4l10 8l9-8l10 2l9-5l10-2l9-5l10 4l9-11l10 4l9-6l9 0l10-4l9-5l10 3l9-8l10 3l9-6l10 0l9 0l10 4l9-9l10-3l9-3l10-10l9 7l10-10l9-11l10 13l9-9l10-4l9 1l10-4l9-5l10-10l9 10l9-8l10-2l9-11l10-1l9-5l10 3l9-2l10-2l9-1l10-1l9-7l10-4l9 0l10 6l9-11l10-11l9 11l10 3l9-12l10 9l9-6l10-2l9 3l10 0l9-6l9 5l10-8l9-1l10 6l9-9l10 8l9-7l10 4l9 2l10-3l9-3l10-3l9 1l10 6l9-3l10 12l9-15l10 4l9 1l10 1l9 7l10-9l9 0l10 1l9-5l9 4l10 1l9-9l10 4l9 1l10 3l9-11l10-4l9-2l10-12l9 3l10-13l9-8l10-13l9-5l10-9l9-16l10-14l9-8l10-8l9-20l10-8l9-26l10-12l9-12l9-29l10-3l9-29l10-12l9-17l10-13l9-16l10-26l9-11l10-25l9-10l10-16l9-19l10 3l9-18l10-7l9-12l10-3l9-3l10-2l9-3l10 9l9 0l10 28l9 4l9 21l10 26l9 29l10 24l9 32l10 31l9 37l10 27l9 33l10 30l9 21l10 35l9 18l10 25l9 20l10 1l9 15l10 11l9 14l10 0l9-1l10 11l9-14l10-3l9-12l9 3l10-22l9-4l10-15l9-18l10-23l9-14l10-24l9-15l10-27l9-28l10-19l9-37l10-33l9-38l10-43l9-38l10-44l9-50l10-55l9-52l10-68l9-63l10-68l9-84l9-70l10-81l9-81l10-96l9-88l10-87l9-93l10-108l9-111l10-115l9-120l10-114l9-130l10-118l9-121l10-119l9-113l10-124l9-117l10-101l9-114l10-120l9-92l10-110l9-96l9-95l10-75l9-77l10-72l9-65l10-56l9-53l10-46l9-34l10-29l9-15l10-2l9 13l10 5l9 30l10 43l9 39l10 53l9 58l10 69l9 73l10 95l9 87l10 100l9 97l9 106l10 99l9 103l10 110l9 101l10 114l9 105l10 114l9 106l10 99l9 116l10 96l9 111l10 93l9 95l10 92l9 102l10 97l9 94l10 88l9 84l10 85l9 77l10 90l9 78l9 66l10 73l9 74l10 65l9 62l10 66l9 62l10 55l9 54l10 63l9 53l10 49l9 61l10 42l9 40l10 51l9 36l10 34l9 44l10 39l9 10l10 26l9 16l10 17l9 15l9 5l10 2l9-9l10 0l9 3l10-7l9-9l10-12l9-10l10-5l9-27l10-8l9-24l10-17l9-29l10-29l9-23l10-31l9-29l10-26l9-31l10-42l9-32l10-38l9-38l9-31l10-36l9-42l10-36l9-38l10-39l9-42l10-39l9-42l10-38l9-40l10-31l9-34l10-34l9-31l10-31l9-25l10-30l9-19l10-32l9-16l10-17l9-5l10-11l9-7l9 4l10-10l9 11l10 16l9 13l10 35l9 24l10 22l9 35l10 41l9 38l10 43l9 46l10 46l9 48l10 43l9 47l10 42l9 56l10 37l9 45l10 44l9 40l10 32l9 37l9 54l10 21l9 43l10 27l9 26l10 25l9 10l10 15l9 28l10 1l9 9l10 10l9 2l10-1l9-2l10-2l9-11l10-11l9-12l10-8" stroke="none" fill="none" marker-start="url(#m97)" marker-mid="url(#m97)" marker-end="url(#m97)"/><path d="M1797 13933l9 9l10-3l9 2l10 2l9-9l10 4l9-9l10 6l9-5l10 7l9-1l10-5l9 4l10 1l9-4l10-5l9 3l10-1l9-8l10 6l9 5l10-3l9 5l10-4l9-8l9 4l10 7l9-2l10 2l9-16l10 11l9 3l10-12l9 6l10 4l9-1l10 1l9-5l10 0l9-3l10 5l9-2l10-4l9-5l10-3l9 3l10 10l9-5l10-4l9 6l9 1l10 1l9-7l10 2l9-2l10 3l9-7l10 4l9 2l10-1l9 0l10-8l9-2l10 6l9 0l10-13l9 5l10-4l9 4l10 1l9-1l10-6l9-4l10 7l9 1l9-4l10 0l9 3l10 2l9-1l10-10l9 8l10-1l9-1l10 3l9-8l10 2l9-3l10-4l9 6l10-2l9 3l10-8l9 1l10-3l9-3l10 12l9-13l10 11l9-1l9 3l10-16l9 8l10-5l9 5l10-11l9 12l10-6l9 4l10-5l9-8l10 4l9-1l10-2l9 4l10 3l9-2l10-3l9-8l10 4l9 1l10-3l9 2l10-7l9-1l9 6l10-11l9 11l10-8l9 2l10-5l9-2l10 3l9-2l10 6l9 0l10-8l9-2l10 3l9-6l10-3l9 11l10-10l9-8l10 7l9-1l10-1l9-3l10 11l9-13l9 2l10-5l9 4l10-3l9-3l10-4l9 3l10-3l9 5l10-5l9-4l10-7l9 10l10-5l9 1l10-6l9 5l10-8l9 7l10-13l9 5l10 0l9-2l10-2l9-2l9-4l10 3l9 1l10 2l9-5l10 1l9-10l10 7l9-4l10-4l9-7l10 12l9-8l10-6l9 10l10-12l9 11l10-10l9 2l10-4l9-5l10-6l9 8l10-12l9-1l9 11l10-8l9-3l10-6l9 2l10 3l9-1l10-7l9 4l10-6l9 0l10 2l9-16l10 8l9-10l10 2l9-1l10 5l9-2l10-5l9-1l10 3l9-17l10-2l9 5l9 0l10 0l9 1l10-8l9 0l10-5l9-3l10-7l9 7l10-3l9 0l10-5l9 4l10-14l9 3l10 5l9-8l10-7l9 0l10 3l9-7l10-1l9 1l10-6l9 4l9-6l10 2l9-12l10-3l9 4l10-5l9-8l10 10l9-8l10-6l9-2l10 2l9 4l10-8l9-10l10 4l9-6l10-1l9-7l10 4l9-7l10-3l9 3l10-9l9-5l9-1l10 2l9-4l10 0l9-4l10 1l9-13l10-1l9-3l10-14l9 8l10-5l9 6l10-6l9-1l10-6l9 4l10-4l9-2l10-5l9 4l10-8l9-3l10 0l9-6l9 3l10-2l9-2l10-5l9 1l10 0l9-4l10 5l9-8l10 7l9-12l10 8l9-3l10-1l9-4l10 9l9-7l10-5l9 0l10 6l9-11l10-4l9 11l10-3l9 2l9-4l10-3l9-12l10 13l9-16l10 5l9-2l10-3l9-8l10 0l9-6l10-5l9-7l10-7l9-5l10-5l9-15l10-6l9-9l10-2l9-18l10-9l9-11l10-15l9-11l9-9l10-17l9-24l10-10l9-12l10-18l9-7l10-29l9-14l10-9l9-16l10-10l9-14l10-14l9-10l10-16l9-3l10-17l9-2l10-12l9-11l10-8l9 10l10-11l9-2l9 11l10 3l9 21l10 11l9 7l10 26l9 19l10 26l9 21l10 17l9 25l10 14l9 29l10 19l9 10l10 23l9 3l10 7l9 6l10 19l9 0l10-4l9 4l10-7l9 4l9-14l10-12l9-6l10-17l9-13l10-14l9-15l10-22l9-23l10-20l9-27l10-25l9-20l10-34l9-36l10-32l9-33l10-37l9-51l10-50l9-57l10-52l9-60l10-64l9-71l9-69l10-78l9-65l10-81l9-73l10-85l9-78l10-101l9-105l10-104l9-119l10-117l9-117l10-114l9-112l10-122l9-112l10-114l9-111l10-113l9-105l10-106l9-111l10-103l9-100l9-94l10-84l9-85l10-82l9-86l10-65l9-57l10-65l9-47l10-33l9-35l10-21l9-13l10-5l9 3l10 19l9 33l10 27l9 32l10 47l9 72l10 55l9 83l10 65l9 87l9 78l10 89l9 95l10 91l9 94l10 97l9 102l10 88l9 93l10 99l9 94l10 102l9 91l10 98l9 102l10 103l9 103l10 88l9 100l10 103l9 89l10 93l9 85l10 95l9 95l9 85l10 94l9 79l10 81l9 84l10 67l9 83l10 67l9 86l10 62l9 73l10 78l9 62l10 64l9 59l10 64l9 61l10 57l9 46l10 48l9 31l10 38l9 16l10 28l9 9l9 7l10 10l9 5l10-4l9 11l10-9l9-11l10-1l9-4l10-17l9-22l10-18l9-18l10-25l9-20l10-24l9-28l10-14l9-47l10-19l9-40l10-23l9-39l10-31l9-35l9-34l10-34l9-42l10-34l9-40l10-23l9-35l10-47l9-40l10-24l9-34l10-34l9-34l10-36l9-25l10-31l9-19l10-25l9-34l10-22l9-15l10-21l9-12l10-13l9 0l9-5l10-5l9 18l10 10l9 18l10 15l9 32l10 30l9 29l10 78l9 54l10-67l9 127l10-168l9 234l10-82l9 62l10 11l9 71l10 118l9-184l10 169l9 112l10-120l9 117l9 66l10-61l9 61l10-16l9 62l10-57l9 60l10 63l9-17l10-64l9 66l10 49l9-53l10-33l9 5l10 103l9-23l10-64l9-92l10 29" stroke="none" fill="none" marker-start="url(#m98)" marker-mid="url(#m98)" marker-end="url(#m98)"/><path d="M1797 13929l9 0l10 3l9 2l10 2l9 2l10-4l9 5l10-9l9 11l10-13l9 6l10 2l9-4l10 0l9 0l10 5l9 6l10-16l9 3l10-3l9 13l10-9l9 2l10-5l9-4l9 9l10-7l9-1l10 11l9-9l10-1l9 1l10-4l9-3l10 1l9-2l10 1l9 4l10 1l9 2l10 3l9-6l10-4l9 1l10-1l9-4l10-1l9 5l10-1l9 5l9-11l10 4l9 10l10-11l9 0l10-4l9 2l10-2l9 3l10-6l9 8l10-5l9-2l10 2l9-6l10 2l9 0l10-1l9-1l10-1l9 5l10-4l9 0l10 0l9-2l9-1l10 5l9-5l10-6l9 1l10 10l9-6l10-4l9 6l10-7l9-6l10 4l9 5l10-6l9 8l10-7l9 7l10-7l9 5l10-5l9-2l10-7l9 2l10-7l9 2l9 4l10-3l9 6l10-5l9 2l10 1l9-9l10 6l9-5l10 2l9-6l10 1l9 8l10-9l9-10l10 7l9-3l10 2l9-5l10 8l9-1l10-1l9 3l10-3l9-10l9 7l10-1l9-9l10 2l9 4l10-1l9-2l10-3l9-5l10 2l9 5l10-5l9 4l10-4l9-10l10 11l9-4l10-7l9 2l10 1l9 1l10-1l9-8l10 3l9-3l9-3l10 8l9 0l10-10l9-4l10 3l9-4l10 8l9-6l10 0l9-1l10-6l9 12l10-10l9-8l10 5l9 2l10-8l9 6l10-10l9 5l10-10l9 3l10 5l9-6l9-1l10-4l9 7l10-11l9 6l10 2l9-8l10 1l9-5l10-7l9 5l10-9l9-3l10-1l9 6l10-6l9-2l10-1l9 4l10-7l9 0l10 1l9 4l10-8l9-1l9 6l10-2l9-12l10 5l9-6l10 3l9 2l10-4l9 5l10-13l9 6l10-16l9 10l10-6l9 4l10 0l9-8l10 1l9-15l10 9l9 7l10-12l9 2l10-3l9-1l9-1l10 1l9-10l10-1l9-2l10-1l9-10l10 8l9-3l10-12l9 4l10 1l9-1l10-3l9-3l10-3l9-9l10 10l9-9l10-4l9-3l10 2l9 0l10-7l9-4l9 1l10-1l9-10l10 4l9-3l10-8l9 3l10-3l9-1l10-10l9 4l10-9l9 0l10 1l9-7l10 4l9-13l10 9l9-8l10-5l9 0l10-7l9-4l10 9l9-7l9-6l10-2l9-1l10-6l9 3l10-5l9-10l10 1l9-8l10 13l9-8l10-2l9-9l10-8l9 10l10-8l9-8l10 8l9-17l10 12l9-3l10 1l9-12l10 7l9-10l9-2l10 1l9-3l10-3l9-5l10 2l9-1l10-1l9-12l10-3l9 1l10 7l9-8l10-4l9-4l10 2l9 1l10-14l9 7l10 1l9-7l10-5l9 5l10-6l9-1l9-1l10-1l9-6l10 12l9-15l10 2l9-4l10-10l9-1l10-4l9-5l10 3l9-6l10-19l9 5l10-9l9-11l10-4l9-8l10 0l9-12l10-15l9-9l10-14l9-9l9-7l10-14l9-9l10-18l9-7l10-18l9-13l10-17l9-4l10-17l9-7l10-23l9-8l10-11l9-10l10-14l9-13l10-11l9-18l10-3l9-10l10 0l9-13l10-18l9-5l9 11l10-19l9 7l10 6l9-4l10 6l9 8l10 10l9 6l10 19l9 9l10 4l9 23l10 19l9-2l10 15l9 15l10-5l9 9l10 9l9 1l10 9l9-9l10 6l9-9l9-19l10-3l9-2l10-16l9-20l10-11l9-17l10-17l9-14l10-32l9-8l10-29l9-19l10-31l9-28l10-29l9-34l10-38l9-29l10-54l9-53l10-53l9-51l10-47l9-63l9-71l10-67l9-60l10-66l9-70l10-71l9-71l10-86l9-95l10-110l9-107l10-117l9-122l10-107l9-105l10-115l9-99l10-116l9-104l10-112l9-109l10-96l9-112l10-100l9-100l9-92l10-100l9-89l10-87l9-82l10-74l9-85l10-60l9-64l10-44l9-40l10-46l9-29l10-13l9-11l10-2l9 14l10 9l9 29l10 19l9 52l10 40l9 58l10 54l9 63l9 68l10 65l9 74l10 69l9 79l10 85l9 79l10 82l9 82l10 85l9 94l10 87l9 90l10 90l9 101l10 97l9 94l10 99l9 105l10 101l9 97l10 106l9 92l10 116l9 94l9 96l10 104l9 98l10 94l9 90l10 89l9 96l10 88l9 88l10 92l9 88l10 88l9 84l10 87l9 76l10 75l9 65l10 81l9 67l10 51l9 47l10 40l9 27l10 38l9 24l9 17l10 1l9 11l10-1l9 12l10 2l9-11l10-2l9-1l10-21l9-22l10-10l9-13l10-23l9-22l10-18l9-27l10-24l9-30l10-28l9-32l10-33l9-32l10-31l9-30l9-37l10-34l9-47l10-17l9-37l10-36l9-35l10-22l9-41l10-27l9-41l10-20l9-28l10-32l9-40l10-24l9-27l10-19l9-28l10-16l9-23l10-22l9-14l10-5l9-3l9-5l10 7l9 7l10 6l9 11l10 17l9 21" stroke="none" fill="none" marker-start="url(#m99)" marker-mid="url(#m99)" marker-end="url(#m99)"/><path d="M1797 13929l9 12l10-13l9 10l10 3l9-5l10-8l9 6l10-7l9 3l10 2l9 4l10-7l9 3l10 3l9-3l10-3l9 1l10-4l9-5l10 7l9-1l10 0l9 0l10 2l9 2l9-1l10 2l9-8l10 9l9-6l10 3l9-1l10-6l9 1l10-3l9 7l10-2l9-3l10-3l9 0l10-4l9 11l10-5l9 2l10-11l9 13l10-3l9-9l10 8l9 4l9-15l10 2l9 6l10 1l9-4l10 2l9-1l10-6l9 6l10-3l9 1l10-7l9 4l10-6l9 9l10-3l9-2l10-2l9 2l10-12l9 11l10-2l9 4l10-5l9-11l9 7l10 5l9-9l10 5l9-4l10 6l9-3l10-9l9 5l10-1l9-2l10-2l9 6l10 1l9-5l10-5l9 5l10-7l9 11l10-5l9 1l10 4l9-19l10 9l9-10l9 6l10 6l9-11l10 2l9-6l10 4l9 4l10-4l9 2l10 3l9-4l10-6l9 8l10-10l9-2l10 4l9 2l10-6l9 5l10-7l9 0l10 2l9 1l10 1l9-4l9 3l10-5l9-3l10 2l9-5l10-3l9 9l10-6l9 2l10-2l9-2l10-7l9-2l10 7l9-3l10-1l9-1l10-9l9 2l10 11l9-11l10-2l9 7l10-13l9 2l9-5l10 12l9-6l10 1l9-1l10-1l9 1l10-7l9 6l10-12l9 0l10 11l9-7l10-6l9-11l10 11l9-9l10-4l9 7l10 5l9-2l10 1l9-9l10-2l9 3l9-11l10 8l9-5l10-5l9-1l10 0l9-1l10 0l9-6l10 0l9 7l10-8l9 1l10 0l9-9l10 4l9-2l10-5l9 8l10-4l9-2l10 1l9-7l10 4l9-7l9 0l10-2l9-3l10 2l9-6l10 3l9-4l10-1l9-5l10 1l9 3l10-14l9 1l10 3l9-4l10 5l9-9l10 4l9-7l10 0l9 3l10-8l9 0l10 0l9-3l9-6l10 0l9 1l10-2l9-3l10 4l9-5l10-4l9 4l10-18l9 6l10-8l9 5l10-4l9-1l10 4l9-4l10-10l9 2l10-5l9-2l10 4l9-3l10-3l9 1l9-5l10-7l9-7l10-4l9 1l10 3l9-1l10-14l9 4l10 2l9-2l10-17l9 4l10 0l9-3l10-1l9-7l10-2l9-6l10 11l9-13l10-1l9-6l10-1l9 8l9-12l10-9l9 0l10 4l9 1l10-16l9 2l10-5l9 3l10-11l9 2l10-2l9 1l10-9l9-3l10 2l9-4l10-8l9 5l10-10l9-5l10 1l9 3l10-8l9-8l9 2l10 3l9-12l10-1l9-7l10-3l9 0l10 1l9 5l10-3l9-11l10-1l9-5l10 1l9-3l10-11l9 0l10-2l9-10l10 7l9-8l10 3l9-5l10-5l9-2l9-1l10-5l9-9l10 4l9-2l10-15l9 8l10-8l9 0l10-6l9-13l10-4l9 0l10-13l9 3l10-13l9-3l10-10l9-2l10-9l9-5l10 2l9-28l10-2l9-8l9-9l10-8l9-11l10-14l9-16l10-9l9-12l10-15l9-6l10-20l9-6l10-17l9-7l10-20l9-3l10-25l9-2l10-12l9-10l10-10l9-14l10-5l9-20l10-4l9-1l9-17l10-9l9-6l10-3l9-6l10 7l9-7l10 3l9-3l10-7l9 1l10 2l9 12l10-1l9 7l10 0l9 4l10 6l9-7l10 7l9-1l10-4l9-2l10-1l9-14l9-11l10-11l9-7l10-21l9-4l10-15l9-8l10-35l9-15l10-20l9-8l10-30l9-12l10-34l9-18l10-25l9-31l10-31l9-44l10-39l9-33l10-57l9-35l10-70l9-45l9-59l10-60l9-70l10-50l9-52l10-62l9-64l10-87l9-87l10-102l9-107l10-116l9-105l10-104l9-97l10-114l9-97l10-106l9-101l10-105l9-102l10-95l9-102l10-107l9-94l9-108l10-92l9-95l10-87l9-87l10-79l9-85l10-77l9-67l10-55l9-50l10-45l9-42l10-31l9-27l10-14l9-2l10-1l9 2l10 14l9 28l10 40l9 39l10 29l9 50l9 56l10 51l9 54l10 56l9 65l10 56l9 73l10 71l9 63l10 79l9 71l10 82l9 77l10 81l9 95l10 91l9 105l10 96l9 113l10 91l9 106l10 110l9 99l10 113l9 108l9 117l10 101l9 98l10 113l9 115l10 98l9 107l10 108l9 105l10 101l9 116l10 91l9 102l10 99l9 91l10 89l9 103l10 82l9 79l10 70l9 60l10 44l9 39l10 37l9 25l9 38l10 7l9 10l10 4l9 7l10 5l9-3l10 4l9-7l10-10l9-19l10-19l9-21l10-9l9-26l10-28l9-17l10-29l9-26l10-18l9-30l10-32l9-27l10-35l9-31l9-40l10-23l9-29l10-34l9-32l10-22l9-37l10-30l9-36l10-33l9-24l10-25l9-36l10-21l9-29l10-29l9-27l10-19l9-22l10-21l9-21l10-21l9-25l10-2l9-2l9-5l10 3l9 11l10 4l9 13l10 20l9 25" stroke="none" fill="none" marker-start="url(#m99)" marker-mid="url(#m99)" marker-end="url(#m99)"/><path d="M1797 13931l9 10l10-4l9-5l10-4l9 1l10 10l9-3l10-7l9 8l10-5l9 3l10-5l9 8l10 0l9-2l10-13l9 0l10 0l9 10l10 2l9-6l10 2l9 3l10-7l9 6l9-9l10 3l9 2l10 4l9-6l10 0l9-4l10 2l9 0l10 6l9-4l10-3l9-2l10 2l9 5l10-2l9-3l10-5l9 3l10 3l9-5l10 0l9-7l10 6l9 1l9-2l10-3l9 9l10-6l9 2l10-2l9-2l10-8l9 2l10 1l9 6l10-7l9-1l10 8l9 0l10-13l9 0l10 4l9-5l10 0l9-7l10 22l9-14l10-4l9 3l9 3l10 2l9-12l10-3l9 16l10-4l9-8l10-2l9 6l10 3l9-12l10-1l9 13l10-9l9-3l10 2l9-7l10 4l9-1l10 0l9 6l10-16l9 12l10-4l9-6l9 2l10 3l9 8l10-10l9-6l10 5l9 5l10-12l9-5l10 4l9-1l10 11l9-6l10 7l9-15l10 1l9 13l10-15l9-2l10 7l9-4l10-8l9 12l10-9l9-4l9 3l10 1l9-3l10-2l9-3l10-4l9 12l10-7l9-1l10-8l9 11l10-14l9 10l10-1l9 2l10-7l9 1l10-4l9 0l10-5l9 0l10 12l9-17l10 4l9-1l9 1l10-7l9 4l10-8l9 9l10-13l9 0l10 10l9-10l10 4l9 2l10-4l9-4l10 2l9-6l10-5l9 10l10 2l9-10l10-2l9-1l10-4l9-1l10 10l9-10l9 2l10-4l9 4l10-9l9 1l10 1l9 2l10-15l9 2l10 0l9 4l10 0l9-12l10 7l9-7l10-7l9 15l10-3l9-9l10 7l9-7l10 0l9-8l10 8l9-8l9-3l10 6l9-2l10-10l9-1l10 8l9-2l10-15l9 5l10 2l9-5l10-1l9-4l10-7l9-1l10 8l9-3l10-2l9-11l10 1l9 11l10-9l9-1l10-9l9-2l9 5l10 0l9-7l10-3l9-1l10 4l9-6l10-6l9-1l10-3l9 4l10-4l9-4l10 11l9-14l10-6l9-1l10 1l9-3l10-6l9 1l10 4l9-11l10 7l9-6l9-15l10 5l9-5l10-1l9-3l10 0l9-5l10 0l9 2l10-8l9-2l10-6l9-3l10-4l9 7l10-8l9-9l10 7l9-2l10-4l9-2l10-2l9-13l10 6l9-5l9 2l10-17l9 11l10-2l9-13l10 4l9-6l10-10l9 9l10-15l9 6l10 6l9-15l10 0l9 0l10-19l9 9l10 3l9-11l10-8l9-2l10 1l9-2l10-4l9 0l9-10l10-3l9-8l10 7l9-15l10-1l9-2l10 1l9-8l10 1l9-9l10 1l9-1l10-6l9-1l10-11l9 0l10-1l9-18l10 6l9-9l10 4l9-9l10 0l9-9l9-3l10-13l9 16l10-15l9-11l10 10l9-16l10-1l9-7l10-1l9-5l10 0l9-12l10-6l9-4l10-16l9-1l10-11l9-3l10-1l9-12l10-8l9-7l10-15l9-8l9-6l10-14l9-5l10-12l9-19l10-11l9-11l10-16l9-5l10-12l9-15l10-15l9-15l10-7l9-12l10-18l9-10l10-11l9-8l10-14l9-13l10-12l9-10l10-15l9-6l9-8l10-9l9-12l10-9l9-8l10-8l9-3l10-14l9 4l10-1l9-17l10-5l9 2l10-6l9-10l10-4l9 2l10-5l9-10l10-10l9-10l10 1l9-10l10-5l9-14l9-2l10-15l9-27l10-11l9-12l10-24l9-11l10-16l9-17l10-22l9-26l10-11l9-31l10-14l9-24l10-18l9-20l10-39l9-25l10-47l9-41l10-39l9-43l10-47l9-56l9-47l10-46l9-59l10-59l9-45l10-45l9-62l10-75l9-100l10-83l9-105l10-111l9-107l10-97l9-103l10-93l9-95l10-97l9-100l10-97l9-100l10-101l9-92l10-103l9-98l9-90l10-86l9-100l10-90l9-93l10-73l9-95l10-75l9-74l10-67l9-53l10-55l9-46l10-33l9-35l10-19l9-22l10-3l9-15l10 8l9 15l10 21l9 20l10 32l9 32l9 38l10 42l9 35l10 39l9 50l10 45l9 53l10 50l9 64l10 61l9 67l10 65l9 64l10 71l9 94l10 84l9 90l10 96l9 105l10 100l9 100l10 106l9 112l10 120l9 112l9 120l10 115l9 110l10 120l9 114l10 118l9 121l10 118l9 115l10 121l9 114l10 125l9 118l10 118l9 104l10 102l9 116l10 104l9 89l10 83l9 70l10 52l9 52l10 42l9 33l9 29l10 12l9 15l10 14l9 11l10 1l9 6l10-1l9-6l10-6l9-9l10-21l9-14l10-19l9-26l10-14l9-19l10-36l9-19l10-22l9-30l10-28l9-27l10-30l9-28l9-37l10-32l9-30l10-24l9-36l10-24l9-34l10-31l9-21l10-31l9-26l10-24l9-28l10-29l9-26l10-17l9-28l10-33l9-13l10-24l9-29l10-8l9-19l10-7l9-1l9-11l10 11l9 6l10-2l9 17l10 22l9 16" stroke="none" fill="none" marker-start="url(#m99)" marker-mid="url(#m99)" marker-end="url(#m99)"/><path d="M1797 13934l9 3l10-7l9 2l10 1l9 4l10-10l9 5l10-2l9 1l10 4l9 0l10-1l9-5l10 1l9 9l10-10l9 9l10-4l9-9l10 5l9 1l10 10l9-14l10 3l9-1l9 5l10-2l9-4l10 8l9-12l10 0l9 7l10-1l9-5l10 0l9 3l10-3l9 3l10 2l9-11l10 1l9 7l10-6l9-1l10-6l9 0l10-1l9 7l10-6l9 7l9 1l10-14l9 12l10-10l9 7l10 0l9-11l10 16l9-9l10-3l9 5l10 1l9-1l10-14l9 17l10-4l9-4l10 4l9-10l10 7l9-3l10-2l9 3l10-6l9 7l9-6l10-5l9-1l10 9l9 0l10-16l9 5l10 11l9-13l10 2l9-1l10-5l9 6l10-4l9 4l10-9l9 3l10-3l9 3l10 7l9-7l10 0l9-2l10 4l9-2l9-1l10 2l9-7l10 4l9-10l10 8l9 4l10-9l9-5l10-1l9 8l10-2l9-2l10-4l9 3l10 9l9-17l10 1l9 7l10-5l9 0l10 2l9-6l10 4l9-5l9-4l10-2l9-5l10 6l9-3l10-1l9 4l10 5l9-5l10 3l9-10l10-7l9 3l10-8l9 7l10-11l9 2l10 4l9-6l10 9l9 2l10-9l9-5l10 2l9-1l9 2l10 1l9-6l10-2l9 4l10-9l9-3l10 15l9-11l10 6l9-5l10-4l9-4l10 0l9-2l10 0l9 3l10-6l9 2l10-5l9 2l10-3l9 7l10-10l9 2l9-4l10 1l9-11l10 1l9-5l10 10l9-6l10 2l9 1l10-7l9 4l10-14l9 9l10-5l9 3l10-2l9-1l10-9l9 0l10 1l9 3l10-4l9-4l10 5l9-7l9 8l10-6l9-2l10-3l9-10l10 12l9-9l10 2l9 1l10-4l9 2l10-9l9-2l10 5l9-8l10-1l9 10l10-13l9 1l10-1l9-1l10 3l9-7l10 3l9-14l9 5l10-10l9 3l10-4l9 1l10-2l9-5l10 0l9-6l10 6l9-4l10 0l9-15l10-2l9 4l10-3l9 1l10-3l9-12l10 5l9-1l10-1l9-5l10-3l9 2l9-4l10-6l9 0l10 0l9-5l10-2l9-1l10-2l9-6l10 1l9 0l10-4l9-5l10 0l9-1l10-12l9 8l10-6l9-11l10 5l9-4l10 1l9-9l10 5l9-14l9 2l10-7l9 1l10 1l9-6l10-12l9 2l10-2l9-9l10 9l9-9l10-9l9 5l10-9l9 0l10-11l9 0l10-2l9-1l10-2l9-1l10-5l9 1l10-11l9-6l9-12l10 4l9-9l10 7l9-5l10-9l9 1l10-11l9-4l10 0l9-3l10-5l9-2l10-16l9 3l10-11l9 5l10-17l9 5l10-6l9-8l10-7l9-7l10 0l9 0l9-16l10 2l9-2l10-5l9-9l10 2l9-14l10-5l9-15l10-3l9-2l10 3l9-12l10-10l9-11l10 3l9-14l10-2l9-20l10 0l9-6l10-14l9-5l10-11l9-13l9-8l10-11l9-21l10-5l9-10l10-21l9-9l10-16l9-5l10-15l9-17l10-14l9-9l10-24l9 0l10-21l9-10l10-13l9-13l10-24l9 0l10-7l9-25l10-8l9-12l9-13l10-15l9 1l10-12l9-14l10-5l9-11l10-3l9-12l10-15l9 8l10-25l9 3l10-31l9-5l10-12l9-11l10-1l9-16l10-8l9-19l10-11l9-18l10-11l9-20l9-13l10-19l9-17l10-21l9-22l10-23l9-11l10-27l9-13l10-30l9-13l10-17l9-22l10-23l9-17l10-24l9-22l10-37l9-27l10-33l9-40l10-50l9-35l10-43l9-42l9-59l10-43l9-50l10-53l9-26l10-51l9-47l10-65l9-89l10-96l9-104l10-104l9-102l10-98l9-98l10-90l9-85l10-95l9-90l10-98l9-81l10-101l9-94l10-89l9-93l9-95l10-82l9-91l10-84l9-95l10-81l9-87l10-72l9-79l10-71l9-56l10-61l9-33l10-43l9-51l10-20l9-16l10-28l9-9l10-1l9 4l10 8l9 13l10 15l9 16l9 18l10 17l9 17l10 17l9 15l10 15l9 21l10 20l9 13l10 23l9 32l10 31l9 21l10 49l9 31l10 53l9 64l10 59l9 66l10 58l9 71l10 73l9 69l10 83l9 80l9 89l10 100l9 98l10 108l9 94l10 98l9 76l10 81l9 63l10 63l9 65l10 66l9 54l10 74l9 52l10 60l9 53l10 73l9 107l10 213l9 643l10 472l9 104l10 127l9-95l9 4l10 159l9-89l10-147l9 390l10-214l9 19l10 30l9 17l10-58l9 60l10 19l9-121l10-130l9 186l10-90l9-65l10 207l9-80l10 28l9-67l10-140l9 141l10-209l9-91l9 249l10-125l9-76l10 154l9 59l10-213l9 65l10-110l9 58l10-38l9-21l10-91l9-97l10 62l9-58l10 133l9-283l10 27l9-64l10 130l9 34l10-131l9 130l10-113l9-9l9-24l10-6l9-10l10 3l9 8l10-4l9 28" stroke="none" fill="none" marker-start="url(#m99)" marker-mid="url(#m99)" marker-end="url(#m99)"/></g><rect x="150.2" y="554.0" width="646.8" height="878.0" fill="none" stroke="#000" stroke-width="1.5"/><line x1="179.7" y1="1432.0" x2="179.7" y2="1423.5" stroke="#000" stroke-width="1.5"/><line x1="274.5" y1="1432.0" x2="274.5" y2="1423.5" stroke="#000" stroke-width="1.5"/><line x1="369.3" y1="1432.0" x2="369.3" y2="1423.5" stroke="#000" stroke-width="1.5"/><line x1="464.1" y1="1432.0" x2="464.1" y2="1423.5" stroke="#000" stroke-width="1.5"/><line x1="558.9" y1="1432.0" x2="558.9" y2="1423.5" stroke="#000" stroke-width="1.5"/><line x1="653.7" y1="1432.0" x2="653.7" y2="1423.5" stroke="#000" stroke-width="1.5"/><line x1="748.5" y1="1432.0" x2="748.5" y2="1423.5" stroke="#000" stroke-width="1.5"/><line x1="150.2" y1="1409.6" x2="162.2" y2="1409.6" stroke="#000" stroke-width="1.5"/><line x1="797.0" y1="1409.6" x2="786.0" y2="1409.6" stroke="#000" stroke-width="1.5"/><line x1="150.2" y1="1302.6" x2="162.2" y2="1302.6" stroke="#000" stroke-width="1.5"/><line x1="797.0" y1="1302.6" x2="786.0" y2="1302.6" stroke="#000" stroke-width="1.5"/><line x1="150.2" y1="1195.6" x2="162.2" y2="1195.6" stroke="#000" stroke-width="1.5"/><line x1="797.0" y1="1195.6" x2="786.0" y2="1195.6" stroke="#000" stroke-width="1.5"/><line x1="150.2" y1="1088.5" x2="162.2" y2="1088.5" stroke="#000" stroke-width="1.5"/><line x1="797.0" y1="1088.5" x2="786.0" y2="1088.5" stroke="#000" stroke-width="1.5"/><line x1="150.2" y1="981.5" x2="162.2" y2="981.5" stroke="#000" stroke-width="1.5"/><line x1="797.0" y1="981.5" x2="786.0" y2="981.5" stroke="#000" stroke-width="1.5"/><line x1="150.2" y1="874.5" x2="162.2" y2="874.5" stroke="#000" stroke-width="1.5"/><line x1="797.0" y1="874.5" x2="786.0" y2="874.5" stroke="#000" stroke-width="1.5"/><rect x="644.1" y="686" width="28.8" height="118.6" fill="url(#gcw)"/><rect x="253.1" y="575.8" width="297.6" height="420.0" fill="#fff" stroke="#000" stroke-width="1.5"/><line x1="265.7" y1="995.8" x2="265.7" y2="991.8" stroke="#000" stroke-width="1.5"/><line x1="360.7" y1="995.8" x2="360.7" y2="991.8" stroke="#000" stroke-width="1.5"/><line x1="455.7" y1="995.8" x2="455.7" y2="991.8" stroke="#000" stroke-width="1.5"/><line x1="550.7" y1="995.8" x2="550.7" y2="991.8" stroke="#000" stroke-width="1.5"/><line x1="253.1" y1="983.2" x2="257.1" y2="983.2" stroke="#000" stroke-width="1.5"/><line x1="253.1" y1="919.5" x2="257.1" y2="919.5" stroke="#000" stroke-width="1.5"/><line x1="253.1" y1="855.8" x2="257.1" y2="855.8" stroke="#000" stroke-width="1.5"/><line x1="253.1" y1="792.1" x2="257.1" y2="792.1" stroke="#000" stroke-width="1.5"/><line x1="253.1" y1="728.4" x2="257.1" y2="728.4" stroke="#000" stroke-width="1.5"/><line x1="253.1" y1="664.7" x2="257.1" y2="664.7" stroke="#000" stroke-width="1.5"/><line x1="253.1" y1="601.0" x2="257.1" y2="601.0" stroke="#000" stroke-width="1.5"/><circle cx="267.6" cy="763.7" r="4" fill="#3a56aa"/><circle cx="269.5" cy="751.6" r="4" fill="#3c56a9"/><circle cx="272.3" cy="751.3" r="4" fill="#3e56a8"/><circle cx="275.2" cy="746.9" r="4" fill="#4a57a7"/><circle cx="272.7" cy="739.1" r="4" fill="#575da8"/><circle cx="280.3" cy="737.3" r="4" fill="#6468ad"/><circle cx="284.5" cy="728.4" r="4" fill="#797eba"/><circle cx="289.4" cy="733.5" r="4" fill="#8e94c7"/><circle cx="294.2" cy="725.0" r="4" fill="#9ea8d4"/><circle cx="299.5" cy="720.8" r="4" fill="#aebbe2"/><circle cx="303.7" cy="708.7" r="4" fill="#bec5dd"/><circle cx="308.4" cy="707.3" r="4" fill="#cbcad5"/><circle cx="313.2" cy="705.7" r="4" fill="#d6cbc8"/><circle cx="317.6" cy="697.8" r="4" fill="#dcbeb8"/><circle cx="322.7" cy="694.0" r="4" fill="#e2b0a8"/><circle cx="327.8" cy="694.0" r="4" fill="#e6a19c"/><circle cx="332.2" cy="679.4" r="4" fill="#e99290"/><circle cx="341.4" cy="668.1" r="4" fill="#ea7e7c"/><circle cx="361.2" cy="649.4" r="4" fill="#eb6a68"/><circle cx="384.4" cy="645.0" r="4" fill="#ea5556"/><circle cx="408.2" cy="635.7" r="4" fill="#ea4044"/><circle cx="432.5" cy="636.0" r="4" fill="#ea353a"/><circle cx="454.8" cy="614.1" r="4" fill="#e92a30"/><circle cx="480.0" cy="609.9" r="4" fill="#e92a30"/><circle cx="503.2" cy="642.5" r="4" fill="#e92a30"/><circle cx="526.5" cy="622.0" r="4" fill="#e92a30"/><circle cx="266.6" cy="819.4" r="4" fill="#3a56aa"/><circle cx="270.4" cy="813.8" r="4" fill="#3c56a9"/><circle cx="267.6" cy="815.0" r="4" fill="#3f56a8"/><circle cx="274.6" cy="820.8" r="4" fill="#4c58a6"/><circle cx="280.3" cy="825.1" r="4" fill="#595fa9"/><circle cx="284.7" cy="828.8" r="4" fill="#686db0"/><circle cx="288.8" cy="827.9" r="4" fill="#7e84bd"/><circle cx="293.9" cy="834.4" r="4" fill="#939acb"/><circle cx="298.7" cy="835.8" r="4" fill="#a3aed9"/><circle cx="302.8" cy="834.4" r="4" fill="#b4bfe0"/><circle cx="307.5" cy="834.4" r="4" fill="#c5c9db"/><circle cx="312.7" cy="833.9" r="4" fill="#d0cbcf"/><circle cx="317.0" cy="834.4" r="4" fill="#d9c4c0"/><circle cx="321.8" cy="834.4" r="4" fill="#dfb6af"/><circle cx="327.0" cy="837.2" r="4" fill="#e4a7a1"/><circle cx="331.7" cy="835.8" r="4" fill="#e89894"/><circle cx="341.1" cy="834.4" r="4" fill="#ea8583"/><circle cx="360.0" cy="837.2" r="4" fill="#eb706e"/><circle cx="384.1" cy="845.7" r="4" fill="#eb5a5a"/><circle cx="407.6" cy="841.5" r="4" fill="#ea4448"/><circle cx="432.5" cy="859.0" r="4" fill="#ea373c"/><circle cx="454.8" cy="865.0" r="4" fill="#e92b31"/><circle cx="480.0" cy="865.0" r="4" fill="#e92a30"/><circle cx="502.2" cy="872.4" r="4" fill="#e92a30"/><circle cx="526.0" cy="864.1" r="4" fill="#e92a30"/><text transform="translate(46.70,66.28) scale(0.8246,1)" x="-1.25" y="0" font-size="42.53" font-weight="bold" font-style="normal" fill="#000">a</text><text transform="translate(48.00,543.17) scale(0.9254,1)" x="-2.93" y="0" font-size="44.39" font-weight="bold" font-style="normal" fill="#000">b</text><text transform="translate(123.50,89.50) scale(0.9309,1)" x="-0.73" y="0" font-size="31.98" font-weight="normal" font-style="normal" fill="#231f20">4</text><text transform="translate(123.00,273.80) scale(1.0037,1)" x="-1.63" y="0" font-size="32.37" font-weight="normal" font-style="normal" fill="#231f20">2</text><text transform="translate(122.00,457.89) scale(1.1222,1)" x="-1.25" y="0" font-size="32.06" font-weight="normal" font-style="normal" fill="#231f20">0</text><text transform="translate(169.50,483.69) scale(1.0028,1)" x="-2.45" y="0" font-size="32.20" font-weight="normal" font-style="normal" fill="#231f20">10</text><text transform="translate(313.10,484.00) scale(1.0003,1)" x="-2.49" y="0" font-size="32.65" font-weight="normal" font-style="normal" fill="#231f20">12</text><text transform="translate(456.70,484.00) scale(0.9650,1)" x="-2.52" y="0" font-size="33.14" font-weight="normal" font-style="normal" fill="#231f20">14</text><text transform="translate(600.30,483.69) scale(1.0078,1)" x="-2.45" y="0" font-size="32.20" font-weight="normal" font-style="normal" fill="#231f20">16</text><text transform="translate(743.90,483.69) scale(1.0073,1)" x="-2.45" y="0" font-size="32.20" font-weight="normal" font-style="normal" fill="#231f20">18</text><text transform="translate(79.14,320.00) rotate(-90) scale(0.9487,1)" x="-1.80" y="0" font-size="36.44" font-weight="normal" font-style="italic" fill="#231f20">G</text><text transform="translate(78.20,284.70) rotate(-90) scale(0.6473,1)" x="-2.28" y="0" font-size="36.71" font-weight="normal" font-style="normal" fill="#231f20">(</text><text transform="translate(79.16,274.20) rotate(-90) scale(1.0016,1)" x="-1.47" y="0" font-size="34.68" font-weight="normal" font-style="normal" fill="#231f20">e</text><text transform="translate(65.80,254.70) rotate(-90) scale(0.9735,1)" x="-1.07" y="0" font-size="21.20" font-weight="normal" font-style="normal" fill="#231f20">2</text><text transform="translate(83.64,243.70) rotate(-90) scale(1.0000,1)" x="0.00" y="0" font-size="37.00" font-weight="normal" font-style="normal" fill="#231f20">/</text><text transform="translate(79.00,225.30) rotate(-90) scale(1.0088,1)" x="-2.57" y="0" font-size="37.12" font-weight="normal" font-style="normal" fill="#231f20">h</text><text transform="translate(78.20,204.70) rotate(-90) scale(0.7500,1)" x="-0.22" y="0" font-size="36.71" font-weight="normal" font-style="normal" fill="#231f20">)</text><text transform="translate(430.50,529.60) scale(0.8523,1)" x="-3.27" y="0" font-size="37.79" font-weight="normal" font-style="italic" fill="#231f20">V</text><text transform="translate(450.40,534.34) scale(1.0857,1)" x="-0.30" y="0" font-size="20.02" font-weight="normal" font-style="normal" fill="#231f20">tg</text><text transform="translate(479.80,528.26) scale(0.7133,1)" x="-2.23" y="0" font-size="35.96" font-weight="normal" font-style="normal" fill="#231f20">(</text><text transform="translate(488.00,529.60) scale(0.9367,1)" x="-0.17" y="0" font-size="37.79" font-weight="normal" font-style="normal" fill="#231f20">V</text><text transform="translate(513.30,528.26) scale(0.7237,1)" x="-0.21" y="0" font-size="35.96" font-weight="normal" font-style="normal" fill="#231f20">)</text><text transform="translate(188.00,266.00) scale(0.7267,1)" x="-3.03" y="0" font-size="33.96" font-weight="normal" font-style="normal" fill="#231f20">|</text><text transform="translate(196.20,265.70) scale(0.9609,1)" x="-0.98" y="0" font-size="31.98" font-weight="normal" font-style="italic" fill="#231f20">B</text><text transform="translate(217.00,277.80) scale(1.0653,1)" x="-0.71" y="0" font-size="17.41" font-weight="normal" font-style="normal" fill="#231f20">z</text><text transform="translate(228.20,266.00) scale(0.7267,1)" x="-3.03" y="0" font-size="33.96" font-weight="normal" font-style="normal" fill="#231f20">|</text><text transform="translate(241.40,265.98) scale(0.9007,1)" x="-2.10" y="0" font-size="33.92" font-weight="normal" font-style="normal" fill="#231f20">(</text><text transform="translate(251.20,265.70) scale(1.0564,1)" x="-0.72" y="0" font-size="31.98" font-weight="normal" font-style="normal" fill="#231f20">T</text><text transform="translate(273.20,265.98) scale(0.8340,1)" x="-0.20" y="0" font-size="33.92" font-weight="normal" font-style="normal" fill="#231f20">)</text><text transform="translate(232.60,314.78) scale(1.1529,1)" x="-1.52" y="0" font-size="32.49" font-weight="normal" font-style="normal" fill="#231f20">9</text><text transform="translate(232.60,399.59) scale(1.1353,1)" x="-1.25" y="0" font-size="32.06" font-weight="normal" font-style="normal" fill="#231f20">0</text><text transform="translate(124.20,1419.69) scale(1.1342,1)" x="-1.22" y="0" font-size="31.36" font-weight="normal" font-style="normal" fill="#231f20">0</text><text transform="translate(124.20,1312.98) scale(1.1737,1)" x="-1.60" y="0" font-size="31.79" font-weight="normal" font-style="normal" fill="#231f20">2</text><text transform="translate(124.20,1205.96) scale(1.0455,1)" x="-0.74" y="0" font-size="32.27" font-weight="normal" font-style="normal" fill="#231f20">4</text><text transform="translate(124.20,1098.63) scale(1.1750,1)" x="-1.59" y="0" font-size="31.36" font-weight="normal" font-style="normal" fill="#231f20">6</text><text transform="translate(124.20,991.61) scale(1.1554,1)" x="-1.36" y="0" font-size="31.36" font-weight="normal" font-style="normal" fill="#231f20">8</text><text transform="translate(107.20,884.59) scale(1.0875,1)" x="-2.39" y="0" font-size="31.36" font-weight="normal" font-style="normal" fill="#231f20">10</text><text transform="translate(805.00,1422.09) scale(1.1403,1)" x="-1.25" y="0" font-size="31.92" font-weight="normal" font-style="normal" fill="#231f20">0</text><text transform="translate(805.00,1315.07) scale(1.1813,1)" x="-1.62" y="0" font-size="31.92" font-weight="normal" font-style="normal" fill="#231f20">6</text><text transform="translate(805.00,1208.36) scale(1.1126,1)" x="-2.47" y="0" font-size="32.37" font-weight="normal" font-style="normal" fill="#231f20">12</text><text transform="translate(805.00,1101.03) scale(1.1203,1)" x="-2.43" y="0" font-size="31.92" font-weight="normal" font-style="normal" fill="#231f20">18</text><text transform="translate(805.00,994.32) scale(1.0621,1)" x="-1.63" y="0" font-size="32.37" font-weight="normal" font-style="normal" fill="#231f20">24</text><text transform="translate(805.00,886.99) scale(1.0744,1)" x="-1.22" y="0" font-size="31.92" font-weight="normal" font-style="normal" fill="#231f20">30</text><text transform="translate(153.00,1466.69) scale(1.1042,1)" x="-1.42" y="0" font-size="31.92" font-weight="normal" font-style="normal" fill="#231f20">-30</text><text transform="translate(247.80,1466.69) scale(1.1042,1)" x="-1.42" y="0" font-size="31.92" font-weight="normal" font-style="normal" fill="#231f20">-20</text><text transform="translate(342.60,1466.69) scale(1.1042,1)" x="-1.42" y="0" font-size="31.92" font-weight="normal" font-style="normal" fill="#231f20">-10</text><text transform="translate(456.40,1466.72) scale(1.2330,1)" x="-1.12" y="0" font-size="28.67" font-weight="normal" font-style="normal" fill="#231f20">0</text><text transform="translate(542.10,1466.69) scale(1.1311,1)" x="-2.43" y="0" font-size="31.92" font-weight="normal" font-style="normal" fill="#231f20">10</text><text transform="translate(636.90,1466.69) scale(1.1025,1)" x="-1.61" y="0" font-size="31.92" font-weight="normal" font-style="normal" fill="#231f20">20</text><text transform="translate(731.70,1466.69) scale(1.0895,1)" x="-1.22" y="0" font-size="31.92" font-weight="normal" font-style="normal" fill="#231f20">30</text><text transform="translate(433.70,1510.70) scale(0.8996,1)" x="-3.07" y="0" font-size="35.47" font-weight="normal" font-style="italic" fill="#231f20">V</text><text transform="translate(452.20,1516.90) scale(1.3539,1)" x="-0.26" y="0" font-size="17.33" font-weight="normal" font-style="normal" fill="#231f20">tg</text><text transform="translate(481.70,1510.19) scale(0.7797,1)" x="-2.19" y="0" font-size="35.31" font-weight="normal" font-style="normal" fill="#231f20">(</text><text transform="translate(490.10,1510.70) scale(0.9724,1)" x="-0.16" y="0" font-size="35.47" font-weight="normal" font-style="normal" fill="#231f20">V</text><text transform="translate(516.20,1510.19) scale(0.8117,1)" x="-0.21" y="0" font-size="35.31" font-weight="normal" font-style="normal" fill="#231f20">)</text><text transform="translate(87.00,1167.30) rotate(-90) scale(1.1295,1)" x="-2.30" y="0" font-size="35.65" font-weight="normal" font-style="normal" fill="#231f20">ρ</text><text transform="translate(95.90,1146.10) rotate(-90) scale(0.8574,1)" x="-0.23" y="0" font-size="20.63" font-weight="normal" font-style="normal" fill="#231f20">xx</text><text transform="translate(85.23,1120.40) rotate(-90) scale(0.7028,1)" x="-2.30" y="0" font-size="37.03" font-weight="normal" font-style="normal" fill="#231f20">(</text><text transform="translate(86.00,1108.10) rotate(-90) scale(0.8500,1)" x="-2.52" y="0" font-size="37.40" font-weight="normal" font-style="normal" fill="#231f20">k</text><text transform="translate(86.00,1091.30) rotate(-90) scale(1.0546,1)" x="-1.65" y="0" font-size="38.81" font-weight="normal" font-style="normal" fill="#231f20">Ω</text><text transform="translate(85.23,1061.70) rotate(-90) scale(0.7028,1)" x="-0.22" y="0" font-size="37.03" font-weight="normal" font-style="normal" fill="#231f20">)</text><text transform="translate(888.00,1164.20) rotate(-90) scale(0.8095,1)" x="-1.10" y="0" font-size="35.90" font-weight="normal" font-style="italic" fill="#231f20">R</text><text transform="translate(898.20,1143.50) rotate(-90) scale(0.9309,1)" x="-0.24" y="0" font-size="21.20" font-weight="normal" font-style="normal" fill="#231f20">xx</text><text transform="translate(887.34,1115.40) rotate(-90) scale(0.7131,1)" x="-2.26" y="0" font-size="36.49" font-weight="normal" font-style="normal" fill="#231f20">(</text><text transform="translate(888.00,1103.00) rotate(-90) scale(0.9111,1)" x="-2.44" y="0" font-size="36.16" font-weight="normal" font-style="normal" fill="#231f20">k</text><text transform="translate(888.00,1086.70) rotate(-90) scale(1.1512,1)" x="-1.59" y="0" font-size="37.52" font-weight="normal" font-style="normal" fill="#231f20">Ω</text><text transform="translate(887.34,1054.70) rotate(-90) scale(0.7131,1)" x="-0.21" y="0" font-size="36.49" font-weight="normal" font-style="normal" fill="#231f20">)</text><text transform="translate(638.60,610.70) scale(0.9163,1)" x="-0.97" y="0" font-size="31.54" font-weight="normal" font-style="italic" fill="#231f20">B</text><text transform="translate(657.90,615.00) scale(0.8910,1)" x="-0.84" y="0" font-size="20.82" font-weight="normal" font-style="normal" fill="#231f20">z</text><text transform="translate(676.80,608.67) scale(1.2603,1)" x="-1.21" y="0" font-size="24.82" font-weight="normal" font-style="normal" fill="#231f20">=</text><text transform="translate(703.40,610.70) scale(1.1217,1)" x="-1.46" y="0" font-size="31.07" font-weight="normal" font-style="normal" fill="#231f20">9</text><text transform="translate(729.00,610.70) scale(1.0093,1)" x="-0.71" y="0" font-size="31.54" font-weight="normal" font-style="normal" fill="#231f20">T</text><text transform="translate(655.00,671.40) scale(0.9593,1)" x="-2.66" y="0" font-size="29.65" font-weight="normal" font-style="italic" fill="#231f20">T</text><text transform="translate(684.40,709.01) scale(0.9896,1)" x="-1.12" y="0" font-size="29.52" font-weight="normal" font-style="normal" fill="#231f20">300 K</text><text transform="translate(684.40,804.60) scale(0.9377,1)" x="-1.51" y="0" font-size="29.93" font-weight="normal" font-style="normal" fill="#231f20">2 K</text><text transform="translate(444.40,682.80) scale(0.8423,1)" x="-0.87" y="0" font-size="28.20" font-weight="normal" font-style="italic" fill="#231f20">B</text><text transform="translate(459.40,685.30) scale(0.8847,1)" x="-0.66" y="0" font-size="16.28" font-weight="normal" font-style="normal" fill="#231f20">z</text><text transform="translate(474.50,680.65) scale(1.1276,1)" x="-1.06" y="0" font-size="21.72" font-weight="normal" font-style="normal" fill="#231f20">=</text><text transform="translate(496.40,682.73) scale(0.9153,1)" x="-1.30" y="0" font-size="27.68" font-weight="normal" font-style="normal" fill="#231f20">9T</text><text transform="translate(445.30,912.80) scale(0.8305,1)" x="-0.87" y="0" font-size="28.20" font-weight="normal" font-style="italic" fill="#231f20">B</text><text transform="translate(461.50,915.90) scale(0.7990,1)" x="-0.71" y="0" font-size="17.41" font-weight="normal" font-style="normal" fill="#231f20">z</text><text transform="translate(475.90,910.65) scale(1.0992,1)" x="-1.06" y="0" font-size="21.72" font-weight="normal" font-style="normal" fill="#231f20">=</text><text transform="translate(497.10,912.73) scale(0.9824,1)" x="-1.08" y="0" font-size="27.68" font-weight="normal" font-style="normal" fill="#231f20">0</text><text transform="translate(518.40,912.80) scale(0.8530,1)" x="-0.63" y="0" font-size="28.20" font-weight="normal" font-style="normal" fill="#231f20">T</text><text transform="translate(230.80,989.16) scale(1.1747,1)" x="-0.96" y="0" font-size="24.58" font-weight="normal" font-style="normal" fill="#231f20">0</text><text transform="translate(230.80,925.46) scale(1.1672,1)" x="-1.00" y="0" font-size="24.94" font-weight="normal" font-style="normal" fill="#231f20">5</text><text transform="translate(216.60,861.76) scale(1.1427,1)" x="-1.87" y="0" font-size="24.58" font-weight="normal" font-style="normal" fill="#231f20">10</text><text transform="translate(216.60,798.06) scale(1.1294,1)" x="-1.90" y="0" font-size="24.94" font-weight="normal" font-style="normal" fill="#231f20">15</text><text transform="translate(216.60,734.36) scale(1.1138,1)" x="-1.24" y="0" font-size="24.58" font-weight="normal" font-style="normal" fill="#231f20">20</text><text transform="translate(216.60,670.66) scale(1.1170,1)" x="-1.24" y="0" font-size="24.58" font-weight="normal" font-style="normal" fill="#231f20">25</text><text transform="translate(216.60,606.96) scale(1.1006,1)" x="-0.94" y="0" font-size="24.58" font-weight="normal" font-style="normal" fill="#231f20">30</text><text transform="translate(259.70,1020.88) scale(1.1540,1)" x="-0.90" y="0" font-size="23.02" font-weight="normal" font-style="normal" fill="#231f20">0</text><text transform="translate(338.80,1020.88) scale(1.0962,1)" x="-1.75" y="0" font-size="23.02" font-weight="normal" font-style="normal" fill="#231f20">100</text><text transform="translate(431.00,1020.88) scale(1.1470,1)" x="-1.16" y="0" font-size="23.02" font-weight="normal" font-style="normal" fill="#231f20">200</text><text transform="translate(524.50,1020.88) scale(1.0700,1)" x="-0.88" y="0" font-size="23.02" font-weight="normal" font-style="normal" fill="#231f20">300</text><text transform="translate(197.80,823.70) rotate(-90) scale(0.8445,1)" x="-0.90" y="0" font-size="29.22" font-weight="normal" font-style="italic" fill="#231f20">R</text><text transform="translate(205.00,806.20) rotate(-90) scale(0.9347,1)" x="-0.19" y="0" font-size="16.85" font-weight="normal" font-style="normal" fill="#231f20">xx</text><text transform="translate(197.53,783.50) rotate(-90) scale(0.6853,1)" x="-1.88" y="0" font-size="30.27" font-weight="normal" font-style="normal" fill="#231f20">(</text><text transform="translate(197.80,773.70) rotate(-90) scale(0.9673,1)" x="-1.99" y="0" font-size="29.53" font-weight="normal" font-style="normal" fill="#231f20">k</text><text transform="translate(197.80,759.60) rotate(-90) scale(1.0973,1)" x="-1.35" y="0" font-size="31.79" font-weight="normal" font-style="normal" fill="#231f20">Ω</text><text transform="translate(197.53,734.00) rotate(-90) scale(0.7476,1)" x="-0.18" y="0" font-size="30.27" font-weight="normal" font-style="normal" fill="#231f20">)</text><text transform="translate(363.90,1060.30) scale(0.9595,1)" x="-2.60" y="0" font-size="28.92" font-weight="normal" font-style="italic" fill="#231f20">T</text><text transform="translate(388.00,1059.11) scale(0.9887,1)" x="-1.76" y="0" font-size="28.44" font-weight="normal" font-style="normal" fill="#231f20">(K)</text></svg></body></html>
